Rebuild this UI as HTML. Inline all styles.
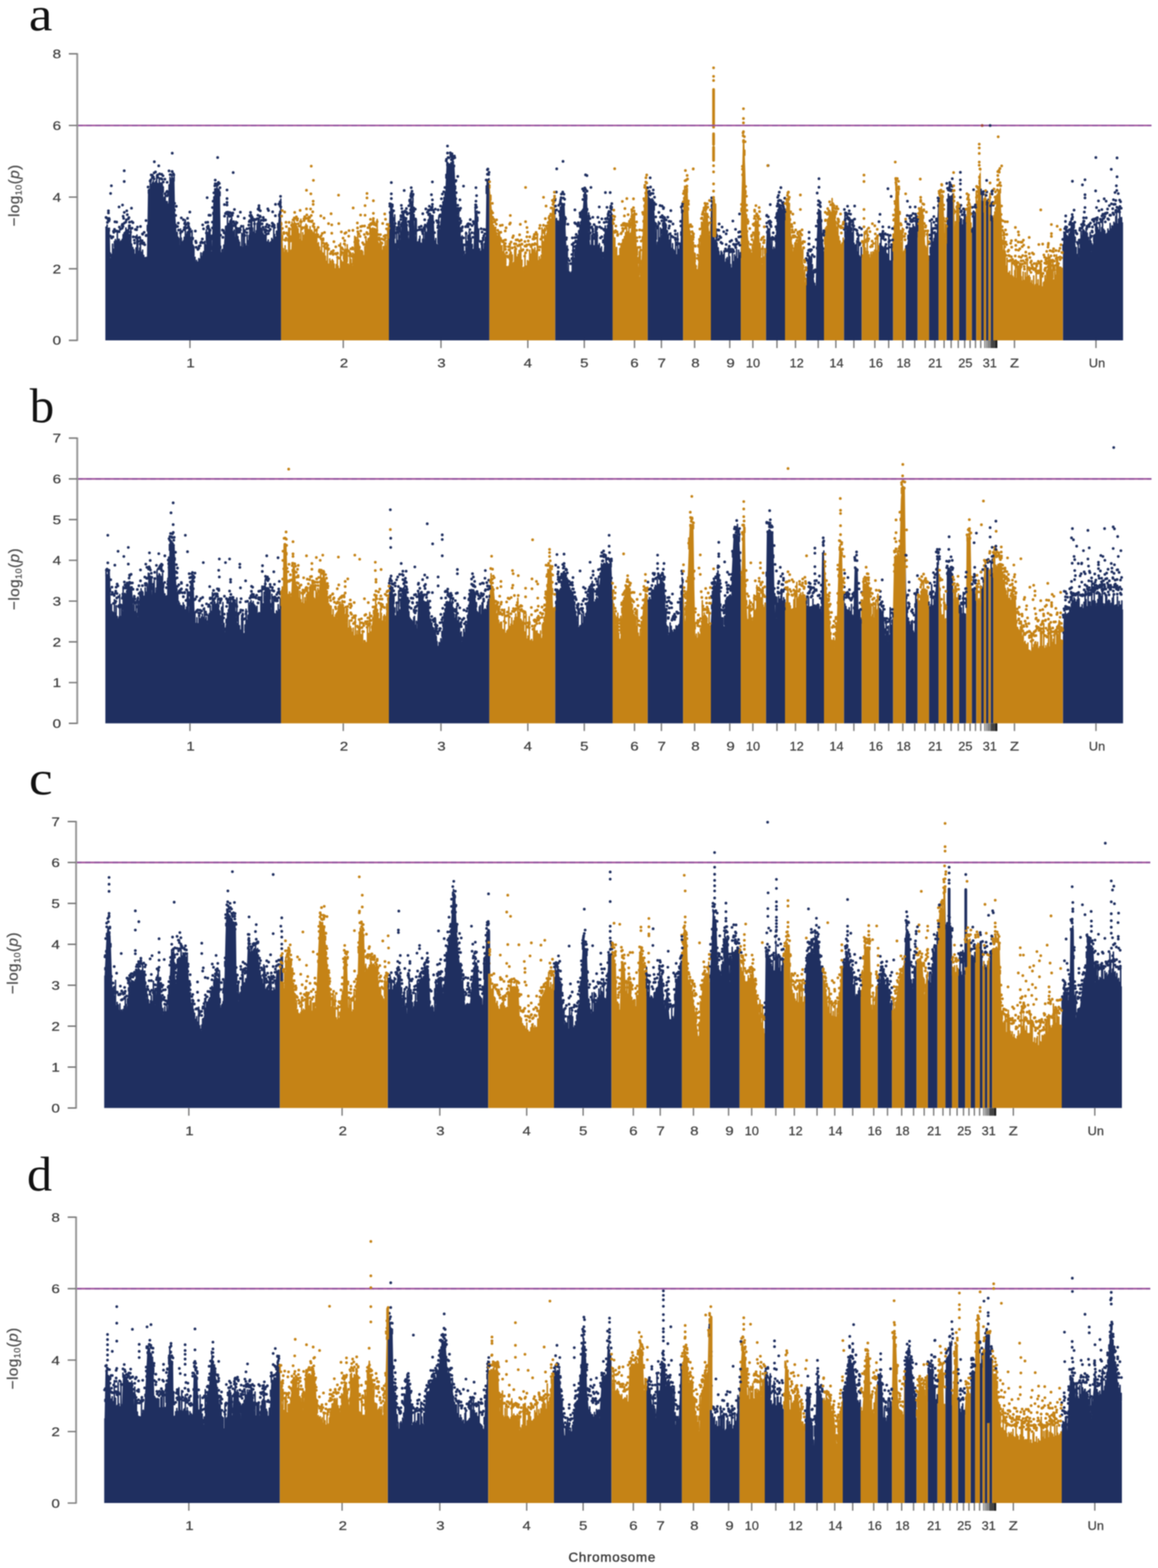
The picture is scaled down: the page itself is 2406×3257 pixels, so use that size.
<!DOCTYPE html>
<html><head><meta charset="utf-8"><title>Manhattan plots</title>
<style>
html,body{margin:0;padding:0;background:#fff;width:2406px;height:3257px;overflow:hidden}
svg{display:block;filter:blur(0.9px)}
.t{font-family:"Liberation Sans","DejaVu Sans",sans-serif;font-size:26.5px;fill:#3c3c3c;stroke:#3c3c3c;stroke-width:0.4px}
.yl{font-family:"Liberation Sans","DejaVu Sans",sans-serif;font-size:32px;fill:#4a4a4a;letter-spacing:0.8px;stroke:#4a4a4a;stroke-width:0.4px}
.xl{font-family:"Liberation Sans","DejaVu Sans",sans-serif;font-size:28px;fill:#383838;letter-spacing:1.4px;stroke:#383838;stroke-width:0.7px}
.L{font-family:"Liberation Serif","DejaVu Serif",serif;font-size:95px;fill:#111}
</style></head><body>
<svg width="2406" height="3257" viewBox="0 0 2406 3257">
<rect width="2406" height="3257" fill="#fff"/>
<path d="M218.9 707.0L218.9 471.1L219.2 471.1L228.0 478.7L229.3 536.3L234.6 523.0L240.0 502.8L247.9 506.8L253.3 504.4L257.3 487.0L266.6 476.5L271.9 505.1L279.9 531.0L287.9 528.4L293.2 536.3L305.2 536.3L307.3 403.2L311.9 387.2L315.9 380.5L338.5 384.4L341.2 435.1L349.2 428.3L352.3 373.9L362.5 373.9L363.8 440.4L367.8 496.2L373.1 515.0L381.1 504.4L391.8 480.4L399.8 516.6L407.7 549.7L418.4 536.1L426.4 521.7L431.7 480.4L439.7 523.0L442.9 424.5L446.4 395.2L457.0 395.2L458.9 523.0L463.7 531.0L467.7 475.1L479.7 459.1L487.7 492.9L495.6 509.7L506.3 517.7L514.3 515.0L522.3 471.2L530.3 494.9L538.3 453.8L546.2 492.5L554.2 517.7L562.2 509.7L572.9 493.4L577.7 467.1L579.8 440.4L583.5 440.4L583.9 446.3L583.9 707.0ZM808.0 707.0L808.0 483.4L809.1 440.4L817.1 440.4L821.1 509.7L826.4 523.0L831.8 494.8L835.8 451.1L845.1 453.4L849.1 496.4L852.5 419.1L858.9 419.1L861.1 473.0L866.4 509.7L874.4 515.0L882.4 509.7L887.7 473.0L891.7 445.8L901.0 449.0L903.7 509.7L909.0 509.7L914.3 467.1L918.3 427.1L925.0 403.2L927.7 341.9L944.2 341.9L946.3 387.2L950.3 440.4L955.6 467.1L959.6 509.7L964.9 536.3L970.3 509.7L974.3 479.2L979.6 502.8L983.6 523.0L986.2 440.4L992.1 440.4L995.6 523.0L999.6 536.3L1004.9 523.0L1008.9 503.1L1010.8 373.9L1016.3 373.9L1016.8 378.9L1016.8 707.0ZM1153.4 707.0L1153.4 434.2L1154.6 453.8L1159.9 468.4L1165.8 421.8L1173.2 424.5L1175.9 493.7L1179.9 563.0L1186.5 576.3L1191.9 546.8L1197.2 507.0L1205.2 467.1L1210.5 440.4L1213.2 403.2L1219.8 413.8L1222.5 469.8L1226.5 509.7L1234.5 523.0L1242.5 510.9L1247.8 523.0L1253.1 536.3L1257.1 489.1L1263.8 461.7L1269.1 445.8L1272.3 445.8L1272.9 453.3L1272.9 707.0ZM1345.5 707.0L1345.5 391.3L1349.0 413.8L1358.3 416.5L1361.0 460.2L1365.0 509.7L1373.0 496.4L1377.8 459.6L1383.6 468.7L1387.6 485.9L1391.6 510.9L1399.6 523.0L1407.6 536.3L1412.9 531.0L1416.1 440.4L1418.8 437.8L1419.2 432.2L1419.2 707.0ZM1477.0 707.0L1477.0 434.6L1477.4 427.1L1479.5 427.1L1486.2 506.3L1495.5 535.6L1506.2 549.7L1516.8 549.7L1520.0 557.7L1528.0 549.7L1536.0 531.9L1538.6 533.3L1539.1 493.6L1539.1 707.0ZM1591.4 707.0L1591.4 516.9L1593.2 477.7L1599.9 475.1L1603.9 523.0L1609.2 528.4L1613.2 471.1L1617.2 427.1L1621.2 424.5L1626.5 440.4L1630.5 456.0L1631.0 452.0L1631.0 707.0ZM1675.0 707.0L1675.0 586.1L1677.1 556.3L1679.8 528.3L1686.5 543.7L1690.5 576.3L1694.5 602.9L1697.1 493.7L1699.8 435.1L1706.4 440.4L1709.1 493.7L1711.8 523.0L1712.0 520.4L1712.0 707.0ZM1753.4 707.0L1753.4 502.5L1758.4 475.7L1767.7 464.4L1771.7 494.0L1775.7 510.9L1781.0 523.0L1786.3 536.3L1790.1 531.0L1790.4 531.4L1790.4 707.0ZM1825.8 707.0L1825.8 519.2L1829.0 515.1L1836.9 518.7L1842.3 541.7L1850.3 544.3L1855.1 536.3L1855.6 522.3L1855.6 707.0ZM1881.7 707.0L1881.7 519.9L1884.9 507.7L1888.9 475.9L1898.2 476.4L1904.9 491.1L1906.6 476.0L1906.6 707.0ZM1930.2 707.0L1930.2 539.8L1934.2 515.0L1940.8 502.1L1946.2 482.8L1949.3 419.1L1950.1 416.8L1950.1 707.0ZM1966.6 707.0L1966.6 480.8L1968.0 416.1L1980.3 407.1L1980.3 707.0ZM1993.0 707.0L1993.0 456.8L1993.3 456.4L1996.7 469.8L1998.6 477.7L2006.6 460.4L2007.6 461.0L2007.6 707.0ZM2019.2 707.0L2019.2 479.6L2019.9 483.1L2025.2 461.8L2028.3 440.5L2028.3 707.0ZM2038.4 707.0L2038.4 395.6L2038.8 416.1L2043.6 425.0L2043.9 429.9L2043.9 707.0ZM2048.6 707.0L2048.6 431.2L2049.2 422.0L2053.5 422.0L2053.7 428.1L2053.7 707.0ZM2058.5 707.0L2058.5 449.5L2059.1 456.4L2063.8 456.4L2063.8 707.0ZM2208.4 707.0L2208.4 535.4L2209.5 480.4L2219.7 493.7L2226.3 461.7L2231.6 467.1L2235.6 523.0L2241.0 536.3L2246.3 500.0L2251.6 475.4L2256.9 492.8L2262.3 496.4L2267.6 523.0L2272.9 496.4L2278.3 469.9L2283.6 483.0L2288.9 483.1L2296.9 488.4L2304.9 480.4L2312.9 470.8L2320.9 466.9L2328.9 461.8L2333.4 461.8L2333.4 461.8L2333.4 707.0Z" fill="#1f2f60"/>
<path d="M583.9 707.0L583.9 446.3L588.9 525.7L604.8 525.7L607.5 467.1L615.5 467.1L626.2 509.7L636.8 468.1L640.0 476.8L648.0 481.6L656.0 494.6L664.0 517.3L672.0 534.1L680.0 547.0L693.3 557.7L703.9 563.0L711.9 549.5L717.2 508.6L722.6 549.7L730.6 563.0L738.5 509.9L743.9 488.4L749.2 521.9L757.2 536.3L765.2 503.3L770.5 475.1L781.2 479.8L786.5 523.0L794.5 536.3L802.5 511.9L807.8 491.1L808.0 483.4L808.0 707.0ZM1016.8 707.0L1016.8 378.9L1024.9 467.9L1031.5 482.4L1039.5 509.9L1047.5 536.3L1055.5 563.0L1060.8 516.4L1066.2 549.7L1076.8 530.6L1080.0 530.3L1088.0 563.0L1096.0 549.7L1104.0 529.4L1114.6 530.7L1120.0 549.7L1126.6 521.5L1133.3 497.9L1141.3 467.4L1147.9 440.4L1153.0 427.1L1153.4 434.2L1153.4 707.0ZM1272.9 707.0L1272.9 453.3L1278.4 523.0L1285.1 536.3L1293.1 504.0L1301.1 483.2L1309.1 494.9L1313.8 448.4L1319.7 451.1L1323.7 523.0L1329.0 576.3L1333.0 536.3L1337.0 440.4L1341.0 392.5L1345.3 389.8L1345.5 391.3L1345.5 707.0ZM1419.2 707.0L1419.2 432.2L1421.7 397.8L1428.9 397.8L1431.6 467.1L1436.9 493.7L1442.2 531.0L1448.9 563.0L1452.9 523.0L1458.2 467.1L1463.5 445.8L1470.2 445.8L1474.2 489.2L1477.0 434.6L1477.0 707.0ZM1539.1 707.0L1539.1 493.6L1539.7 440.4L1541.8 360.5L1543.4 294.0L1546.6 294.0L1548.8 360.5L1550.6 440.4L1553.3 481.5L1557.3 523.0L1560.0 536.3L1565.3 507.8L1569.3 456.4L1575.9 467.1L1579.9 523.0L1583.9 549.7L1589.2 523.0L1591.1 523.0L1591.4 516.9L1591.4 707.0ZM1631.0 707.0L1631.0 452.0L1634.5 421.8L1641.2 427.1L1643.8 487.5L1647.8 523.0L1655.8 510.3L1661.2 493.7L1665.2 499.0L1669.2 549.7L1673.1 589.6L1674.7 589.6L1675.0 586.1L1675.0 707.0ZM1712.0 707.0L1712.0 520.4L1715.8 477.7L1722.4 451.1L1730.4 435.1L1735.7 452.0L1741.1 489.5L1746.4 509.7L1753.1 504.4L1753.4 502.5L1753.4 707.0ZM1790.4 707.0L1790.4 531.4L1794.3 536.3L1802.3 519.0L1810.3 549.7L1815.6 531.0L1823.6 522.3L1825.5 519.6L1825.8 519.2L1825.8 707.0ZM1855.6 707.0L1855.6 522.3L1857.7 467.1L1860.9 392.5L1867.6 403.2L1870.2 483.4L1874.2 525.7L1880.9 523.0L1881.7 519.9L1881.7 707.0ZM1906.6 707.0L1906.6 476.0L1908.9 456.4L1912.9 429.8L1918.2 440.4L1922.2 506.7L1927.5 536.3L1929.9 541.7L1930.2 539.8L1930.2 707.0ZM1950.1 707.0L1950.1 416.8L1952.8 408.5L1959.5 408.5L1960.0 405.8L1962.6 483.1L1966.1 504.4L1966.6 480.8L1966.6 707.0ZM1980.3 707.0L1980.3 407.1L1982.1 405.8L1983.9 469.8L1993.0 456.8L1993.0 707.0ZM2007.6 707.0L2007.6 461.0L2007.9 461.2L2011.9 432.5L2017.2 469.8L2019.2 479.6L2019.2 707.0ZM2028.3 707.0L2028.3 440.5L2029.2 434.1L2037.5 349.9L2038.4 395.6L2038.4 707.0ZM2043.9 707.0L2043.9 429.9L2044.4 438.3L2048.1 438.3L2048.6 431.2L2048.6 707.0ZM2053.7 707.0L2053.7 428.1L2054.3 442.4L2058.0 443.1L2058.5 449.5L2058.5 707.0ZM2063.8 707.0L2063.8 456.4L2064.9 456.4L2070.5 419.1L2073.2 395.2L2078.5 397.8L2082.5 493.7L2086.5 543.3L2094.5 568.3L2105.1 576.3L2115.8 584.3L2126.4 584.3L2139.8 589.6L2153.1 597.6L2166.4 600.3L2174.4 589.6L2179.7 561.9L2185.0 560.3L2190.4 589.6L2198.4 576.3L2203.7 558.1L2207.9 557.5L2208.4 535.4L2208.4 707.0Z" fill="#c58316"/>
<path d="M220.4 471.6V474.1M222.6 467.3V476.0M224.8 474.3V478.0M227.2 473.8V480.1M229.2 525.4V532.9M231.5 528.7V532.8M233.9 507.2V526.9M236.0 517.4V520.0M237.8 501.6V512.9M239.9 497.5V504.9M242.3 500.5V505.9M243.8 482.3V506.7M246.1 497.1V507.8M247.8 497.1V508.7M249.3 502.3V508.1M251.6 500.4V507.1M253.9 497.1V503.7M255.8 487.3V495.2M257.9 483.5V488.3M259.9 481.5V486.0M261.6 473.4V484.1M264.0 477.3V481.4M265.8 477.4V479.4M267.4 468.2V483.0M269.3 487.1V493.1M271.7 475.8V505.8M273.5 506.8V512.3M276.0 514.1V520.4M278.3 518.6V528.0M280.7 528.4V532.7M282.6 514.8V532.1M284.6 488.0V531.4M286.2 494.3V530.9M288.7 521.9V531.5M290.3 515.0V533.9M291.8 495.1V536.2M294.3 523.8V538.3M296.3 519.5V538.3M298.6 530.6V538.3M300.2 535.1V538.3M302.5 535.1V538.3M304.3 534.5V538.3M306.1 468.2V479.6M308.4 394.7V401.4M310.1 393.0V395.2M312.2 379.0V388.6M314.3 382.9V385.2M316.4 379.5V382.6M318.6 375.7V383.0M321.0 380.1V383.4M323.4 376.8V383.8M325.5 363.6V384.1M327.1 380.8V384.4M329.1 381.7V384.8M330.9 369.1V385.1M333.1 380.1V385.4M335.4 380.5V385.8M337.0 378.7V386.1M339.2 388.0V399.0M341.3 409.9V437.0M343.3 402.3V435.3M345.6 418.7V433.4M347.2 418.8V432.0M349.2 424.1V430.0M351.3 383.8V394.3M353.2 368.4V375.9M355.0 373.8V375.9M357.3 364.7V375.9M359.4 371.8V375.9M361.7 367.1V375.9M363.7 435.2V437.8M366.0 466.4V472.5M368.1 482.5V499.4M370.0 492.6V506.0M371.8 495.2V512.3M373.6 510.4V516.4M375.1 475.6V514.3M376.8 494.4V512.1M378.9 502.4V509.3M381.2 499.8V506.2M382.8 492.8V502.6M385.1 456.5V497.4M387.1 486.9V492.9M388.9 481.9V488.8M390.8 480.7V484.7M392.4 473.5V485.3M394.7 483.3V495.9M397.0 495.4V506.0M399.1 478.8V515.7M401.0 509.2V523.6M402.9 512.2V531.6M405.1 534.3V540.9M406.7 543.8V547.3M408.3 540.9V550.9M410.6 544.6V548.0M413.0 537.2V545.0M415.1 538.6V542.3M417.3 525.2V539.5M419.3 532.9V536.5M421.1 525.7V533.2M422.9 522.7V529.9M425.4 501.4V525.5M427.0 507.9V518.7M428.9 477.3V504.3M430.6 488.4V491.3M432.3 483.1V485.7M434.0 476.4V494.6M436.4 477.1V507.2M438.6 490.2V519.1M440.6 488.6V497.3M442.3 441.7V445.2M444.3 408.9V414.3M446.3 392.2V398.2M448.5 391.8V397.2M450.9 384.8V397.2M453.1 392.5V397.2M455.2 393.8V397.2M457.2 398.5V406.5M458.7 511.4V515.7M461.2 518.7V528.9M463.3 518.1V532.3M464.9 509.4V516.4M467.0 482.4V485.9M468.7 470.2V475.8M471.1 469.1V472.5M472.7 450.4V470.4M475.0 464.3V467.3M477.5 459.0V464.0M479.3 455.9V461.6M481.4 452.2V468.6M483.0 465.7V475.3M484.9 481.4V483.5M486.8 477.6V491.2M488.3 493.2V496.3M490.2 459.5V500.3M492.1 477.3V504.2M494.3 491.3V508.8M495.8 498.5V511.8M497.8 503.1V513.3M500.0 512.5V515.0M502.3 484.5V516.7M504.3 514.2V518.2M505.8 468.6V519.3M507.8 482.9V519.2M509.4 506.5V518.7M511.2 511.0V518.1M513.5 487.9V517.3M516.0 499.9V507.9M517.5 488.9V499.3M519.1 474.9V490.8M521.3 445.0V478.7M523.1 446.5V475.7M524.8 473.4V480.7M526.3 482.4V485.2M528.7 454.4V492.2M530.7 485.3V494.7M532.5 479.0V485.2M534.2 463.7V476.6M536.4 454.9V465.3M538.5 450.7V456.8M541.0 459.6V468.9M542.8 474.0V478.0M545.1 476.2V489.1M546.9 485.7V496.6M549.0 488.2V503.1M550.9 488.7V509.1M552.7 483.7V514.9M555.0 502.5V518.9M557.5 498.6V516.4M559.8 504.4V514.1M562.1 502.3V511.9M564.5 495.0V508.2M566.4 498.2V505.3M568.8 464.5V501.6M570.5 487.0V499.0M572.8 492.6V495.5M574.4 480.1V487.3M576.8 464.2V473.6M579.3 444.8V449.4M581.3 438.9V442.4M583.3 413.7V442.4M809.5 440.0V442.4M811.9 431.3V442.4M813.5 434.6V442.4M815.9 435.6V442.4M818.0 452.3V457.9M820.1 446.3V494.8M821.8 506.5V513.5M824.1 471.3V519.2M826.1 499.9V524.1M828.3 461.5V515.0M829.9 489.5V506.6M832.0 465.7V493.8M834.2 462.0V470.4M836.6 445.1V453.3M839.0 444.2V453.9M841.2 450.9V454.4M842.8 452.5V454.8M844.8 452.2V455.3M846.3 466.6V468.7M848.1 481.6V488.1M850.3 459.1V470.9M851.8 434.6V437.2M853.9 410.9V421.1M855.6 419.0V421.1M857.9 410.7V421.1M860.4 445.6V457.2M862.7 458.5V486.3M865.0 456.5V502.2M866.6 503.2V511.8M868.9 502.0V513.4M870.8 497.1V514.6M872.4 490.7V515.7M874.8 505.1V516.8M876.4 510.7V515.7M878.0 496.9V514.6M880.0 484.9V513.3M881.8 497.8V512.1M883.6 471.2V503.0M885.4 482.6V491.1M887.8 463.1V474.3M889.7 456.4V461.3M891.7 442.9V447.8M894.1 443.4V448.6M895.8 447.1V449.2M897.4 447.1V449.8M899.7 447.6V450.6M901.6 460.3V463.3M903.8 500.6V511.7M905.4 495.3V511.7M907.7 507.8V511.7M909.9 478.8V504.5M911.6 450.8V491.3M914.0 469.3V472.1M916.2 446.6V450.6M918.1 428.5V431.6M920.2 419.0V422.3M922.4 410.1V414.4M924.6 398.8V406.5M926.5 362.4V369.8M928.6 336.1V343.9M930.6 338.1V343.9M933.1 340.7V343.9M934.8 341.1V343.9M936.8 337.8V343.9M938.4 337.9V343.9M940.0 330.2V343.9M941.9 335.1V343.9M944.3 343.4V346.1M946.6 386.4V392.8M948.2 411.7V414.1M950.6 435.9V444.0M953.0 442.8V456.0M955.3 464.3V467.3M956.9 473.1V482.6M958.6 492.8V501.2M960.3 489.8V515.0M962.6 507.0V526.6M964.8 522.4V537.8M966.4 529.0V531.3M968.1 482.2V522.5M970.5 501.0V509.6M972.3 488.8V496.0M974.8 480.6V483.5M977.1 485.5V493.9M979.1 494.8V502.7M981.3 507.7V513.3M983.1 518.2V522.5M984.8 482.7V486.1M987.3 433.3V442.4M989.3 439.0V442.4M991.2 438.2V442.4M992.8 451.0V459.6M994.5 478.8V500.4M996.4 516.7V527.9M998.5 522.1V534.8M1000.7 509.4V535.6M1002.4 505.2V531.3M1004.6 518.0V525.8M1006.1 505.9V519.1M1008.3 493.2V508.2M1010.4 386.2V401.7M1012.0 373.5V375.9M1013.8 372.5V375.9M1016.0 371.1V375.9M1153.9 435.7V443.9M1156.3 453.8V460.7M1158.8 458.9V467.5M1160.7 460.0V464.0M1162.6 439.7V448.7M1164.3 430.3V435.7M1166.3 421.2V424.0M1168.6 422.6V424.8M1171.0 423.3V425.7M1172.7 422.8V426.3M1174.8 458.4V467.1M1177.1 515.0V517.0M1178.7 510.7V545.4M1180.9 546.7V567.0M1183.3 564.8V571.9M1185.5 567.4V576.3M1187.5 564.5V572.9M1189.1 534.5V564.3M1190.6 503.8V555.6M1192.5 535.5V544.1M1194.1 518.9V531.8M1196.0 509.6V518.2M1198.1 502.4V504.5M1200.2 489.4V494.2M1202.3 479.2V483.7M1204.6 467.0V472.2M1206.4 460.8V463.2M1208.3 438.2V453.7M1210.7 434.9V439.8M1212.9 404.1V408.8M1214.9 399.0V407.9M1216.6 398.9V410.6M1218.9 405.1V414.4M1220.8 433.4V436.8M1223.2 442.1V479.2M1225.1 462.3V497.7M1227.2 509.9V512.9M1229.2 488.4V516.3M1231.7 484.1V520.3M1233.4 510.5V523.3M1235.2 510.5V524.0M1236.9 468.6V521.4M1238.9 476.7V518.4M1240.8 482.7V515.5M1243.0 509.9V514.2M1245.4 505.9V519.7M1247.3 516.5V523.8M1249.7 512.9V529.9M1251.3 524.7V533.8M1253.5 524.3V533.7M1255.7 487.5V508.5M1257.6 469.0V489.0M1260.1 475.9V478.8M1262.1 468.3V470.6M1263.8 459.7V463.7M1265.5 454.0V458.7M1267.5 448.4V452.5M1269.9 440.3V447.8M1271.6 444.6V447.8M1346.8 397.3V401.3M1348.6 410.9V413.0M1350.9 413.2V416.4M1352.9 414.3V416.9M1355.0 412.6V417.5M1357.2 415.3V418.2M1359.4 424.3V436.5M1361.6 462.0V470.1M1363.8 464.2V496.9M1366.2 503.2V509.7M1368.1 460.0V506.6M1370.5 494.1V502.5M1372.3 473.6V499.5M1374.8 476.3V484.5M1376.8 463.4V468.9M1379.1 454.6V463.6M1380.6 458.7V466.0M1382.5 463.4V469.0M1384.2 466.6V473.3M1386.6 478.8V483.4M1388.8 486.9V495.2M1390.3 498.3V504.8M1391.9 502.5V513.3M1393.5 483.9V515.8M1395.1 515.9V518.3M1397.5 506.2V521.8M1399.7 518.6V525.2M1402.1 521.4V529.2M1403.7 498.3V531.8M1405.7 529.5V535.2M1408.0 483.9V537.9M1410.5 518.0V535.4M1412.5 508.3V533.5M1414.5 481.8V488.7M1416.4 434.3V442.1M1418.7 436.8V439.8M1478.0 426.7V429.1M1480.3 434.4V437.9M1482.5 455.0V464.3M1484.4 482.9V486.6M1486.1 499.2V507.2M1488.2 475.5V514.6M1489.7 504.4V519.5M1492.2 514.7V527.2M1493.7 522.4V532.1M1496.0 530.8V538.3M1498.3 521.5V541.4M1500.1 524.6V543.7M1502.3 529.7V546.6M1504.7 524.6V549.7M1506.6 545.1V551.7M1508.9 537.8V551.7M1510.9 534.9V551.7M1512.8 540.7V551.7M1514.4 510.5V551.7M1516.1 533.1V551.7M1517.8 549.3V554.1M1519.9 556.9V559.4M1521.9 516.3V557.7M1524.0 543.7V555.7M1526.2 529.0V553.4M1528.0 533.3V551.7M1530.4 518.1V546.3M1532.8 537.6V541.0M1534.6 519.7V537.0M1536.1 531.0V534.0M1538.1 524.7V535.0M1593.1 480.8V483.8M1595.3 473.9V478.9M1597.1 475.9V478.2M1599.4 475.0V477.3M1601.6 494.2V497.8M1603.9 495.1V524.6M1606.3 518.5V527.4M1607.8 513.5V529.0M1609.5 517.7V527.1M1611.2 489.3V501.7M1612.9 473.4V477.9M1614.4 448.4V460.1M1616.2 435.7V439.9M1617.8 425.8V428.7M1619.9 424.5V427.3M1621.9 425.5V428.5M1623.9 431.4V434.6M1626.0 437.3V440.7M1628.1 418.8V448.4M1630.2 438.3V456.7M1676.1 570.2V573.2M1678.2 542.1V547.4M1679.7 529.5V531.7M1682.0 531.5V535.4M1684.2 534.3V540.5M1686.3 530.9V545.3M1687.9 549.6V557.1M1690.2 560.3V575.9M1692.6 588.7V592.7M1694.2 594.7V603.1M1696.6 513.8V516.8M1698.6 456.8V463.0M1700.6 434.8V437.7M1702.7 436.5V439.5M1704.9 438.5V441.2M1707.3 456.7V460.3M1709.6 498.0V501.0M1711.1 515.2V517.6M1753.6 500.4V503.4M1755.7 441.7V492.0M1757.3 481.3V483.6M1758.8 463.0V477.2M1760.9 470.1V474.6M1763.2 463.1V471.8M1764.8 455.7V470.0M1767.0 456.2V467.3M1769.4 473.2V479.1M1771.3 483.1V493.2M1772.9 455.5V501.0M1774.4 504.9V507.6M1776.7 508.9V515.2M1778.5 508.3V519.4M1780.1 499.6V522.8M1781.7 523.5V526.8M1783.7 489.1V531.6M1785.6 531.3V536.5M1787.7 534.4V536.5M1789.5 513.9V533.8M1826.8 515.6V519.9M1828.3 506.0V518.0M1830.4 494.5V517.7M1832.4 511.7V518.6M1834.1 513.0V519.4M1836.1 514.8V520.3M1838.2 511.4V526.0M1840.4 511.3V535.7M1842.4 526.5V543.7M1844.3 528.6V544.4M1846.7 491.1V545.1M1848.4 541.8V545.7M1850.2 542.3V546.3M1852.5 509.1V542.6M1854.1 508.8V540.0M1882.2 510.9V520.1M1884.2 509.7V512.4M1886.5 488.9V496.6M1888.3 480.2V482.7M1889.9 472.0V478.0M1891.5 474.4V478.0M1893.7 473.4V478.1M1895.7 473.3V478.2M1897.2 466.1V478.3M1899.6 470.9V481.4M1901.5 473.0V485.6M1903.2 443.5V489.3M1904.8 476.3V492.8M1906.4 448.9V479.7M1930.5 531.8V540.2M1932.7 514.0V526.1M1935.0 462.4V515.5M1936.8 480.7V511.9M1939.1 502.6V507.4M1940.9 495.4V503.9M1942.7 481.0V497.2M1944.9 484.7V489.3M1946.7 469.8V473.8M1948.9 425.9V429.1M1968.0 413.9V418.0M1970.4 403.1V416.3M1972.5 407.7V414.8M1974.2 411.0V413.5M1975.9 407.2V412.3M1977.4 406.9V411.2M1979.5 402.9V409.7M1994.2 448.9V461.9M1995.9 455.0V468.7M1997.7 454.2V475.9M1999.8 467.7V477.2M2001.8 456.7V472.7M2003.7 433.2V468.6M2005.8 445.5V464.0M2019.3 476.0V481.9M2020.9 473.3V481.2M2022.8 438.3V473.6M2024.7 450.5V465.7M2026.4 441.7V455.9M2038.5 393.0V403.7M2040.8 405.0V421.8M2042.7 418.9V425.3M2049.1 419.4V425.6M2050.8 416.7V424.0M2053.2 413.6V424.0M2059.0 423.4V458.0M2061.2 448.9V458.4M2063.3 452.9V458.4M2208.8 508.3V519.6M2210.7 481.8V483.9M2212.9 482.8V486.8M2214.4 476.8V488.8M2216.8 489.2V491.9M2219.3 491.4V495.2M2221.0 486.1V489.2M2223.2 475.3V478.8M2225.4 454.7V468.2M2227.9 462.9V465.3M2229.9 463.0V467.3M2232.0 460.9V473.3M2234.0 492.6V502.4M2236.0 514.1V525.9M2238.0 528.5V531.0M2240.3 503.0V536.8M2242.5 516.3V527.7M2244.6 496.5V513.7M2246.1 479.5V503.2M2248.1 489.0V493.8M2249.6 478.9V486.7M2251.1 477.2V479.7M2253.1 479.5V482.1M2255.3 482.6V489.3M2257.0 474.7V494.8M2259.0 484.3V496.2M2261.5 493.0V497.9M2263.3 500.6V503.4M2265.0 483.0V511.9M2266.7 500.5V520.7M2268.4 506.0V521.2M2270.1 509.8V512.6M2272.3 488.8V501.6M2274.3 487.6V491.4M2276.6 465.3V480.3M2278.4 461.1V472.2M2280.7 472.6V477.9M2282.9 477.9V483.2M2285.0 465.9V485.0M2287.0 482.8V485.1M2289.0 472.7V485.1M2290.8 453.2V486.3M2293.1 476.1V487.9M2295.5 479.2V489.5M2297.4 486.9V489.9M2299.8 484.8V487.5M2301.9 475.6V485.4M2304.2 479.9V483.1M2306.6 464.2V480.3M2308.6 475.8V478.0M2310.4 469.2V475.8M2312.6 470.0V473.2M2314.2 461.6V472.2M2316.5 464.4V471.0M2318.3 449.7V470.2M2320.0 435.1V469.3M2321.6 465.4V468.4M2324.1 455.1V466.9M2326.4 433.2V465.3M2328.5 452.3V464.0M2330.3 451.9V463.8" fill="none" stroke="#1f2f60" stroke-width="3.2" stroke-linecap="round"/>
<path d="M585.1 462.6V467.8M587.1 489.0V499.0M588.7 516.6V524.7M590.2 524.6V527.7M592.3 510.3V527.7M594.1 521.9V527.7M595.6 519.6V527.7M597.9 525.2V527.7M599.8 473.7V527.7M601.6 473.7V527.7M603.2 521.0V527.7M604.9 519.5V527.0M606.7 460.9V487.4M609.1 464.8V469.1M611.4 454.9V469.1M613.6 463.6V469.1M615.6 464.3V469.6M617.2 470.5V475.8M619.4 475.1V484.6M621.6 485.7V493.6M623.3 497.0V500.4M625.1 455.0V507.3M626.9 501.1V508.7M629.0 483.1V500.5M631.4 489.2V491.2M633.8 469.8V481.9M635.8 465.5V474.2M638.3 468.6V474.1M640.7 476.5V479.3M642.6 478.1V480.4M644.3 470.6V481.4M646.0 478.5V482.5M647.6 478.3V483.4M649.2 481.6V485.6M651.1 484.2V488.7M653.2 472.8V492.2M655.6 486.0V496.1M658.1 475.5V502.5M660.0 506.0V508.2M661.7 504.2V512.8M664.0 513.1V519.5M666.2 521.2V524.1M668.2 499.7V528.3M670.4 525.0V532.8M672.2 527.1V536.5M674.1 504.9V539.5M676.1 532.2V542.8M678.1 542.8V546.0M680.3 514.9V549.2M682.7 548.9V551.2M685.0 537.6V553.0M687.1 542.2V554.7M688.6 550.7V555.9M690.4 539.3V557.3M692.4 542.0V559.0M694.3 548.6V560.2M696.6 558.7V561.3M698.6 549.3V562.3M700.9 533.9V563.5M702.5 552.9V564.3M705.0 558.1V563.2M707.5 505.0V559.0M709.3 541.0V555.9M711.6 544.7V552.1M713.7 528.9V537.8M715.3 519.1V525.5M717.2 506.1V510.6M719.5 518.2V528.2M721.5 508.3V543.2M723.5 548.3V553.2M725.1 551.4V555.9M727.1 523.6V559.2M729.0 538.8V562.4M731.0 547.8V562.2M733.1 525.4V548.0M735.2 527.8V534.1M737.0 490.8V521.9M739.3 498.0V508.8M741.0 498.0V502.0M743.3 483.5V492.8M745.6 498.8V501.2M747.8 512.1V515.4M750.3 520.2V525.9M751.9 520.3V528.8M753.6 522.7V531.8M755.6 531.0V535.5M758.0 512.7V535.0M760.3 496.6V525.5M762.8 501.6V515.2M764.7 495.8V507.5M766.7 494.6V497.1M768.6 470.8V486.9M770.2 474.2V478.7M772.1 475.1V477.8M774.6 473.3V478.9M776.7 475.1V479.8M778.2 474.6V480.5M779.8 475.0V481.2M781.9 482.2V487.8M783.7 455.5V502.1M785.6 503.0V518.0M787.5 506.3V526.8M789.9 500.7V530.8M792.4 502.5V534.9M794.7 520.1V537.7M796.3 512.2V532.7M798.4 512.2V526.3M800.2 494.2V520.7M802.0 511.2V515.3M803.8 499.4V508.8M805.7 479.7V501.3M807.4 467.8V494.6M1017.7 384.4V390.5M1019.9 405.5V415.5M1022.3 437.4V441.5M1024.3 460.7V463.3M1025.8 468.0V471.9M1028.2 472.4V477.2M1029.8 471.8V480.6M1032.0 483.3V486.0M1034.2 490.0V493.5M1036.1 480.5V500.0M1037.7 481.6V505.6M1039.3 501.4V511.2M1041.0 511.2V516.9M1042.7 510.4V522.5M1044.8 523.1V529.4M1046.9 498.0V536.2M1048.8 527.5V542.7M1050.8 529.8V549.2M1053.1 553.5V557.0M1054.7 556.5V562.2M1056.4 553.3V557.0M1058.5 528.2V539.1M1060.0 509.5V525.9M1062.3 524.0V527.7M1064.5 529.7V541.4M1067.0 545.3V550.2M1069.3 518.7V546.1M1071.8 519.3V541.6M1074.0 533.8V537.7M1076.5 528.6V533.3M1078.8 520.0V532.4M1080.5 527.4V534.4M1082.1 513.8V540.7M1084.5 540.4V550.9M1086.3 556.0V558.1M1088.7 554.9V563.8M1090.8 525.6V560.4M1092.4 553.2V557.6M1094.2 552.5V554.6M1095.9 541.0V551.9M1098.1 543.0V546.2M1100.4 519.6V540.4M1102.8 527.8V534.3M1105.1 515.7V531.6M1107.6 518.1V531.8M1109.4 520.4V532.1M1111.2 514.7V532.3M1113.4 525.9V532.6M1114.9 520.9V533.7M1116.5 485.7V539.5M1118.6 541.5V546.7M1120.7 533.3V548.4M1122.3 539.3V541.7M1124.4 530.1V532.8M1126.2 473.4V525.2M1128.4 501.5V517.3M1130.1 506.6V511.2M1131.6 473.5V505.8M1134.1 489.7V496.8M1135.9 485.3V490.0M1137.5 477.2V483.8M1139.7 471.5V475.4M1141.7 454.9V467.8M1143.5 457.3V460.3M1146.0 444.3V450.2M1148.2 430.8V441.8M1150.1 434.6V436.7M1151.8 426.5V432.2M1273.5 458.5V462.9M1275.1 480.9V483.5M1277.4 494.2V512.4M1279.6 514.4V527.5M1281.2 514.1V530.6M1283.6 531.8V535.4M1286.1 530.7V534.4M1287.9 516.2V526.8M1290.2 506.6V517.7M1292.3 505.1V509.1M1293.8 497.9V504.1M1295.7 496.9V499.2M1297.4 491.4V494.9M1299.6 483.0V488.9M1302.1 473.4V486.7M1304.4 481.7V490.1M1306.8 459.6V493.6M1308.4 488.0V495.9M1310.1 484.4V486.5M1312.5 440.7V463.2M1314.0 446.0V450.5M1316.3 443.6V451.6M1318.5 441.4V452.6M1320.6 467.1V469.8M1322.4 499.3V501.3M1324.2 515.8V529.7M1325.8 535.0V546.3M1328.3 522.6V571.0M1330.3 518.5V565.5M1332.2 541.5V546.8M1334.6 491.7V500.6M1336.2 458.2V461.1M1338.1 426.2V430.0M1340.4 399.8V402.3M1342.2 388.1V393.8M1344.3 388.4V392.4M1420.7 410.4V414.3M1422.5 386.8V399.8M1424.5 393.7V399.8M1426.3 392.9V399.8M1428.0 391.1V399.8M1430.3 431.6V436.2M1432.2 467.2V472.4M1434.3 480.5V482.9M1436.7 489.0V494.7M1438.5 498.4V506.8M1440.7 503.0V522.1M1442.3 524.8V533.4M1444.5 526.8V543.9M1446.7 552.0V554.6M1448.9 560.6V565.0M1451.3 533.2V541.3M1452.9 496.4V525.2M1455.2 489.5V501.0M1457.6 461.4V475.7M1459.3 462.6V464.9M1460.9 456.2V458.2M1462.9 441.9V450.2M1464.8 444.0V447.8M1466.6 431.7V447.8M1468.6 443.3V447.8M1470.3 443.9V449.2M1472.1 462.7V468.1M1474.5 481.6V485.0M1476.1 452.9V455.0M1539.8 432.6V439.0M1541.8 361.9V364.3M1543.9 290.6V296.0M1545.9 290.4V296.0M1547.5 312.2V322.4M1549.7 396.1V402.5M1551.3 445.8V452.3M1553.2 479.3V481.7M1555.4 501.5V505.7M1557.4 516.7V525.5M1559.6 519.0V536.6M1561.4 525.9V530.7M1563.1 508.2V521.3M1565.3 500.3V509.0M1566.9 483.4V489.5M1568.9 460.5V462.8M1570.8 454.4V460.9M1573.0 460.3V464.3M1575.2 456.3V468.0M1577.2 482.0V487.2M1579.3 505.3V515.9M1580.8 517.0V530.9M1583.1 536.2V545.9M1584.9 510.9V547.0M1586.4 534.4V539.0M1588.9 516.3V527.0M1590.9 516.9V525.0M1632.4 436.4V442.4M1634.2 417.7V426.3M1636.2 421.2V425.1M1637.7 409.8V426.4M1640.1 422.7V428.3M1642.4 454.5V457.5M1644.7 492.5V497.0M1646.8 509.2V515.6M1649.3 515.3V522.8M1651.4 504.7V519.4M1653.6 502.0V515.9M1655.2 505.3V513.3M1657.6 503.4V506.9M1659.2 497.5V501.9M1661.4 492.6V496.1M1663.5 492.7V498.8M1665.6 503.5V506.6M1668.0 517.9V536.5M1669.6 551.2V556.4M1672.0 559.9V580.1M1674.4 578.0V591.6M1713.3 491.9V507.1M1715.1 473.8V487.0M1717.3 470.5V473.4M1719.3 455.9V465.5M1721.3 453.3V457.7M1723.1 443.3V451.7M1724.7 438.8V448.5M1726.5 441.3V445.0M1728.9 412.4V440.1M1731.0 431.3V439.1M1733.5 437.3V446.9M1735.5 442.7V453.1M1737.1 460.0V463.3M1738.8 472.2V475.5M1740.9 454.7V490.2M1742.9 491.1V498.5M1745.3 500.7V507.6M1747.3 508.1V511.0M1749.7 504.5V509.1M1752.0 494.5V507.2M1791.9 529.5V535.3M1794.3 510.0V538.3M1796.0 481.5V534.6M1797.9 515.0V530.5M1800.3 522.3V525.4M1801.9 475.1V522.0M1803.6 522.6V525.7M1806.0 528.8V535.0M1808.2 536.0V543.5M1809.7 523.8V549.4M1811.7 529.5V546.8M1813.4 523.1V540.9M1815.3 524.9V534.2M1817.1 519.7V531.4M1819.6 500.7V528.7M1821.8 520.9V526.3M1823.7 492.4V524.2M1825.3 510.5V522.0M1855.7 486.1V521.2M1857.4 469.8V477.6M1859.1 434.3V437.4M1861.5 382.6V395.4M1863.4 391.3V398.4M1865.0 398.8V401.1M1867.2 395.9V404.5M1869.6 463.6V465.8M1871.6 478.3V500.0M1873.1 503.7V516.1M1874.8 473.5V527.5M1876.8 524.7V526.7M1878.3 521.5V526.1M1880.4 517.3V525.2M1908.0 462.7V465.7M1910.2 436.1V449.5M1912.3 432.8V435.5M1914.7 429.1V435.4M1917.1 436.1V440.2M1918.9 447.4V453.6M1921.1 479.1V490.9M1923.3 511.4V514.9M1925.5 515.0V527.4M1927.3 483.2V537.0M1928.9 532.4V541.5M1951.4 411.8V414.7M1953.8 400.4V410.5M1955.7 408.5V410.5M1957.5 404.1V410.5M1959.6 406.8V409.9M1961.7 452.2V456.7M1964.0 464.4V493.4M1966.0 467.1V505.5M1981.5 402.4V408.3M1983.1 434.5V444.0M1985.4 460.4V469.7M1987.9 427.1V466.2M1989.9 422.7V463.2M1992.0 425.0V460.3M2008.2 450.6V460.9M2010.0 438.5V448.4M2011.6 429.8V436.7M2013.3 433.2V444.0M2015.7 423.8V461.1M2017.5 463.1V473.2M2028.5 396.8V441.3M2030.2 418.1V426.6M2032.4 394.3V404.0M2034.5 374.2V382.6M2036.3 361.4V363.6M2044.7 412.5V440.3M2047.0 402.5V440.3M2055.0 422.5V444.6M2056.9 401.5V444.9M2064.9 447.9V458.4M2066.8 440.2V446.1M2068.3 431.9V435.8M2070.2 419.0V423.0M2072.0 404.2V408.1M2073.7 394.3V397.4M2076.1 395.1V398.6M2078.5 391.9V400.6M2080.9 455.2V458.1M2083.1 498.6V502.9M2084.9 520.7V525.9M2086.4 497.1V544.7M2088.5 521.6V551.6M2090.5 552.8V558.0M2092.4 535.9V563.9M2094.3 566.8V569.8M2096.1 567.7V571.5M2097.8 563.5V572.8M2100.1 572.1V574.5M2102.2 537.7V576.1M2104.3 573.6V577.7M2106.4 576.9V579.3M2108.4 561.8V580.8M2110.0 539.8V581.9M2112.0 578.5V583.5M2113.6 551.5V584.6M2115.2 568.2V585.9M2116.8 552.3V586.3M2118.3 547.6V586.3M2120.4 546.9V586.3M2122.0 574.5V586.3M2123.6 584.2V586.3M2125.8 564.8V586.3M2127.7 582.5V586.8M2130.2 566.1V587.8M2132.2 576.2V588.6M2134.2 535.4V589.4M2136.6 574.1V590.3M2138.4 572.0V591.1M2140.1 576.3V591.8M2142.1 588.1V593.0M2143.9 582.8V594.1M2146.0 591.0V595.4M2147.7 573.1V596.4M2149.5 595.2V597.5M2151.2 591.3V598.5M2153.0 545.6V599.6M2154.8 590.4V599.9M2156.9 581.0V600.4M2159.1 594.0V600.8M2161.2 547.2V601.2M2163.4 547.7V601.7M2165.6 596.1V602.1M2167.9 587.2V600.3M2169.6 585.4V597.9M2171.3 572.4V595.7M2173.1 580.4V593.3M2174.7 564.6V589.7M2176.4 560.5V581.1M2178.1 528.1V572.4M2179.7 540.5V563.9M2182.2 544.8V563.1M2183.8 539.4V562.6M2185.8 560.8V566.3M2187.7 541.4V576.8M2189.8 581.7V588.5M2191.5 565.4V589.8M2193.5 571.8V586.4M2195.3 529.4V583.4M2197.4 534.6V579.9M2199.1 551.6V575.9M2201.5 554.9V567.6M2204.0 554.9V560.1M2206.4 557.2V559.7" fill="none" stroke="#c58316" stroke-width="3.2" stroke-linecap="round"/>
<path d="M220.3 451.6h0M223.2 462.0h0M221.6 452.7h0M224.9 456.8h0M226.3 458.9h0M227.2 455.8h0M226.6 453.7h0M229.3 490.3h0M232.0 494.3h0M234.6 492.0h0M235.8 480.3h0M236.4 482.6h0M237.9 476.5h0M236.9 479.6h0M238.8 460.7h0M240.9 480.1h0M242.4 461.2h0M242.4 479.9h0M245.2 480.7h0M247.5 481.2h0M248.0 471.6h0M250.0 476.0h0M250.7 475.7h0M253.6 468.5h0M253.9 473.9h0M254.3 465.9h0M255.6 470.6h0M255.1 467.0h0M256.9 453.6h0M258.3 463.3h0M258.2 441.1h0M261.3 461.3h0M262.6 456.7h0M264.5 445.9h0M266.7 454.4h0M269.2 468.9h0M269.6 473.6h0M269.0 461.4h0M271.3 482.2h0M274.4 473.9h0M273.9 460.3h0M276.8 492.0h0M276.2 462.4h0M279.1 498.8h0M279.8 504.8h0M281.3 476.6h0M282.0 492.3h0M283.4 493.9h0M285.2 501.5h0M283.8 477.2h0M287.2 501.4h0M285.6 501.2h0M285.5 471.6h0M288.6 493.7h0M291.2 506.8h0M290.2 493.2h0M292.1 499.4h0M293.8 501.6h0M293.8 505.2h0M295.3 499.8h0M296.0 485.9h0M295.9 504.8h0M298.8 504.3h0M297.7 506.4h0M298.7 504.8h0M300.8 508.3h0M299.5 482.6h0M303.5 489.4h0M303.9 488.7h0M303.4 458.1h0M307.7 388.4h0M311.9 375.8h0M312.5 376.5h0M313.5 373.6h0M314.1 363.3h0M316.4 368.8h0M318.5 369.2h0M318.7 367.7h0M320.1 371.6h0M320.3 359.1h0M323.1 357.2h0M327.6 368.5h0M327.6 363.5h0M329.8 344.4h0M331.6 361.2h0M334.7 370.9h0M336.6 372.2h0M336.0 362.2h0M336.1 362.1h0M339.2 377.9h0M338.7 365.1h0M342.9 402.4h0M342.6 372.2h0M347.2 406.8h0M346.2 398.6h0M349.5 399.8h0M348.9 398.2h0M348.7 404.9h0M351.2 354.9h0M353.4 362.8h0M354.8 362.9h0M357.5 356.2h0M360.3 361.2h0M361.2 363.3h0M362.8 422.3h0M365.0 447.4h0M366.3 428.5h0M368.9 470.5h0M368.8 470.5h0M370.4 463.3h0M371.1 477.9h0M375.0 483.9h0M376.7 452.6h0M378.2 480.9h0M382.2 477.2h0M383.6 464.7h0M383.2 472.4h0M385.8 473.4h0M384.3 462.4h0M387.7 473.4h0M386.5 466.4h0M389.7 453.5h0M390.6 463.1h0M392.7 473.0h0M391.7 469.9h0M395.4 481.1h0M394.0 478.4h0M395.0 476.1h0M398.2 494.2h0M400.1 496.3h0M400.4 494.6h0M405.9 479.9h0M407.7 513.7h0M406.6 501.0h0M407.5 504.1h0M411.1 516.7h0M411.2 518.1h0M413.1 515.6h0M413.6 511.3h0M416.0 510.2h0M417.0 504.3h0M418.4 502.5h0M421.6 504.2h0M420.4 496.4h0M422.9 475.3h0M427.6 462.1h0M428.8 484.0h0M431.4 474.0h0M431.0 473.1h0M430.7 471.7h0M432.4 469.3h0M433.0 471.9h0M434.7 476.5h0M434.2 447.0h0M436.5 478.5h0M439.1 490.2h0M441.2 461.3h0M441.3 473.4h0M441.5 431.1h0M442.8 417.9h0M444.4 400.6h0M446.3 385.9h0M447.2 381.7h0M447.2 374.1h0M449.4 384.3h0M451.5 381.7h0M452.4 384.0h0M452.2 382.2h0M453.9 378.8h0M455.7 381.1h0M457.1 389.8h0M458.3 488.5h0M462.2 478.0h0M464.2 479.0h0M463.1 493.0h0M465.5 483.5h0M466.6 448.9h0M466.3 424.9h0M468.5 443.3h0M471.2 442.0h0M470.8 441.1h0M473.6 440.7h0M472.5 444.7h0M474.8 445.7h0M475.1 447.9h0M477.3 449.5h0M477.0 442.4h0M477.4 441.4h0M479.7 442.5h0M478.9 448.7h0M481.1 447.8h0M481.0 447.9h0M482.5 446.9h0M483.8 442.5h0M485.2 461.7h0M485.3 460.5h0M486.5 468.9h0M487.3 464.7h0M487.9 466.8h0M487.6 467.0h0M490.6 473.4h0M489.9 465.4h0M492.3 462.6h0M494.3 474.9h0M494.5 449.4h0M495.7 482.7h0M495.4 479.8h0M498.1 482.1h0M498.5 474.3h0M499.3 477.6h0M499.4 440.7h0M501.6 470.0h0M504.6 488.3h0M508.0 478.6h0M507.6 453.2h0M508.4 480.7h0M508.7 489.0h0M513.0 475.4h0M512.9 483.1h0M516.9 467.4h0M518.1 474.2h0M517.8 460.4h0M519.0 458.1h0M521.0 449.2h0M520.5 441.2h0M523.0 451.4h0M523.7 452.9h0M525.7 457.3h0M524.0 451.1h0M526.7 455.5h0M527.3 457.4h0M528.9 465.0h0M531.7 456.0h0M534.8 454.1h0M535.9 447.1h0M536.2 434.4h0M538.0 431.7h0M538.1 427.1h0M538.7 436.2h0M540.9 450.4h0M540.3 449.0h0M543.0 457.5h0M544.6 465.0h0M546.4 472.0h0M547.0 451.7h0M547.7 458.0h0M549.2 476.7h0M548.1 456.1h0M550.9 482.5h0M550.6 478.9h0M551.8 457.0h0M552.4 477.5h0M553.4 486.4h0M552.3 471.2h0M554.5 479.3h0M554.7 466.2h0M557.8 472.1h0M557.5 485.2h0M557.9 437.2h0M559.3 468.5h0M559.2 479.5h0M561.6 476.3h0M565.7 463.5h0M565.5 470.0h0M566.5 439.9h0M567.9 466.9h0M569.8 467.8h0M570.3 472.6h0M572.2 448.2h0M572.4 424.4h0M579.2 423.9h0M582.0 428.2h0M581.9 419.2h0M583.4 429.8h0M582.9 407.8h0M810.0 423.2h0M810.0 428.3h0M812.7 424.2h0M815.1 428.8h0M815.2 425.6h0M817.9 437.8h0M819.7 470.5h0M822.5 483.8h0M821.1 464.2h0M824.9 476.1h0M825.9 482.5h0M825.3 474.6h0M827.8 471.9h0M828.2 464.8h0M829.1 461.2h0M829.1 480.2h0M829.5 474.5h0M832.8 456.1h0M833.0 448.0h0M834.8 433.1h0M833.2 450.3h0M835.9 441.1h0M835.9 439.8h0M839.8 440.7h0M838.4 440.9h0M841.2 438.4h0M843.2 439.4h0M843.7 441.0h0M845.0 441.1h0M844.4 433.2h0M846.2 444.9h0M848.9 460.4h0M849.4 427.4h0M851.0 442.8h0M852.6 422.4h0M851.2 417.5h0M851.3 415.3h0M853.4 407.4h0M853.7 405.5h0M855.0 408.8h0M856.0 397.2h0M857.2 405.9h0M857.4 406.4h0M858.3 403.4h0M859.7 439.2h0M859.7 437.0h0M859.5 432.0h0M863.4 454.8h0M862.7 455.5h0M862.8 434.4h0M866.3 478.4h0M871.0 477.2h0M871.0 471.8h0M875.2 470.0h0M875.3 476.3h0M876.9 477.3h0M877.4 480.9h0M875.5 476.9h0M878.5 485.4h0M878.3 480.1h0M880.6 476.5h0M880.8 473.7h0M879.0 480.9h0M880.8 474.8h0M883.4 467.4h0M885.4 469.7h0M884.8 434.0h0M888.0 440.9h0M890.6 445.9h0M890.2 436.4h0M890.4 437.8h0M892.7 436.1h0M892.1 428.4h0M894.2 435.2h0M896.6 435.7h0M896.4 404.4h0M896.5 431.6h0M896.6 436.1h0M898.0 429.8h0M897.4 431.3h0M900.5 436.3h0M901.4 440.8h0M902.9 483.2h0M904.6 434.3h0M907.2 458.3h0M909.2 462.3h0M910.3 468.9h0M909.6 472.8h0M911.4 461.4h0M914.8 446.3h0M913.3 448.2h0M913.5 449.7h0M917.1 435.6h0M915.4 427.9h0M917.1 412.8h0M922.0 398.3h0M924.5 389.5h0M927.1 334.0h0M927.7 331.0h0M931.1 327.2h0M932.9 327.5h0M935.6 317.3h0M936.6 321.8h0M937.4 324.6h0M937.9 331.7h0M938.8 331.2h0M939.1 327.4h0M939.2 322.5h0M939.1 319.3h0M942.8 326.2h0M945.0 327.6h0M944.1 324.2h0M947.4 374.8h0M946.7 376.6h0M947.8 400.2h0M951.5 432.6h0M951.2 426.3h0M952.2 440.5h0M952.5 437.7h0M955.5 453.9h0M955.0 436.6h0M956.1 461.8h0M956.9 462.9h0M957.6 459.0h0M959.8 473.5h0M959.6 479.2h0M963.3 494.1h0M965.7 508.6h0M968.5 485.0h0M967.5 471.0h0M970.2 469.3h0M971.4 466.1h0M973.0 464.7h0M972.0 468.3h0M972.5 471.0h0M976.4 476.8h0M977.1 456.2h0M980.3 483.3h0M980.8 468.6h0M982.6 492.8h0M983.2 460.2h0M984.6 464.7h0M988.1 430.8h0M988.2 425.5h0M989.5 431.0h0M988.8 426.4h0M990.2 430.3h0M993.6 476.8h0M994.9 441.4h0M997.7 501.4h0M1001.6 482.1h0M1000.9 506.6h0M1001.5 501.6h0M1003.9 498.3h0M1003.7 494.5h0M1005.3 489.7h0M1005.2 476.4h0M1007.7 477.2h0M1007.3 485.6h0M1010.2 373.8h0M1012.7 362.0h0M1012.7 352.6h0M1013.1 352.0h0M1016.1 357.8h0M1015.3 362.5h0M1154.4 428.0h0M1153.1 415.9h0M1153.5 413.3h0M1156.5 436.1h0M1155.9 398.9h0M1161.7 439.1h0M1160.9 426.4h0M1163.4 423.4h0M1164.3 419.2h0M1164.9 415.0h0M1165.8 410.7h0M1166.3 403.2h0M1169.2 398.8h0M1170.7 411.4h0M1173.2 413.8h0M1171.8 403.3h0M1175.3 454.5h0M1174.1 451.5h0M1176.4 497.3h0M1177.0 493.8h0M1179.0 519.0h0M1180.1 537.1h0M1183.1 541.6h0M1185.7 547.7h0M1188.2 528.6h0M1188.2 537.2h0M1189.2 494.1h0M1191.0 520.5h0M1191.6 505.3h0M1191.5 519.3h0M1193.3 512.1h0M1194.2 462.8h0M1196.5 500.3h0M1195.3 502.9h0M1197.6 493.1h0M1200.4 469.3h0M1199.5 466.5h0M1201.6 462.7h0M1201.8 466.0h0M1202.0 464.8h0M1205.5 450.3h0M1205.6 445.5h0M1208.2 441.4h0M1209.2 440.4h0M1211.2 414.3h0M1213.8 391.4h0M1212.8 396.6h0M1215.1 390.5h0M1216.6 393.3h0M1219.7 396.9h0M1219.5 364.7h0M1223.4 453.7h0M1223.6 449.0h0M1225.8 465.4h0M1225.9 453.9h0M1226.5 483.9h0M1228.2 472.5h0M1229.7 471.3h0M1231.4 476.0h0M1231.7 451.3h0M1234.2 486.8h0M1234.6 495.4h0M1235.0 493.8h0M1234.3 466.5h0M1237.5 493.8h0M1236.2 489.6h0M1239.8 473.0h0M1239.5 491.1h0M1239.2 476.2h0M1239.9 489.1h0M1240.2 471.6h0M1242.2 451.4h0M1246.1 471.4h0M1247.5 494.2h0M1250.3 491.8h0M1249.6 473.7h0M1253.4 502.9h0M1253.9 476.1h0M1253.5 499.6h0M1255.9 478.3h0M1255.3 462.1h0M1255.9 477.9h0M1258.0 454.5h0M1259.7 461.0h0M1262.0 452.9h0M1262.2 454.8h0M1263.5 444.8h0M1263.7 447.5h0M1265.9 447.5h0M1265.4 439.1h0M1264.5 442.0h0M1267.4 440.2h0M1270.5 435.1h0M1269.1 428.5h0M1271.2 422.9h0M1270.7 430.5h0M1346.0 389.9h0M1349.1 397.2h0M1350.6 404.9h0M1350.2 403.1h0M1352.6 402.2h0M1354.2 401.8h0M1356.9 401.8h0M1357.3 394.6h0M1359.9 409.7h0M1358.9 420.8h0M1362.5 450.6h0M1362.5 424.4h0M1366.6 470.1h0M1365.5 473.5h0M1370.2 464.2h0M1372.3 451.0h0M1371.5 427.0h0M1375.1 458.6h0M1375.6 428.0h0M1376.7 452.3h0M1375.8 448.0h0M1378.5 450.6h0M1378.8 431.2h0M1380.9 452.2h0M1382.6 456.3h0M1384.1 456.9h0M1387.5 451.1h0M1389.8 474.1h0M1390.2 459.7h0M1390.9 469.2h0M1391.5 485.9h0M1393.7 460.2h0M1393.8 437.5h0M1395.5 490.7h0M1398.4 492.5h0M1403.0 494.5h0M1402.8 479.4h0M1403.3 497.5h0M1403.4 486.5h0M1406.0 508.1h0M1405.3 505.0h0M1407.8 497.1h0M1410.0 506.2h0M1411.9 506.2h0M1414.8 469.2h0M1414.2 459.7h0M1417.3 428.0h0M1415.5 430.1h0M1418.2 423.0h0M1477.2 417.2h0M1478.8 411.0h0M1479.9 425.5h0M1481.2 420.1h0M1480.2 419.3h0M1483.3 450.1h0M1482.0 446.0h0M1482.5 435.5h0M1483.7 450.7h0M1485.3 484.4h0M1488.5 487.9h0M1489.0 492.0h0M1489.3 489.1h0M1491.9 497.9h0M1493.5 478.2h0M1494.2 465.2h0M1493.3 496.9h0M1497.7 493.3h0M1497.9 503.5h0M1500.3 505.6h0M1505.2 522.1h0M1503.7 481.3h0M1507.3 517.1h0M1509.2 521.2h0M1510.5 520.9h0M1510.6 478.6h0M1515.2 511.4h0M1513.6 517.4h0M1516.5 523.3h0M1515.3 523.1h0M1517.4 522.9h0M1517.9 517.5h0M1519.9 522.7h0M1520.1 499.4h0M1524.1 507.5h0M1524.5 522.7h0M1523.3 519.1h0M1528.8 514.2h0M1528.2 476.3h0M1528.3 507.9h0M1529.9 507.4h0M1529.5 496.8h0M1534.2 505.6h0M1535.0 504.1h0M1534.8 482.4h0M1535.2 492.2h0M1537.1 481.4h0M1537.2 509.3h0M1538.3 491.4h0M1593.2 470.6h0M1593.0 448.3h0M1597.3 460.2h0M1596.4 450.3h0M1599.6 459.0h0M1599.3 465.0h0M1602.0 470.7h0M1601.2 467.8h0M1601.7 461.3h0M1604.8 492.8h0M1606.6 483.6h0M1607.0 494.2h0M1607.2 496.9h0M1609.3 496.2h0M1612.2 471.0h0M1613.7 450.2h0M1611.9 452.1h0M1614.1 445.5h0M1614.6 443.0h0M1614.6 428.0h0M1616.2 423.0h0M1617.3 417.2h0M1617.5 405.8h0M1619.7 416.0h0M1622.5 416.8h0M1625.6 426.9h0M1625.8 421.2h0M1628.0 435.2h0M1628.0 429.9h0M1630.7 440.0h0M1629.6 434.6h0M1675.1 537.1h0M1676.7 540.5h0M1678.4 530.5h0M1678.3 525.8h0M1680.1 519.9h0M1680.3 506.8h0M1681.6 519.2h0M1683.0 518.7h0M1683.8 521.5h0M1683.5 520.9h0M1686.1 518.6h0M1687.8 529.5h0M1690.6 513.1h0M1692.7 565.2h0M1691.8 533.1h0M1694.1 560.5h0M1693.4 564.4h0M1695.8 497.7h0M1695.9 469.6h0M1699.5 442.9h0M1700.1 425.4h0M1700.5 417.1h0M1703.4 427.0h0M1704.7 429.3h0M1704.2 420.9h0M1709.0 486.9h0M1711.7 488.7h0M1712.0 480.3h0M1711.8 483.1h0M1753.8 476.0h0M1755.8 457.7h0M1756.1 455.9h0M1756.4 442.1h0M1759.3 446.8h0M1758.2 442.6h0M1760.3 452.9h0M1761.4 451.1h0M1761.0 428.3h0M1762.9 455.5h0M1763.8 452.7h0M1763.8 443.8h0M1767.3 444.8h0M1769.8 458.1h0M1769.4 460.6h0M1771.9 468.5h0M1771.5 466.7h0M1773.9 469.3h0M1775.9 476.2h0M1779.3 477.6h0M1782.0 487.5h0M1782.4 495.9h0M1781.3 484.7h0M1783.1 502.6h0M1784.3 489.0h0M1786.0 508.6h0M1786.0 472.7h0M1786.7 505.5h0M1790.0 488.3h0M1790.0 475.3h0M1828.3 486.6h0M1832.7 492.4h0M1834.9 495.4h0M1834.6 480.4h0M1833.3 484.9h0M1835.5 492.1h0M1835.2 487.7h0M1838.4 497.9h0M1838.9 485.5h0M1840.9 507.6h0M1840.0 486.5h0M1843.2 516.1h0M1847.5 513.6h0M1847.0 502.4h0M1848.9 499.6h0M1849.6 488.8h0M1852.2 508.1h0M1852.0 513.1h0M1854.4 474.7h0M1854.5 498.4h0M1882.0 460.3h0M1884.4 472.5h0M1885.8 465.2h0M1889.2 466.2h0M1890.5 453.4h0M1889.3 448.6h0M1892.1 459.2h0M1890.9 430.1h0M1893.8 460.3h0M1893.8 457.0h0M1893.2 447.8h0M1896.0 459.6h0M1896.5 459.1h0M1896.3 456.2h0M1897.1 443.6h0M1898.7 453.3h0M1901.8 459.0h0M1901.8 444.7h0M1901.6 429.8h0M1902.8 452.5h0M1905.6 459.9h0M1904.0 449.8h0M1905.8 455.6h0M1906.7 454.7h0M1930.7 505.9h0M1933.3 495.5h0M1932.0 488.1h0M1932.2 458.6h0M1936.0 477.7h0M1936.2 455.9h0M1937.4 482.5h0M1939.8 483.8h0M1939.1 474.5h0M1938.8 474.8h0M1943.1 474.0h0M1944.8 474.3h0M1945.8 458.9h0M1944.2 467.6h0M1945.7 454.7h0M1949.8 417.5h0M1949.9 412.1h0M1948.9 411.1h0M1968.7 391.1h0M1967.1 380.9h0M1970.4 394.6h0M1972.4 392.3h0M1972.9 388.6h0M1973.8 395.9h0M1973.8 383.7h0M1975.7 394.5h0M1975.5 384.0h0M1977.0 396.7h0M1977.8 394.9h0M1993.3 433.7h0M1994.0 430.8h0M1996.4 440.2h0M1996.5 426.3h0M1997.4 438.2h0M1999.0 446.2h0M2000.0 446.0h0M2001.7 433.8h0M2003.4 440.7h0M2006.5 435.1h0M2018.4 444.0h0M2021.8 449.5h0M2020.1 430.7h0M2023.1 440.8h0M2022.8 394.1h0M2024.8 429.6h0M2026.5 425.6h0M2027.1 430.7h0M2041.7 399.1h0M2043.4 398.0h0M2042.6 403.4h0M2049.0 405.8h0M2050.0 374.7h0M2050.2 398.7h0M2058.4 427.5h0M2060.8 397.8h0M2062.1 395.8h0M2061.1 422.2h0M2063.9 426.2h0M2062.4 420.4h0M2208.2 497.2h0M2212.3 475.1h0M2213.3 473.4h0M2213.7 460.0h0M2215.0 473.9h0M2214.1 471.5h0M2216.1 478.8h0M2216.3 471.6h0M2218.6 480.3h0M2218.6 481.4h0M2221.4 477.4h0M2222.2 466.1h0M2223.7 461.7h0M2227.1 454.0h0M2228.6 450.8h0M2227.7 445.6h0M2233.2 461.6h0M2234.6 479.1h0M2235.8 483.3h0M2238.3 503.3h0M2237.6 485.7h0M2239.8 506.2h0M2241.2 503.9h0M2242.2 498.6h0M2243.4 478.1h0M2243.9 474.2h0M2247.1 474.1h0M2247.1 466.3h0M2247.9 474.3h0M2251.5 452.4h0M2250.8 463.1h0M2252.6 467.2h0M2252.3 459.5h0M2257.5 475.5h0M2258.5 469.8h0M2258.5 472.2h0M2262.4 466.9h0M2263.2 470.5h0M2263.0 466.6h0M2265.7 463.3h0M2266.2 492.5h0M2267.9 490.3h0M2269.0 480.0h0M2269.5 482.0h0M2269.8 471.5h0M2269.8 456.5h0M2271.8 455.3h0M2272.8 458.9h0M2272.9 460.0h0M2273.8 455.2h0M2274.6 466.4h0M2278.6 453.2h0M2279.1 457.0h0M2280.1 452.2h0M2283.4 437.6h0M2282.9 463.1h0M2287.9 460.7h0M2287.6 457.2h0M2289.5 448.6h0M2289.3 435.3h0M2290.1 457.2h0M2291.0 447.0h0M2291.5 444.8h0M2293.3 453.7h0M2295.3 450.1h0M2295.4 444.2h0M2296.5 460.8h0M2297.2 442.9h0M2300.4 442.1h0M2301.8 454.5h0M2301.2 434.2h0M2303.4 455.8h0M2306.1 447.0h0M2309.3 423.3h0M2311.9 433.4h0M2312.4 442.5h0M2314.2 445.5h0M2313.5 414.8h0M2316.9 424.2h0M2316.7 399.8h0M2318.3 436.9h0M2320.6 430.3h0M2321.3 439.5h0M2323.5 431.9h0M2324.9 436.8h0M2323.5 402.1h0M2326.9 428.8h0M2326.3 415.6h0M2327.7 432.6h0M2328.2 419.0h0M2329.5 432.4h0M231.4 385.8h0M229.8 401.8h0M258.1 354.7h0M258.1 377.0h0M225.3 437.8h0M225.3 442.3h0M247.4 429.8h0M254.6 425.8h0M263.4 437.8h0M273.2 432.4h0M255.9 449.2h0M267.9 451.9h0M291.9 470.5h0M296.4 486.5h0M320.7 336.0h0M316.4 364.0h0M357.9 318.2h0M357.9 356.5h0M357.9 371.2h0M347.3 378.6h0M347.3 397.3h0M452.2 327.2h0M484.5 358.4h0M471.7 394.6h0M471.7 412.5h0M471.7 420.5h0M471.7 425.8h0M430.4 410.6h0M394.4 440.4h0M487.1 435.1h0M519.1 447.9h0M540.9 437.8h0M556.4 433.8h0M582.5 420.5h0M582.5 448.4h0M381.1 456.4h0M391.8 464.4h0M421.1 467.1h0M431.7 461.7h0M437.0 447.1h0M813.1 379.2h0M813.1 402.6h0M813.1 412.5h0M813.1 425.8h0M813.1 432.4h0M839.8 395.7h0M833.9 426.6h0M854.4 389.8h0M854.4 401.8h0M898.4 377.8h0M898.4 415.1h0M898.4 424.5h0M878.4 443.9h0M890.4 437.8h0M910.3 435.9h0M919.1 403.1h0M929.8 303.3h0M929.8 317.9h0M941.0 329.9h0M951.1 366.4h0M963.1 386.6h0M955.6 415.1h0M956.9 432.4h0M988.9 389.8h0M990.2 406.3h0M988.9 417.8h0M988.9 425.8h0M1013.7 351.2h0M976.9 465.7h0M999.6 475.1h0M882.4 456.4h0M882.4 471.1h0M954.3 455.1h0M960.9 471.1h0M1156.7 350.7h0M1169.8 335.2h0M1216.6 363.2h0M1210.5 392.5h0M1227.8 389.3h0M1257.9 400.0h0M1267.8 400.0h0M1245.1 429.8h0M1261.1 430.6h0M1268.6 431.9h0M1194.5 435.9h0M1205.2 442.3h0M1195.9 464.4h0M1179.9 465.7h0M1250.5 454.6h0M1245.1 461.7h0M1239.8 473.7h0M1231.8 480.4h0M1197.2 487.0h0M1194.5 493.7h0M1188.7 507.8h0M1350.9 369.3h0M1351.7 388.5h0M1378.3 433.2h0M1369.0 441.2h0M1398.3 465.2h0M1500.3 471.6h0M1491.5 477.7h0M1508.8 485.7h0M1495.5 491.0h0M1516.8 501.7h0M1508.8 507.8h0M1595.9 343.8h0M1593.2 447.1h0M1593.2 463.1h0M1885.4 417.8h0M1828.4 445.2h0M1826.3 460.4h0M1754.4 435.1h0M1522.7 459.1h0M1536.5 444.4h0M1530.7 500.4h0M1527.5 510.5h0M1600.4 425.0h0M1622.5 389.8h0M1619.1 399.2h0M1615.9 409.8h0M1630.5 411.7h0M1701.6 371.2h0M1701.6 389.0h0M1697.9 401.0h0M1701.6 417.8h0M1681.1 482.5h0M1681.1 495.0h0M1681.1 507.0h0M1711.8 479.1h0M1775.7 427.9h0M1764.5 437.8h0M1775.7 455.1h0M1765.0 455.1h0M1780.5 479.1h0M1844.9 392.0h0M1851.6 407.9h0M1834.3 471.1h0M1847.1 471.9h0M1830.3 489.7h0M1844.4 487.6h0M1839.6 497.7h0M1884.9 447.6h0M1940.3 431.6h0M1940.3 449.8h0M1940.3 461.7h0M1995.4 357.9h0M1995.4 373.8h0M1995.4 381.8h0M1995.4 393.8h0M1995.4 409.8h0M2061.2 403.1h0M2276.9 327.2h0M2320.9 328.0h0M2308.9 351.7h0M2320.9 367.2h0M2228.2 376.5h0M2254.3 373.3h0M2249.0 384.0h0M2319.5 385.8h0M2320.3 395.7h0M2276.4 396.5h0M2254.3 404.5h0M2254.3 411.1h0M2282.3 417.3h0M2294.2 413.0h0M2298.2 417.8h0M2318.2 416.5h0M2314.2 424.5h0M2304.9 427.1h0M2278.3 431.1h0M2254.3 431.1h0M2231.6 436.4h0M2253.0 440.4h0M2214.3 448.4h0M2227.7 455.1h0M2256.9 452.4h0M2251.6 459.1h0M2276.9 453.8h0M2286.2 455.1h0M2296.9 444.4h0M2307.6 447.1h0M2318.2 440.4h0M2326.2 440.4h0M2214.3 471.1h0M2227.7 471.1h0M2249.0 471.1h0M1978.6 371.2h0M1973.3 379.2h0M1978.6 387.2h0M1622.4 389.6h0" fill="none" stroke="#1f2f60" stroke-width="5.8" stroke-linecap="round"/>
<path d="M585.1 448.9h0M586.7 474.5h0M586.4 437.4h0M589.7 482.8h0M589.7 485.3h0M593.2 499.0h0M591.9 498.5h0M594.5 494.8h0M595.0 470.7h0M595.4 484.0h0M598.6 488.2h0M598.2 487.3h0M599.1 499.6h0M599.3 497.9h0M600.7 494.6h0M600.7 461.9h0M603.7 500.6h0M602.2 475.9h0M604.7 496.0h0M605.2 491.2h0M605.7 467.6h0M606.9 469.4h0M609.0 456.6h0M611.4 452.6h0M614.3 453.5h0M615.8 450.4h0M617.6 457.4h0M619.7 464.8h0M618.4 454.3h0M621.8 469.7h0M623.6 437.0h0M624.2 460.2h0M625.1 460.6h0M626.8 475.7h0M627.8 473.0h0M628.8 473.6h0M630.0 472.8h0M631.8 458.3h0M631.5 454.7h0M634.0 454.3h0M633.3 450.8h0M633.0 450.1h0M637.5 453.4h0M637.5 446.4h0M641.2 458.4h0M640.8 453.7h0M642.0 459.0h0M642.1 450.8h0M643.4 451.9h0M644.1 459.7h0M644.6 459.3h0M646.8 447.6h0M645.3 434.1h0M647.5 460.4h0M649.8 440.0h0M648.7 458.8h0M650.5 469.6h0M651.9 464.9h0M652.7 471.6h0M656.2 478.4h0M657.8 477.5h0M660.2 487.7h0M660.8 491.7h0M661.0 472.3h0M664.8 492.5h0M667.2 496.2h0M667.2 489.6h0M669.5 485.0h0M671.3 495.9h0M671.1 498.7h0M673.1 511.3h0M671.5 504.8h0M673.7 512.0h0M674.2 482.8h0M676.2 507.3h0M677.3 506.8h0M677.8 516.0h0M678.3 505.7h0M679.6 512.9h0M680.9 509.3h0M681.8 518.3h0M682.9 516.8h0M682.4 517.8h0M686.2 527.0h0M689.2 525.5h0M688.5 522.8h0M691.2 525.2h0M690.7 523.2h0M692.1 528.5h0M692.6 520.6h0M693.8 502.0h0M697.0 526.7h0M698.8 528.1h0M697.7 512.6h0M701.2 526.0h0M701.4 534.2h0M704.5 536.1h0M705.0 509.9h0M708.5 529.3h0M708.3 528.3h0M709.4 523.5h0M710.2 514.6h0M712.5 525.2h0M711.9 517.5h0M712.8 494.6h0M715.2 506.6h0M716.2 500.0h0M716.6 484.7h0M719.0 483.1h0M721.4 518.7h0M724.2 521.2h0M724.6 490.6h0M726.2 531.2h0M726.7 524.6h0M727.0 526.9h0M728.6 527.6h0M728.9 517.0h0M731.6 532.4h0M733.0 517.1h0M733.2 517.2h0M732.5 514.7h0M737.2 502.7h0M739.1 494.3h0M743.5 481.2h0M742.9 473.5h0M745.7 485.6h0M748.1 490.9h0M749.6 470.7h0M749.5 479.6h0M753.5 504.1h0M752.7 469.7h0M756.4 507.9h0M755.6 507.3h0M757.0 487.1h0M757.4 469.4h0M759.5 492.8h0M762.1 482.9h0M763.3 485.8h0M764.1 485.9h0M764.6 472.9h0M767.3 467.4h0M769.5 467.1h0M770.4 464.4h0M769.7 455.6h0M771.7 466.0h0M771.3 465.3h0M773.8 462.8h0M775.5 458.0h0M777.1 462.4h0M777.4 466.4h0M780.7 465.8h0M780.1 465.3h0M781.4 468.3h0M783.6 460.5h0M783.0 478.5h0M785.9 487.2h0M787.8 493.9h0M786.8 497.9h0M790.5 487.3h0M789.1 497.7h0M793.2 496.1h0M793.4 505.0h0M793.7 505.2h0M795.1 464.2h0M796.7 497.3h0M797.8 490.6h0M797.5 498.1h0M801.0 494.6h0M800.6 488.9h0M802.7 488.9h0M801.0 455.4h0M803.1 475.3h0M804.4 466.1h0M806.5 479.1h0M807.1 466.1h0M807.8 474.0h0M1017.2 377.6h0M1023.0 422.3h0M1023.4 451.1h0M1023.7 442.2h0M1026.0 455.4h0M1028.2 461.0h0M1028.0 460.2h0M1031.2 465.6h0M1031.8 456.6h0M1034.2 478.4h0M1036.1 485.6h0M1037.3 491.9h0M1038.0 483.2h0M1039.9 496.0h0M1039.8 494.9h0M1041.0 499.0h0M1040.5 482.4h0M1043.7 467.6h0M1044.2 502.3h0M1044.9 500.6h0M1047.6 509.3h0M1049.8 505.7h0M1049.8 479.7h0M1050.1 518.0h0M1050.3 512.1h0M1050.3 498.4h0M1052.5 525.0h0M1054.3 531.9h0M1055.2 534.0h0M1057.3 519.1h0M1056.4 512.5h0M1059.4 506.8h0M1059.0 465.5h0M1061.8 502.7h0M1065.2 493.3h0M1064.3 515.0h0M1066.6 489.8h0M1068.8 506.3h0M1069.8 513.2h0M1071.8 516.9h0M1071.6 506.7h0M1072.4 498.3h0M1075.6 498.2h0M1075.9 510.7h0M1079.3 500.8h0M1079.3 508.4h0M1079.6 487.7h0M1080.4 509.8h0M1083.0 498.7h0M1081.1 465.9h0M1084.5 507.2h0M1084.4 520.4h0M1084.4 506.9h0M1086.7 518.7h0M1090.0 532.1h0M1092.0 524.9h0M1093.3 511.4h0M1094.6 508.9h0M1095.4 519.5h0M1094.9 472.6h0M1095.9 482.1h0M1097.6 500.5h0M1100.7 492.0h0M1099.6 507.8h0M1103.5 512.3h0M1103.4 509.8h0M1105.9 507.7h0M1105.9 508.6h0M1107.9 507.8h0M1107.3 496.3h0M1110.2 508.1h0M1109.1 491.4h0M1108.8 496.7h0M1111.6 506.0h0M1110.3 487.0h0M1113.8 482.7h0M1112.8 494.3h0M1115.7 486.9h0M1115.7 507.7h0M1118.0 512.9h0M1120.2 519.2h0M1121.0 474.2h0M1122.0 512.9h0M1122.1 468.1h0M1123.5 496.8h0M1125.8 491.8h0M1128.6 493.0h0M1129.2 467.9h0M1130.5 483.5h0M1129.2 478.9h0M1132.4 478.6h0M1134.6 469.4h0M1133.1 454.2h0M1136.3 474.4h0M1138.4 468.7h0M1138.8 462.8h0M1139.8 461.3h0M1140.5 452.7h0M1142.1 456.0h0M1141.8 449.1h0M1144.3 444.6h0M1145.1 431.8h0M1148.9 424.6h0M1147.7 416.2h0M1148.8 415.9h0M1149.2 424.8h0M1149.8 419.6h0M1151.1 420.0h0M1152.2 407.3h0M1274.3 448.7h0M1274.7 464.4h0M1275.5 455.9h0M1275.3 436.5h0M1277.3 482.7h0M1277.1 449.9h0M1277.2 481.0h0M1278.8 479.2h0M1279.6 469.3h0M1281.9 481.7h0M1283.4 487.1h0M1283.1 488.9h0M1283.9 487.0h0M1286.2 506.9h0M1290.4 485.6h0M1290.9 484.2h0M1291.6 467.8h0M1294.1 479.9h0M1293.6 474.3h0M1295.7 467.9h0M1295.3 475.8h0M1295.0 464.3h0M1296.8 464.0h0M1297.3 448.4h0M1299.5 473.8h0M1300.4 469.4h0M1302.7 465.1h0M1304.5 468.5h0M1308.7 471.9h0M1307.5 469.4h0M1308.0 459.3h0M1310.1 467.7h0M1310.6 464.0h0M1310.6 455.5h0M1312.8 449.5h0M1312.7 435.5h0M1313.2 438.8h0M1316.2 431.4h0M1317.5 438.1h0M1321.5 444.8h0M1322.6 478.3h0M1322.7 460.9h0M1323.5 500.6h0M1323.2 493.8h0M1325.8 513.9h0M1328.2 539.1h0M1329.6 513.7h0M1329.3 533.1h0M1331.2 519.4h0M1332.1 500.7h0M1334.3 478.5h0M1336.5 444.9h0M1335.4 441.2h0M1337.8 412.6h0M1338.8 416.2h0M1340.3 389.4h0M1339.5 389.1h0M1339.9 385.0h0M1341.9 378.1h0M1342.1 369.2h0M1343.6 380.0h0M1343.7 363.4h0M1421.3 396.8h0M1420.0 402.0h0M1423.4 375.3h0M1424.1 354.2h0M1427.2 386.5h0M1428.5 372.0h0M1427.7 364.4h0M1430.3 424.4h0M1429.8 422.1h0M1434.4 470.1h0M1434.8 466.7h0M1437.0 470.6h0M1439.2 484.1h0M1438.0 481.1h0M1437.7 470.6h0M1439.7 497.6h0M1440.6 492.8h0M1440.1 489.2h0M1444.8 511.4h0M1443.9 510.6h0M1448.9 536.6h0M1449.9 529.8h0M1451.1 509.9h0M1451.5 512.0h0M1453.4 497.1h0M1454.3 475.7h0M1457.3 453.9h0M1458.6 452.7h0M1459.3 445.2h0M1460.3 443.0h0M1461.7 444.3h0M1460.5 440.7h0M1462.8 432.0h0M1462.0 437.0h0M1464.5 436.6h0M1465.5 434.8h0M1464.7 422.3h0M1466.0 427.6h0M1467.2 434.2h0M1467.5 429.6h0M1469.6 423.2h0M1467.9 432.0h0M1470.7 430.4h0M1471.2 450.6h0M1475.2 462.6h0M1476.0 435.9h0M1540.5 424.6h0M1542.6 351.3h0M1542.6 345.5h0M1544.1 281.9h0M1543.8 276.0h0M1546.6 283.8h0M1548.1 294.3h0M1549.2 387.3h0M1551.8 436.9h0M1551.0 426.1h0M1550.9 407.6h0M1553.0 456.1h0M1553.7 463.8h0M1554.5 460.1h0M1557.8 474.7h0M1559.4 507.6h0M1561.6 491.1h0M1561.5 489.7h0M1562.3 488.4h0M1565.2 483.3h0M1566.3 464.8h0M1564.9 466.0h0M1566.7 468.1h0M1566.8 465.5h0M1567.4 453.7h0M1568.2 448.8h0M1568.1 438.9h0M1572.7 449.3h0M1573.0 446.0h0M1572.2 444.2h0M1575.1 453.1h0M1575.8 449.3h0M1577.0 468.5h0M1578.1 439.4h0M1578.9 454.8h0M1581.7 497.9h0M1583.6 494.3h0M1584.3 516.2h0M1587.4 504.0h0M1586.5 504.2h0M1586.5 492.1h0M1587.9 471.1h0M1631.4 422.7h0M1634.4 413.9h0M1635.3 413.9h0M1636.1 405.9h0M1638.6 414.0h0M1638.2 398.9h0M1637.0 400.7h0M1639.9 409.8h0M1640.0 409.7h0M1642.7 439.9h0M1642.2 441.5h0M1645.6 471.1h0M1644.8 466.2h0M1646.3 482.4h0M1647.3 444.7h0M1646.1 477.5h0M1649.6 482.2h0M1648.6 492.7h0M1650.8 489.6h0M1653.0 491.8h0M1655.5 499.5h0M1657.2 493.6h0M1657.8 482.5h0M1657.4 485.5h0M1660.1 489.9h0M1661.8 480.7h0M1663.5 485.1h0M1665.9 488.0h0M1666.5 477.5h0M1667.1 505.7h0M1668.7 501.6h0M1669.9 514.3h0M1669.9 515.1h0M1672.1 544.3h0M1671.5 502.2h0M1671.4 540.3h0M1675.2 560.7h0M1674.4 555.6h0M1715.2 456.8h0M1714.9 458.2h0M1714.7 440.9h0M1717.9 443.2h0M1719.3 444.9h0M1721.3 443.6h0M1721.5 441.7h0M1722.2 437.7h0M1723.7 419.2h0M1726.0 425.3h0M1730.4 423.5h0M1733.0 431.8h0M1732.8 427.0h0M1736.4 433.7h0M1736.5 444.1h0M1736.4 443.5h0M1737.8 439.7h0M1738.5 428.8h0M1740.8 464.5h0M1741.0 454.6h0M1742.2 469.0h0M1742.2 456.4h0M1742.7 460.3h0M1746.0 472.1h0M1748.1 484.0h0M1747.5 473.3h0M1747.0 470.0h0M1751.1 473.1h0M1752.4 461.5h0M1792.3 503.2h0M1791.5 501.3h0M1794.0 510.5h0M1794.5 507.8h0M1796.2 500.6h0M1797.6 502.4h0M1797.5 484.9h0M1800.1 498.4h0M1802.0 495.8h0M1803.3 500.2h0M1802.9 488.7h0M1805.0 496.0h0M1807.6 481.1h0M1808.8 512.6h0M1811.5 509.5h0M1812.6 464.7h0M1812.0 500.8h0M1812.4 511.7h0M1815.0 505.7h0M1817.6 469.0h0M1819.4 495.8h0M1818.6 485.8h0M1822.4 492.3h0M1822.6 495.8h0M1822.7 476.3h0M1856.3 446.6h0M1856.9 457.3h0M1858.1 455.5h0M1859.9 423.0h0M1859.4 418.3h0M1862.2 383.2h0M1861.1 370.7h0M1861.4 379.2h0M1864.3 371.0h0M1866.0 388.6h0M1865.9 388.1h0M1867.4 388.1h0M1867.7 392.5h0M1866.9 376.6h0M1869.0 443.9h0M1869.0 440.7h0M1871.3 464.5h0M1872.5 467.3h0M1874.0 489.2h0M1874.0 484.3h0M1875.4 481.6h0M1873.8 494.0h0M1876.4 476.8h0M1877.4 490.9h0M1879.3 491.2h0M1880.5 498.0h0M1908.4 451.1h0M1908.2 443.5h0M1910.3 433.7h0M1909.7 432.9h0M1913.0 418.7h0M1913.0 415.8h0M1917.3 423.3h0M1919.4 437.4h0M1919.4 435.7h0M1920.4 464.1h0M1923.4 468.9h0M1923.2 479.7h0M1922.9 471.8h0M1926.2 486.5h0M1927.7 479.4h0M1926.5 487.0h0M1929.9 502.3h0M1929.2 504.1h0M1951.4 401.3h0M1951.2 397.3h0M1953.7 395.6h0M1954.9 397.9h0M1955.1 394.9h0M1958.1 398.6h0M1960.1 397.9h0M1961.0 434.6h0M1960.7 425.9h0M1964.5 459.8h0M1966.9 454.2h0M1966.7 470.0h0M1980.6 396.4h0M1982.4 395.7h0M1981.6 385.8h0M1982.5 409.0h0M1982.1 417.4h0M1984.9 439.6h0M1987.9 430.1h0M1990.8 435.7h0M1990.8 426.1h0M1989.6 421.4h0M1992.2 429.3h0M1991.9 425.0h0M2007.6 434.6h0M2009.0 433.8h0M2009.0 402.5h0M2010.6 425.9h0M2010.2 413.5h0M2012.3 404.9h0M2011.5 410.1h0M2013.4 422.7h0M2012.8 420.6h0M2015.9 430.4h0M2016.9 444.5h0M2028.8 410.1h0M2029.6 397.8h0M2030.8 406.8h0M2031.4 390.2h0M2032.0 388.6h0M2035.3 369.1h0M2035.2 367.2h0M2036.6 351.3h0M2036.1 350.9h0M2047.5 414.2h0M2055.2 417.2h0M2057.2 409.7h0M2057.1 380.0h0M2065.2 392.6h0M2064.4 423.0h0M2066.8 422.1h0M2067.7 419.1h0M2067.4 409.4h0M2069.1 414.8h0M2068.2 398.5h0M2070.6 409.9h0M2070.7 408.1h0M2072.1 394.3h0M2072.8 385.1h0M2072.9 373.5h0M2074.2 373.2h0M2075.2 384.0h0M2075.5 354.0h0M2076.2 357.6h0M2079.1 385.7h0M2077.6 350.0h0M2077.7 379.4h0M2080.0 445.5h0M2080.9 427.8h0M2082.2 471.0h0M2082.9 478.5h0M2083.6 458.6h0M2085.2 488.4h0M2084.3 506.2h0M2086.4 494.2h0M2085.6 483.2h0M2086.7 486.9h0M2087.7 512.7h0M2088.3 460.5h0M2090.2 530.4h0M2089.8 502.6h0M2093.1 460.6h0M2091.5 507.8h0M2094.2 522.0h0M2094.1 522.1h0M2095.7 519.7h0M2096.3 542.1h0M2095.9 530.7h0M2097.6 541.9h0M2097.8 531.7h0M2099.9 505.3h0M2099.8 540.3h0M2101.3 533.3h0M2102.0 513.4h0M2101.4 499.9h0M2103.5 546.5h0M2103.9 538.8h0M2105.7 546.9h0M2107.1 543.0h0M2108.9 550.1h0M2109.4 531.7h0M2110.8 518.8h0M2110.5 541.7h0M2109.7 472.4h0M2112.4 553.7h0M2111.4 551.7h0M2112.8 547.3h0M2114.1 544.6h0M2115.7 545.0h0M2115.6 502.7h0M2116.2 519.7h0M2116.7 488.1h0M2119.0 516.7h0M2117.4 533.1h0M2121.2 554.4h0M2119.7 557.7h0M2121.6 541.8h0M2121.1 552.1h0M2121.5 534.6h0M2124.5 548.3h0M2123.6 503.1h0M2125.7 541.6h0M2126.3 498.8h0M2124.8 530.8h0M2128.4 559.0h0M2128.0 553.6h0M2126.9 509.1h0M2129.8 547.1h0M2130.6 531.7h0M2129.7 545.2h0M2131.8 531.6h0M2132.3 539.3h0M2131.3 523.7h0M2133.9 538.8h0M2134.2 539.8h0M2137.2 557.2h0M2137.4 556.0h0M2139.2 561.0h0M2138.6 527.0h0M2138.7 557.9h0M2139.8 534.9h0M2140.0 557.2h0M2142.1 565.8h0M2141.4 545.2h0M2142.8 542.2h0M2144.2 557.8h0M2143.9 550.4h0M2146.4 558.5h0M2145.1 554.7h0M2145.0 525.4h0M2147.5 527.7h0M2147.7 557.7h0M2147.9 560.0h0M2148.7 547.5h0M2148.8 558.5h0M2151.1 559.2h0M2150.2 558.0h0M2150.7 559.6h0M2152.3 563.8h0M2152.7 563.5h0M2154.0 552.4h0M2154.8 565.6h0M2154.3 548.8h0M2157.0 562.6h0M2157.0 567.2h0M2157.3 543.0h0M2159.8 545.7h0M2158.6 546.6h0M2161.9 565.3h0M2161.5 561.2h0M2162.7 566.8h0M2163.5 542.6h0M2165.2 574.0h0M2164.9 570.7h0M2168.9 529.6h0M2167.3 567.8h0M2170.6 560.3h0M2170.4 534.2h0M2170.8 546.3h0M2171.3 561.9h0M2171.8 557.4h0M2172.9 539.7h0M2173.0 545.5h0M2172.5 556.7h0M2174.1 547.8h0M2174.5 536.4h0M2174.8 522.1h0M2177.4 513.3h0M2177.4 554.2h0M2176.6 543.6h0M2178.3 505.5h0M2177.9 508.5h0M2178.4 544.5h0M2179.5 543.7h0M2180.3 535.4h0M2181.6 541.2h0M2181.7 520.6h0M2182.9 542.3h0M2183.6 531.4h0M2184.6 485.1h0M2186.5 543.1h0M2186.2 521.7h0M2188.5 522.7h0M2187.2 551.4h0M2187.1 540.4h0M2190.3 556.4h0M2190.7 542.3h0M2189.1 516.7h0M2190.9 531.0h0M2190.9 561.0h0M2190.6 552.1h0M2194.0 520.4h0M2194.4 537.0h0M2194.5 550.8h0M2195.1 536.7h0M2197.8 551.0h0M2196.5 469.9h0M2200.0 521.2h0M2199.4 547.3h0M2202.4 515.7h0M2202.5 539.2h0M2201.0 534.4h0M2204.4 508.5h0M2203.0 533.8h0M2205.5 535.6h0M2207.3 524.8h0M2206.4 524.5h0M591.5 440.4h0M612.3 441.2h0M636.8 395.2h0M636.8 433.8h0M594.2 461.7h0M626.2 460.4h0M646.7 345.1h0M651.2 374.6h0M645.9 402.6h0M650.7 417.8h0M650.7 424.5h0M703.4 405.3h0M762.5 401.8h0M762.5 411.1h0M775.8 417.0h0M758.5 427.1h0M733.8 431.9h0M687.9 443.9h0M666.6 448.4h0M673.3 453.0h0M749.2 446.6h0M758.5 447.1h0M775.8 443.1h0M775.8 453.8h0M799.3 444.4h0M703.9 464.4h0M682.6 464.4h0M689.3 467.1h0M742.5 463.1h0M709.2 481.7h0M725.2 479.1h0M733.2 478.5h0M689.3 484.4h0M1060.3 447.6h0M1060.3 463.1h0M1039.5 468.4h0M1051.5 473.2h0M1092.0 389.3h0M1092.0 460.4h0M1129.3 409.8h0M1134.6 427.9h0M1151.9 399.2h0M1151.9 412.5h0M1277.1 350.4h0M1293.1 418.3h0M1302.4 412.5h0M1316.2 413.0h0M1298.4 433.2h0M1305.1 445.8h0M1298.4 464.4h0M1440.4 350.7h0M1425.4 374.4h0M1425.4 388.5h0M1466.2 423.1h0M1474.2 416.5h0M1329.0 477.7h0M1329.0 492.4h0M1440.9 485.7h0M1094.6 491.8h0M1112.0 487.0h0M1112.0 495.0h0M1090.7 501.7h0M1090.7 511.0h0M1419.6 419.1h0M1430.2 417.3h0M1663.0 405.0h0M1663.0 435.1h0M1570.6 427.1h0M1577.3 431.1h0M1567.9 436.4h0M1650.5 463.1h0M1653.2 477.7h0M1647.8 489.7h0M1795.1 363.7h0M1795.1 377.0h0M1795.1 435.1h0M1795.1 453.8h0M1795.1 471.1h0M1805.0 473.7h0M1799.7 480.4h0M1860.1 336.6h0M1861.7 373.8h0M1881.7 402.6h0M1881.7 455.1h0M1912.1 372.0h0M1912.9 409.8h0M1919.5 424.5h0M1924.8 440.4h0M1823.6 489.7h0M1730.4 423.1h0M1719.8 433.2h0M1741.1 433.8h0M1746.4 444.4h0M1751.7 465.7h0M1562.6 497.7h0M1587.9 499.0h0M1956.8 384.5h0M1880.9 485.7h0M1952.8 405.8h0M2074.0 284.1h0M2081.2 344.6h0M2073.2 356.5h0M2073.2 364.5h0M2162.4 435.9h0M2184.5 466.3h0M2203.1 476.9h0M2115.8 481.7h0M2138.4 493.2h0M2184.5 491.0h0M2089.2 477.7h0M2091.8 487.0h0M2110.5 499.0h0M2121.1 503.0h0M2158.4 507.8h0M2166.4 507.0h0M2086.5 505.7h0M2110.5 509.7h0M2123.8 512.3h0M2137.1 513.7h0M1956.5 383.2h0M2013.2 415.1h0M2047.9 396.0h0M1981.3 358.4h0M2029.2 387.2h0M1482.6 140.8h0M1482.6 158.6h0M1482.6 167.2h0M1482.6 344.2h0M1482.6 357.0h0M1482.6 382.0h0M1482.6 397.0h0M1482.6 410.0h0M1544.7 225.8h0M1544.7 246.2h0M1544.7 255.2h0M1544.7 273.4h0M1544.7 293.4h0M1595.2 343.9h0M1440.3 351.0h0M1425.4 374.2h0M1482.6 186.0V264.0M1482.6 278.0V300.0M1482.6 306.0V333.0M1483.0 415.0V490.0M1485.5 425.0V490.0" fill="none" stroke="#c58316" stroke-width="5.8" stroke-linecap="round"/>
<line x1="160.5" y1="260.6" x2="2392.4" y2="260.6" stroke="#a0529a" stroke-width="3.4"/>
<line x1="160.5" y1="260.6" x2="2392.4" y2="260.6" stroke="#6a3f9a" stroke-width="3.4" stroke-dasharray="11 8" opacity="0.3"/>
<circle cx="2040.7" cy="260.7" r="2.9" fill="#a0483c"/>
<circle cx="2057.2" cy="260.7" r="2.9" fill="#1f2f60"/>
<circle cx="2034.6" cy="299.3" r="2.9" fill="#c58316"/>
<circle cx="2034.6" cy="307.3" r="2.9" fill="#c58316"/>
<circle cx="2034.6" cy="318.7" r="2.9" fill="#c58316"/>
<circle cx="2034.6" cy="336.6" r="2.9" fill="#c58316"/>
<circle cx="2034.6" cy="343.2" r="2.9" fill="#c58316"/>
<text transform="translate(118 716.4) scale(1.2 1)" text-anchor="middle" class="t">0</text>
<text transform="translate(118 567.6) scale(1.2 1)" text-anchor="middle" class="t">2</text>
<text transform="translate(118 418.8) scale(1.2 1)" text-anchor="middle" class="t">4</text>
<text transform="translate(118 270.0) scale(1.2 1)" text-anchor="middle" class="t">6</text>
<text transform="translate(118 121.2) scale(1.2 1)" text-anchor="middle" class="t">8</text>
<path d="M160.5 110.6V708.2" fill="none" stroke="#999" stroke-width="4"/>
<path d="M143.0 707.0H160.5M143.0 558.2H160.5M143.0 409.4H160.5M143.0 260.6H160.5M143.0 111.8H160.5" fill="none" stroke="#777" stroke-width="2.9"/>
<path d="M394.7 707.0v16M713.2 707.0v16M916.2 707.0v16M1096.7 707.0v16M1214.0 707.0v16M1318.3 707.0v16M1374.2 707.0v16M1443.2 707.0v16M1516.2 707.0v16M1564.2 707.0v16M1614.3 707.0v16M1652.8 707.0v16M1700.0 707.0v16M1736.7 707.0v16M1774.1 707.0v16M1817.7 707.0v16M1846.4 707.0v16M1875.8 707.0v16M1900.5 707.0v16M1922.6 707.0v16M1942.3 707.0v16M1961.6 707.0v16M1976.2 707.0v16M1991.0 707.0v16M2004.3 707.0v16M2015.6 707.0v16M2026.8 707.0v16M2037.7 707.0v16M2107.8 707.0v16M2277.1 707.0v16" fill="none" stroke="#7a7a7a" stroke-width="2.8"/>
<path d="M2046.0 707.0v16M2049.5 707.0v16M2052.5 707.0v16M2055.0 707.0v16M2057.5 707.0v16" fill="none" stroke="#777" stroke-width="2.2"/>
<path d="M2059.5 707.0v16M2061.5 707.0v16M2063.5 707.0v16M2065.5 707.0v16M2067.5 707.0v16M2069.5 707.0v16" fill="none" stroke="#444" stroke-width="2.2"/>
<path d="M2070.5 707.0v16" fill="none" stroke="#111" stroke-width="3.4"/>
<text transform="translate(396.0 763.3) scale(1.18 1)" text-anchor="middle" class="t">1</text>
<text transform="translate(714.7 763.3) scale(1.18 1)" text-anchor="middle" class="t">2</text>
<text transform="translate(917.3 763.3) scale(1.18 1)" text-anchor="middle" class="t">3</text>
<text transform="translate(1096.7 763.3) scale(1.18 1)" text-anchor="middle" class="t">4</text>
<text transform="translate(1214.0 763.3) scale(1.18 1)" text-anchor="middle" class="t">5</text>
<text transform="translate(1318.3 763.3) scale(1.18 1)" text-anchor="middle" class="t">6</text>
<text transform="translate(1375.0 763.3) scale(1.18 1)" text-anchor="middle" class="t">7</text>
<text transform="translate(1445.0 763.3) scale(1.18 1)" text-anchor="middle" class="t">8</text>
<text transform="translate(1518.0 763.3) scale(1.18 1)" text-anchor="middle" class="t">9</text>
<text transform="translate(1564.5 763.3) scale(1.0 1)" text-anchor="middle" class="t">10</text>
<text transform="translate(1655.3 763.3) scale(1.0 1)" text-anchor="middle" class="t">12</text>
<text transform="translate(1738.1 763.3) scale(1.0 1)" text-anchor="middle" class="t">14</text>
<text transform="translate(1819.8 763.3) scale(1.0 1)" text-anchor="middle" class="t">16</text>
<text transform="translate(1877.5 763.3) scale(1.0 1)" text-anchor="middle" class="t">18</text>
<text transform="translate(1943.3 763.3) scale(1.0 1)" text-anchor="middle" class="t">21</text>
<text transform="translate(2005.8 763.3) scale(1.0 1)" text-anchor="middle" class="t">25</text>
<text transform="translate(2056.6 763.3) scale(1.0 1)" text-anchor="middle" class="t">31</text>
<text transform="translate(2107.8 763.3) scale(1.18 1)" text-anchor="middle" class="t">Z</text>
<text transform="translate(2279.2 763.3) scale(1.0 1)" text-anchor="middle" class="t">Un</text>
<text transform="translate(39.5 405.9) rotate(-90)" text-anchor="middle" class="yl">−log<tspan dy="5" font-size="19">10</tspan><tspan dy="-5">(</tspan><tspan font-style="italic">p</tspan>)</text>
<text transform="translate(60.1 63.4) scale(1.16 1.04)" class="L">a</text>
<path d="M218.9 1502.5L218.9 1194.4L219.2 1194.4L228.8 1197.1L230.6 1279.7L240.0 1285.0L253.3 1287.7L258.6 1241.5L266.6 1218.4L274.6 1223.7L278.6 1279.7L285.2 1293.0L289.2 1244.5L293.2 1223.7L301.2 1243.3L306.5 1234.3L308.7 1189.1L313.2 1200.8L317.2 1253.0L325.2 1226.4L330.5 1192.2L338.5 1204.4L343.8 1253.0L349.2 1239.7L352.6 1122.5L363.0 1133.2L365.1 1197.1L370.5 1261.0L381.1 1266.1L391.8 1277.5L395.8 1210.4L402.4 1213.1L405.1 1293.0L413.1 1306.3L421.1 1293.0L429.1 1306.3L437.0 1273.6L445.0 1261.3L453.0 1251.1L461.0 1293.0L466.3 1319.6L471.7 1277.2L479.7 1250.3L487.7 1267.2L495.6 1306.0L506.3 1319.6L514.3 1286.5L519.6 1250.3L527.6 1255.5L535.6 1279.7L543.6 1266.3L548.9 1246.7L552.1 1222.1L559.6 1226.3L563.6 1266.2L572.9 1279.7L580.9 1266.3L583.9 1256.9L583.9 1502.5ZM808.0 1502.5L808.0 1235.5L809.1 1221.0L815.8 1223.7L821.1 1279.7L829.1 1279.7L837.1 1223.7L845.1 1229.0L849.1 1293.0L858.4 1293.0L866.4 1306.3L869.6 1229.0L875.7 1252.0L890.4 1250.3L894.4 1291.7L902.3 1314.8L909.0 1346.2L917.0 1332.9L922.3 1277.0L927.7 1250.3L935.6 1251.8L943.6 1279.8L951.6 1300.3L959.6 1332.9L967.6 1319.6L972.9 1263.7L978.3 1223.7L986.2 1229.0L991.6 1271.7L1002.2 1279.7L1010.2 1266.3L1016.1 1243.9L1016.8 1237.4L1016.8 1502.5ZM1153.4 1502.5L1153.4 1262.5L1155.9 1239.7L1165.2 1223.7L1169.2 1189.1L1175.9 1191.7L1182.5 1223.9L1191.9 1237.0L1197.2 1275.0L1202.5 1306.3L1213.2 1292.7L1221.2 1253.9L1226.5 1221.0L1234.5 1249.3L1239.8 1266.3L1245.1 1217.7L1249.1 1175.8L1261.1 1170.4L1270.4 1175.8L1272.3 1223.7L1272.9 1230.6L1272.9 1502.5ZM1345.5 1502.5L1345.5 1239.4L1349.0 1256.7L1354.3 1237.8L1362.3 1222.6L1373.0 1210.4L1381.0 1215.7L1383.6 1286.4L1389.0 1319.6L1399.6 1314.3L1410.3 1306.3L1414.3 1250.3L1416.9 1205.1L1418.8 1205.1L1419.2 1212.5L1419.2 1502.5ZM1477.0 1502.5L1477.0 1290.4L1480.8 1223.7L1487.5 1218.4L1490.7 1181.1L1496.0 1223.7L1499.5 1293.0L1504.8 1306.3L1508.8 1243.7L1519.5 1237.0L1520.0 1197.1L1524.0 1114.5L1536.0 1117.2L1538.6 1170.4L1539.1 1176.1L1539.1 1502.5ZM1591.4 1502.5L1591.4 1244.5L1593.2 1103.9L1606.6 1106.5L1609.2 1236.2L1611.9 1293.0L1617.2 1258.4L1629.2 1254.3L1630.8 1266.3L1631.0 1265.6L1631.0 1502.5ZM1675.0 1502.5L1675.0 1245.7L1678.5 1266.3L1685.1 1266.3L1690.5 1258.2L1701.1 1266.3L1706.4 1271.7L1708.0 1149.1L1711.8 1149.1L1712.0 1152.2L1712.0 1502.5ZM1753.4 1502.5L1753.4 1239.6L1757.0 1266.2L1765.0 1271.7L1773.0 1279.7L1775.7 1178.4L1782.3 1183.8L1783.7 1266.3L1789.0 1293.0L1790.1 1293.0L1790.4 1288.1L1790.4 1502.5ZM1825.8 1502.5L1825.8 1254.2L1829.0 1269.0L1835.6 1271.7L1839.6 1319.6L1844.9 1332.9L1851.6 1302.9L1855.1 1278.3L1855.6 1253.8L1855.6 1502.5ZM1881.7 1502.5L1881.7 1138.9L1882.8 1223.7L1886.2 1280.5L1892.9 1306.3L1899.5 1319.6L1901.4 1249.6L1906.2 1245.0L1906.6 1245.6L1906.6 1502.5ZM1930.2 1502.5L1930.2 1254.8L1932.8 1266.3L1940.8 1266.3L1944.8 1210.4L1946.2 1170.4L1949.9 1170.4L1950.1 1173.9L1950.1 1502.5ZM1966.6 1502.5L1966.6 1243.1L1967.2 1186.4L1972.0 1181.1L1980.0 1197.1L1980.3 1209.3L1980.3 1502.5ZM1993.0 1502.5L1993.0 1253.3L1993.8 1282.3L2007.1 1282.3L2007.6 1210.1L2007.6 1502.5ZM2019.2 1502.5L2019.2 1223.7L2019.9 1223.7L2027.9 1237.6L2028.3 1244.5L2028.3 1502.5ZM2038.4 1502.5L2038.4 1255.7L2038.5 1255.7L2039.6 1237.6L2043.9 1196.3L2043.9 1502.5ZM2048.6 1502.5L2048.6 1179.2L2049.2 1178.4L2053.7 1185.2L2053.7 1502.5ZM2058.5 1502.5L2058.5 1192.4L2059.9 1194.4L2063.8 1196.6L2063.8 1502.5ZM2208.4 1502.5L2208.4 1324.4L2210.3 1277.0L2219.7 1277.0L2226.3 1258.5L2233.0 1250.4L2246.3 1266.3L2259.6 1261.0L2272.9 1263.7L2286.2 1255.7L2299.6 1263.7L2312.9 1261.0L2323.5 1261.0L2333.4 1266.3L2333.4 1266.3L2333.4 1502.5Z" fill="#1f2f60"/>
<path d="M583.9 1502.5L583.9 1256.9L587.5 1245.5L588.9 1130.5L595.5 1133.2L598.2 1234.4L604.8 1239.7L607.5 1181.1L612.8 1183.8L616.8 1234.9L623.5 1253.0L631.5 1261.0L639.5 1253.0L640.0 1235.5L645.3 1214.9L653.3 1253.0L661.3 1239.7L665.3 1199.9L677.3 1205.1L682.6 1259.4L690.6 1279.7L698.6 1293.0L706.6 1253.2L714.6 1267.2L722.6 1303.3L733.2 1318.4L746.5 1332.9L759.9 1340.9L770.5 1315.3L777.2 1263.7L781.2 1250.3L789.2 1293.0L799.8 1293.0L806.5 1238.1L807.8 1238.1L808.0 1235.5L808.0 1502.5ZM1016.8 1502.5L1016.8 1237.4L1019.5 1213.1L1026.2 1223.7L1030.2 1268.1L1039.5 1306.0L1050.2 1319.6L1060.8 1306.0L1071.5 1287.9L1079.5 1279.4L1080.0 1278.9L1088.0 1318.9L1096.0 1332.9L1106.6 1332.9L1117.3 1318.9L1125.3 1327.6L1133.3 1263.7L1138.6 1183.8L1146.6 1191.7L1149.2 1266.3L1153.0 1266.3L1153.4 1262.5L1153.4 1502.5ZM1272.9 1502.5L1272.9 1230.6L1275.8 1263.7L1282.4 1319.6L1287.7 1346.2L1293.1 1250.3L1298.4 1237.0L1303.2 1215.7L1309.1 1223.7L1314.4 1263.7L1322.4 1306.3L1330.4 1332.9L1335.7 1266.0L1339.7 1237.0L1345.0 1237.0L1345.5 1239.4L1345.5 1502.5ZM1419.2 1502.5L1419.2 1212.5L1423.6 1291.6L1428.9 1197.1L1432.9 1090.5L1440.9 1095.9L1442.8 1223.7L1444.9 1319.6L1452.9 1332.9L1458.2 1282.2L1466.2 1279.6L1474.2 1306.3L1476.9 1293.0L1477.0 1290.4L1477.0 1502.5ZM1539.1 1502.5L1539.1 1176.1L1540.8 1197.1L1542.6 1103.9L1548.0 1103.9L1549.8 1223.7L1553.3 1293.0L1562.6 1293.0L1573.3 1258.5L1577.3 1238.1L1583.9 1258.8L1589.2 1266.3L1591.1 1266.3L1591.4 1244.5L1591.4 1502.5ZM1631.0 1502.5L1631.0 1265.6L1634.5 1252.3L1642.5 1266.3L1653.2 1266.3L1663.8 1240.1L1673.1 1244.2L1674.7 1244.2L1675.0 1245.7L1675.0 1502.5ZM1712.0 1502.5L1712.0 1152.2L1718.4 1237.0L1722.4 1263.7L1727.7 1332.9L1733.1 1346.2L1738.4 1297.6L1742.4 1170.4L1744.3 1130.5L1749.6 1143.8L1751.7 1237.0L1753.1 1237.0L1753.4 1239.6L1753.4 1502.5ZM1790.4 1502.5L1790.4 1288.1L1794.3 1230.0L1799.7 1205.1L1806.3 1223.7L1810.3 1279.7L1818.3 1287.7L1825.0 1250.3L1825.8 1254.2L1825.8 1502.5ZM1855.6 1502.5L1855.6 1253.8L1857.7 1157.1L1868.9 1154.5L1871.6 1037.3L1874.2 1010.6L1880.1 1013.3L1881.4 1117.2L1881.7 1138.9L1881.7 1502.5ZM1906.6 1502.5L1906.6 1245.6L1910.2 1250.3L1914.2 1223.7L1924.8 1227.8L1929.6 1252.3L1930.2 1254.8L1930.2 1502.5ZM1950.1 1502.5L1950.1 1173.9L1956.8 1279.7L1966.1 1293.0L1966.6 1243.1L1966.6 1502.5ZM1980.3 1502.5L1980.3 1209.3L1981.3 1243.8L1992.7 1243.8L1993.0 1253.3L1993.0 1502.5ZM2007.6 1502.5L2007.6 1210.1L2008.2 1122.5L2016.7 1117.2L2018.6 1223.7L2019.2 1223.7L2019.2 1502.5ZM2028.3 1502.5L2028.3 1244.5L2029.0 1255.7L2038.4 1255.7L2038.4 1502.5ZM2043.9 1502.5L2043.9 1196.3L2045.2 1183.8L2048.6 1179.2L2048.6 1502.5ZM2053.7 1502.5L2053.7 1185.2L2058.5 1192.4L2058.5 1502.5ZM2063.8 1502.5L2063.8 1196.6L2064.6 1197.1L2066.2 1180.4L2081.2 1170.4L2085.2 1212.1L2091.8 1235.5L2099.8 1250.3L2103.8 1237.0L2110.5 1239.7L2113.1 1302.4L2126.4 1334.0L2139.8 1359.6L2153.1 1348.9L2166.4 1346.2L2179.7 1351.6L2193.0 1343.6L2206.3 1335.6L2207.9 1335.6L2208.4 1324.4L2208.4 1502.5Z" fill="#c58316"/>
<path d="M220.4 1182.3V1196.8M222.6 1193.9V1197.4M225.1 1184.1V1198.0M226.9 1187.7V1198.6M229.4 1222.6V1229.1M231.7 1255.3V1282.3M233.7 1270.7V1283.4M236.1 1272.9V1284.8M237.8 1245.6V1285.8M239.8 1273.2V1286.9M241.4 1257.8V1287.3M243.5 1280.6V1287.7M245.8 1285.6V1288.1M247.3 1281.7V1288.5M248.8 1234.8V1288.8M250.4 1280.5V1289.1M252.7 1255.8V1289.5M254.3 1269.3V1280.8M255.9 1218.3V1266.6M257.5 1240.5V1252.7M259.6 1232.4V1240.5M261.1 1234.0V1236.2M263.1 1227.0V1230.5M265.0 1220.0V1224.9M266.9 1215.7V1220.6M268.4 1215.0V1221.6M270.4 1220.0V1222.9M272.1 1218.7V1224.0M274.5 1219.0V1225.7M276.4 1242.3V1251.3M278.7 1236.9V1281.9M281.1 1270.7V1286.8M282.7 1251.8V1289.9M284.9 1274.0V1294.3M286.6 1239.9V1277.9M288.7 1248.9V1252.7M290.6 1229.0V1239.3M293.1 1222.8V1226.4M295.4 1228.1V1231.1M296.9 1230.0V1234.9M299.3 1238.5V1240.6M301.7 1221.2V1244.6M303.8 1230.2V1241.0M305.9 1212.9V1237.3M308.2 1190.7V1201.3M310.1 1191.5V1194.9M312.5 1196.8V1201.1M314.7 1201.4V1222.1M317.0 1225.2V1252.8M318.6 1220.9V1250.2M320.4 1206.3V1244.3M322.0 1232.6V1238.9M324.2 1221.6V1231.8M326.3 1183.6V1220.9M328.8 1196.0V1205.3M330.7 1191.6V1194.5M332.2 1193.1V1196.8M334.2 1196.8V1199.9M335.8 1199.4V1202.4M337.7 1190.8V1205.2M340.1 1212.0V1220.6M342.6 1233.5V1243.4M344.6 1238.6V1253.0M346.6 1237.6V1248.1M348.8 1201.2V1242.6M350.4 1157.2V1200.5M352.1 1130.9V1143.0M353.7 1123.1V1125.6M355.9 1123.0V1127.9M357.6 1125.7V1129.6M359.6 1128.3V1131.6M361.7 1131.7V1133.9M363.9 1158.9V1163.5M365.5 1200.4V1203.3M367.4 1222.4V1226.9M369.4 1231.2V1249.9M371.2 1249.0V1263.4M373.1 1252.8V1264.3M375.2 1257.7V1265.3M377.4 1258.4V1266.3M379.2 1260.4V1267.2M380.7 1252.1V1267.9M382.9 1257.0V1270.0M385.3 1266.9V1272.6M387.5 1261.0V1274.9M389.4 1224.8V1277.0M391.0 1234.5V1278.7M393.1 1245.7V1257.8M395.1 1217.8V1223.6M396.7 1209.3V1212.8M398.3 1205.3V1213.4M400.4 1198.6V1214.2M402.7 1221.5V1223.9M405.0 1273.8V1293.7M407.5 1295.0V1298.9M409.2 1283.0V1301.9M411.2 1295.7V1305.2M413.6 1279.7V1307.3M416.1 1285.0V1303.2M418.4 1281.8V1299.4M420.5 1275.3V1295.9M422.7 1282.7V1297.7M424.7 1262.5V1301.0M426.3 1287.1V1303.7M428.4 1282.0V1307.2M430.3 1290.1V1303.1M432.7 1277.8V1293.3M434.9 1274.3V1284.4M437.0 1258.5V1275.8M439.0 1269.8V1272.7M441.3 1230.9V1269.0M443.1 1256.4V1266.4M444.8 1246.7V1263.7M446.5 1250.7V1261.4M448.4 1255.7V1259.0M450.7 1253.5V1256.1M452.2 1243.7V1254.1M454.6 1256.1V1261.2M456.9 1269.2V1273.3M458.6 1279.6V1282.2M460.7 1261.1V1293.4M463.1 1251.6V1305.6M465.6 1294.8V1317.9M467.9 1305.2V1309.6M469.8 1286.2V1293.8M472.2 1273.3V1277.5M474.5 1266.1V1269.8M476.3 1251.3V1263.7M477.8 1250.5V1258.5M479.4 1244.0V1253.1M481.5 1252.6V1256.1M483.4 1253.2V1260.1M485.8 1252.0V1265.3M488.0 1256.3V1270.8M489.7 1271.1V1279.2M492.0 1242.1V1290.2M493.5 1295.7V1297.8M495.1 1275.6V1305.6M497.6 1299.5V1310.6M500.0 1308.8V1313.6M502.1 1277.8V1316.2M504.5 1273.6V1319.3M506.9 1316.4V1319.2M509.0 1298.2V1310.3M511.2 1265.3V1301.3M513.4 1287.9V1292.4M514.9 1278.1V1284.5M516.9 1252.8V1271.1M518.5 1258.1V1260.2M520.0 1250.5V1252.6M521.6 1247.3V1253.6M523.6 1252.8V1255.0M526.1 1249.4V1256.6M527.8 1255.3V1258.3M530.0 1258.2V1264.8M531.5 1261.5V1269.4M534.0 1259.2V1276.9M536.2 1274.5V1280.7M537.8 1272.6V1278.0M539.6 1272.9V1274.9M542.1 1246.1V1270.9M544.2 1217.4V1266.1M546.5 1254.4V1257.5M548.8 1230.3V1249.0M551.0 1204.9V1232.8M553.3 1220.4V1224.7M555.0 1222.4V1225.7M556.8 1220.3V1226.8M558.8 1222.9V1227.9M561.2 1225.7V1244.4M562.8 1254.0V1260.6M565.0 1234.4V1270.4M566.8 1251.7V1272.9M568.5 1245.5V1275.4M570.4 1274.7V1278.1M572.8 1275.7V1281.6M574.4 1268.8V1279.2M576.0 1271.4V1276.4M578.1 1255.9V1272.9M580.3 1266.3V1269.2M582.4 1243.8V1263.4M809.6 1215.8V1223.2M811.9 1217.1V1224.1M813.9 1219.0V1225.0M816.1 1220.0V1228.6M818.5 1235.1V1253.9M820.2 1262.6V1272.1M821.9 1279.6V1281.7M824.1 1256.1V1281.7M825.9 1270.5V1281.7M828.3 1227.7V1281.7M830.0 1266.8V1275.1M832.3 1247.7V1259.6M834.1 1242.4V1246.6M836.1 1224.4V1232.9M837.9 1221.7V1226.2M839.7 1219.7V1227.5M841.8 1224.4V1228.8M844.0 1224.3V1230.3M846.0 1240.8V1245.4M847.9 1241.6V1275.5M849.6 1270.5V1295.0M851.2 1282.8V1295.0M853.3 1286.1V1295.0M855.6 1288.5V1295.0M857.7 1291.0V1295.0M859.7 1282.4V1297.1M861.2 1280.4V1299.7M863.0 1299.0V1302.7M865.0 1290.4V1306.0M867.0 1292.1V1294.1M869.2 1227.1V1240.7M871.7 1233.0V1238.9M873.8 1236.7V1246.8M876.1 1240.1V1254.0M878.5 1244.1V1253.7M880.6 1248.7V1253.5M882.3 1250.2V1253.3M884.2 1250.7V1253.1M886.2 1250.5V1252.8M888.5 1246.7V1252.6M890.9 1251.2V1257.6M892.6 1272.0V1275.6M895.1 1285.8V1295.9M897.4 1294.2V1302.6M899.5 1303.4V1308.6M901.0 1304.7V1313.0M903.3 1308.8V1321.3M904.9 1286.5V1329.0M906.5 1322.1V1336.5M908.1 1332.8V1343.9M910.0 1342.8V1346.6M912.5 1334.5V1342.5M914.3 1336.2V1339.5M915.9 1326.7V1336.7M918.2 1311.7V1322.0M920.2 1296.1V1301.1M922.2 1273.5V1280.1M924.6 1264.8V1267.7M927.0 1250.4V1255.8M929.2 1249.4V1252.6M931.2 1250.9V1253.0M933.1 1250.1V1253.3M935.4 1243.4V1253.8M937.6 1255.7V1260.5M939.5 1247.6V1267.2M941.5 1262.2V1274.2M943.3 1275.1V1280.8M945.4 1284.0V1286.4M947.0 1276.0V1290.4M948.9 1259.1V1295.3M951.1 1289.7V1301.0M952.9 1281.9V1307.4M954.7 1295.6V1314.7M956.6 1315.3V1322.5M958.4 1312.5V1329.9M960.9 1323.7V1332.8M963.4 1306.9V1328.7M965.8 1314.1V1324.6M967.4 1296.5V1321.9M969.6 1297.0V1300.3M971.2 1278.1V1283.6M973.7 1257.0V1259.7M975.5 1237.3V1246.1M977.6 1228.1V1230.5M979.8 1224.4V1226.8M982.2 1225.2V1228.4M984.1 1225.1V1229.6M985.7 1228.3V1230.7M987.5 1231.3V1240.9M990.0 1251.5V1260.8M992.0 1270.8V1274.0M994.0 1273.2V1275.5M996.0 1260.5V1277.0M997.9 1257.6V1278.4M999.8 1277.0V1279.8M1001.5 1252.0V1281.1M1003.4 1250.7V1279.7M1005.4 1267.1V1276.3M1007.7 1265.0V1272.6M1009.8 1266.3V1269.0M1011.7 1258.2V1262.7M1013.3 1250.1V1256.6M1014.9 1244.9V1250.2M1016.6 1236.5V1240.8M1154.6 1249.3V1253.8M1156.3 1223.9V1241.0M1158.8 1224.0V1236.8M1160.9 1227.7V1233.2M1162.7 1225.6V1230.1M1164.6 1222.6V1226.8M1166.2 1210.4V1217.3M1168.5 1192.1V1197.0M1170.3 1187.9V1191.5M1172.4 1186.6V1192.4M1174.9 1190.3V1193.4M1176.5 1193.4V1196.7M1178.2 1200.3V1205.0M1180.2 1204.0V1214.3M1181.8 1214.9V1222.5M1183.9 1221.0V1227.8M1185.4 1225.5V1229.9M1187.0 1227.1V1232.2M1188.9 1229.9V1234.8M1190.5 1233.0V1237.1M1192.5 1238.5V1243.5M1194.2 1250.3V1255.7M1196.7 1270.3V1273.2M1198.8 1281.2V1286.4M1201.1 1255.4V1299.9M1203.2 1303.0V1307.5M1205.0 1300.1V1305.2M1206.6 1299.2V1303.1M1208.6 1275.8V1300.6M1210.6 1295.6V1298.0M1212.4 1272.6V1295.6M1214.5 1281.0V1288.3M1216.8 1274.5V1277.2M1219.1 1252.6V1265.7M1221.4 1251.0V1254.1M1223.2 1239.8V1243.3M1224.9 1226.8V1232.8M1226.8 1219.7V1224.1M1228.7 1222.8V1231.0M1230.6 1207.5V1237.8M1232.8 1225.2V1245.5M1235.2 1250.9V1253.6M1237.4 1245.5V1260.7M1239.6 1240.5V1267.6M1241.3 1243.3V1254.5M1243.1 1201.4V1238.3M1244.7 1215.8V1223.5M1247.1 1190.3V1198.7M1249.6 1171.0V1177.6M1251.7 1174.1V1176.6M1253.5 1171.3V1175.8M1255.2 1169.9V1175.1M1257.4 1171.5V1174.1M1259.4 1155.8V1173.2M1261.8 1169.4V1172.8M1263.9 1171.9V1174.0M1266.2 1171.7V1175.4M1267.9 1167.8V1176.3M1269.8 1169.7V1177.4M1271.4 1199.6V1201.7M1347.1 1247.2V1249.5M1349.4 1240.8V1257.2M1351.9 1245.5V1248.5M1353.7 1227.5V1242.0M1356.1 1225.3V1236.4M1357.7 1226.2V1233.5M1360.0 1220.4V1229.0M1361.6 1215.5V1226.1M1363.8 1217.0V1222.9M1365.8 1204.1V1220.7M1368.2 1214.0V1217.9M1370.0 1213.6V1215.9M1372.1 1203.8V1213.4M1374.3 1203.1V1213.3M1376.8 1208.7V1214.9M1378.6 1211.2V1216.1M1380.2 1212.9V1217.2M1382.1 1237.4V1248.0M1383.9 1265.4V1290.3M1385.8 1300.1V1302.2M1388.0 1302.4V1315.5M1390.5 1315.1V1320.9M1392.4 1293.9V1319.9M1394.7 1300.9V1318.8M1396.6 1309.5V1317.8M1398.2 1313.6V1317.0M1400.6 1307.7V1315.5M1402.5 1308.9V1314.1M1404.7 1299.9V1312.4M1407.1 1301.0V1310.6M1409.1 1299.9V1309.2M1410.7 1297.3V1301.6M1413.2 1248.4V1266.9M1415.3 1227.9V1235.1M1417.2 1199.9V1207.1M1419.0 1203.6V1210.3M1478.6 1256.4V1264.4M1480.2 1228.4V1236.4M1482.3 1217.5V1224.6M1483.8 1205.0V1223.3M1485.6 1217.4V1221.9M1487.7 1212.4V1217.6M1489.5 1191.2V1197.4M1491.9 1185.8V1192.4M1493.6 1198.0V1206.1M1495.7 1214.3V1223.4M1497.7 1254.9V1258.7M1499.6 1283.2V1295.3M1502.1 1283.2V1301.4M1503.7 1301.9V1305.4M1505.5 1279.9V1297.8M1507.5 1247.1V1267.0M1509.5 1242.5V1245.3M1511.1 1240.3V1244.3M1513.5 1239.0V1242.8M1515.8 1236.5V1241.3M1517.6 1235.7V1240.2M1519.7 1215.9V1220.4M1522.0 1146.2V1157.1M1524.2 1110.3V1116.5M1526.1 1109.9V1117.0M1528.3 1110.4V1117.5M1530.2 1111.2V1117.9M1532.2 1089.2V1118.3M1534.6 1114.5V1118.9M1536.3 1111.0V1124.7M1538.3 1163.0V1166.0M1592.1 1188.7V1196.8M1594.0 1103.5V1106.0M1596.1 1102.9V1106.4M1598.1 1100.1V1106.8M1599.7 1101.2V1107.2M1601.7 1103.6V1107.5M1603.6 1105.4V1107.9M1605.3 1104.7V1108.3M1607.6 1152.8V1158.4M1609.8 1233.2V1251.2M1612.1 1239.7V1293.7M1614.0 1240.5V1281.5M1615.5 1253.7V1271.3M1617.8 1238.9V1260.2M1620.2 1244.4V1259.3M1622.6 1237.6V1258.5M1624.2 1223.9V1258.0M1626.6 1248.9V1257.2M1628.3 1241.4V1256.6M1630.5 1245.9V1266.5M1676.0 1238.0V1253.7M1678.1 1259.5V1266.3M1679.9 1241.6V1268.3M1681.6 1261.6V1268.3M1683.4 1260.7V1268.3M1685.0 1260.7V1268.3M1686.7 1259.9V1265.9M1689.1 1244.4V1262.2M1690.7 1257.3V1260.4M1693.1 1256.5V1262.2M1695.6 1258.3V1264.1M1697.3 1256.0V1265.4M1699.5 1254.5V1267.1M1701.2 1255.6V1268.4M1703.5 1266.2V1270.7M1705.2 1260.3V1272.4M1706.7 1246.1V1253.2M1709.2 1148.5V1151.1M1711.7 1144.4V1151.1M1754.0 1234.1V1246.3M1755.7 1254.6V1258.4M1757.7 1259.8V1268.6M1760.1 1266.4V1270.3M1762.5 1267.8V1271.9M1764.4 1262.3V1273.2M1766.6 1270.2V1275.3M1769.1 1255.4V1277.7M1771.3 1277.8V1279.9M1773.5 1261.0V1264.4M1775.8 1177.9V1180.5M1777.7 1177.8V1182.0M1779.9 1180.5V1183.8M1782.2 1182.6V1185.6M1784.7 1266.8V1273.2M1786.5 1269.4V1282.3M1788.9 1283.8V1294.6M1826.0 1255.0V1257.1M1828.4 1264.4V1268.2M1830.5 1267.2V1271.6M1833.0 1270.6V1272.6M1834.8 1258.4V1273.3M1836.7 1283.2V1286.2M1839.1 1306.7V1315.1M1841.2 1294.4V1325.6M1843.6 1311.7V1331.6M1846.0 1300.4V1330.3M1847.5 1320.3V1323.2M1849.6 1262.4V1314.0M1851.6 1298.6V1305.1M1853.2 1288.1V1293.8M1854.9 1273.2V1281.4M1882.0 1163.3V1165.5M1883.9 1238.7V1243.6M1885.6 1264.2V1272.6M1887.4 1283.8V1287.0M1889.7 1291.2V1296.1M1891.9 1298.1V1304.5M1893.6 1290.9V1309.6M1895.6 1289.0V1313.7M1897.3 1310.8V1317.2M1899.6 1314.6V1320.4M1901.1 1254.0V1261.3M1902.8 1234.3V1250.2M1905.1 1245.6V1248.1M1930.2 1250.3V1256.8M1932.0 1260.4V1264.8M1934.0 1256.1V1268.3M1935.7 1214.3V1268.3M1937.5 1258.8V1268.3M1939.3 1257.5V1268.3M1940.8 1240.3V1268.3M1943.1 1230.9V1236.9M1945.4 1190.2V1194.8M1947.3 1169.0V1172.4M1949.5 1163.7V1172.4M1967.1 1189.7V1192.8M1969.6 1178.8V1185.7M1971.8 1180.4V1183.3M1974.0 1182.2V1187.2M1975.9 1183.8V1191.1M1977.6 1190.7V1194.3M1979.2 1192.4V1197.6M1993.5 1258.1V1272.9M1995.0 1256.0V1284.3M1997.4 1262.7V1284.3M1999.2 1275.1V1284.3M2001.5 1230.3V1284.3M2003.1 1274.4V1284.3M2005.5 1275.6V1284.3M2007.3 1244.5V1261.5M2020.2 1223.0V1226.3M2022.6 1222.4V1230.3M2024.8 1220.4V1234.2M2026.3 1234.0V1236.9M2039.4 1218.5V1243.9M2040.9 1221.7V1226.8M2042.7 1204.6V1209.4M2049.3 1178.3V1180.6M2051.0 1180.1V1183.1M2052.9 1180.2V1185.9M2059.4 1167.5V1195.8M2060.9 1180.1V1197.0M2062.7 1191.9V1198.0M2208.9 1306.5V1315.2M2211.2 1275.8V1279.0M2213.5 1272.1V1279.0M2215.9 1276.1V1279.0M2218.0 1274.8V1279.0M2220.4 1273.0V1277.0M2222.6 1265.8V1271.0M2224.2 1263.1V1266.4M2226.0 1254.2V1261.3M2227.7 1235.3V1258.8M2229.9 1247.8V1256.1M2231.7 1241.4V1254.0M2233.4 1244.9V1252.8M2235.6 1250.5V1255.5M2237.9 1246.2V1258.3M2240.0 1231.4V1260.8M2242.0 1243.8V1263.2M2244.4 1261.8V1266.1M2246.7 1261.7V1268.2M2248.2 1256.0V1267.6M2250.7 1264.1V1266.6M2252.3 1250.8V1265.9M2254.6 1231.0V1265.0M2256.5 1245.4V1264.2M2258.4 1260.4V1263.5M2260.8 1225.4V1263.2M2263.0 1250.1V1263.7M2264.9 1250.4V1264.1M2266.5 1260.1V1264.4M2268.4 1213.0V1264.8M2270.1 1250.6V1265.1M2271.7 1247.6V1265.4M2273.6 1211.8V1265.3M2275.4 1248.8V1264.2M2277.0 1259.9V1263.2M2278.7 1253.7V1262.2M2280.9 1245.4V1260.9M2283.1 1232.4V1259.6M2284.6 1248.3V1258.7M2286.3 1233.6V1257.7M2288.6 1239.2V1259.1M2290.2 1206.0V1260.0M2292.3 1254.0V1261.3M2294.1 1259.1V1262.4M2295.7 1254.6V1263.3M2297.6 1234.6V1264.5M2299.3 1237.6V1265.5M2301.7 1249.1V1265.2M2303.6 1246.3V1264.9M2305.5 1248.1V1264.5M2307.2 1258.6V1264.2M2308.8 1253.2V1263.8M2311.2 1242.5V1263.4M2313.4 1233.9V1263.0M2315.4 1258.1V1263.0M2317.5 1256.9V1263.0M2319.8 1256.0V1263.0M2321.7 1239.0V1263.0M2323.2 1260.8V1263.0M2325.4 1249.0V1264.0M2327.2 1257.3V1265.0M2329.2 1256.6V1266.1M2330.8 1248.0V1266.9" fill="none" stroke="#1f2f60" stroke-width="3.2" stroke-linecap="round"/>
<path d="M584.3 1238.2V1257.6M586.5 1219.0V1250.6M588.3 1180.5V1182.5M590.7 1129.6V1133.2M592.5 1129.2V1133.9M594.4 1130.7V1134.7M596.0 1148.2V1152.3M597.5 1205.3V1210.1M599.3 1234.9V1237.2M601.5 1229.6V1239.1M603.1 1235.0V1240.3M605.1 1232.8V1235.2M607.3 1183.1V1187.3M609.5 1175.4V1184.1M611.3 1178.4V1185.0M613.1 1185.5V1188.6M615.5 1215.1V1220.3M617.4 1218.0V1238.4M619.5 1219.5V1244.2M621.5 1242.3V1249.7M623.0 1227.8V1253.8M625.1 1245.6V1256.7M627.2 1252.5V1258.8M629.2 1225.8V1260.8M631.6 1254.7V1262.9M633.3 1241.4V1261.2M635.0 1249.9V1259.5M636.8 1235.0V1257.7M638.9 1225.0V1255.6M640.8 1230.7V1234.4M643.3 1219.0V1224.9M645.4 1214.8V1217.1M646.9 1216.8V1224.7M648.8 1209.0V1233.7M650.8 1216.3V1243.0M652.7 1242.0V1252.2M655.0 1244.6V1252.2M656.5 1226.7V1249.7M658.3 1232.0V1246.8M660.2 1222.2V1243.6M662.4 1226.8V1230.5M664.5 1206.9V1210.2M666.3 1189.3V1202.3M668.2 1200.7V1203.2M670.3 1200.4V1204.1M671.8 1194.3V1204.7M673.5 1194.8V1205.4M675.8 1203.6V1206.4M678.2 1213.0V1216.0M680.0 1227.3V1235.0M681.5 1244.3V1250.5M683.3 1253.8V1263.1M685.6 1257.9V1269.1M688.0 1259.0V1274.9M689.9 1277.7V1280.0M692.2 1266.0V1284.3M694.6 1282.4V1288.3M697.0 1277.0V1292.3M698.9 1273.8V1293.7M701.1 1270.7V1282.4M702.8 1259.5V1274.2M705.0 1255.5V1263.1M706.8 1250.4V1255.5M708.8 1256.3V1259.0M710.8 1247.4V1262.5M713.2 1255.9V1266.8M715.3 1262.0V1272.5M717.7 1275.9V1283.3M719.4 1266.0V1291.0M721.8 1268.2V1301.7M723.6 1304.5V1306.7M726.0 1288.2V1310.1M728.1 1301.3V1313.1M730.0 1305.7V1315.8M731.9 1313.5V1318.6M734.0 1304.7V1321.2M736.4 1321.0V1323.9M738.3 1278.5V1325.9M740.4 1318.8V1328.2M742.0 1310.0V1330.0M743.9 1319.4V1332.0M745.5 1301.8V1333.8M747.7 1290.3V1335.6M750.1 1317.9V1337.0M751.7 1326.6V1338.0M753.3 1309.9V1339.0M754.9 1337.6V1339.9M756.6 1330.6V1341.0M758.3 1330.9V1342.0M760.3 1334.6V1341.8M761.9 1335.4V1337.9M763.5 1302.6V1334.2M765.9 1315.9V1328.5M768.2 1272.2V1322.9M770.5 1312.9V1317.4M772.1 1300.0V1305.0M774.4 1283.4V1287.3M776.0 1268.0V1275.0M778.2 1259.1V1262.4M780.5 1236.5V1254.5M782.3 1255.4V1258.6M784.3 1266.2V1268.9M786.2 1273.7V1279.4M788.6 1285.6V1291.9M790.7 1268.7V1295.0M792.3 1273.8V1295.0M794.4 1290.3V1295.0M796.7 1280.6V1295.0M798.5 1277.2V1295.0M800.9 1280.7V1286.1M803.3 1254.3V1266.6M805.6 1242.1V1247.1M807.3 1235.7V1240.1M1018.6 1217.3V1223.2M1020.3 1191.7V1216.3M1022.1 1217.0V1219.2M1024.1 1218.8V1222.3M1026.2 1223.4V1225.8M1028.5 1247.0V1251.7M1030.3 1257.0V1270.4M1032.6 1274.4V1279.8M1034.1 1259.2V1286.0M1036.0 1288.3V1293.6M1037.6 1296.1V1300.3M1039.9 1292.6V1308.5M1042.2 1292.1V1311.4M1044.4 1307.4V1314.2M1046.8 1308.7V1317.3M1048.4 1265.4V1319.4M1050.9 1315.7V1320.7M1052.9 1310.5V1318.1M1055.1 1307.9V1315.4M1057.1 1261.3V1312.8M1059.3 1301.2V1309.9M1061.7 1296.1V1306.6M1063.2 1283.4V1303.9M1065.1 1298.7V1300.8M1067.4 1289.7V1296.8M1069.8 1283.2V1292.7M1071.3 1275.1V1290.2M1073.7 1282.3V1287.5M1075.9 1242.5V1285.2M1077.9 1271.6V1283.0M1080.1 1271.6V1281.6M1082.0 1285.9V1290.7M1083.9 1289.0V1300.3M1086.2 1292.0V1311.8M1088.2 1268.0V1321.3M1089.7 1312.4V1323.9M1091.2 1315.5V1326.6M1092.9 1275.9V1329.6M1095.4 1327.6V1333.9M1097.1 1321.1V1334.9M1099.6 1280.9V1334.9M1102.0 1330.8V1334.9M1104.5 1328.2V1334.9M1106.6 1332.6V1334.9M1108.8 1304.3V1332.1M1110.7 1299.7V1329.6M1112.3 1310.3V1327.5M1114.1 1313.4V1325.0M1115.8 1310.4V1322.9M1117.5 1316.4V1321.1M1119.3 1316.9V1323.1M1121.4 1318.5V1325.4M1123.1 1310.7V1327.3M1125.3 1326.5V1329.6M1127.0 1296.8V1315.9M1128.7 1293.3V1302.5M1130.4 1282.2V1288.8M1132.7 1263.8V1269.9M1134.5 1244.6V1246.7M1136.4 1214.4V1218.4M1138.3 1182.5V1190.0M1140.1 1184.1V1187.3M1142.2 1179.2V1189.4M1144.2 1185.3V1191.3M1146.3 1191.3V1193.5M1148.0 1222.9V1234.5M1150.5 1262.9V1268.3M1152.7 1261.9V1268.3M1273.4 1228.2V1238.8M1275.4 1254.5V1261.2M1277.5 1274.0V1280.4M1279.2 1279.0V1294.8M1281.4 1282.7V1313.3M1283.6 1273.5V1327.5M1285.4 1314.5V1336.3M1287.7 1328.2V1348.0M1289.6 1280.1V1315.4M1291.9 1262.8V1272.8M1294.4 1247.1V1249.1M1296.4 1241.8V1244.0M1298.3 1236.1V1239.2M1300.7 1216.3V1228.7M1302.8 1216.3V1219.3M1304.7 1217.3V1219.8M1306.9 1215.6V1222.8M1309.2 1223.0V1226.9M1311.6 1242.3V1245.1M1313.9 1255.4V1261.8M1315.7 1268.6V1272.6M1317.3 1276.9V1281.2M1318.8 1280.2V1289.3M1320.5 1279.9V1298.3M1322.3 1300.8V1308.1M1324.0 1266.4V1313.7M1326.1 1315.0V1320.7M1328.2 1322.7V1327.6M1330.3 1306.9V1334.8M1332.4 1290.7V1309.2M1334.5 1280.4V1283.1M1336.6 1256.7V1261.5M1338.6 1243.9V1247.0M1340.9 1233.4V1239.0M1342.5 1234.1V1239.0M1345.0 1236.2V1239.0M1420.5 1234.6V1237.6M1422.1 1263.0V1266.4M1424.5 1258.2V1278.0M1426.7 1228.3V1238.6M1428.7 1198.6V1203.1M1431.1 1117.6V1139.9M1433.5 1089.5V1093.0M1435.5 1089.3V1094.3M1437.1 1091.6V1095.3M1438.7 1089.7V1096.4M1440.9 1090.7V1097.9M1442.4 1200.4V1203.3M1444.5 1293.4V1306.2M1446.9 1317.0V1325.0M1449.3 1326.2V1328.9M1451.0 1313.9V1331.8M1453.1 1317.7V1332.5M1455.4 1305.5V1311.3M1457.3 1290.3V1292.6M1459.2 1247.9V1283.9M1461.4 1280.0V1283.2M1463.2 1272.9V1282.5M1465.3 1278.1V1281.9M1467.2 1280.4V1284.9M1469.1 1283.5V1291.3M1471.2 1296.4V1298.4M1473.4 1275.4V1305.6M1475.1 1300.7V1303.9M1476.6 1294.0V1296.0M1540.2 1187.4V1191.4M1542.3 1118.2V1121.9M1543.9 1103.5V1105.9M1545.5 1094.5V1105.9M1547.6 1095.5V1105.9M1549.7 1213.5V1218.5M1551.4 1247.5V1256.7M1553.8 1287.0V1295.0M1556.0 1257.1V1295.0M1557.6 1246.7V1295.0M1559.5 1277.3V1295.0M1561.6 1283.6V1295.0M1563.3 1290.3V1292.8M1564.9 1282.8V1287.5M1566.6 1235.9V1282.2M1568.9 1268.2V1274.6M1571.1 1265.1V1267.7M1572.6 1216.1V1262.8M1574.3 1237.5V1255.2M1576.2 1236.1V1245.6M1578.3 1232.6V1243.4M1580.5 1241.7V1250.1M1582.3 1242.1V1255.9M1584.0 1227.2V1260.9M1585.6 1257.0V1263.1M1588.0 1261.9V1266.6M1589.6 1252.7V1268.3M1632.9 1252.3V1260.4M1634.9 1233.2V1255.1M1637.0 1225.1V1258.7M1638.9 1252.7V1262.1M1640.5 1252.6V1264.8M1642.1 1258.4V1267.5M1643.7 1266.1V1268.3M1645.9 1265.3V1268.3M1647.7 1264.5V1268.3M1649.5 1245.7V1268.3M1651.6 1229.8V1268.3M1654.0 1263.3V1266.4M1655.6 1209.5V1262.4M1657.2 1244.1V1258.5M1659.3 1240.1V1253.3M1661.3 1235.1V1248.3M1663.8 1231.5V1242.2M1665.6 1237.4V1242.9M1668.0 1230.4V1243.9M1670.1 1235.6V1244.8M1672.0 1236.0V1245.6M1674.1 1243.5V1246.2M1713.3 1165.4V1171.3M1714.9 1190.3V1192.9M1717.3 1220.8V1223.8M1719.6 1242.6V1246.8M1721.5 1255.4V1259.7M1723.2 1269.8V1275.3M1724.8 1290.6V1296.0M1726.5 1314.4V1318.1M1728.2 1329.9V1336.0M1729.9 1330.6V1340.3M1732.0 1325.2V1345.6M1733.6 1331.0V1343.1M1735.9 1313.0V1322.0M1737.5 1298.9V1308.0M1739.9 1250.6V1253.4M1741.6 1193.8V1198.1M1743.8 1136.2V1142.7M1745.8 1131.1V1136.4M1748.2 1140.2V1142.2M1749.8 1147.4V1154.5M1751.6 1228.9V1234.6M1790.8 1254.8V1284.8M1792.4 1249.2V1261.0M1793.9 1201.3V1238.0M1796.0 1213.1V1224.1M1797.9 1213.3V1215.5M1799.9 1203.4V1207.7M1801.7 1210.0V1212.7M1803.8 1214.2V1218.7M1805.7 1219.7V1223.8M1807.4 1226.8V1240.4M1809.8 1254.2V1274.7M1812.3 1277.1V1283.6M1814.2 1259.2V1285.5M1815.8 1284.3V1287.1M1817.7 1261.2V1289.0M1819.8 1247.8V1281.0M1821.6 1267.7V1271.4M1824.0 1234.4V1257.5M1857.1 1185.8V1188.0M1858.8 1156.5V1158.9M1861.2 1153.4V1158.3M1863.0 1155.3V1157.9M1865.0 1144.3V1157.4M1867.2 1150.0V1156.9M1869.1 1144.3V1147.4M1870.6 1076.7V1080.9M1873.0 1013.3V1024.9M1874.9 1009.7V1012.9M1877.4 1010.8V1014.1M1879.9 1012.6V1015.2M1907.2 1236.0V1248.4M1909.4 1248.0V1251.3M1911.8 1237.0V1241.7M1913.4 1228.4V1230.9M1915.5 1224.1V1226.2M1917.0 1223.9V1226.8M1919.0 1206.2V1227.6M1920.7 1225.2V1228.2M1922.4 1223.6V1228.9M1924.1 1225.9V1229.5M1926.1 1225.8V1236.2M1928.2 1237.1V1246.9M1951.7 1193.7V1200.9M1953.3 1222.0V1226.4M1955.4 1255.8V1259.3M1957.1 1277.7V1282.0M1959.4 1277.4V1285.4M1961.4 1234.2V1288.2M1963.4 1287.6V1291.1M1964.9 1285.3V1293.3M1980.8 1224.2V1230.1M1983.0 1230.9V1245.8M1985.3 1219.2V1245.8M1987.3 1241.8V1245.8M1989.5 1242.2V1245.8M1991.3 1233.5V1245.8M2009.4 1112.3V1123.7M2011.7 1117.5V1122.3M2013.2 1113.3V1121.4M2015.0 1112.0V1120.2M2016.6 1116.9V1119.2M2018.4 1213.7V1215.7M2028.3 1216.5V1246.8M2030.2 1211.5V1257.7M2032.4 1247.3V1257.7M2033.9 1243.7V1257.7M2035.6 1249.3V1257.7M2037.3 1216.6V1257.7M2045.2 1180.7V1186.3M2047.3 1166.0V1182.9M2054.8 1185.3V1188.9M2057.2 1182.4V1192.5M2064.3 1151.3V1198.9M2066.6 1146.5V1182.2M2069.1 1173.9V1180.5M2071.0 1177.1V1179.2M2073.3 1172.6V1177.7M2075.7 1171.4V1176.1M2077.8 1170.3V1174.7M2079.5 1171.3V1173.6M2081.2 1171.0V1173.2M2083.3 1188.5V1195.0M2085.3 1205.3V1214.7M2087.0 1202.9V1220.5M2088.7 1222.4V1226.5M2090.3 1227.2V1232.2M2092.4 1236.1V1238.6M2094.0 1221.2V1241.5M2096.2 1243.5V1245.6M2098.0 1242.3V1249.0M2100.5 1247.1V1250.1M2102.2 1237.4V1244.3M2103.8 1226.2V1239.2M2105.9 1234.3V1239.8M2108.2 1238.1V1240.8M2110.6 1238.0V1244.6M2112.7 1289.0V1294.1M2114.3 1303.2V1307.1M2116.2 1307.9V1311.8M2118.0 1310.4V1315.9M2120.1 1301.8V1321.0M2122.2 1290.3V1326.0M2123.9 1322.5V1329.9M2125.9 1318.6V1334.8M2128.2 1334.8V1339.4M2129.8 1332.2V1342.5M2131.7 1338.2V1346.0M2133.7 1339.5V1349.8M2135.6 1335.7V1353.7M2137.9 1350.6V1358.0M2139.8 1351.4V1361.5M2142.3 1353.5V1359.5M2143.9 1314.3V1358.3M2145.7 1345.8V1356.8M2148.0 1339.2V1355.0M2150.1 1334.1V1353.3M2151.8 1332.8V1351.9M2153.4 1339.0V1350.9M2155.8 1334.1V1350.4M2157.9 1347.4V1350.0M2160.0 1343.4V1349.5M2162.2 1308.7V1349.1M2164.2 1310.8V1348.7M2166.6 1342.9V1348.3M2168.6 1295.1V1349.1M2170.9 1347.0V1350.1M2172.9 1341.1V1350.9M2175.0 1345.6V1351.7M2176.6 1336.7V1352.3M2178.6 1299.1V1353.1M2180.8 1344.0V1352.9M2182.5 1303.7V1351.9M2185.0 1319.1V1350.4M2186.5 1334.3V1349.5M2188.9 1327.7V1348.0M2191.0 1314.1V1346.8M2193.0 1339.4V1345.6M2195.5 1302.6V1344.1M2197.4 1316.8V1343.0M2199.1 1321.0V1341.9M2200.7 1289.0V1341.0M2202.5 1300.4V1339.9M2204.9 1329.4V1338.4M2207.3 1330.3V1337.6" fill="none" stroke="#c58316" stroke-width="3.2" stroke-linecap="round"/>
<path d="M221.1 1184.3h0M222.7 1183.0h0M222.4 1182.2h0M224.6 1184.9h0M225.0 1185.9h0M226.4 1184.6h0M226.2 1184.4h0M230.0 1204.2h0M232.6 1219.6h0M232.1 1234.6h0M233.4 1230.5h0M236.6 1235.0h0M235.8 1253.3h0M237.4 1236.9h0M239.4 1251.9h0M240.7 1248.9h0M240.5 1228.0h0M242.7 1242.0h0M243.0 1232.8h0M243.4 1213.2h0M246.1 1259.5h0M244.8 1216.9h0M247.7 1257.6h0M248.5 1261.4h0M251.0 1256.7h0M253.0 1258.0h0M254.1 1242.7h0M255.8 1237.6h0M255.2 1233.8h0M255.3 1239.7h0M258.4 1208.8h0M257.0 1221.6h0M259.7 1215.0h0M261.6 1221.7h0M260.5 1220.5h0M261.2 1215.0h0M263.9 1216.7h0M264.9 1212.8h0M264.2 1210.9h0M266.6 1171.7h0M269.1 1209.3h0M268.2 1200.8h0M270.0 1211.6h0M269.5 1195.6h0M272.6 1210.8h0M271.3 1211.3h0M272.4 1192.9h0M275.1 1210.8h0M276.4 1223.9h0M278.7 1250.2h0M279.1 1238.8h0M282.1 1252.6h0M280.3 1244.0h0M282.2 1250.9h0M284.1 1260.6h0M285.4 1224.4h0M285.3 1247.7h0M286.4 1243.0h0M288.9 1232.9h0M288.7 1216.7h0M295.8 1216.5h0M302.2 1215.8h0M301.8 1212.2h0M300.9 1198.7h0M303.7 1211.8h0M302.9 1171.8h0M304.5 1201.1h0M305.6 1201.4h0M305.0 1200.7h0M305.3 1178.4h0M308.8 1181.9h0M307.9 1180.0h0M311.1 1179.8h0M309.9 1177.4h0M312.6 1183.9h0M312.1 1164.2h0M315.3 1199.2h0M314.4 1190.7h0M316.5 1223.0h0M316.6 1221.6h0M318.3 1219.2h0M318.0 1213.7h0M321.3 1202.0h0M321.8 1201.7h0M321.5 1188.7h0M325.0 1174.3h0M329.1 1181.5h0M331.5 1178.0h0M329.9 1150.1h0M333.0 1174.9h0M334.5 1182.3h0M335.1 1177.2h0M335.7 1185.0h0M335.3 1182.3h0M335.5 1171.8h0M338.4 1186.7h0M337.0 1173.4h0M342.2 1209.8h0M345.8 1220.7h0M349.4 1212.4h0M348.5 1213.1h0M349.1 1207.5h0M351.2 1178.8h0M350.5 1170.9h0M349.5 1163.2h0M352.8 1122.0h0M351.3 1119.0h0M353.1 1114.4h0M354.4 1108.1h0M356.5 1115.2h0M357.5 1116.6h0M358.2 1108.7h0M360.0 1105.9h0M361.1 1122.1h0M362.0 1116.1h0M364.6 1147.2h0M365.6 1187.6h0M366.4 1172.8h0M367.9 1200.2h0M367.6 1189.7h0M368.6 1217.9h0M368.8 1179.9h0M372.0 1229.7h0M371.6 1214.7h0M372.7 1231.7h0M372.5 1227.4h0M375.9 1230.4h0M375.5 1224.6h0M377.0 1223.2h0M376.8 1209.9h0M379.1 1231.3h0M381.0 1239.7h0M380.9 1239.2h0M383.8 1231.4h0M386.6 1247.2h0M387.3 1224.9h0M389.2 1246.0h0M389.5 1247.2h0M391.5 1253.3h0M390.2 1243.4h0M393.5 1231.6h0M393.0 1236.3h0M392.7 1230.8h0M394.3 1200.0h0M395.4 1208.8h0M397.6 1199.5h0M397.6 1198.5h0M398.6 1191.8h0M401.0 1201.7h0M401.4 1196.0h0M402.6 1207.7h0M402.0 1201.3h0M403.6 1198.9h0M404.1 1245.8h0M405.8 1244.2h0M406.9 1271.3h0M407.3 1270.8h0M409.3 1268.3h0M408.5 1239.4h0M411.1 1267.0h0M413.8 1278.8h0M412.7 1273.3h0M416.0 1273.6h0M415.7 1267.5h0M417.0 1243.4h0M419.1 1269.1h0M420.2 1257.7h0M423.6 1265.1h0M427.2 1271.2h0M429.0 1276.2h0M428.7 1277.0h0M433.3 1259.7h0M434.1 1256.4h0M436.7 1242.2h0M436.8 1243.8h0M438.9 1252.6h0M438.9 1242.4h0M443.7 1246.6h0M443.0 1236.4h0M443.2 1235.0h0M445.4 1243.6h0M446.7 1233.3h0M446.3 1243.0h0M449.2 1238.7h0M449.7 1238.5h0M450.1 1233.5h0M451.4 1233.9h0M452.1 1238.8h0M451.6 1223.1h0M454.5 1244.5h0M454.6 1226.5h0M456.3 1244.0h0M457.1 1252.2h0M457.9 1247.7h0M458.8 1247.0h0M459.8 1244.0h0M461.3 1264.5h0M464.6 1283.6h0M466.0 1275.6h0M470.8 1259.6h0M470.6 1243.4h0M472.9 1247.5h0M473.0 1251.7h0M473.8 1249.6h0M474.8 1245.0h0M475.7 1245.4h0M478.4 1242.1h0M477.9 1241.4h0M479.7 1234.7h0M481.4 1243.4h0M480.9 1242.7h0M483.0 1240.9h0M484.3 1241.0h0M485.0 1250.8h0M484.8 1246.5h0M488.6 1255.7h0M487.3 1251.9h0M487.5 1247.4h0M489.7 1255.9h0M491.6 1257.7h0M492.1 1260.0h0M495.4 1274.1h0M495.8 1275.3h0M499.3 1271.6h0M500.4 1267.1h0M499.1 1250.8h0M503.1 1286.1h0M504.5 1276.7h0M504.0 1286.8h0M504.3 1268.0h0M506.5 1286.2h0M508.8 1285.1h0M511.0 1274.8h0M511.6 1270.5h0M510.8 1249.6h0M514.3 1249.0h0M519.2 1242.5h0M520.2 1241.3h0M521.4 1237.5h0M522.4 1228.2h0M523.1 1240.4h0M524.0 1234.2h0M522.6 1217.8h0M526.5 1239.9h0M526.7 1234.9h0M527.3 1240.6h0M528.5 1240.0h0M531.9 1242.1h0M533.2 1236.5h0M536.1 1252.5h0M537.7 1241.5h0M537.4 1244.2h0M537.7 1228.2h0M539.2 1245.2h0M541.1 1227.4h0M542.2 1241.2h0M545.0 1187.0h0M546.1 1223.8h0M548.0 1219.0h0M548.0 1223.1h0M551.2 1212.9h0M552.9 1202.7h0M555.7 1204.8h0M555.7 1198.5h0M556.7 1205.8h0M556.5 1206.0h0M561.9 1218.9h0M561.2 1213.8h0M565.8 1226.1h0M567.3 1240.9h0M565.9 1220.5h0M567.9 1227.2h0M571.1 1243.9h0M569.4 1245.3h0M571.0 1239.9h0M572.8 1247.9h0M574.4 1242.8h0M575.0 1234.8h0M576.1 1248.0h0M575.7 1245.5h0M579.1 1241.3h0M577.3 1231.0h0M579.1 1223.3h0M579.7 1228.6h0M580.3 1207.6h0M582.1 1233.7h0M582.0 1233.5h0M808.8 1211.2h0M810.0 1205.8h0M812.1 1205.2h0M810.9 1202.0h0M813.7 1206.8h0M814.3 1212.6h0M816.7 1213.8h0M816.7 1213.0h0M817.9 1227.2h0M819.4 1235.9h0M820.7 1210.8h0M821.0 1234.9h0M821.3 1217.2h0M824.1 1252.2h0M824.0 1204.3h0M827.5 1251.6h0M827.7 1218.2h0M830.6 1246.0h0M830.0 1227.6h0M832.9 1237.8h0M832.4 1234.1h0M834.9 1227.0h0M833.7 1223.3h0M835.7 1193.1h0M838.8 1212.6h0M837.7 1195.0h0M837.1 1204.0h0M839.3 1211.6h0M841.8 1217.5h0M841.0 1206.4h0M841.9 1209.6h0M844.4 1219.0h0M844.3 1209.7h0M846.7 1230.4h0M845.1 1223.0h0M845.6 1224.4h0M847.7 1247.4h0M848.2 1251.6h0M849.6 1248.6h0M850.2 1260.9h0M854.2 1263.5h0M855.3 1242.4h0M857.9 1242.8h0M856.9 1251.3h0M857.4 1252.6h0M860.3 1267.1h0M860.7 1270.6h0M862.7 1261.7h0M862.4 1273.0h0M863.7 1235.0h0M864.5 1268.5h0M864.7 1259.9h0M866.3 1251.8h0M867.7 1257.6h0M866.1 1239.6h0M868.7 1227.6h0M869.1 1213.7h0M869.7 1211.5h0M872.3 1222.0h0M874.5 1231.9h0M875.2 1240.2h0M876.9 1237.2h0M875.9 1230.2h0M878.1 1240.9h0M878.1 1203.9h0M877.8 1236.0h0M880.0 1236.8h0M881.6 1235.4h0M883.2 1222.4h0M884.0 1214.0h0M886.2 1241.0h0M886.3 1235.1h0M888.7 1231.0h0M890.8 1230.3h0M891.6 1262.2h0M893.6 1261.8h0M893.1 1248.6h0M897.0 1280.6h0M900.2 1286.8h0M899.5 1288.2h0M901.6 1291.0h0M901.0 1289.0h0M903.4 1284.6h0M905.3 1297.4h0M904.1 1297.6h0M906.2 1310.6h0M907.4 1305.8h0M905.6 1304.7h0M908.9 1312.2h0M908.2 1299.5h0M907.1 1301.1h0M909.8 1314.0h0M909.6 1316.2h0M913.3 1309.5h0M913.8 1305.6h0M914.3 1293.6h0M915.0 1305.6h0M916.0 1276.2h0M918.5 1292.7h0M918.1 1287.1h0M919.9 1263.6h0M919.8 1282.8h0M924.9 1256.6h0M926.1 1241.9h0M926.2 1227.8h0M929.6 1229.5h0M931.2 1237.0h0M930.3 1236.0h0M931.2 1233.1h0M933.6 1239.4h0M935.2 1237.5h0M938.5 1236.8h0M936.8 1232.5h0M938.8 1253.1h0M940.4 1251.3h0M941.1 1244.0h0M941.1 1243.0h0M943.1 1266.5h0M945.6 1265.9h0M945.5 1269.5h0M946.1 1247.6h0M946.9 1270.4h0M947.8 1232.6h0M950.7 1273.8h0M951.3 1257.3h0M955.3 1284.6h0M955.3 1262.6h0M957.2 1297.0h0M955.8 1295.7h0M958.3 1301.7h0M958.2 1292.8h0M960.7 1287.4h0M963.8 1284.5h0M964.0 1267.2h0M964.8 1295.6h0M965.5 1242.2h0M968.0 1291.9h0M969.3 1269.3h0M971.2 1263.8h0M974.3 1243.8h0M974.1 1246.1h0M975.5 1234.0h0M976.5 1226.4h0M980.0 1213.4h0M979.8 1202.7h0M981.5 1214.2h0M982.8 1216.2h0M983.8 1217.3h0M984.5 1215.9h0M986.2 1207.7h0M987.0 1218.7h0M990.5 1233.5h0M990.9 1228.8h0M992.8 1233.5h0M991.2 1228.6h0M994.5 1243.6h0M994.4 1237.0h0M997.8 1241.6h0M997.7 1213.1h0M999.4 1237.7h0M999.8 1232.5h0M1002.3 1236.7h0M1002.3 1211.1h0M1002.4 1237.5h0M1003.8 1235.6h0M1005.0 1248.4h0M1004.7 1244.5h0M1004.6 1233.9h0M1008.1 1226.8h0M1011.4 1210.2h0M1013.1 1217.6h0M1014.2 1224.2h0M1017.5 1222.3h0M1016.9 1217.8h0M1154.4 1224.9h0M1155.5 1225.7h0M1155.9 1212.4h0M1159.6 1203.6h0M1159.0 1192.4h0M1161.4 1208.5h0M1161.8 1199.6h0M1162.7 1205.4h0M1162.1 1204.4h0M1163.0 1200.2h0M1164.8 1208.6h0M1165.0 1200.2h0M1166.3 1200.8h0M1165.9 1197.1h0M1167.0 1192.3h0M1170.4 1180.0h0M1169.3 1172.6h0M1171.8 1176.4h0M1172.0 1170.4h0M1175.7 1182.1h0M1177.2 1183.7h0M1176.2 1184.1h0M1178.7 1189.9h0M1184.7 1214.4h0M1185.7 1210.7h0M1186.3 1212.2h0M1186.1 1211.2h0M1189.5 1215.6h0M1189.0 1209.9h0M1191.3 1223.5h0M1189.7 1223.1h0M1192.6 1230.3h0M1194.8 1239.4h0M1193.7 1230.5h0M1196.2 1242.9h0M1197.1 1245.7h0M1199.1 1262.2h0M1199.1 1257.1h0M1201.6 1254.3h0M1201.8 1272.4h0M1200.8 1257.6h0M1202.9 1268.6h0M1202.8 1266.6h0M1204.1 1273.9h0M1207.5 1263.8h0M1209.1 1267.5h0M1208.6 1255.5h0M1210.8 1271.1h0M1211.5 1248.0h0M1212.3 1219.9h0M1213.8 1244.2h0M1217.2 1254.2h0M1217.4 1230.3h0M1218.8 1244.7h0M1221.4 1234.9h0M1221.0 1237.8h0M1223.4 1224.7h0M1222.4 1228.1h0M1225.3 1220.4h0M1225.2 1219.5h0M1228.3 1215.9h0M1229.6 1213.8h0M1228.3 1200.3h0M1231.3 1216.2h0M1229.9 1216.7h0M1232.8 1224.3h0M1234.4 1215.1h0M1237.0 1228.4h0M1237.6 1202.5h0M1239.6 1235.0h0M1240.1 1207.8h0M1240.3 1230.4h0M1240.6 1224.0h0M1241.6 1227.6h0M1243.5 1183.2h0M1244.7 1198.2h0M1247.7 1181.7h0M1248.6 1155.2h0M1251.7 1165.4h0M1251.7 1154.9h0M1252.7 1164.8h0M1254.1 1144.4h0M1254.3 1156.6h0M1255.1 1151.6h0M1258.1 1153.3h0M1257.2 1156.4h0M1260.0 1161.5h0M1262.4 1160.8h0M1263.4 1159.8h0M1264.8 1161.2h0M1267.1 1163.8h0M1267.1 1162.0h0M1267.3 1164.9h0M1270.3 1161.1h0M1269.4 1165.2h0M1270.4 1165.0h0M1348.1 1224.3h0M1350.0 1233.2h0M1349.3 1223.9h0M1351.9 1222.7h0M1352.3 1223.5h0M1354.6 1216.1h0M1357.1 1205.4h0M1356.8 1203.1h0M1357.0 1191.0h0M1357.0 1206.9h0M1359.9 1191.2h0M1359.3 1193.6h0M1362.0 1202.0h0M1363.1 1201.0h0M1366.2 1199.2h0M1368.8 1200.1h0M1368.3 1194.5h0M1370.1 1201.8h0M1370.8 1197.9h0M1369.0 1195.1h0M1372.4 1195.8h0M1374.2 1201.6h0M1375.0 1193.5h0M1377.2 1201.9h0M1376.3 1190.3h0M1378.5 1204.1h0M1378.8 1197.7h0M1380.5 1199.3h0M1379.5 1203.6h0M1380.6 1198.7h0M1382.4 1227.1h0M1384.6 1265.5h0M1384.1 1266.0h0M1386.0 1258.6h0M1386.8 1272.4h0M1385.2 1250.7h0M1387.4 1241.3h0M1388.4 1284.4h0M1388.7 1282.6h0M1389.7 1248.2h0M1390.6 1262.9h0M1393.3 1251.7h0M1395.2 1253.2h0M1396.1 1288.0h0M1397.3 1284.6h0M1398.8 1280.5h0M1397.2 1233.8h0M1400.4 1282.3h0M1400.6 1278.7h0M1401.7 1286.8h0M1401.7 1275.6h0M1403.8 1281.8h0M1408.1 1273.9h0M1406.2 1271.1h0M1409.7 1273.5h0M1413.6 1250.8h0M1413.1 1243.8h0M1414.3 1219.2h0M1414.9 1217.4h0M1417.5 1191.8h0M1416.6 1186.2h0M1478.2 1239.0h0M1479.5 1241.4h0M1480.4 1221.6h0M1479.3 1210.8h0M1480.3 1212.5h0M1483.2 1212.3h0M1482.2 1209.7h0M1483.4 1212.2h0M1483.5 1202.1h0M1484.7 1210.6h0M1485.4 1209.2h0M1488.6 1200.7h0M1487.0 1198.1h0M1491.7 1178.9h0M1492.0 1175.5h0M1493.9 1194.8h0M1493.6 1176.9h0M1496.6 1212.2h0M1495.5 1205.3h0M1495.5 1206.6h0M1496.7 1228.3h0M1498.4 1220.6h0M1499.2 1266.9h0M1501.6 1267.7h0M1502.7 1261.3h0M1504.2 1273.4h0M1504.5 1257.8h0M1504.9 1270.3h0M1505.7 1266.7h0M1506.6 1237.1h0M1509.1 1209.9h0M1510.7 1216.1h0M1511.6 1224.3h0M1513.5 1215.7h0M1516.1 1222.9h0M1515.1 1193.2h0M1518.2 1226.6h0M1518.3 1218.3h0M1518.6 1222.2h0M1519.8 1204.0h0M1520.5 1192.9h0M1520.0 1200.6h0M1522.7 1145.9h0M1521.9 1144.9h0M1526.9 1094.8h0M1526.0 1098.4h0M1529.3 1106.0h0M1529.4 1100.0h0M1530.9 1105.8h0M1531.9 1101.5h0M1534.7 1104.8h0M1534.4 1102.6h0M1536.0 1109.8h0M1536.6 1097.8h0M1537.6 1148.0h0M1593.0 1085.0h0M1593.1 1086.3h0M1596.8 1085.9h0M1598.7 1094.2h0M1598.2 1089.0h0M1599.4 1086.9h0M1600.5 1079.6h0M1601.3 1095.1h0M1602.9 1091.8h0M1604.6 1094.5h0M1608.4 1133.2h0M1608.8 1222.4h0M1610.4 1172.3h0M1612.0 1254.0h0M1613.2 1253.3h0M1616.4 1220.9h0M1617.2 1232.3h0M1617.3 1211.8h0M1619.3 1231.6h0M1623.6 1233.0h0M1623.5 1227.3h0M1623.9 1225.9h0M1624.6 1214.0h0M1627.2 1228.4h0M1626.8 1226.2h0M1626.0 1192.0h0M1627.7 1225.8h0M1627.8 1205.2h0M1630.7 1223.1h0M1677.9 1239.3h0M1679.1 1232.2h0M1680.3 1218.7h0M1681.9 1230.9h0M1682.0 1228.7h0M1680.6 1231.7h0M1683.3 1212.3h0M1683.8 1220.8h0M1685.2 1240.2h0M1684.2 1224.3h0M1684.1 1219.5h0M1687.3 1238.0h0M1687.4 1220.8h0M1689.0 1231.8h0M1690.6 1220.9h0M1691.0 1229.5h0M1693.2 1212.9h0M1693.4 1224.9h0M1695.8 1224.8h0M1695.9 1226.4h0M1695.6 1226.2h0M1696.3 1206.0h0M1699.7 1237.3h0M1700.2 1237.2h0M1702.7 1236.1h0M1702.6 1196.4h0M1704.3 1242.5h0M1706.2 1215.3h0M1706.8 1228.8h0M1710.8 1133.0h0M1711.5 1123.6h0M1754.1 1219.2h0M1755.8 1233.9h0M1755.0 1191.0h0M1756.2 1231.7h0M1758.0 1241.0h0M1759.3 1235.9h0M1762.9 1235.2h0M1762.8 1239.9h0M1764.1 1234.0h0M1764.4 1241.8h0M1764.9 1225.0h0M1767.0 1244.6h0M1768.2 1246.7h0M1769.5 1244.1h0M1771.5 1233.9h0M1770.3 1242.0h0M1771.6 1233.9h0M1774.3 1231.1h0M1773.2 1238.6h0M1776.3 1161.1h0M1775.9 1157.6h0M1777.0 1163.9h0M1776.8 1163.9h0M1780.6 1164.4h0M1784.9 1223.2h0M1784.2 1211.6h0M1787.0 1252.5h0M1788.1 1266.0h0M1827.0 1245.3h0M1829.1 1255.6h0M1829.1 1228.3h0M1828.9 1239.9h0M1830.3 1254.9h0M1830.4 1252.3h0M1832.4 1259.5h0M1832.9 1250.0h0M1835.3 1258.6h0M1837.3 1265.6h0M1839.7 1284.6h0M1839.7 1289.1h0M1840.9 1293.3h0M1843.9 1303.5h0M1842.7 1284.7h0M1848.4 1289.6h0M1848.0 1286.6h0M1853.4 1266.1h0M1854.0 1265.8h0M1882.9 1153.6h0M1882.0 1153.1h0M1886.2 1236.0h0M1887.6 1252.1h0M1887.3 1263.3h0M1889.0 1259.9h0M1888.9 1254.3h0M1893.9 1269.5h0M1896.6 1273.0h0M1895.5 1266.3h0M1899.2 1277.7h0M1900.1 1292.0h0M1900.4 1233.0h0M1903.4 1234.9h0M1905.3 1230.2h0M1932.7 1234.0h0M1932.3 1211.3h0M1934.9 1239.9h0M1933.4 1230.5h0M1935.4 1236.9h0M1937.5 1229.7h0M1938.5 1241.3h0M1938.7 1228.9h0M1939.5 1189.6h0M1940.5 1239.6h0M1943.0 1193.7h0M1942.5 1216.5h0M1946.2 1182.0h0M1945.6 1182.8h0M1947.7 1161.2h0M1949.3 1159.8h0M1949.5 1148.9h0M1949.8 1146.9h0M1967.0 1179.1h0M1966.8 1165.6h0M1968.1 1175.6h0M1972.4 1165.2h0M1970.9 1166.4h0M1976.7 1178.3h0M1976.0 1178.2h0M1977.5 1178.2h0M1979.7 1179.9h0M1978.7 1183.1h0M1978.5 1164.0h0M1993.9 1243.6h0M1994.6 1238.5h0M1997.2 1252.3h0M1998.1 1252.4h0M1999.2 1254.9h0M2001.2 1251.2h0M2002.0 1254.1h0M2001.0 1243.0h0M2003.8 1252.3h0M2005.7 1243.5h0M2006.2 1222.7h0M2007.5 1229.5h0M2007.1 1222.5h0M2007.6 1188.5h0M2020.2 1213.6h0M2019.7 1213.2h0M2023.1 1207.8h0M2022.7 1198.8h0M2023.3 1205.1h0M2024.2 1198.3h0M2024.4 1193.0h0M2026.2 1211.1h0M2027.0 1205.5h0M2026.1 1195.3h0M2038.4 1188.4h0M2040.4 1201.2h0M2041.9 1183.1h0M2050.1 1164.2h0M2049.2 1164.1h0M2051.2 1167.8h0M2052.2 1168.3h0M2053.3 1162.1h0M2061.0 1168.5h0M2061.3 1155.8h0M2061.4 1136.8h0M2062.5 1162.8h0M2063.5 1154.8h0M2209.0 1277.4h0M2209.8 1282.2h0M2211.7 1267.7h0M2210.8 1264.3h0M2211.2 1228.1h0M2214.0 1259.4h0M2214.3 1263.5h0M2216.6 1263.7h0M2216.8 1265.1h0M2216.1 1233.1h0M2218.0 1240.5h0M2218.8 1262.2h0M2220.2 1264.1h0M2221.2 1262.0h0M2221.7 1250.6h0M2222.7 1223.1h0M2224.8 1245.9h0M2224.5 1221.9h0M2224.3 1240.4h0M2225.9 1232.4h0M2225.4 1230.1h0M2226.6 1220.4h0M2228.6 1236.1h0M2227.7 1235.4h0M2229.4 1235.4h0M2230.1 1232.4h0M2231.0 1236.3h0M2232.6 1234.0h0M2233.6 1234.5h0M2232.7 1233.9h0M2232.7 1203.9h0M2234.7 1236.2h0M2236.5 1233.1h0M2237.1 1234.2h0M2239.7 1231.6h0M2240.4 1170.5h0M2242.8 1218.4h0M2241.0 1230.7h0M2244.2 1196.1h0M2244.5 1235.8h0M2246.3 1236.7h0M2247.2 1171.1h0M2246.9 1236.0h0M2248.8 1237.6h0M2248.6 1236.2h0M2249.9 1235.2h0M2251.5 1236.4h0M2252.6 1225.2h0M2252.6 1188.0h0M2254.3 1214.8h0M2254.7 1191.8h0M2255.6 1229.2h0M2256.5 1234.5h0M2256.0 1235.5h0M2259.2 1223.2h0M2258.3 1217.5h0M2261.3 1225.9h0M2261.0 1232.7h0M2263.6 1234.3h0M2263.1 1220.7h0M2264.8 1231.9h0M2264.0 1235.6h0M2264.5 1189.4h0M2267.3 1225.4h0M2266.4 1225.9h0M2267.9 1234.4h0M2267.9 1207.5h0M2268.0 1200.5h0M2269.3 1219.9h0M2270.1 1212.5h0M2271.1 1224.0h0M2271.9 1229.3h0M2273.4 1228.0h0M2274.4 1223.8h0M2275.0 1226.1h0M2274.6 1192.2h0M2275.3 1221.8h0M2277.1 1215.4h0M2276.9 1204.8h0M2278.5 1232.3h0M2278.9 1221.3h0M2278.6 1218.9h0M2280.5 1217.4h0M2280.5 1230.1h0M2279.9 1222.7h0M2283.3 1232.2h0M2282.7 1195.8h0M2285.5 1215.1h0M2284.7 1220.1h0M2283.8 1201.2h0M2286.3 1186.0h0M2287.2 1153.8h0M2286.2 1219.3h0M2289.6 1216.6h0M2288.4 1208.6h0M2289.6 1212.9h0M2289.4 1224.3h0M2290.5 1227.6h0M2292.3 1224.0h0M2292.7 1206.3h0M2293.2 1224.4h0M2294.9 1222.4h0M2294.6 1214.2h0M2294.9 1232.4h0M2295.3 1218.4h0M2297.7 1236.3h0M2297.6 1223.4h0M2297.2 1202.7h0M2299.3 1190.4h0M2299.8 1201.7h0M2302.6 1229.6h0M2300.9 1210.9h0M2302.6 1219.6h0M2304.2 1235.5h0M2302.6 1214.9h0M2306.5 1224.6h0M2305.7 1221.6h0M2307.5 1215.6h0M2307.5 1217.3h0M2308.9 1219.3h0M2307.8 1224.3h0M2312.1 1199.8h0M2310.3 1180.1h0M2314.3 1219.7h0M2313.2 1227.6h0M2312.5 1201.4h0M2314.4 1234.4h0M2315.9 1214.8h0M2314.6 1190.9h0M2317.4 1213.1h0M2317.0 1204.9h0M2318.3 1216.0h0M2319.6 1219.9h0M2319.5 1223.3h0M2321.3 1234.1h0M2322.3 1183.4h0M2321.0 1216.8h0M2323.7 1225.1h0M2323.3 1221.9h0M2322.9 1225.2h0M2324.5 1221.1h0M2325.2 1188.9h0M2327.9 1232.0h0M2326.9 1219.3h0M2328.0 1204.8h0M2329.6 1234.8h0M2328.8 1234.1h0M2330.4 1199.4h0M2330.1 1224.0h0M359.8 1044.5h0M355.3 1065.2h0M359.8 1089.7h0M224.0 1111.8h0M385.1 1111.8h0M245.3 1145.1h0M266.6 1137.1h0M257.3 1155.8h0M310.5 1148.3h0M389.6 1145.9h0M224.0 1169.1h0M238.6 1173.9h0M342.5 1154.5h0M291.9 1183.8h0M269.2 1194.4h0M291.9 1206.4h0M422.4 1168.6h0M455.7 1161.1h0M477.0 1161.1h0M468.5 1168.6h0M498.3 1171.8h0M498.3 1178.4h0M454.4 1184.6h0M455.7 1198.4h0M479.1 1203.7h0M479.1 1209.1h0M510.3 1206.4h0M554.2 1154.5h0M577.7 1158.5h0M545.4 1175.0h0M568.9 1187.7h0M551.6 1197.1h0M558.2 1202.4h0M570.2 1213.8h0M568.9 1227.7h0M524.9 1219.7h0M499.6 1221.0h0M454.4 1223.7h0M435.7 1218.4h0M443.7 1226.4h0M477.0 1227.7h0M399.8 1189.1h0M405.1 1190.4h0M393.1 1191.7h0M389.1 1215.7h0M377.1 1211.7h0M370.5 1230.4h0M383.8 1230.4h0M241.3 1219.7h0M240.0 1231.7h0M246.6 1239.7h0M421.1 1241.0h0M414.4 1247.7h0M466.3 1238.4h0M501.0 1243.7h0M429.1 1254.3h0M811.0 1058.8h0M811.8 1118.0h0M811.8 1137.1h0M887.7 1087.9h0M918.9 1111.0h0M918.9 1120.6h0M898.9 1129.7h0M918.9 1154.5h0M833.6 1170.4h0M861.9 1177.6h0M837.1 1186.4h0M843.8 1186.4h0M830.4 1193.1h0M826.4 1198.4h0M842.4 1201.1h0M842.4 1207.7h0M812.6 1196.3h0M882.4 1194.4h0M887.7 1199.7h0M910.3 1198.4h0M910.3 1217.0h0M881.8 1217.0h0M889.0 1230.4h0M898.4 1230.9h0M950.3 1183.0h0M950.3 1191.7h0M981.7 1191.7h0M983.6 1198.4h0M1008.4 1185.1h0M1007.6 1201.1h0M1015.5 1205.1h0M1004.4 1211.7h0M1012.9 1217.0h0M1008.9 1225.0h0M1000.9 1235.7h0M1011.5 1239.7h0M950.3 1231.7h0M930.3 1223.7h0M925.0 1229.0h0M937.0 1242.3h0M917.0 1242.3h0M950.3 1254.3h0M861.1 1235.7h0M854.4 1242.3h0M831.8 1222.4h0M1157.2 1151.8h0M1154.6 1173.9h0M1346.3 1209.1h0M1171.9 1151.0h0M1205.2 1185.9h0M1226.0 1167.8h0M1232.3 1186.4h0M1232.3 1194.4h0M1241.1 1213.8h0M1215.8 1222.4h0M1190.5 1199.7h0M1182.5 1207.7h0M1159.9 1178.4h0M1159.9 1187.7h0M1159.9 1198.4h0M1265.6 1111.8h0M1265.6 1134.5h0M1250.5 1147.8h0M1255.8 1154.5h0M1266.4 1147.8h0M1366.3 1153.1h0M1366.3 1170.4h0M1379.6 1170.4h0M1366.3 1181.1h0M1378.3 1182.4h0M1367.7 1191.7h0M1377.0 1193.1h0M1493.4 1126.5h0M1493.4 1150.5h0M1493.4 1155.8h0M1505.6 1167.2h0M1511.5 1188.5h0M1390.3 1241.0h0M1408.9 1251.1h0M1395.6 1262.3h0M1390.3 1273.0h0M1403.6 1281.0h0M1210.5 1263.7h0M1201.2 1265.0h0M1511.5 1222.4h0M1511.5 1230.4h0M1530.7 1081.2h0M1530.7 1095.1h0M1599.1 1060.7h0M1599.9 1086.5h0M1621.2 1178.4h0M1613.2 1185.9h0M1622.5 1197.1h0M1627.9 1201.1h0M1618.5 1207.7h0M1626.5 1214.4h0M1616.4 1229.6h0M1693.1 1138.5h0M1693.1 1149.1h0M1693.1 1177.1h0M1693.1 1191.7h0M1693.1 1206.4h0M1681.1 1210.4h0M1701.1 1210.4h0M1693.1 1226.4h0M1710.4 1117.2h0M1710.4 1126.5h0M1710.4 1131.8h0M1779.7 1146.5h0M1779.7 1153.1h0M1761.8 1199.7h0M1761.0 1230.4h0M1761.0 1239.7h0M1790.3 1230.4h0M1833.0 1204.5h0M1888.9 1209.1h0M1888.9 1226.4h0M1906.2 1195.7h0M1906.2 1225.0h0M1906.2 1230.4h0M1941.6 1199.7h0M1941.6 1209.1h0M1947.5 1141.1h0M1946.2 1146.5h0M1947.5 1155.8h0M1935.5 1233.0h0M1850.3 1283.6h0M1852.9 1273.0h0M1844.9 1291.6h0M2228.2 1098.0h0M2260.4 1101.7h0M2295.0 1098.0h0M2312.9 1094.5h0M2315.5 1098.5h0M2226.3 1117.2h0M2230.3 1121.2h0M2322.2 1114.5h0M2237.0 1134.5h0M2251.1 1143.8h0M2263.1 1137.9h0M2312.9 1139.3h0M2328.9 1143.8h0M2231.6 1155.8h0M2233.0 1162.4h0M2260.4 1161.1h0M2291.6 1155.8h0M2295.6 1163.8h0M2323.5 1155.8h0M2227.7 1169.9h0M2247.6 1169.6h0M2282.3 1167.8h0M2282.3 1173.1h0M2282.3 1181.1h0M2261.7 1175.8h0M2308.9 1170.4h0M2315.5 1173.1h0M2233.0 1185.1h0M2263.6 1186.4h0M2302.2 1182.4h0M2310.2 1187.7h0M2320.9 1183.8h0M2246.3 1191.7h0M2234.3 1195.7h0M2295.6 1193.1h0M2226.3 1207.7h0M2213.8 1229.0h0M2213.8 1239.7h0M2213.8 1246.3h0M2217.0 1261.0h0M2247.6 1209.1h0M2262.3 1206.4h0M2275.6 1209.1h0M2288.9 1201.1h0M2304.9 1206.4h0M2320.9 1203.7h0M2314.0 929.6h0" fill="none" stroke="#1f2f60" stroke-width="5.8" stroke-linecap="round"/>
<path d="M584.9 1229.5h0M585.0 1233.5h0M586.8 1226.1h0M587.4 1202.7h0M587.7 1164.1h0M588.0 1144.8h0M590.3 1118.2h0M592.0 1117.6h0M592.6 1117.8h0M594.4 1105.0h0M594.9 1119.9h0M595.5 1132.8h0M598.3 1187.6h0M596.5 1180.3h0M602.1 1205.5h0M601.1 1207.6h0M600.5 1172.1h0M603.4 1193.9h0M604.4 1205.2h0M606.1 1204.4h0M607.2 1174.9h0M607.9 1169.9h0M610.3 1170.6h0M613.9 1176.1h0M612.4 1171.2h0M616.4 1198.9h0M615.6 1188.7h0M617.3 1210.5h0M619.4 1195.7h0M619.6 1211.7h0M619.7 1174.4h0M621.8 1221.2h0M623.1 1216.8h0M625.5 1215.1h0M627.3 1231.6h0M629.3 1233.7h0M629.4 1225.7h0M632.0 1227.0h0M632.2 1226.2h0M630.9 1200.1h0M632.4 1230.5h0M632.5 1228.9h0M635.6 1221.6h0M635.1 1224.6h0M636.5 1220.1h0M637.3 1226.9h0M638.5 1221.5h0M638.4 1202.9h0M640.8 1212.7h0M643.3 1204.0h0M645.1 1198.0h0M647.3 1197.5h0M649.0 1206.3h0M651.6 1207.5h0M651.6 1216.4h0M649.9 1209.9h0M653.3 1218.4h0M652.0 1210.4h0M654.4 1224.2h0M654.5 1219.4h0M655.6 1216.0h0M658.1 1202.5h0M660.8 1216.3h0M660.1 1209.5h0M662.4 1199.5h0M663.4 1186.6h0M664.1 1185.5h0M664.1 1187.7h0M665.3 1187.3h0M667.6 1184.5h0M669.9 1190.9h0M670.4 1190.1h0M670.9 1191.8h0M671.8 1190.9h0M673.0 1188.4h0M676.6 1193.6h0M678.3 1200.9h0M680.2 1218.8h0M679.3 1213.9h0M680.4 1211.9h0M680.8 1221.2h0M681.4 1217.4h0M682.4 1240.3h0M686.5 1237.6h0M685.7 1241.5h0M687.0 1247.4h0M690.9 1234.2h0M692.8 1244.2h0M691.5 1233.4h0M693.9 1242.0h0M694.8 1250.6h0M697.0 1261.0h0M698.0 1264.5h0M698.9 1253.0h0M702.0 1252.3h0M701.7 1250.4h0M700.8 1222.9h0M702.3 1250.8h0M704.3 1244.5h0M707.0 1241.4h0M709.2 1241.2h0M709.7 1238.9h0M711.0 1237.9h0M712.6 1249.8h0M715.1 1240.1h0M715.6 1250.2h0M714.7 1236.8h0M718.7 1260.8h0M720.9 1265.8h0M722.3 1259.9h0M723.3 1279.3h0M726.1 1254.9h0M728.7 1272.9h0M728.2 1262.1h0M728.9 1254.7h0M730.1 1288.8h0M730.3 1275.9h0M729.9 1258.5h0M732.5 1283.4h0M734.4 1295.3h0M736.7 1293.3h0M735.8 1279.4h0M736.2 1282.4h0M737.6 1292.3h0M738.7 1278.8h0M742.6 1300.6h0M743.3 1302.5h0M746.2 1286.8h0M747.5 1305.0h0M751.0 1285.3h0M751.7 1293.7h0M752.0 1303.5h0M753.5 1311.6h0M755.0 1311.8h0M755.3 1295.1h0M755.7 1299.4h0M758.1 1278.0h0M760.1 1276.4h0M759.5 1291.3h0M761.2 1295.9h0M764.4 1283.4h0M762.8 1302.9h0M763.5 1290.8h0M765.2 1298.8h0M766.5 1296.0h0M768.8 1296.1h0M768.9 1288.6h0M770.7 1288.9h0M771.5 1279.5h0M775.0 1260.8h0M776.3 1245.8h0M778.4 1235.7h0M782.0 1237.2h0M782.8 1243.7h0M787.1 1252.4h0M786.5 1229.5h0M789.3 1244.3h0M791.3 1237.8h0M791.6 1254.2h0M791.5 1256.6h0M791.4 1265.5h0M792.6 1260.6h0M793.8 1244.4h0M794.5 1255.8h0M795.8 1260.3h0M798.7 1261.9h0M800.3 1234.3h0M803.5 1236.8h0M804.1 1229.3h0M805.2 1227.6h0M807.9 1226.8h0M808.1 1217.5h0M1019.3 1209.2h0M1019.5 1205.0h0M1020.9 1204.8h0M1019.6 1181.0h0M1023.0 1202.8h0M1023.3 1211.0h0M1024.9 1196.6h0M1023.3 1182.2h0M1026.7 1199.9h0M1030.7 1249.2h0M1033.5 1253.6h0M1033.3 1260.4h0M1032.3 1255.4h0M1034.1 1265.3h0M1034.8 1251.4h0M1033.2 1221.6h0M1036.6 1270.6h0M1036.8 1265.5h0M1037.9 1275.3h0M1037.5 1260.1h0M1039.9 1272.5h0M1040.8 1255.0h0M1042.5 1275.7h0M1041.7 1250.8h0M1043.0 1266.8h0M1045.2 1267.4h0M1043.9 1277.0h0M1047.2 1272.9h0M1047.7 1290.3h0M1050.5 1293.6h0M1051.9 1279.4h0M1052.6 1250.3h0M1054.1 1271.4h0M1054.2 1278.4h0M1055.7 1242.5h0M1058.3 1281.3h0M1061.6 1274.9h0M1062.1 1241.1h0M1064.2 1221.3h0M1064.9 1269.7h0M1066.8 1264.1h0M1068.0 1270.2h0M1069.7 1265.6h0M1071.0 1267.0h0M1072.1 1264.1h0M1073.5 1256.8h0M1074.3 1257.7h0M1076.9 1262.7h0M1075.1 1251.6h0M1077.1 1262.0h0M1080.6 1259.8h0M1080.6 1266.8h0M1082.2 1259.0h0M1081.9 1268.0h0M1082.1 1257.8h0M1083.6 1265.8h0M1084.0 1258.8h0M1086.1 1269.7h0M1090.5 1295.0h0M1090.7 1270.8h0M1091.3 1272.8h0M1091.3 1281.5h0M1095.8 1302.7h0M1097.7 1300.1h0M1096.6 1294.0h0M1099.6 1303.8h0M1099.9 1292.6h0M1099.9 1296.0h0M1104.4 1277.0h0M1107.3 1307.1h0M1105.9 1300.4h0M1109.7 1288.4h0M1111.5 1299.5h0M1111.2 1287.4h0M1111.4 1291.1h0M1111.8 1290.5h0M1112.4 1269.2h0M1114.5 1290.3h0M1115.3 1295.3h0M1115.5 1288.4h0M1116.3 1267.3h0M1116.7 1283.3h0M1118.7 1279.9h0M1119.1 1287.9h0M1118.4 1259.1h0M1121.2 1294.4h0M1121.4 1283.7h0M1122.8 1272.8h0M1126.0 1282.3h0M1126.2 1261.0h0M1126.6 1276.1h0M1127.9 1274.6h0M1130.6 1267.1h0M1131.4 1257.3h0M1131.8 1256.4h0M1132.5 1241.5h0M1135.1 1235.4h0M1134.0 1234.0h0M1134.1 1229.2h0M1136.2 1197.2h0M1137.1 1193.5h0M1137.7 1174.6h0M1139.9 1170.1h0M1142.8 1175.3h0M1144.4 1178.6h0M1143.2 1164.8h0M1146.0 1181.8h0M1147.1 1176.4h0M1148.3 1194.4h0M1147.4 1209.5h0M1152.4 1234.5h0M1274.4 1226.9h0M1272.7 1211.5h0M1274.5 1243.2h0M1276.3 1243.2h0M1277.9 1263.5h0M1277.5 1241.8h0M1279.2 1269.7h0M1278.3 1231.6h0M1280.4 1284.4h0M1283.3 1285.1h0M1285.2 1309.0h0M1285.5 1288.9h0M1285.3 1301.9h0M1287.3 1294.8h0M1289.0 1286.5h0M1291.6 1255.9h0M1292.0 1252.2h0M1294.1 1235.0h0M1296.4 1231.8h0M1297.1 1231.9h0M1298.9 1227.2h0M1300.0 1216.2h0M1302.7 1208.2h0M1303.8 1203.6h0M1303.7 1204.9h0M1304.1 1195.8h0M1308.5 1215.7h0M1310.0 1211.5h0M1311.5 1231.2h0M1313.0 1245.7h0M1316.7 1250.0h0M1314.8 1248.1h0M1317.4 1230.7h0M1319.8 1264.8h0M1318.9 1265.4h0M1321.5 1275.0h0M1320.7 1272.7h0M1322.4 1270.3h0M1323.6 1284.7h0M1325.6 1257.9h0M1327.3 1297.8h0M1327.4 1289.7h0M1330.0 1300.3h0M1333.2 1283.5h0M1334.3 1262.9h0M1336.2 1246.5h0M1337.9 1225.3h0M1337.9 1218.2h0M1341.5 1227.8h0M1340.6 1221.6h0M1341.6 1227.9h0M1341.6 1222.5h0M1342.7 1221.8h0M1344.4 1227.5h0M1345.0 1221.1h0M1421.4 1220.5h0M1422.5 1239.0h0M1422.1 1227.9h0M1421.6 1236.9h0M1425.1 1252.7h0M1424.2 1233.1h0M1425.1 1242.3h0M1426.5 1207.3h0M1430.9 1128.2h0M1431.3 1127.8h0M1434.2 1063.9h0M1434.8 1074.8h0M1436.3 1082.1h0M1436.1 1076.5h0M1436.3 1083.0h0M1437.8 1075.6h0M1438.0 1077.8h0M1440.9 1086.1h0M1440.0 1085.5h0M1441.5 1187.2h0M1442.3 1185.8h0M1444.5 1271.3h0M1445.0 1264.5h0M1447.3 1293.8h0M1449.8 1288.9h0M1449.3 1295.1h0M1450.0 1299.7h0M1451.0 1292.2h0M1451.1 1277.3h0M1453.0 1288.9h0M1453.8 1300.8h0M1455.4 1284.8h0M1461.0 1265.3h0M1462.1 1266.9h0M1460.5 1258.9h0M1462.3 1264.8h0M1464.4 1265.1h0M1465.7 1266.2h0M1467.5 1266.6h0M1468.1 1252.6h0M1467.5 1242.2h0M1469.3 1272.7h0M1469.2 1260.8h0M1471.6 1269.1h0M1470.8 1264.9h0M1474.7 1273.7h0M1474.4 1241.7h0M1475.9 1253.0h0M1476.0 1220.4h0M1543.1 1109.5h0M1542.1 1106.2h0M1543.1 1090.6h0M1544.4 1091.3h0M1545.0 1090.3h0M1546.0 1082.2h0M1549.5 1206.7h0M1550.1 1185.0h0M1552.2 1233.3h0M1552.4 1204.8h0M1553.7 1261.9h0M1555.9 1260.9h0M1555.1 1238.5h0M1558.5 1259.3h0M1557.4 1263.1h0M1559.9 1267.8h0M1562.5 1265.6h0M1562.5 1265.5h0M1564.2 1255.6h0M1562.7 1264.6h0M1565.2 1259.0h0M1567.1 1242.4h0M1568.4 1238.3h0M1570.9 1245.3h0M1573.0 1241.0h0M1573.2 1221.1h0M1575.1 1232.6h0M1576.1 1225.0h0M1576.4 1221.2h0M1577.3 1225.9h0M1577.5 1207.3h0M1578.8 1224.2h0M1580.8 1214.9h0M1581.1 1211.9h0M1582.1 1230.7h0M1582.6 1229.0h0M1584.1 1225.7h0M1584.5 1228.4h0M1584.9 1233.3h0M1585.2 1221.3h0M1585.6 1190.1h0M1587.0 1236.4h0M1588.2 1239.0h0M1588.8 1218.9h0M1589.2 1239.4h0M1632.4 1221.0h0M1633.0 1209.3h0M1635.2 1208.5h0M1635.1 1224.3h0M1635.9 1220.5h0M1638.3 1234.7h0M1641.0 1224.3h0M1640.8 1193.6h0M1643.4 1228.4h0M1646.7 1236.7h0M1645.8 1204.2h0M1648.6 1208.4h0M1649.2 1225.7h0M1650.1 1226.6h0M1650.8 1233.2h0M1652.5 1232.5h0M1654.4 1237.6h0M1653.3 1235.3h0M1654.3 1218.7h0M1655.0 1227.8h0M1654.6 1234.9h0M1660.0 1228.1h0M1661.4 1224.3h0M1661.5 1213.7h0M1665.7 1216.2h0M1667.8 1202.6h0M1667.5 1217.0h0M1667.5 1210.9h0M1670.9 1219.7h0M1672.4 1199.1h0M1674.2 1212.0h0M1673.5 1207.6h0M1714.3 1151.1h0M1714.2 1176.1h0M1714.1 1166.7h0M1717.2 1205.9h0M1720.4 1235.7h0M1721.6 1247.8h0M1722.0 1244.3h0M1723.0 1259.1h0M1723.4 1255.5h0M1723.7 1231.6h0M1725.0 1255.0h0M1725.5 1281.7h0M1729.1 1303.1h0M1727.7 1272.2h0M1732.5 1317.1h0M1731.4 1299.6h0M1733.7 1301.9h0M1736.9 1295.0h0M1736.9 1285.5h0M1737.0 1282.1h0M1740.5 1232.6h0M1740.9 1173.8h0M1740.6 1182.6h0M1743.8 1122.8h0M1745.5 1124.1h0M1744.9 1123.2h0M1748.5 1130.2h0M1748.9 1126.9h0M1750.8 1140.7h0M1749.5 1141.6h0M1750.9 1218.8h0M1751.3 1206.1h0M1751.3 1217.5h0M1790.6 1256.4h0M1790.4 1253.9h0M1790.6 1247.5h0M1791.4 1231.9h0M1792.8 1236.2h0M1794.9 1219.2h0M1794.0 1208.4h0M1796.9 1207.3h0M1797.1 1199.0h0M1797.0 1199.2h0M1799.6 1178.2h0M1801.6 1200.2h0M1804.5 1204.8h0M1803.6 1192.1h0M1805.2 1211.4h0M1804.8 1199.8h0M1808.3 1225.0h0M1809.1 1238.7h0M1809.1 1222.6h0M1810.0 1231.7h0M1812.6 1256.3h0M1813.0 1245.1h0M1812.4 1232.8h0M1815.1 1253.1h0M1816.1 1242.5h0M1818.0 1255.5h0M1818.9 1205.8h0M1820.6 1226.0h0M1821.3 1247.7h0M1824.4 1241.1h0M1823.9 1239.6h0M1857.9 1173.3h0M1858.7 1146.8h0M1858.4 1144.5h0M1859.2 1118.4h0M1860.6 1145.9h0M1862.1 1140.6h0M1866.9 1144.6h0M1868.0 1139.0h0M1869.3 1135.2h0M1869.4 1123.6h0M1871.1 1063.5h0M1869.7 1063.9h0M1873.2 1002.4h0M1873.5 1006.6h0M1875.5 1000.0h0M1875.4 988.4h0M1876.5 999.7h0M1879.7 1001.3h0M1880.0 1001.1h0M1908.1 1235.5h0M1908.6 1239.2h0M1912.9 1219.6h0M1913.8 1205.6h0M1916.0 1210.0h0M1915.1 1197.7h0M1917.5 1208.2h0M1921.4 1205.5h0M1923.1 1205.8h0M1922.8 1201.9h0M1924.0 1210.0h0M1924.7 1206.9h0M1923.2 1201.4h0M1926.6 1209.6h0M1928.7 1220.3h0M1927.6 1209.0h0M1952.1 1184.3h0M1953.1 1205.5h0M1953.5 1201.2h0M1956.3 1244.8h0M1957.3 1204.3h0M1960.3 1219.6h0M1961.6 1252.3h0M1963.7 1256.9h0M1965.0 1264.6h0M1965.4 1228.2h0M1965.1 1260.0h0M1980.5 1214.0h0M1980.0 1198.7h0M1981.7 1204.2h0M1982.7 1211.8h0M1983.8 1226.7h0M1984.8 1220.9h0M1985.1 1218.2h0M1986.6 1227.7h0M1986.9 1224.1h0M1989.0 1213.5h0M1991.8 1224.0h0M2009.2 1110.9h0M2011.7 1100.3h0M2013.9 1109.4h0M2013.4 1098.3h0M2014.3 1097.8h0M2017.3 1107.0h0M2018.0 1204.2h0M2017.6 1198.5h0M2029.3 1230.3h0M2029.9 1195.0h0M2033.2 1229.5h0M2032.1 1218.9h0M2033.6 1229.6h0M2033.8 1212.2h0M2038.3 1188.2h0M2038.0 1220.4h0M2044.9 1174.9h0M2045.2 1163.6h0M2047.9 1167.0h0M2046.6 1165.7h0M2055.0 1165.1h0M2056.3 1148.9h0M2056.7 1145.3h0M2065.1 1162.7h0M2063.5 1147.2h0M2066.6 1141.8h0M2067.2 1149.4h0M2066.8 1137.0h0M2069.1 1153.2h0M2068.5 1151.6h0M2069.7 1103.5h0M2070.4 1143.3h0M2070.4 1156.5h0M2071.5 1147.4h0M2072.8 1154.5h0M2072.7 1154.9h0M2075.6 1152.3h0M2074.8 1148.1h0M2077.8 1157.6h0M2077.4 1158.8h0M2079.5 1158.2h0M2080.4 1136.1h0M2080.3 1146.7h0M2080.8 1154.8h0M2080.6 1159.0h0M2083.5 1181.0h0M2083.2 1173.9h0M2086.2 1187.8h0M2085.8 1198.5h0M2086.7 1194.8h0M2087.7 1181.7h0M2088.7 1202.5h0M2088.1 1180.0h0M2089.4 1199.2h0M2089.7 1210.6h0M2091.2 1198.1h0M2091.8 1212.0h0M2092.0 1187.4h0M2094.3 1202.5h0M2093.4 1158.8h0M2093.8 1206.1h0M2096.0 1226.2h0M2095.3 1193.1h0M2095.9 1205.4h0M2098.5 1215.5h0M2098.1 1225.7h0M2100.0 1237.7h0M2101.1 1236.9h0M2101.5 1232.6h0M2102.4 1214.6h0M2102.4 1226.5h0M2103.9 1226.6h0M2103.2 1212.9h0M2103.6 1205.1h0M2106.8 1227.7h0M2105.4 1220.0h0M2105.2 1222.2h0M2107.4 1221.6h0M2108.4 1193.3h0M2108.8 1221.6h0M2110.3 1232.8h0M2111.0 1230.9h0M2110.3 1208.3h0M2113.2 1272.8h0M2111.9 1271.2h0M2114.8 1270.8h0M2113.5 1264.8h0M2116.9 1285.5h0M2116.4 1287.7h0M2117.6 1261.1h0M2118.4 1294.7h0M2117.7 1276.3h0M2120.5 1291.5h0M2122.1 1304.0h0M2123.0 1305.0h0M2123.4 1275.6h0M2125.2 1310.5h0M2126.6 1299.4h0M2127.8 1315.5h0M2127.3 1301.2h0M2129.4 1318.2h0M2129.9 1290.2h0M2129.0 1240.9h0M2131.9 1296.0h0M2132.2 1265.8h0M2131.4 1315.2h0M2133.5 1301.1h0M2135.0 1283.4h0M2134.8 1312.9h0M2138.5 1311.1h0M2137.7 1295.2h0M2138.8 1324.3h0M2138.9 1320.7h0M2139.8 1312.3h0M2139.3 1320.4h0M2142.3 1332.0h0M2142.5 1322.7h0M2143.2 1316.5h0M2143.3 1322.2h0M2146.0 1329.8h0M2146.7 1316.8h0M2148.8 1312.5h0M2147.3 1318.4h0M2149.9 1312.0h0M2149.5 1320.7h0M2149.9 1264.0h0M2152.3 1320.2h0M2152.0 1310.0h0M2152.0 1275.1h0M2153.6 1300.9h0M2152.4 1285.4h0M2156.4 1290.1h0M2154.8 1305.3h0M2155.0 1304.1h0M2158.8 1309.5h0M2157.5 1288.4h0M2157.2 1303.0h0M2160.5 1305.1h0M2159.9 1308.9h0M2162.9 1298.0h0M2163.0 1315.2h0M2164.5 1314.7h0M2164.7 1295.9h0M2164.7 1305.8h0M2165.9 1291.6h0M2166.7 1290.0h0M2166.5 1266.2h0M2168.5 1278.9h0M2168.4 1311.4h0M2168.3 1275.3h0M2170.1 1319.6h0M2172.6 1320.7h0M2173.3 1304.8h0M2172.5 1287.8h0M2175.0 1322.0h0M2175.6 1323.2h0M2174.3 1257.1h0M2177.1 1309.1h0M2177.4 1273.8h0M2178.5 1316.0h0M2179.1 1247.0h0M2178.5 1285.9h0M2180.9 1301.6h0M2180.1 1296.5h0M2182.5 1306.9h0M2183.3 1292.6h0M2182.4 1314.5h0M2184.0 1311.5h0M2184.9 1256.7h0M2184.1 1277.8h0M2186.9 1312.3h0M2187.3 1304.4h0M2186.1 1234.7h0M2189.8 1291.9h0M2189.7 1238.6h0M2190.2 1319.6h0M2190.6 1311.9h0M2193.2 1310.6h0M2193.9 1308.8h0M2193.8 1263.7h0M2195.0 1315.9h0M2194.8 1310.6h0M2196.0 1276.2h0M2196.9 1272.8h0M2196.8 1302.5h0M2197.8 1305.3h0M2199.8 1312.2h0M2199.1 1300.0h0M2200.0 1305.3h0M2201.2 1295.8h0M2201.4 1292.6h0M2202.6 1282.1h0M2203.0 1308.8h0M2204.9 1310.5h0M2205.5 1303.4h0M2205.3 1294.9h0M2207.4 1306.4h0M2207.8 1309.2h0M608.8 1125.2h0M608.8 1150.5h0M608.8 1155.8h0M636.8 1154.5h0M618.2 1182.4h0M619.5 1198.4h0M670.6 1153.1h0M657.3 1157.9h0M665.3 1163.8h0M703.1 1157.1h0M737.2 1153.1h0M747.3 1161.6h0M648.0 1170.4h0M648.0 1182.4h0M664.0 1183.8h0M672.0 1186.4h0M779.8 1167.8h0M791.8 1183.0h0M779.8 1185.1h0M722.6 1202.4h0M717.2 1207.7h0M703.9 1214.9h0M717.2 1218.4h0M717.2 1231.7h0M656.0 1209.1h0M781.2 1203.7h0M781.2 1209.1h0M789.2 1223.7h0M781.2 1227.7h0M781.2 1238.4h0M757.2 1243.7h0M765.2 1251.7h0M727.9 1246.3h0M735.9 1251.7h0M1021.4 1155.3h0M1064.8 1185.1h0M1066.2 1191.7h0M1076.8 1195.7h0M1040.8 1207.7h0M1040.8 1218.4h0M1065.6 1215.7h0M1038.2 1238.4h0M1058.2 1243.7h0M1068.8 1237.0h0M1076.8 1237.0h0M1106.6 1121.2h0M1141.8 1141.1h0M1141.8 1147.8h0M1141.8 1155.8h0M1134.6 1173.9h0M1105.3 1202.4h0M1114.6 1207.7h0M1117.3 1213.1h0M1092.0 1221.8h0M1105.3 1222.9h0M1117.3 1242.3h0M1092.0 1239.7h0M1104.0 1261.8h0M1295.7 1150.5h0M1278.4 1219.7h0M1341.0 1193.1h0M1341.0 1206.4h0M1306.4 1209.1h0M1297.1 1230.4h0M1314.4 1230.4h0M1330.4 1234.4h0M1323.7 1245.0h0M1437.4 1031.1h0M1455.0 1152.6h0M1452.3 1179.8h0M1455.0 1193.1h0M1466.2 1222.4h0M1456.9 1229.0h0M1471.5 1231.7h0M1458.2 1241.0h0M1474.2 1253.0h0M1420.1 1173.1h0M1420.1 1186.4h0M1545.3 1041.8h0M1545.3 1057.2h0M1545.3 1073.2h0M1545.3 1091.9h0M1560.0 1169.1h0M1579.9 1169.1h0M1579.9 1179.8h0M1569.3 1206.4h0M1577.3 1201.1h0M1583.9 1209.1h0M1579.9 1226.4h0M1573.3 1243.7h0M1560.0 1251.7h0M1637.2 1187.7h0M1639.9 1206.4h0M1661.2 1207.7h0M1670.5 1222.4h0M1645.2 1235.7h0M1722.4 1214.4h0M1722.4 1238.4h0M1722.4 1259.7h0M1745.9 1035.4h0M1746.4 1059.9h0M1746.4 1066.6h0M1746.4 1091.9h0M1746.4 1110.5h0M1861.7 1079.9h0M1861.7 1106.5h0M1861.7 1125.2h0M1861.7 1139.8h0M1801.8 1191.7h0M1798.3 1203.7h0M1919.0 1192.5h0M1914.2 1214.4h0M1927.5 1219.7h0M1733.1 1290.3h0M1910.2 1202.4h0M2121.1 1160.6h0M2106.5 1173.6h0M2089.2 1186.4h0M2107.3 1198.4h0M2078.5 1162.4h0M2177.0 1211.7h0M2147.7 1215.7h0M2139.8 1219.7h0M2150.4 1227.7h0M2150.4 1237.0h0M2127.8 1245.0h0M2146.4 1245.5h0M2162.4 1247.7h0M2174.4 1246.3h0M2185.0 1251.7h0M2133.1 1258.3h0M2171.7 1259.7h0M2185.0 1259.7h0M2161.1 1267.7h0M2203.7 1230.4h0M2203.7 1273.0h0M2115.8 1273.0h0M2123.8 1279.6h0M2182.4 1277.0h0M2153.1 1283.6h0M2171.7 1289.0h0M2193.0 1291.6h0M599.8 974.4h0M1637.3 973.2h0M1875.8 964.7h0" fill="none" stroke="#c58316" stroke-width="5.8" stroke-linecap="round"/>
<line x1="160.5" y1="994.7" x2="2392.4" y2="994.7" stroke="#a0529a" stroke-width="3.4"/>
<line x1="160.5" y1="994.7" x2="2392.4" y2="994.7" stroke="#6a3f9a" stroke-width="3.4" stroke-dasharray="11 8" opacity="0.3"/>
<circle cx="811.0" cy="1099.9" r="2.9" fill="#c58316"/>
<circle cx="1482.7" cy="1181.6" r="2.9" fill="#c58316"/>
<circle cx="1675.8" cy="1154.5" r="2.9" fill="#c58316"/>
<circle cx="1753.8" cy="1155.8" r="2.9" fill="#c58316"/>
<circle cx="1753.8" cy="1183.8" r="2.9" fill="#c58316"/>
<circle cx="1753.8" cy="1201.1" r="2.9" fill="#c58316"/>
<circle cx="1753.8" cy="1210.4" r="2.9" fill="#c58316"/>
<circle cx="1753.8" cy="1230.4" r="2.9" fill="#c58316"/>
<circle cx="1883.6" cy="1100.7" r="2.9" fill="#c58316"/>
<circle cx="1883.6" cy="1163.8" r="2.9" fill="#c58316"/>
<circle cx="1883.6" cy="1177.1" r="2.9" fill="#c58316"/>
<circle cx="1826.3" cy="1226.4" r="2.9" fill="#c58316"/>
<circle cx="1823.6" cy="1246.3" r="2.9" fill="#c58316"/>
<circle cx="2043.3" cy="1040.7" r="2.9" fill="#c58316"/>
<circle cx="2014.0" cy="1079.3" r="2.9" fill="#c58316"/>
<circle cx="2014.0" cy="1102.5" r="2.9" fill="#c58316"/>
<circle cx="2039.1" cy="1090.0" r="2.9" fill="#c58316"/>
<circle cx="2065.2" cy="1163.8" r="2.9" fill="#c58316"/>
<circle cx="1990.6" cy="1197.1" r="2.9" fill="#c58316"/>
<circle cx="1990.6" cy="1215.7" r="2.9" fill="#c58316"/>
<circle cx="2033.2" cy="1206.4" r="2.9" fill="#c58316"/>
<circle cx="2069.2" cy="1082.5" r="2.9" fill="#1f2f60"/>
<circle cx="2057.2" cy="1095.9" r="2.9" fill="#1f2f60"/>
<circle cx="2028.7" cy="1107.3" r="2.9" fill="#1f2f60"/>
<circle cx="2057.2" cy="1115.3" r="2.9" fill="#1f2f60"/>
<circle cx="2023.9" cy="1127.3" r="2.9" fill="#1f2f60"/>
<circle cx="1972.0" cy="1115.0" r="2.9" fill="#1f2f60"/>
<circle cx="2069.2" cy="1134.5" r="2.9" fill="#1f2f60"/>
<circle cx="2069.2" cy="1141.1" r="2.9" fill="#1f2f60"/>
<circle cx="1952.0" cy="1141.1" r="2.9" fill="#1f2f60"/>
<circle cx="1945.3" cy="1146.5" r="2.9" fill="#1f2f60"/>
<circle cx="1971.4" cy="1141.1" r="2.9" fill="#1f2f60"/>
<circle cx="1952.0" cy="1155.8" r="2.9" fill="#1f2f60"/>
<circle cx="1952.0" cy="1161.1" r="2.9" fill="#1f2f60"/>
<circle cx="1976.0" cy="1156.6" r="2.9" fill="#1f2f60"/>
<circle cx="2025.2" cy="1178.4" r="2.9" fill="#1f2f60"/>
<circle cx="2057.2" cy="1166.4" r="2.9" fill="#1f2f60"/>
<circle cx="2047.9" cy="1175.8" r="2.9" fill="#1f2f60"/>
<circle cx="2006.6" cy="1198.4" r="2.9" fill="#1f2f60"/>
<circle cx="2003.9" cy="1233.0" r="2.9" fill="#1f2f60"/>
<circle cx="2003.4" cy="1252.5" r="2.9" fill="#1f2f60"/>
<circle cx="2025.2" cy="1222.4" r="2.9" fill="#1f2f60"/>
<text transform="translate(118 1511.9) scale(1.2 1)" text-anchor="middle" class="t">0</text>
<text transform="translate(118 1427.3) scale(1.2 1)" text-anchor="middle" class="t">1</text>
<text transform="translate(118 1342.6) scale(1.2 1)" text-anchor="middle" class="t">2</text>
<text transform="translate(118 1258.0) scale(1.2 1)" text-anchor="middle" class="t">3</text>
<text transform="translate(118 1173.3) scale(1.2 1)" text-anchor="middle" class="t">4</text>
<text transform="translate(118 1088.7) scale(1.2 1)" text-anchor="middle" class="t">5</text>
<text transform="translate(118 1004.1) scale(1.2 1)" text-anchor="middle" class="t">6</text>
<text transform="translate(118 919.4) scale(1.2 1)" text-anchor="middle" class="t">7</text>
<path d="M160.5 908.8V1503.7" fill="none" stroke="#999" stroke-width="4"/>
<path d="M143.0 1502.5H160.5M143.0 1417.9H160.5M143.0 1333.2H160.5M143.0 1248.6H160.5M143.0 1163.9H160.5M143.0 1079.3H160.5M143.0 994.7H160.5M143.0 910.0H160.5" fill="none" stroke="#777" stroke-width="2.9"/>
<path d="M394.7 1502.5v16M713.2 1502.5v16M916.2 1502.5v16M1096.7 1502.5v16M1214.0 1502.5v16M1318.3 1502.5v16M1374.2 1502.5v16M1443.2 1502.5v16M1516.2 1502.5v16M1564.2 1502.5v16M1614.3 1502.5v16M1652.8 1502.5v16M1700.0 1502.5v16M1736.7 1502.5v16M1774.1 1502.5v16M1817.7 1502.5v16M1846.4 1502.5v16M1875.8 1502.5v16M1900.5 1502.5v16M1922.6 1502.5v16M1942.3 1502.5v16M1961.6 1502.5v16M1976.2 1502.5v16M1991.0 1502.5v16M2004.3 1502.5v16M2015.6 1502.5v16M2026.8 1502.5v16M2037.7 1502.5v16M2107.8 1502.5v16M2277.1 1502.5v16" fill="none" stroke="#7a7a7a" stroke-width="2.8"/>
<path d="M2046.0 1502.5v16M2049.5 1502.5v16M2052.5 1502.5v16M2055.0 1502.5v16M2057.5 1502.5v16" fill="none" stroke="#777" stroke-width="2.2"/>
<path d="M2059.5 1502.5v16M2061.5 1502.5v16M2063.5 1502.5v16M2065.5 1502.5v16M2067.5 1502.5v16M2069.5 1502.5v16" fill="none" stroke="#444" stroke-width="2.2"/>
<path d="M2070.5 1502.5v16" fill="none" stroke="#111" stroke-width="3.4"/>
<text transform="translate(396.0 1558.8) scale(1.18 1)" text-anchor="middle" class="t">1</text>
<text transform="translate(714.7 1558.8) scale(1.18 1)" text-anchor="middle" class="t">2</text>
<text transform="translate(917.3 1558.8) scale(1.18 1)" text-anchor="middle" class="t">3</text>
<text transform="translate(1096.7 1558.8) scale(1.18 1)" text-anchor="middle" class="t">4</text>
<text transform="translate(1214.0 1558.8) scale(1.18 1)" text-anchor="middle" class="t">5</text>
<text transform="translate(1318.3 1558.8) scale(1.18 1)" text-anchor="middle" class="t">6</text>
<text transform="translate(1375.0 1558.8) scale(1.18 1)" text-anchor="middle" class="t">7</text>
<text transform="translate(1445.0 1558.8) scale(1.18 1)" text-anchor="middle" class="t">8</text>
<text transform="translate(1518.0 1558.8) scale(1.18 1)" text-anchor="middle" class="t">9</text>
<text transform="translate(1564.5 1558.8) scale(1.0 1)" text-anchor="middle" class="t">10</text>
<text transform="translate(1655.3 1558.8) scale(1.0 1)" text-anchor="middle" class="t">12</text>
<text transform="translate(1738.1 1558.8) scale(1.0 1)" text-anchor="middle" class="t">14</text>
<text transform="translate(1819.8 1558.8) scale(1.0 1)" text-anchor="middle" class="t">16</text>
<text transform="translate(1877.5 1558.8) scale(1.0 1)" text-anchor="middle" class="t">18</text>
<text transform="translate(1943.3 1558.8) scale(1.0 1)" text-anchor="middle" class="t">21</text>
<text transform="translate(2005.8 1558.8) scale(1.0 1)" text-anchor="middle" class="t">25</text>
<text transform="translate(2056.6 1558.8) scale(1.0 1)" text-anchor="middle" class="t">31</text>
<text transform="translate(2107.8 1558.8) scale(1.18 1)" text-anchor="middle" class="t">Z</text>
<text transform="translate(2279.2 1558.8) scale(1.0 1)" text-anchor="middle" class="t">Un</text>
<text transform="translate(39.5 1202.8) rotate(-90)" text-anchor="middle" class="yl">−log<tspan dy="5" font-size="19">10</tspan><tspan dy="-5">(</tspan><tspan font-style="italic">p</tspan>)</text>
<text transform="translate(61.7 877) scale(1.07 1.06)" class="L">b</text>
<path d="M216.5 2301.5L216.5 2026.4L217.3 2026.4L221.3 1943.8L223.4 1922.5L229.8 1943.8L232.0 2010.4L234.6 2074.3L242.6 2092.7L253.3 2106.3L263.9 2092.7L267.9 2045.0L277.2 2041.1L287.9 2036.3L291.9 2015.7L301.2 2018.4L305.2 2079.7L311.9 2093.0L322.5 2087.7L327.3 2023.7L333.2 2050.3L338.5 2106.3L346.5 2119.6L351.8 2050.3L355.3 1975.8L361.9 1983.8L365.1 2043.3L369.1 2001.3L373.1 1991.5L383.8 1981.1L390.4 1997.1L393.1 2050.3L399.8 2096.2L410.4 2132.9L418.4 2140.9L426.4 2095.3L434.4 2077.0L442.4 2052.3L447.7 2034.4L454.4 2038.1L458.4 2093.0L465.0 2093.0L468.5 1943.8L470.3 1887.9L477.0 1903.9L482.3 1911.8L490.3 1930.5L491.6 2039.1L495.6 2079.7L501.0 2053.0L511.6 2043.8L514.8 1965.1L522.3 1983.8L527.6 1970.4L535.6 1975.8L540.9 2030.4L546.2 2046.1L554.2 2066.3L562.2 2079.7L570.2 2066.3L574.2 2018.4L581.1 2016.0L581.5 2017.5L581.5 2301.5ZM805.6 2301.5L805.6 2043.4L810.5 2061.5L821.1 2063.2L826.4 2023.7L831.8 2029.0L837.1 2093.0L845.1 2106.3L849.1 2037.0L853.1 2053.2L858.4 2098.3L866.4 2079.7L871.7 2039.4L879.7 2031.7L885.0 2005.1L891.7 2023.7L894.4 2093.0L903.7 2106.3L909.0 2037.0L917.0 2031.7L921.0 2063.8L925.0 2018.9L929.0 1970.4L935.6 1943.8L939.6 1877.2L941.0 1845.3L946.3 1863.9L949.0 1930.5L953.0 1983.8L958.3 2023.7L962.3 2058.5L967.6 2093.0L975.6 2093.0L980.9 2038.1L986.2 1997.1L992.9 2010.4L996.9 2079.7L1002.2 2093.0L1007.6 1997.1L1010.8 1938.5L1013.9 1938.5L1014.4 1946.2L1014.4 2301.5ZM1151.0 2301.5L1151.0 2049.4L1154.6 2013.1L1163.9 2037.0L1167.9 2077.0L1173.2 2132.7L1183.9 2146.2L1194.5 2132.7L1202.5 2093.8L1207.8 2023.7L1211.0 1954.5L1219.8 1983.8L1222.5 2071.9L1229.2 2106.3L1237.1 2106.3L1242.5 2071.9L1250.5 2063.7L1258.5 2079.7L1263.8 1997.1L1266.4 1983.8L1270.2 1981.1L1270.5 1980.5L1270.5 2301.5ZM1343.1 2301.5L1343.1 2047.4L1346.3 2079.7L1357.0 2079.7L1365.0 2058.4L1370.3 2023.7L1377.0 2037.0L1381.0 2105.6L1386.3 2064.8L1391.6 2119.6L1399.6 2119.6L1403.6 2037.0L1410.3 2031.7L1414.3 1997.1L1416.4 1997.1L1416.8 1992.5L1416.8 2301.5ZM1474.6 2301.5L1474.6 2033.2L1478.2 1970.4L1480.8 1890.5L1488.8 1917.2L1491.5 2013.1L1498.2 2026.4L1503.5 1996.8L1505.6 1943.8L1512.8 1957.1L1516.8 2039.7L1520.8 1986.4L1522.7 1981.7L1534.6 1970.4L1536.5 1970.4L1536.7 1973.2L1536.7 2301.5ZM1589.0 2301.5L1589.0 2122.0L1590.6 1986.4L1598.6 1986.4L1602.6 2007.7L1609.2 2018.4L1611.4 1943.8L1616.4 2007.3L1621.2 2026.4L1627.9 2003.4L1628.6 1997.0L1628.6 2301.5ZM1672.6 2301.5L1672.6 2072.9L1675.8 1986.4L1682.5 1981.1L1685.1 1970.4L1690.5 1982.5L1693.1 1943.8L1701.1 1957.1L1703.8 1997.1L1709.4 2023.7L1709.6 2024.7L1709.6 2301.5ZM1751.0 2301.5L1751.0 2007.7L1754.4 2007.7L1757.8 1973.1L1765.0 1997.1L1770.4 2030.7L1775.7 2071.7L1783.7 2066.3L1787.7 2066.3L1788.0 2066.3L1788.0 2301.5ZM1823.4 2301.5L1823.4 2047.3L1826.3 2056.4L1830.3 2023.7L1835.6 2029.0L1839.6 2045.0L1846.3 2050.3L1850.3 2093.0L1852.9 2119.6L1853.2 2118.7L1853.2 2301.5ZM1879.3 2301.5L1879.3 1989.4L1880.9 1943.8L1882.8 1929.2L1890.2 1943.8L1892.9 2039.7L1896.9 2053.0L1900.9 2013.1L1903.8 1995.5L1904.2 1995.9L1904.2 2301.5ZM1927.8 2301.5L1927.8 2028.4L1931.5 2053.0L1935.5 2034.3L1939.5 1984.9L1943.5 1970.4L1947.5 1957.1L1947.7 1953.9L1947.7 2301.5ZM1964.2 2301.5L1964.2 1859.5L1965.3 1927.8L1977.3 1927.8L1977.9 1964.5L1977.9 2301.5ZM1990.6 2301.5L1990.6 2024.6L1991.7 2026.4L2003.9 2026.4L2005.2 1993.2L2005.2 2301.5ZM2016.8 2301.5L2016.8 1969.2L2017.8 1987.9L2025.2 1997.1L2025.9 1984.6L2025.9 2301.5ZM2036.0 2301.5L2036.0 1965.7L2040.7 1980.1L2041.5 1995.7L2041.5 2301.5ZM2046.2 2301.5L2046.2 2010.4L2051.3 2010.4L2051.3 2301.5ZM2056.1 2301.5L2056.1 2000.8L2057.2 1980.1L2061.4 1978.0L2061.4 2301.5ZM2206.0 2301.5L2206.0 2112.5L2207.7 2077.9L2211.7 2055.7L2219.7 2078.1L2222.9 2023.7L2223.9 1930.5L2231.1 1930.5L2232.2 2056.5L2235.6 2114.3L2243.6 2093.0L2249.0 2051.9L2255.6 2023.7L2258.5 1954.5L2271.6 1970.4L2275.6 2039.7L2286.2 2039.7L2299.6 2034.4L2312.9 2022.6L2323.5 2039.0L2331.0 2049.6L2331.0 2301.5Z" fill="#1f2f60"/>
<path d="M581.5 2301.5L581.5 2017.5L590.2 2053.0L594.2 2004.5L599.5 1986.4L604.8 1997.1L610.2 2050.3L618.2 2106.3L626.2 2119.6L636.8 2086.0L640.0 2086.2L648.0 2106.3L656.0 2093.0L661.3 1970.4L664.0 1917.2L674.6 1925.2L678.6 1983.8L682.6 2023.7L686.6 2085.2L693.3 2119.6L703.9 2119.6L711.9 2064.8L714.6 1991.7L721.2 1997.1L723.9 2093.0L733.2 2106.3L742.5 2052.0L745.2 1943.8L747.9 1927.8L756.7 1943.8L758.5 2018.4L767.8 2012.8L778.5 2005.1L785.2 2023.7L789.2 2066.3L797.1 2093.0L799.8 2051.2L805.1 2041.7L805.6 2043.4L805.6 2301.5ZM1014.4 2301.5L1014.4 1946.2L1020.9 2056.2L1031.5 2093.0L1044.8 2106.3L1055.5 2092.7L1059.5 2051.6L1076.8 2050.3L1080.0 2112.7L1088.0 2132.2L1096.0 2146.2L1106.6 2146.2L1117.3 2132.2L1122.6 2077.0L1133.3 2058.3L1143.9 2056.3L1150.6 2053.7L1151.0 2049.4L1151.0 2301.5ZM1270.5 2301.5L1270.5 1980.5L1273.1 1975.8L1279.8 2007.3L1282.4 2093.0L1287.7 2106.3L1290.4 1997.1L1298.4 2010.4L1301.1 2074.1L1309.1 2054.8L1317.0 2093.0L1325.0 2101.0L1327.7 1983.8L1330.4 1973.1L1335.7 1997.1L1339.7 2023.7L1342.9 2045.2L1343.1 2047.4L1343.1 2301.5ZM1416.8 2301.5L1416.8 1992.5L1418.8 1970.4L1420.9 1930.5L1427.6 1957.1L1430.2 2037.0L1436.9 2050.3L1444.9 2106.3L1451.5 2159.6L1455.5 2089.5L1460.9 2037.0L1468.9 2023.7L1474.2 2040.4L1474.6 2033.2L1474.6 2301.5ZM1536.7 2301.5L1536.7 1973.2L1540.0 2020.9L1552.0 2053.0L1560.0 2023.7L1567.9 2037.0L1573.3 2077.0L1581.3 2132.9L1587.9 2146.2L1588.7 2146.2L1589.0 2122.0L1589.0 2301.5ZM1628.6 2301.5L1628.6 1997.0L1633.2 1957.1L1641.2 1970.4L1643.1 2063.0L1650.5 2079.7L1658.5 2085.0L1666.5 2087.7L1672.3 2079.7L1672.6 2072.9L1672.6 2301.5ZM1709.6 2301.5L1709.6 2024.7L1715.8 2050.3L1722.4 2106.0L1733.1 2119.6L1741.1 2106.3L1745.1 2050.3L1749.1 2010.4L1750.7 2007.7L1751.0 2007.7L1751.0 2301.5ZM1788.0 2301.5L1788.0 2066.3L1791.7 2066.3L1795.7 1967.8L1807.7 1970.4L1809.8 2093.0L1815.6 2106.3L1818.8 2061.0L1823.1 2046.4L1823.4 2047.3L1823.4 2301.5ZM1853.2 2301.5L1853.2 2118.7L1856.9 2106.3L1863.6 2065.9L1868.9 2037.0L1874.2 2023.7L1878.2 1997.1L1879.0 1997.1L1879.3 1989.4L1879.3 2301.5ZM1904.2 2301.5L1904.2 1995.9L1907.5 1999.4L1916.9 2002.9L1920.8 2066.3L1924.8 2028.6L1927.5 2026.4L1927.8 2028.4L1927.8 2301.5ZM1947.7 2301.5L1947.7 1953.9L1952.0 1890.5L1959.5 1887.9L1960.2 1847.9L1964.0 1845.3L1964.2 1859.5L1964.2 2301.5ZM1977.9 2301.5L1977.9 1964.5L1978.9 2023.7L1990.1 2023.7L1990.6 2024.6L1990.6 2301.5ZM2005.2 2301.5L2005.2 1993.2L2006.6 1957.1L2016.2 1957.1L2016.8 1969.2L2016.8 2301.5ZM2025.9 2301.5L2025.9 1984.6L2026.8 1967.3L2035.4 1963.7L2036.0 1965.7L2036.0 2301.5ZM2041.5 2301.5L2041.5 1995.7L2042.3 2010.4L2046.2 2010.4L2046.2 2301.5ZM2051.3 2301.5L2051.3 2010.4L2055.6 2010.4L2056.1 2000.8L2056.1 2301.5ZM2061.4 2301.5L2061.4 1978.0L2077.2 1970.4L2078.5 2023.7L2081.2 2109.9L2089.2 2146.2L2099.8 2151.2L2113.1 2167.6L2123.8 2142.0L2126.4 2098.3L2130.4 2142.5L2139.8 2158.9L2153.1 2172.9L2166.4 2172.9L2179.7 2138.4L2193.0 2130.4L2205.0 2132.9L2206.0 2112.5L2206.0 2301.5Z" fill="#c58316"/>
<path d="M218.0 2010.0V2014.2M219.8 1974.7V1977.8M221.4 1938.8V1944.8M223.2 1924.6V1926.8M225.6 1927.8V1931.8M228.1 1935.7V1940.0M230.5 1960.2V1966.8M232.7 2026.8V2029.5M234.7 2059.6V2076.6M236.3 2058.5V2080.2M237.9 2069.9V2083.8M239.9 2036.4V2088.4M241.5 2089.5V2092.2M243.5 2082.1V2095.8M245.5 2087.4V2098.4M247.6 2098.8V2101.0M249.1 2085.2V2103.0M250.6 2101.9V2104.9M252.4 2097.9V2107.2M254.3 2101.0V2107.0M255.9 2096.8V2105.0M258.2 2090.4V2102.0M260.4 2071.0V2099.2M262.3 2086.3V2096.8M264.8 2074.7V2084.3M267.0 2051.8V2058.5M268.5 2035.4V2046.8M270.0 2038.7V2046.1M271.9 2042.2V2045.4M273.5 2036.3V2044.6M275.0 2037.6V2044.0M277.0 2038.0V2043.2M279.3 2039.6V2042.1M281.0 2035.3V2041.4M283.1 2015.2V2040.4M285.0 2020.4V2039.6M287.4 1999.0V2038.5M289.6 2013.8V2029.6M291.6 2016.6V2019.0M294.0 2015.5V2018.3M296.4 2004.8V2019.0M298.6 2017.2V2019.6M300.9 2017.2V2020.3M302.8 2039.9V2044.2M304.4 2053.0V2069.6M306.4 2065.6V2084.1M308.4 2076.7V2088.1M310.2 2085.5V2091.7M312.6 2078.6V2094.6M314.4 2067.9V2093.7M316.5 2080.2V2092.7M318.7 2038.0V2091.6M321.2 2057.6V2090.3M322.9 2055.3V2084.3M325.1 2053.3V2055.3M327.1 2025.5V2028.0M328.7 2018.8V2032.2M330.5 2032.6V2040.2M332.1 2042.8V2047.5M333.8 2048.0V2058.9M335.8 2070.2V2080.4M338.1 2094.8V2104.0M339.9 2102.2V2110.7M342.2 2091.7V2114.5M344.5 2101.9V2118.2M346.8 2080.4V2117.9M349.2 2066.8V2085.7M350.8 2053.0V2066.2M352.7 2028.1V2033.4M354.2 1996.2V2000.0M356.6 1972.6V1979.4M358.9 1978.4V1982.1M360.8 1976.7V1984.4M363.0 2000.4V2005.4M364.9 2035.5V2040.2M366.6 2026.9V2030.2M368.5 1992.5V2010.2M370.6 1990.9V1999.7M372.4 1988.7V1995.3M374.5 1990.2V1992.2M376.2 1973.9V1990.5M378.6 1985.8V1988.1M380.3 1979.1V1986.5M382.7 1980.3V1984.1M384.8 1978.7V1985.7M387.0 1988.5V1990.9M389.0 1984.5V1995.6M391.4 2016.4V2018.9M393.6 2050.1V2055.6M395.7 2061.9V2070.1M398.1 2084.1V2086.5M400.3 2080.2V2100.1M402.0 2096.5V2106.0M404.3 2104.6V2113.7M406.2 2117.1V2120.4M408.7 2111.8V2129.0M411.1 2123.1V2135.7M412.9 2091.9V2137.4M414.9 2130.6V2139.4M416.8 2138.0V2141.3M419.1 2129.2V2138.7M420.9 2116.5V2128.5M422.4 2115.6V2119.8M424.9 2086.9V2105.7M426.8 2094.1V2096.5M428.9 2082.7V2091.6M431.2 2081.0V2086.3M433.6 2076.3V2080.8M435.6 2072.5V2075.2M437.9 2063.2V2068.1M440.3 2048.9V2060.8M442.2 2050.9V2054.7M444.3 2035.9V2048.0M446.1 2032.6V2041.6M448.0 2033.2V2036.6M450.4 2031.7V2037.9M452.1 2033.3V2038.9M454.3 2033.1V2040.1M455.9 2016.1V2060.8M457.5 2074.2V2083.2M460.0 2088.5V2095.0M461.5 2086.2V2095.0M463.5 2080.6V2095.0M465.1 2036.2V2089.6M467.0 1997.1V2007.3M469.2 1918.1V1923.1M471.2 1888.2V1892.0M473.6 1888.5V1897.7M475.7 1899.5V1902.9M478.2 1902.7V1907.7M480.7 1907.6V1911.4M482.5 1909.5V1914.3M484.2 1915.1V1918.1M486.2 1915.5V1922.9M488.1 1920.8V1927.4M489.7 1929.0V1931.1M491.7 2023.7V2041.2M493.2 2045.9V2057.2M495.2 2038.8V2076.8M496.9 2065.6V2075.6M498.9 2061.8V2065.2M501.0 2049.4V2055.1M503.4 2019.8V2052.9M505.1 2024.8V2051.5M507.1 2041.7V2049.7M508.7 2041.8V2048.3M510.5 2032.9V2046.7M512.6 2015.5V2022.0M514.7 1967.6V1970.9M516.5 1947.7V1971.3M518.5 1971.2V1976.3M520.2 1978.2V1980.5M522.2 1965.8V1985.7M524.5 1976.5V1980.3M526.4 1973.1V1975.6M528.4 1970.5V1973.0M530.9 1964.5V1974.6M532.8 1972.7V1975.9M535.1 1970.1V1977.4M536.9 1983.5V1991.2M538.9 2005.1V2011.8M540.6 2015.8V2029.3M542.2 2026.4V2036.1M544.4 2033.9V2042.7M546.1 2044.0V2047.6M548.0 2004.0V2052.6M549.8 2007.0V2057.2M552.0 2055.1V2062.7M554.1 2051.3V2067.9M556.2 2048.4V2071.7M558.3 2057.5V2075.1M560.1 2034.7V2078.0M561.6 2060.6V2080.6M563.1 2026.1V2080.1M564.7 2057.6V2077.5M566.9 2058.7V2073.8M568.8 2051.9V2070.7M570.5 2056.5V2065.0M572.2 2036.4V2044.8M574.4 2016.5V2020.3M576.7 2017.1V2019.6M578.4 2015.0V2019.0M580.8 2015.5V2018.1M807.2 2037.2V2051.3M809.1 2056.0V2058.5M811.2 2029.0V2063.6M813.4 2035.1V2064.0M815.6 2056.6V2064.4M817.5 2048.3V2064.7M819.3 2030.4V2064.9M821.6 2045.5V2061.3M823.8 2041.6V2045.4M826.0 2020.0V2028.7M827.6 2024.6V2026.8M829.9 2024.9V2029.2M831.9 2027.1V2033.0M834.4 2051.7V2063.0M836.5 2073.4V2088.0M838.3 2066.9V2097.0M840.2 2058.2V2100.2M842.0 2090.0V2103.1M843.8 2084.5V2106.2M846.0 2058.2V2092.1M848.1 2053.7V2056.7M850.0 2038.0V2042.9M851.6 2044.8V2049.4M854.0 2056.2V2062.7M855.5 2066.0V2075.9M857.1 2082.6V2089.6M859.3 2091.7V2098.1M861.4 2080.5V2093.2M863.3 2063.1V2088.9M864.9 2081.7V2085.2M867.1 2037.6V2076.5M869.4 2042.8V2058.7M871.4 2036.7V2043.5M873.1 2034.1V2040.1M875.4 2028.4V2037.9M877.6 2032.2V2035.8M879.6 2028.4V2033.8M882.0 2003.7V2022.4M883.7 2010.4V2013.7M886.1 2006.3V2010.1M888.0 2008.9V2015.3M889.6 2014.2V2019.9M892.1 2033.6V2036.2M893.9 2079.4V2083.9M895.7 2091.9V2096.9M897.9 2088.8V2100.1M899.6 2092.9V2102.5M901.7 2102.2V2105.4M903.3 2053.8V2107.8M905.6 2035.2V2083.5M907.5 2045.6V2058.5M909.4 2033.5V2038.7M911.5 2031.3V2037.3M913.3 2030.6V2036.2M915.7 2029.6V2034.6M917.7 2033.8V2039.2M919.9 2052.8V2056.7M921.5 2045.7V2059.9M923.7 2029.1V2034.9M925.3 2011.5V2017.7M927.3 1978.7V1992.7M929.8 1964.6V1969.4M932.1 1955.8V1960.1M934.2 1942.8V1951.4M936.2 1931.0V1936.7M938.6 1891.8V1896.3M940.4 1853.6V1860.2M942.3 1847.6V1852.0M944.3 1856.7V1859.0M946.0 1860.3V1864.8M947.5 1893.6V1895.8M949.2 1918.1V1936.0M951.3 1961.0V1963.2M953.4 1985.7V1989.2M955.6 2003.2V2005.8M957.4 2003.9V2019.5M959.1 2021.9V2032.6M961.4 2036.4V2053.2M963.3 2054.8V2067.1M964.9 2067.9V2077.5M967.2 2089.1V2092.4M969.0 2086.3V2095.0M971.2 2084.5V2095.0M973.2 2086.1V2095.0M975.5 2085.4V2095.0M978.0 2060.5V2070.7M979.9 2042.8V2050.3M982.1 2027.5V2030.8M984.2 2010.8V2014.9M986.0 1995.4V2000.7M988.5 1999.9V2003.6M990.3 2000.8V2007.2M992.7 2007.6V2012.1M994.3 2032.5V2036.6M996.7 2069.0V2078.3M998.5 2071.5V2085.5M1000.8 2074.2V2091.4M1002.4 2088.6V2092.6M1004.1 2050.6V2061.3M1005.6 1989.9V2033.7M1007.7 1987.3V1996.1M1009.9 1953.4V1955.9M1011.7 1935.9V1940.5M1013.9 1937.7V1940.5M1152.3 2030.8V2038.0M1153.9 2000.4V2022.0M1156.2 2016.7V2019.2M1158.4 2000.0V2024.8M1160.3 2020.8V2029.9M1162.3 2030.2V2035.0M1164.6 2039.3V2046.3M1166.2 2051.3V2061.9M1168.6 2079.6V2086.0M1170.2 2099.0V2102.9M1171.9 2095.9V2120.6M1173.9 2121.0V2135.6M1175.9 2124.6V2138.0M1177.8 2125.4V2140.5M1179.8 2114.0V2143.1M1181.9 2137.8V2145.7M1183.4 2093.7V2147.7M1185.9 2109.7V2145.7M1187.7 2102.8V2143.3M1189.8 2111.8V2140.7M1191.8 2134.8V2138.2M1193.8 2130.7V2135.6M1196.1 2122.0V2127.0M1198.3 2108.7V2116.3M1200.4 2096.5V2106.4M1202.4 2087.4V2096.2M1204.5 2065.5V2070.2M1206.2 2038.6V2047.0M1208.2 2012.4V2017.1M1210.3 1957.3V1971.8M1212.3 1953.6V1960.7M1213.9 1956.2V1966.0M1216.1 1970.4V1973.3M1217.8 1975.7V1978.9M1219.6 1971.3V1984.9M1221.4 2035.8V2039.1M1223.8 2075.5V2080.4M1225.3 2084.3V2088.2M1227.8 2097.8V2101.1M1230.3 2062.4V2108.3M1232.0 2102.6V2108.3M1234.4 2061.6V2108.3M1236.2 2083.0V2108.3M1237.8 2084.4V2103.8M1239.8 2078.7V2091.4M1241.9 2072.8V2077.8M1244.3 2054.3V2071.9M1246.0 2067.9V2070.3M1248.0 2050.2V2068.2M1250.4 2059.4V2065.7M1252.6 2061.9V2070.1M1254.3 2033.2V2073.4M1256.2 2073.5V2077.2M1257.7 2074.7V2080.2M1260.0 2054.7V2058.3M1262.1 2021.7V2025.7M1264.5 1983.4V1995.2M1266.4 1982.0V1985.9M1268.0 1982.1V1984.6M1270.4 1980.2V1982.7M1343.4 2009.0V2052.3M1344.9 2053.0V2067.7M1346.6 2061.7V2081.7M1348.7 2043.7V2081.7M1350.5 2072.4V2081.7M1352.9 2068.6V2081.7M1354.7 2071.1V2081.7M1356.8 2074.5V2081.7M1359.1 2062.2V2076.0M1361.2 2061.0V2070.5M1363.4 2053.4V2064.6M1365.6 2051.2V2056.7M1367.9 2039.3V2041.5M1370.3 2018.3V2025.8M1372.7 2027.2V2030.5M1374.7 2027.1V2034.4M1376.3 2034.1V2037.7M1378.7 2065.9V2068.8M1381.1 2080.1V2106.4M1383.6 2074.5V2087.7M1385.5 2057.6V2072.8M1387.7 2067.7V2080.8M1389.2 2084.0V2096.8M1391.7 2118.4V2121.6M1393.5 2118.7V2121.6M1395.7 2094.0V2121.6M1398.1 2111.9V2121.6M1399.7 2116.8V2120.7M1401.8 2065.2V2077.2M1403.6 2033.6V2039.9M1405.8 2034.0V2037.3M1408.2 2028.6V2035.3M1410.0 2028.0V2033.9M1411.5 2020.3V2022.6M1413.6 2000.8V2004.9M1415.4 1996.6V1999.1M1474.9 2025.9V2030.7M1477.1 1981.3V1990.9M1478.9 1945.6V1951.0M1481.3 1889.3V1893.9M1482.8 1896.2V1899.0M1485.0 1904.0V1906.3M1487.2 1910.5V1913.7M1489.2 1928.8V1932.6M1491.1 1989.2V2001.6M1492.7 2006.1V2017.4M1494.8 2015.9V2021.6M1497.1 2018.9V2026.2M1499.3 2003.9V2022.1M1501.7 1997.4V2008.8M1503.9 1951.7V1989.0M1505.6 1939.0V1945.9M1507.6 1946.5V1949.5M1509.9 1950.1V1953.8M1511.4 1951.0V1956.6M1513.1 1960.5V1964.3M1515.0 1990.9V2004.0M1517.3 1991.7V2035.6M1518.9 1990.1V2013.4M1521.3 1967.6V1987.2M1523.8 1978.4V1982.6M1526.2 1977.4V1980.4M1527.8 1974.0V1978.8M1529.5 1974.2V1977.3M1531.4 1967.4V1975.5M1533.5 1966.9V1973.5M1535.8 1970.2V1972.4M1589.1 2105.4V2119.6M1591.5 1978.1V1988.4M1593.8 1982.7V1988.4M1595.5 1977.9V1988.4M1598.0 1986.1V1988.4M1600.2 1991.3V1997.0M1602.3 2002.7V2008.2M1604.2 2008.2V2012.3M1606.1 1995.1V2015.5M1608.5 2017.0V2019.2M1611.0 1956.2V1959.3M1612.5 1955.8V1960.2M1615.0 1987.4V1991.3M1616.7 1984.5V2010.5M1618.7 2011.4V2018.5M1620.4 1988.9V2025.1M1622.4 2018.6V2024.3M1624.4 2005.8V2017.3M1626.6 1991.2V2009.6M1673.1 2037.3V2061.6M1674.9 2004.4V2014.0M1676.6 1983.6V1987.8M1678.7 1981.9V1986.1M1680.3 1979.8V1984.8M1682.7 1979.6V1982.0M1685.1 1963.5V1972.4M1687.6 1971.1V1978.0M1689.3 1971.9V1981.8M1691.0 1959.4V1977.1M1693.4 1942.8V1946.3M1695.1 1945.9V1949.2M1697.3 1949.3V1952.7M1699.7 1954.6V1956.8M1701.8 1964.4V1969.4M1704.1 1997.2V2000.4M1706.4 2009.3V2011.6M1708.4 2017.1V2020.9M1752.9 2001.7V2009.7M1754.8 1998.5V2005.2M1757.1 1976.2V1982.8M1759.3 1976.7V1980.0M1760.9 1982.6V1985.4M1763.0 1989.4V1992.4M1765.4 1998.7V2001.5M1767.4 2010.2V2014.1M1769.6 2016.5V2027.6M1771.4 2021.9V2040.7M1773.4 2045.3V2056.3M1775.6 2036.7V2072.8M1777.5 2070.0V2072.5M1779.2 2065.9V2071.3M1781.7 2066.5V2069.6M1783.4 2058.7V2068.5M1785.3 2051.9V2068.3M1787.5 2057.9V2068.3M1824.2 2044.5V2051.8M1826.3 2028.6V2058.3M1827.8 2043.0V2045.9M1830.0 2021.5V2028.4M1831.7 2023.2V2027.1M1833.4 2011.6V2028.8M1835.1 2027.0V2030.5M1836.7 2032.3V2035.5M1838.3 2036.2V2041.7M1840.7 2045.6V2047.9M1842.7 2037.5V2049.5M1844.7 2047.4V2051.1M1846.8 2055.5V2057.7M1848.7 2055.6V2078.5M1850.9 2091.3V2101.0M1852.5 2078.7V2116.9M1880.5 1949.3V1955.9M1882.9 1922.8V1931.4M1885.4 1931.4V1936.3M1887.3 1935.4V1940.1M1889.5 1940.4V1944.5M1891.8 1997.7V2002.7M1893.3 2035.0V2043.1M1895.6 2044.2V2050.6M1897.4 2033.6V2050.2M1899.5 2012.3V2028.8M1901.0 2009.4V2014.2M1903.1 1997.0V2001.5M1929.5 2038.6V2041.5M1931.2 2020.4V2052.9M1933.4 2041.8V2046.0M1935.0 2022.0V2038.7M1937.0 2002.3V2018.3M1938.7 1979.8V1996.7M1941.0 1978.9V1981.3M1943.0 1969.7V1974.2M1945.4 1963.5V1966.0M1947.3 1936.0V1959.8M1965.9 1921.2V1929.8M1967.4 1920.7V1929.8M1969.1 1923.9V1929.8M1970.8 1925.7V1929.8M1972.9 1924.7V1929.8M1975.3 1923.5V1929.8M1977.6 1943.7V1947.5M1992.5 2014.4V2028.4M1994.8 1984.8V2028.4M1996.4 2018.9V2028.4M1998.2 2026.2V2028.4M2000.5 1974.4V2028.4M2002.1 1986.5V2028.4M2004.1 2017.1V2023.8M2017.1 1970.1V1976.2M2018.9 1984.5V1991.3M2021.4 1985.7V1994.4M2023.4 1989.3V1996.9M2025.3 1978.2V1998.4M2036.4 1958.6V1969.0M2038.6 1958.1V1975.6M2041.0 1974.9V1988.5M2046.6 2004.1V2012.4M2048.9 2010.2V2012.4M2050.9 2005.6V2012.4M2056.9 1976.0V1987.5M2058.7 1974.8V1981.3M2060.7 1973.7V1980.3M2206.9 2074.6V2095.2M2208.6 2069.9V2074.8M2210.1 2061.9V2066.3M2211.9 2056.2V2058.3M2213.8 2054.3V2063.5M2216.0 2065.1V2069.7M2218.1 2064.6V2075.6M2220.5 2062.2V2065.6M2222.3 2029.6V2035.4M2224.3 1928.6V1932.5M2226.7 1928.3V1932.5M2229.1 1923.7V1932.5M2231.6 1985.3V1991.0M2233.6 2068.0V2081.8M2235.1 2060.2V2107.2M2237.0 2103.8V2112.7M2239.4 2096.2V2106.3M2241.4 2094.8V2101.0M2243.3 2093.8V2095.9M2245.8 2070.8V2078.5M2247.9 2059.8V2062.3M2249.8 2046.4V2050.2M2251.8 2034.4V2042.0M2253.3 2031.8V2035.3M2255.1 2024.2V2027.9M2257.2 1977.4V1989.2M2259.2 1940.0V1957.2M2260.9 1952.4V1959.3M2262.7 1946.4V1961.5M2264.4 1950.8V1963.6M2266.9 1964.4V1966.7M2269.0 1965.3V1969.3M2271.3 1969.8V1972.1M2273.3 1999.5V2002.2M2275.3 1997.6V2037.4M2277.5 1996.6V2041.7M2279.0 2027.6V2041.7M2281.0 2005.5V2041.7M2283.4 2036.3V2041.7M2285.2 2030.2V2041.7M2286.8 2032.7V2041.5M2289.1 2008.6V2040.6M2290.9 2012.1V2039.8M2293.3 2034.9V2038.9M2295.5 2017.2V2038.0M2297.1 2024.3V2037.4M2299.1 2020.9V2036.6M2300.8 2028.7V2035.3M2302.7 2024.7V2033.6M2304.4 2016.2V2032.1M2306.0 1979.9V2030.7M2307.6 2000.1V2029.3M2309.9 2021.7V2027.2M2311.4 2012.8V2025.9M2313.3 1977.5V2025.2M2315.0 2020.5V2027.9M2317.0 2018.6V2030.9M2319.1 2029.8V2034.1M2320.7 2022.2V2036.7M2322.7 2035.5V2039.7M2324.3 2032.4V2042.1M2326.7 2040.5V2045.5M2328.4 2009.7V2047.9" fill="none" stroke="#1f2f60" stroke-width="3.2" stroke-linecap="round"/>
<path d="M582.6 2009.3V2024.1M584.6 2026.3V2032.0M587.0 2034.8V2042.1M588.9 2041.8V2049.6M591.3 2017.3V2041.6M593.7 1987.8V2012.4M596.1 1996.4V1999.9M597.9 1991.5V1994.0M599.8 1985.3V1989.0M601.8 1989.0V1992.9M603.7 1992.1V1996.9M605.4 1996.4V2004.8M607.8 2011.0V2028.6M610.0 2042.6V2051.0M612.1 2063.4V2065.7M613.8 2065.3V2077.7M616.1 2078.0V2093.6M618.4 2097.3V2108.7M620.8 2105.4V2112.6M622.6 2107.1V2115.7M624.8 2103.0V2119.4M626.7 2070.9V2119.9M628.7 2099.8V2113.7M630.7 2096.0V2107.4M632.7 2098.9V2100.9M635.0 2077.5V2093.6M637.0 2064.4V2088.1M638.6 2085.7V2088.1M640.1 2071.3V2088.5M642.2 2089.7V2093.7M644.6 2078.6V2099.8M646.2 2080.0V2103.8M647.8 2100.8V2107.7M650.2 2083.6V2104.6M652.0 2084.3V2101.5M653.7 2083.2V2098.7M656.2 2066.3V2089.2M658.1 2043.0V2046.5M660.2 1994.8V1999.1M662.4 1947.1V1950.4M664.3 1913.8V1919.4M666.4 1915.6V1921.0M668.3 1916.5V1922.4M670.2 1916.2V1923.9M672.5 1923.2V1925.6M674.6 1923.6V1927.1M676.4 1944.7V1952.6M678.4 1977.2V1983.1M680.7 2004.0V2006.9M683.1 2024.8V2033.6M684.9 2052.2V2061.4M686.7 2063.2V2087.7M688.3 2091.4V2095.8M690.6 2076.9V2108.0M692.3 2063.6V2116.4M694.6 2094.0V2121.6M696.2 2067.6V2121.6M698.4 2114.1V2121.6M700.2 2118.5V2121.6M702.3 2088.8V2121.6M704.1 2115.8V2120.6M705.7 2102.5V2109.2M708.2 2078.6V2092.3M710.2 2067.8V2078.8M711.8 2059.4V2067.5M713.9 2008.5V2012.5M716.0 1987.4V1994.9M717.7 1987.0V1996.3M719.7 1990.9V1997.9M721.4 2003.2V2005.4M723.3 2071.3V2074.2M725.8 2070.5V2097.7M727.9 2087.8V2100.6M729.4 2073.7V2102.9M731.8 2102.0V2106.3M733.6 2097.9V2106.2M735.6 2060.9V2094.7M737.4 2080.3V2084.0M739.4 2058.0V2072.0M741.2 2039.6V2061.8M742.8 2025.7V2043.1M744.4 1969.5V1979.1M746.2 1936.3V1939.7M748.4 1928.0V1930.8M750.3 1931.8V1934.2M752.1 1925.7V1937.5M753.9 1935.8V1940.8M756.0 1941.4V1944.6M758.4 2007.7V2013.9M760.0 2002.8V2019.5M761.6 2012.2V2018.6M763.3 2014.2V2017.5M765.6 2009.8V2016.2M767.7 2004.6V2014.9M770.1 1994.6V2013.2M771.9 1999.2V2011.9M774.3 2003.9V2010.1M776.2 2002.4V2008.7M778.4 2004.9V2007.2M780.3 2008.3V2012.0M782.7 2005.8V2019.0M784.9 2007.7V2024.9M786.7 2039.0V2042.0M788.9 2051.1V2065.4M790.8 2052.9V2074.0M792.6 2067.9V2079.9M794.7 2070.5V2086.7M796.5 2075.0V2092.7M798.8 2042.9V2068.9M800.4 2029.5V2052.1M802.4 2039.4V2048.5M804.7 2024.2V2044.5M1015.8 1965.5V1971.9M1017.6 2000.0V2002.3M1019.9 2033.0V2042.2M1022.2 2054.6V2062.9M1024.6 2050.4V2071.0M1026.9 2070.8V2079.2M1028.6 2073.0V2084.9M1030.9 2084.6V2092.8M1033.0 2080.1V2096.4M1034.6 2090.6V2098.0M1036.1 2096.2V2099.5M1038.2 2097.4V2101.7M1039.9 2087.7V2103.4M1042.2 2084.1V2105.6M1044.5 2082.3V2107.9M1046.2 2078.3V2106.6M1048.5 2089.9V2103.6M1050.3 2094.1V2101.3M1052.8 2092.9V2098.2M1054.4 2092.1V2096.1M1056.1 2059.4V2088.9M1057.9 2064.8V2070.1M1060.1 2048.3V2053.6M1061.8 2043.4V2053.5M1063.6 2050.2V2053.3M1065.9 2050.1V2053.1M1068.3 2049.4V2053.0M1070.8 2050.7V2052.8M1073.1 2036.9V2052.6M1075.2 2049.5V2052.5M1077.2 2055.4V2059.1M1079.0 2090.4V2095.5M1081.0 2112.2V2117.1M1083.4 2115.0V2122.9M1085.7 2126.4V2128.5M1087.9 2130.7V2134.1M1090.4 2132.2V2138.4M1092.4 2137.6V2141.9M1094.5 2124.6V2145.6M1097.0 2140.0V2148.2M1098.9 2143.9V2148.2M1101.3 2143.3V2148.2M1102.9 2134.7V2148.2M1105.1 2127.3V2148.2M1107.3 2126.3V2147.4M1109.7 2135.7V2144.1M1111.3 2130.7V2142.1M1113.0 2134.9V2139.9M1115.3 2133.9V2136.9M1117.5 2116.7V2131.6M1119.7 2098.7V2109.3M1122.1 2076.3V2084.7M1124.0 2073.8V2076.6M1125.7 2071.5V2073.6M1127.4 2068.2V2070.5M1129.1 2065.1V2067.7M1130.6 2061.8V2065.1M1132.1 2057.4V2062.4M1133.9 2052.3V2060.2M1136.0 2043.9V2059.8M1137.9 2035.0V2059.4M1140.0 2019.6V2059.0M1142.2 2051.4V2058.6M1144.3 2040.8V2058.1M1146.4 2055.0V2057.3M1148.1 2045.4V2056.6M1150.5 2026.6V2055.7M1272.0 1976.5V1979.9M1273.8 1977.4V1980.9M1275.5 1986.4V1989.1M1277.3 1994.5V1997.6M1279.0 2002.2V2005.6M1280.8 2037.0V2041.9M1283.2 2081.5V2096.9M1285.5 2085.5V2102.7M1287.2 2098.7V2106.8M1289.0 2055.5V2057.7M1291.3 1997.6V2000.5M1293.8 1997.9V2004.7M1296.0 2003.9V2008.5M1298.5 2012.8V2015.3M1300.7 2060.2V2067.3M1302.4 2039.9V2073.0M1304.1 2065.0V2068.7M1306.3 2035.8V2063.4M1308.6 2043.0V2057.8M1310.7 2046.1V2064.5M1312.8 2072.1V2074.9M1314.7 2078.3V2083.8M1316.8 2076.8V2094.0M1319.1 2076.5V2097.0M1320.9 2091.5V2098.8M1323.0 2070.7V2101.0M1324.7 2068.2V2102.6M1327.0 2013.8V2016.9M1329.1 1978.1V1980.3M1331.5 1974.6V1980.0M1333.2 1984.7V1987.7M1334.8 1988.5V1995.3M1337.3 2002.9V2009.8M1339.1 2018.2V2021.5M1341.3 2019.7V2036.7M1417.1 1986.1V1990.7M1418.8 1969.4V1972.0M1420.4 1938.3V1942.2M1422.0 1930.4V1936.7M1424.3 1940.5V1945.9M1425.9 1947.0V1952.6M1427.8 1963.1V1966.4M1429.4 2010.1V2012.7M1431.0 2036.3V2040.5M1433.2 2034.1V2044.9M1434.9 2045.9V2048.4M1437.2 2048.8V2054.6M1439.4 2059.6V2069.6M1441.0 2077.5V2081.1M1442.9 2090.5V2094.2M1444.9 2103.7V2108.2M1446.8 2100.3V2123.4M1449.1 2139.7V2142.1M1451.2 2153.3V2158.6M1452.7 2123.9V2141.4M1455.2 2080.7V2097.7M1457.1 2069.1V2076.1M1459.4 2044.1V2053.6M1461.6 2034.8V2037.8M1463.1 2031.3V2035.3M1465.0 2028.3V2032.1M1466.8 2023.2V2029.1M1468.8 2021.7V2025.9M1470.7 2024.9V2031.6M1472.5 1998.3V2037.0M1538.2 1994.1V1996.5M1540.3 2010.1V2023.7M1542.0 2018.7V2028.4M1544.3 1984.1V2034.6M1546.7 2027.5V2040.9M1548.7 2039.0V2046.3M1550.6 2040.6V2051.3M1552.4 2039.2V2053.5M1554.7 2026.6V2044.8M1557.0 2032.5V2036.4M1559.3 2023.6V2027.9M1561.2 2025.7V2027.8M1562.9 2010.4V2030.6M1564.7 2023.7V2033.5M1566.9 2034.0V2037.4M1569.4 2041.6V2050.0M1570.9 2057.3V2061.4M1572.6 2070.0V2074.1M1574.9 2088.3V2090.5M1576.5 2089.7V2101.4M1579.0 2077.3V2118.8M1580.5 2092.7V2129.5M1582.6 2125.1V2137.7M1584.4 2087.3V2141.3M1586.7 2137.4V2145.9M1628.7 1995.0V1998.6M1631.0 1974.6V1977.9M1633.1 1954.7V1960.3M1635.5 1958.6V1962.9M1637.6 1963.4V1966.5M1639.6 1963.6V1969.9M1641.9 2000.8V2007.1M1644.2 2025.2V2067.5M1646.0 2057.1V2071.7M1647.9 2064.4V2075.7M1649.9 2063.5V2080.4M1652.0 2075.4V2082.7M1654.5 2080.0V2084.3M1656.4 2063.1V2085.6M1658.1 2082.8V2086.7M1660.5 2041.5V2087.7M1662.2 2042.2V2088.2M1664.6 2071.6V2089.0M1666.7 2035.4V2089.4M1669.1 2082.0V2086.1M1671.4 2070.6V2082.9M1710.7 2026.9V2031.3M1713.2 2037.1V2041.5M1715.0 2044.6V2049.1M1716.6 2056.1V2059.1M1718.6 2072.6V2076.0M1721.1 2092.8V2096.7M1722.8 2054.8V2108.5M1724.9 2106.2V2111.2M1727.0 2083.3V2113.8M1729.0 2111.2V2116.4M1731.2 2101.0V2119.2M1733.3 2112.1V2121.3M1735.0 2086.7V2118.4M1736.8 2113.2V2115.4M1739.3 2094.8V2111.3M1741.5 2079.2V2102.2M1743.9 2062.0V2069.1M1746.4 2035.2V2039.4M1748.1 2012.5V2021.9M1750.5 2007.7V2009.9M1789.8 2057.4V2068.3M1791.8 2015.8V2065.8M1794.1 2007.0V2009.1M1796.1 1962.7V1969.9M1797.8 1962.5V1970.3M1799.5 1968.6V1970.6M1801.8 1966.9V1971.1M1804.2 1966.8V1971.7M1805.7 1968.1V1972.0M1807.4 1967.4V1972.4M1809.0 2027.2V2051.9M1810.7 2087.8V2097.1M1812.5 2098.5V2101.1M1814.1 2064.2V2104.7M1815.8 2088.6V2106.1M1817.9 2071.4V2076.1M1820.4 2050.0V2057.6M1822.6 2047.6V2050.2M1854.1 2099.3V2117.7M1856.5 2077.3V2109.7M1858.3 2096.7V2100.0M1860.1 2081.5V2089.0M1862.4 2072.1V2074.8M1864.1 2060.9V2065.1M1866.2 2048.9V2053.5M1867.8 2042.1V2045.0M1869.4 2035.0V2037.7M1871.3 2014.0V2033.0M1873.5 2023.7V2027.5M1875.1 2011.9V2019.6M1876.7 2007.1V2009.6M1879.0 1996.6V1999.0M1905.4 1994.4V1999.1M1907.1 1993.1V2001.0M1908.7 1992.6V2001.9M1910.4 1991.5V2002.5M1912.7 1990.0V2003.4M1914.6 1998.3V2004.1M1916.5 2001.0V2004.7M1918.7 2030.9V2034.2M1920.3 2034.1V2059.8M1922.6 2045.2V2051.5M1925.0 2025.3V2030.5M1927.3 2019.0V2028.6M1949.4 1928.0V1931.4M1951.9 1891.4V1894.6M1954.2 1885.8V1891.7M1956.0 1888.2V1891.1M1957.7 1869.6V1890.5M1960.1 1853.0V1856.2M1961.8 1842.9V1848.8M1964.1 1845.6V1853.6M1979.3 2009.1V2025.7M1981.5 2010.6V2025.7M1983.3 2006.1V2025.7M1985.8 2020.0V2025.7M1987.9 2005.6V2025.7M1990.3 2011.6V2026.1M2006.1 1952.6V1971.9M2007.9 1955.8V1959.1M2009.8 1949.0V1959.1M2011.7 1953.7V1959.1M2013.2 1952.6V1959.1M2015.3 1950.5V1959.1M2026.9 1966.4V1969.3M2029.3 1962.5V1968.3M2031.7 1959.2V1967.2M2034.2 1960.7V1966.2M2042.7 2007.8V2012.4M2044.2 1997.2V2012.4M2052.4 1996.6V2012.4M2054.8 1990.3V2012.4M2062.5 1971.4V1979.5M2064.4 1970.2V1978.6M2066.5 1970.6V1977.6M2068.9 1969.1V1976.4M2070.5 1967.2V1975.7M2072.1 1970.1V1974.9M2074.5 1945.5V1973.7M2076.7 1959.6V1972.7M2078.4 2015.5V2022.8M2080.3 2080.7V2083.6M2082.4 2099.8V2117.5M2084.7 2125.1V2127.9M2086.8 2121.4V2137.5M2089.0 2109.5V2147.4M2090.9 2145.0V2149.1M2093.2 2106.6V2150.1M2095.0 2098.5V2151.0M2097.2 2115.0V2152.0M2099.3 2142.0V2153.0M2101.4 2149.9V2155.2M2103.1 2143.0V2157.3M2104.7 2155.1V2159.2M2107.1 2149.1V2162.1M2109.3 2157.2V2164.9M2111.7 2158.8V2167.8M2113.7 2152.8V2168.2M2115.9 2141.1V2163.0M2118.2 2151.3V2157.3M2119.9 2147.5V2153.2M2121.8 2098.2V2148.7M2123.9 2132.2V2142.1M2126.3 2099.7V2102.2M2128.5 2116.1V2123.0M2130.4 2141.7V2144.5M2132.9 2131.3V2148.8M2134.6 2146.7V2151.8M2137.0 2147.6V2156.1M2138.5 2146.9V2158.7M2141.0 2108.8V2162.2M2142.7 2124.3V2163.9M2144.8 2135.4V2166.1M2147.1 2165.7V2168.6M2149.6 2155.9V2171.2M2152.1 2167.5V2173.9M2153.8 2156.9V2174.9M2155.4 2152.9V2174.9M2157.3 2172.4V2174.9M2159.7 2139.8V2174.9M2161.3 2163.5V2174.9M2163.0 2164.8V2174.9M2165.4 2150.9V2174.9M2167.7 2151.7V2171.5M2170.0 2148.8V2165.6M2171.8 2150.9V2161.0M2173.3 2124.1V2157.0M2175.3 2124.4V2151.8M2177.1 2144.9V2147.3M2178.7 2107.5V2142.9M2180.4 2108.7V2140.0M2182.2 2130.8V2138.9M2184.5 2135.5V2137.6M2186.6 2130.1V2136.3M2188.7 2085.3V2135.1M2190.5 2113.8V2133.9M2192.2 2105.2V2132.9M2193.9 2125.8V2132.6M2195.9 2095.0V2133.0M2197.5 2111.8V2133.4M2200.0 2112.5V2133.9M2202.4 2129.6V2134.4M2204.9 2130.2V2134.9" fill="none" stroke="#c58316" stroke-width="3.2" stroke-linecap="round"/>
<path d="M218.2 1987.5h0M218.7 1984.8h0M219.7 1949.5h0M221.8 1925.2h0M221.6 1917.4h0M224.0 1907.7h0M226.4 1904.5h0M225.1 1914.6h0M228.1 1927.7h0M228.3 1925.6h0M234.9 2042.0h0M235.5 2053.1h0M235.9 2056.3h0M237.5 2050.7h0M240.1 2062.8h0M239.7 2059.6h0M242.3 2021.4h0M243.6 2060.9h0M246.5 2065.6h0M246.6 2066.3h0M248.8 2065.9h0M250.1 2048.3h0M250.3 2064.4h0M252.2 2077.1h0M252.9 2058.4h0M254.1 2076.2h0M255.7 2061.9h0M256.2 2064.8h0M258.3 2073.9h0M258.9 2051.1h0M258.9 2063.5h0M260.0 2071.1h0M260.2 2058.9h0M263.2 2068.9h0M265.5 2032.1h0M266.4 2041.8h0M266.5 2036.2h0M269.3 2026.4h0M270.3 2033.5h0M270.9 2030.8h0M271.6 2024.2h0M272.5 2022.6h0M274.6 2029.1h0M276.2 2029.5h0M277.9 2025.2h0M278.9 2025.9h0M279.5 2019.4h0M281.4 2019.8h0M280.4 2023.2h0M283.4 2007.9h0M283.1 2014.6h0M285.1 2016.7h0M284.9 2003.8h0M288.0 1997.4h0M286.7 2006.8h0M290.9 2007.2h0M290.8 2001.5h0M293.3 2000.7h0M295.4 2002.2h0M298.7 2000.5h0M301.1 2008.3h0M301.9 2024.9h0M302.6 2004.3h0M306.9 2054.6h0M307.8 2055.7h0M309.8 2037.1h0M311.6 2065.4h0M311.9 2059.9h0M314.4 2024.1h0M315.1 2056.9h0M318.2 2062.2h0M320.7 2061.4h0M321.9 2045.3h0M323.4 2054.3h0M323.6 2056.5h0M323.1 2045.9h0M325.1 2034.8h0M326.0 2031.0h0M326.4 2012.5h0M329.2 2015.8h0M329.0 2013.9h0M332.5 2032.0h0M332.4 2034.4h0M334.7 2045.5h0M334.2 2042.7h0M335.2 2059.4h0M336.4 2049.9h0M338.8 2073.9h0M337.6 2067.4h0M340.5 2076.7h0M339.2 2056.4h0M339.2 2076.6h0M342.1 2085.6h0M343.9 2086.7h0M343.9 2078.5h0M343.5 2055.8h0M346.9 2079.5h0M349.2 2050.6h0M350.8 2048.5h0M350.8 2049.3h0M351.0 2039.0h0M352.9 2004.8h0M354.3 1988.7h0M356.8 1961.3h0M359.9 1973.0h0M360.1 1971.1h0M362.6 1988.6h0M362.8 1983.4h0M363.4 1969.0h0M364.3 2019.5h0M365.4 2020.9h0M364.2 2012.4h0M365.6 2008.9h0M366.5 2007.4h0M366.5 2004.6h0M368.3 1981.8h0M367.9 1945.0h0M367.8 1969.8h0M371.1 1975.0h0M370.5 1952.8h0M372.7 1957.9h0M372.8 1970.7h0M373.8 1971.8h0M374.8 1970.8h0M377.0 1966.2h0M376.4 1964.2h0M377.9 1965.3h0M379.0 1968.8h0M383.3 1971.2h0M382.1 1969.3h0M384.2 1972.2h0M385.4 1964.6h0M387.3 1973.2h0M388.1 1981.0h0M390.6 2007.5h0M390.7 2002.5h0M394.5 2043.2h0M393.4 2038.5h0M395.0 2056.0h0M394.9 2046.0h0M395.1 2024.6h0M398.7 2070.1h0M400.2 2077.4h0M400.5 2065.6h0M401.2 2078.9h0M401.2 2079.6h0M403.7 2085.5h0M407.1 2095.9h0M409.6 2095.0h0M413.4 2109.5h0M413.2 2099.2h0M412.5 2078.1h0M414.5 2105.2h0M417.2 2101.3h0M419.1 2109.3h0M418.9 2100.7h0M421.5 2094.4h0M421.8 2091.5h0M423.0 2094.2h0M424.0 2084.5h0M426.4 2080.2h0M426.6 2066.8h0M426.6 2075.2h0M429.4 2070.7h0M430.5 2070.3h0M432.0 2059.4h0M434.2 2059.8h0M436.6 2059.8h0M435.3 2060.0h0M438.0 2052.9h0M440.4 2035.1h0M442.0 2026.2h0M443.6 2009.2h0M447.0 2028.9h0M449.0 2024.5h0M447.4 2023.0h0M448.5 2014.5h0M451.3 2023.5h0M450.3 2018.9h0M453.1 2026.1h0M451.5 2012.2h0M454.8 2027.8h0M455.0 2025.7h0M455.1 2038.8h0M455.2 2035.3h0M458.4 2055.4h0M459.9 2040.9h0M464.1 2061.1h0M464.3 2054.3h0M464.5 2057.8h0M467.8 1989.7h0M469.1 1906.7h0M468.9 1899.8h0M471.4 1879.4h0M473.1 1873.2h0M474.1 1881.8h0M475.8 1887.2h0M477.4 1893.2h0M478.8 1885.2h0M478.0 1876.3h0M481.5 1897.6h0M481.1 1888.1h0M482.8 1901.6h0M483.4 1903.7h0M483.7 1904.0h0M485.0 1895.9h0M487.9 1908.8h0M487.7 1903.0h0M488.3 1897.5h0M490.4 1920.1h0M489.5 1917.3h0M490.8 2009.7h0M493.2 2025.4h0M495.3 2041.2h0M495.9 2039.3h0M499.6 2032.5h0M499.9 2032.5h0M500.2 2007.3h0M500.7 2013.5h0M503.2 2025.6h0M505.9 2014.5h0M504.9 1998.5h0M504.1 2018.7h0M506.8 2013.1h0M508.4 2015.6h0M508.6 2021.7h0M510.7 2018.7h0M510.3 2011.2h0M513.2 2004.2h0M515.6 1940.8h0M516.9 1959.6h0M516.7 1952.0h0M517.2 1949.3h0M518.7 1960.5h0M521.0 1966.5h0M522.6 1969.6h0M524.0 1966.3h0M526.8 1963.2h0M525.7 1960.8h0M527.8 1959.6h0M527.6 1960.0h0M530.0 1961.8h0M531.7 1960.5h0M530.8 1935.0h0M532.8 1959.2h0M533.8 1957.9h0M535.6 1958.6h0M536.0 1956.5h0M536.4 1974.6h0M537.6 1975.0h0M538.4 1990.7h0M538.7 1990.7h0M539.2 1990.1h0M541.3 1995.3h0M543.1 2010.5h0M544.7 2014.6h0M545.3 2013.3h0M546.6 2025.7h0M548.4 2028.8h0M548.4 2026.3h0M548.1 2025.5h0M549.6 2020.8h0M552.6 2032.7h0M551.8 2033.3h0M552.2 2025.8h0M553.1 2040.8h0M554.2 2037.0h0M554.3 2007.3h0M555.8 2039.7h0M556.2 2021.5h0M559.3 2046.9h0M559.3 2040.7h0M558.3 2029.3h0M560.0 2050.9h0M560.8 2032.8h0M561.2 2047.9h0M561.9 2050.6h0M563.6 2052.3h0M563.2 2031.6h0M563.7 2021.0h0M565.6 2033.7h0M567.1 2041.2h0M567.4 2040.7h0M566.5 2029.0h0M570.7 2036.7h0M569.7 2030.1h0M572.3 2012.8h0M571.3 2019.4h0M573.9 2006.9h0M574.7 1996.7h0M576.7 2004.8h0M579.2 2003.3h0M579.0 1994.4h0M581.7 1994.5h0M808.6 2037.9h0M808.6 2033.2h0M809.1 2025.5h0M810.3 2039.3h0M813.0 2020.3h0M816.0 2038.8h0M815.3 2038.0h0M818.4 2040.0h0M820.9 2033.6h0M822.3 2019.8h0M824.6 2023.2h0M825.8 2011.7h0M826.5 2015.7h0M828.0 2015.0h0M827.7 2009.9h0M829.7 2014.3h0M830.4 2000.1h0M832.0 2021.2h0M831.7 1984.7h0M835.2 2042.9h0M837.7 2068.9h0M839.5 2062.4h0M841.1 2054.8h0M841.4 2074.1h0M844.4 2050.9h0M847.7 2025.9h0M848.4 2021.9h0M849.3 2030.4h0M849.2 2025.9h0M850.9 2033.9h0M853.5 2037.0h0M855.0 2037.3h0M856.7 2033.6h0M858.9 2062.2h0M860.3 2056.3h0M859.4 2062.3h0M861.4 2055.3h0M861.3 2049.1h0M864.2 2047.6h0M864.9 2029.2h0M865.7 2055.7h0M866.4 2048.0h0M866.8 2048.0h0M867.9 2045.4h0M869.5 2036.2h0M871.2 2028.4h0M873.4 2026.0h0M873.3 2022.7h0M875.9 2020.4h0M875.5 2019.6h0M877.5 2019.1h0M879.9 2022.0h0M879.5 2017.5h0M881.9 2002.7h0M882.7 2010.2h0M881.6 2003.8h0M883.4 2000.0h0M886.6 1994.4h0M886.7 1996.9h0M888.8 1998.8h0M888.6 1989.9h0M888.7 2008.0h0M889.8 1997.3h0M893.5 2055.9h0M896.0 2058.7h0M902.2 2073.0h0M902.6 2075.0h0M905.3 2040.4h0M907.6 2038.2h0M908.6 2023.0h0M909.3 2026.5h0M911.6 2019.3h0M913.7 2023.4h0M913.8 2023.3h0M913.5 2001.7h0M914.8 2022.5h0M916.5 2017.9h0M918.0 2018.3h0M919.0 2032.4h0M921.4 2035.3h0M924.6 1995.2h0M924.5 1994.3h0M924.5 1984.3h0M926.8 1964.4h0M930.4 1952.5h0M932.7 1949.0h0M935.2 1935.4h0M936.5 1920.0h0M935.5 1924.4h0M938.1 1882.7h0M938.3 1867.7h0M940.8 1841.6h0M946.0 1851.1h0M947.3 1880.4h0M946.9 1882.3h0M948.3 1924.3h0M949.8 1919.9h0M950.6 1949.7h0M953.6 1978.2h0M953.9 1971.0h0M958.4 2004.8h0M956.9 2002.4h0M958.8 2017.6h0M959.5 2015.7h0M962.1 2024.2h0M963.0 2033.7h0M962.5 2026.2h0M963.2 2032.5h0M966.3 2060.6h0M967.6 2030.7h0M968.0 2066.0h0M968.5 2063.4h0M970.7 2055.0h0M972.0 2047.4h0M972.0 2047.2h0M974.0 2067.7h0M972.6 2042.2h0M974.6 2061.1h0M974.6 2052.1h0M975.9 2056.7h0M978.6 2034.8h0M980.0 2029.3h0M981.3 2016.7h0M983.9 2001.3h0M983.9 1985.9h0M983.2 1989.9h0M987.0 1988.3h0M986.1 1980.3h0M988.3 1991.4h0M988.6 1978.8h0M989.9 1977.7h0M993.6 1996.9h0M993.4 2016.9h0M997.4 2047.1h0M997.5 2054.5h0M999.0 2019.8h0M997.5 2034.4h0M1001.4 2055.4h0M1002.5 2064.0h0M1002.9 2049.8h0M1006.6 2015.7h0M1004.7 1967.6h0M1005.8 2001.4h0M1007.4 1980.4h0M1009.7 1942.6h0M1011.0 1928.5h0M1012.1 1921.5h0M1012.4 1915.9h0M1014.4 1914.2h0M1014.1 1920.9h0M1151.9 2008.6h0M1151.5 2001.4h0M1154.4 2006.7h0M1155.2 2004.5h0M1155.4 1999.3h0M1158.5 2008.7h0M1160.4 2014.8h0M1161.2 2016.4h0M1163.0 1996.7h0M1165.6 2033.8h0M1164.5 2017.0h0M1165.4 2048.9h0M1166.8 2045.5h0M1168.0 2063.0h0M1168.3 2067.4h0M1169.7 2082.4h0M1170.6 2077.8h0M1172.3 2096.7h0M1174.5 2094.3h0M1174.9 2111.1h0M1176.8 2088.7h0M1180.6 2112.1h0M1180.9 2112.7h0M1182.2 2073.0h0M1182.4 2085.9h0M1183.9 2114.3h0M1183.4 2113.7h0M1187.4 2093.8h0M1188.5 2098.6h0M1188.9 2060.5h0M1192.4 2091.8h0M1193.5 2087.6h0M1196.2 2100.6h0M1197.9 2090.2h0M1197.7 2089.7h0M1200.0 2083.2h0M1201.2 2065.1h0M1202.4 2079.8h0M1205.2 2054.7h0M1203.7 2050.0h0M1206.2 2031.3h0M1207.9 1995.9h0M1208.7 2003.8h0M1210.9 1953.0h0M1210.2 1959.3h0M1212.0 1948.7h0M1212.5 1945.5h0M1212.8 1943.6h0M1212.9 1954.1h0M1214.0 1938.8h0M1217.0 1956.3h0M1218.4 1961.5h0M1217.5 1961.9h0M1219.8 1972.5h0M1219.5 1972.2h0M1221.0 2019.8h0M1220.5 2018.1h0M1223.6 2051.1h0M1225.3 2044.8h0M1227.8 2071.2h0M1230.1 2076.6h0M1231.2 2078.1h0M1232.6 2037.9h0M1234.1 2080.9h0M1235.0 2052.2h0M1236.1 2065.3h0M1237.7 2077.5h0M1237.3 2068.9h0M1239.1 2049.5h0M1239.6 2022.4h0M1242.2 2040.1h0M1243.5 2043.0h0M1246.6 2040.8h0M1249.5 2042.8h0M1250.3 2012.7h0M1252.3 2048.3h0M1255.0 2045.4h0M1254.7 2045.0h0M1255.3 2043.3h0M1255.7 2012.5h0M1257.9 2042.4h0M1260.6 2035.5h0M1260.7 2027.0h0M1263.0 1999.7h0M1265.3 1983.6h0M1264.3 1978.1h0M1268.8 1971.1h0M1268.0 1972.3h0M1268.7 1955.7h0M1271.4 1970.9h0M1270.8 1964.8h0M1269.6 1959.7h0M1343.0 2022.6h0M1344.2 2025.5h0M1344.9 2035.5h0M1344.4 2025.2h0M1344.1 2034.9h0M1346.1 2049.2h0M1347.5 2037.4h0M1347.6 2026.2h0M1347.9 2040.8h0M1347.7 2052.2h0M1349.9 2026.3h0M1354.8 2049.4h0M1356.8 2054.2h0M1358.9 2024.1h0M1359.5 2040.2h0M1358.3 2040.8h0M1360.5 2033.4h0M1361.5 2040.3h0M1365.2 2031.4h0M1366.4 1994.8h0M1367.5 2023.8h0M1370.0 2011.6h0M1370.5 2013.4h0M1370.3 2006.5h0M1373.2 2015.7h0M1371.9 1998.5h0M1375.1 2016.1h0M1375.3 2007.3h0M1377.2 2016.7h0M1375.5 2022.9h0M1377.2 2019.8h0M1378.6 2047.5h0M1377.9 2043.6h0M1381.8 2079.7h0M1382.8 2057.9h0M1386.1 2056.7h0M1385.9 2040.6h0M1385.2 2046.6h0M1388.4 2064.5h0M1388.3 2054.8h0M1388.6 2075.0h0M1389.7 2064.9h0M1391.7 2091.1h0M1391.4 2078.5h0M1393.0 2085.9h0M1395.0 2089.4h0M1397.8 2090.7h0M1398.0 2089.0h0M1399.9 2088.2h0M1401.1 2055.2h0M1403.2 2028.4h0M1403.1 2025.0h0M1406.6 2021.8h0M1408.0 2022.0h0M1408.5 2022.4h0M1409.9 2018.9h0M1412.1 2011.3h0M1411.4 2008.2h0M1413.5 1990.8h0M1414.8 1987.4h0M1416.2 1984.6h0M1474.7 2007.6h0M1476.3 1961.5h0M1477.7 1975.4h0M1479.7 1930.0h0M1481.1 1882.7h0M1481.4 1876.2h0M1483.7 1883.2h0M1484.9 1892.6h0M1485.2 1893.9h0M1487.2 1891.6h0M1486.7 1893.1h0M1490.1 1896.6h0M1489.9 1913.7h0M1490.3 1968.8h0M1493.6 1986.6h0M1493.3 1982.8h0M1492.5 1980.2h0M1494.3 1994.0h0M1494.4 1981.0h0M1500.1 1991.4h0M1498.5 1988.5h0M1500.8 1971.1h0M1500.7 1976.7h0M1503.3 1963.7h0M1504.5 1956.2h0M1504.2 1951.5h0M1505.0 1933.4h0M1505.8 1927.0h0M1507.7 1936.2h0M1508.0 1936.5h0M1510.9 1936.0h0M1510.0 1924.7h0M1512.0 1945.3h0M1512.3 1950.8h0M1513.0 1948.1h0M1514.9 1981.7h0M1517.8 1992.2h0M1517.2 1987.3h0M1519.0 1981.4h0M1521.5 1953.7h0M1520.9 1926.3h0M1524.6 1943.8h0M1523.9 1946.7h0M1524.5 1920.9h0M1526.9 1953.4h0M1525.9 1945.4h0M1527.7 1958.6h0M1527.8 1956.7h0M1529.5 1960.2h0M1529.2 1938.1h0M1532.3 1958.2h0M1531.0 1956.5h0M1534.4 1951.7h0M1535.4 1959.3h0M1588.1 2092.7h0M1589.5 2082.9h0M1592.3 1974.9h0M1592.2 1976.4h0M1591.2 1968.8h0M1594.6 1961.2h0M1598.5 1967.0h0M1597.4 1974.0h0M1599.9 1985.8h0M1601.7 1997.2h0M1602.0 1996.1h0M1604.3 1983.7h0M1607.1 1984.8h0M1607.8 1989.6h0M1608.9 1992.4h0M1607.7 1979.6h0M1610.6 1945.3h0M1611.7 1944.3h0M1613.0 1943.7h0M1612.5 1934.8h0M1617.5 1983.6h0M1616.1 1963.8h0M1618.4 1951.0h0M1619.8 1986.9h0M1622.2 1960.7h0M1624.6 1991.2h0M1624.2 1992.9h0M1624.5 1972.7h0M1626.5 1992.5h0M1627.5 1971.5h0M1673.4 2018.5h0M1673.8 2012.9h0M1675.6 1990.0h0M1675.8 1995.3h0M1677.0 1974.9h0M1679.2 1971.2h0M1679.7 1969.2h0M1679.9 1957.0h0M1682.6 1967.7h0M1681.9 1960.2h0M1685.1 1959.5h0M1685.2 1958.7h0M1685.5 1956.4h0M1686.7 1963.5h0M1687.5 1955.1h0M1688.2 1936.3h0M1688.3 1960.0h0M1690.2 1950.5h0M1691.6 1950.5h0M1693.2 1933.2h0M1694.5 1937.9h0M1694.2 1935.9h0M1697.6 1936.9h0M1698.9 1945.5h0M1700.2 1940.4h0M1701.2 1957.5h0M1702.0 1956.7h0M1701.5 1926.5h0M1704.1 1987.3h0M1703.2 1984.2h0M1706.1 1986.0h0M1708.3 2008.1h0M1752.3 1998.5h0M1754.4 1993.1h0M1757.1 1969.9h0M1756.5 1965.7h0M1759.6 1963.7h0M1759.7 1967.5h0M1760.1 1964.4h0M1762.5 1978.7h0M1763.7 1973.2h0M1766.0 1986.5h0M1765.2 1981.6h0M1767.3 1997.8h0M1768.0 1994.7h0M1768.8 2010.3h0M1771.8 1996.2h0M1771.4 2004.2h0M1770.7 2013.6h0M1774.1 2020.0h0M1775.9 2030.0h0M1776.1 2031.9h0M1778.3 2030.3h0M1778.8 2035.3h0M1781.3 2033.2h0M1785.0 2034.1h0M1785.5 2032.3h0M1787.5 2036.8h0M1787.7 2026.0h0M1787.8 1989.9h0M1825.1 2037.3h0M1824.5 2036.8h0M1826.9 2036.7h0M1825.9 2032.0h0M1827.5 2024.2h0M1829.6 2015.6h0M1830.9 2008.2h0M1831.5 2011.6h0M1831.2 1999.8h0M1832.8 1998.3h0M1833.1 2008.0h0M1835.5 2018.0h0M1835.8 2013.7h0M1837.2 2023.3h0M1838.4 2025.2h0M1839.9 2027.0h0M1841.8 2036.0h0M1843.8 2040.0h0M1844.5 2037.0h0M1847.3 2044.6h0M1847.9 2057.1h0M1850.9 2071.8h0M1850.8 2062.0h0M1852.0 2085.1h0M1851.5 2087.9h0M1882.2 1911.9h0M1883.6 1916.7h0M1882.9 1912.4h0M1884.6 1921.7h0M1885.0 1903.7h0M1887.5 1915.1h0M1887.9 1916.4h0M1891.2 1972.9h0M1891.6 1951.1h0M1893.2 2005.1h0M1893.2 1998.3h0M1896.0 2008.0h0M1896.2 2019.7h0M1898.3 2007.9h0M1898.6 1990.0h0M1899.0 1984.5h0M1900.8 1976.3h0M1901.2 1960.8h0M1903.9 1981.0h0M1929.8 2002.0h0M1930.1 2011.0h0M1933.3 2011.6h0M1932.8 2020.5h0M1934.7 2012.1h0M1937.9 1990.4h0M1936.5 1991.4h0M1937.8 1972.4h0M1938.7 1976.6h0M1941.4 1967.3h0M1943.9 1950.3h0M1946.4 1943.5h0M1968.5 1917.9h0M1971.1 1902.4h0M1971.6 1916.0h0M1972.9 1918.7h0M1972.8 1905.5h0M1978.3 1932.4h0M1977.9 1929.8h0M1978.3 1928.4h0M1991.6 1980.7h0M1994.4 1990.2h0M1994.6 1984.0h0M1996.6 1978.8h0M1998.1 1997.2h0M1997.4 1991.8h0M1999.8 1998.8h0M2001.3 1989.5h0M2001.3 1989.8h0M2002.7 1980.7h0M2004.4 1985.6h0M2003.7 1995.8h0M2018.0 1958.4h0M2019.6 1971.4h0M2021.9 1953.9h0M2023.5 1965.0h0M2024.6 1970.2h0M2024.5 1962.0h0M2037.3 1941.7h0M2036.6 1936.9h0M2038.2 1956.8h0M2041.5 1955.5h0M2046.4 1968.7h0M2047.6 1977.1h0M2046.7 1978.4h0M2048.9 1957.1h0M2049.5 1978.9h0M2050.5 1965.6h0M2058.7 1960.2h0M2060.5 1944.2h0M2060.9 1950.5h0M2061.3 1945.4h0M2207.3 2070.2h0M2208.8 2036.0h0M2211.1 2054.0h0M2210.8 2051.2h0M2211.7 2046.3h0M2211.0 2038.1h0M2213.3 2044.9h0M2213.0 2041.5h0M2216.0 2054.4h0M2216.7 2053.9h0M2218.4 2062.6h0M2217.5 2056.5h0M2221.0 2052.6h0M2220.8 2043.8h0M2221.4 2023.8h0M2225.2 1910.3h0M2225.9 1912.7h0M2227.2 1913.8h0M2231.8 1973.7h0M2232.0 1967.8h0M2234.0 2047.8h0M2232.9 2039.0h0M2234.1 2053.4h0M2235.4 2079.8h0M2236.5 2083.0h0M2237.5 2061.0h0M2239.6 2074.2h0M2240.0 2070.9h0M2241.8 2072.2h0M2241.2 2071.9h0M2243.7 2062.2h0M2243.2 2063.8h0M2244.9 2054.0h0M2245.1 2046.6h0M2248.4 2044.4h0M2248.0 2036.5h0M2249.8 2023.8h0M2251.5 2019.8h0M2254.3 2021.2h0M2254.2 2009.7h0M2255.8 2005.6h0M2258.1 1967.7h0M2258.2 1942.1h0M2258.7 1943.9h0M2261.3 1946.8h0M2262.7 1947.4h0M2265.4 1949.0h0M2264.2 1948.3h0M2267.1 1954.8h0M2268.1 1956.5h0M2269.3 1953.9h0M2271.2 1960.5h0M2272.6 1978.1h0M2272.9 1978.5h0M2275.6 1975.4h0M2278.0 2010.4h0M2278.1 2007.7h0M2280.0 2010.4h0M2279.7 2005.4h0M2281.5 2004.3h0M2280.0 1998.4h0M2281.6 1981.7h0M2282.5 2013.7h0M2283.9 2009.2h0M2285.2 2011.8h0M2287.6 2003.8h0M2287.7 2004.3h0M2289.4 2013.3h0M2288.5 2009.1h0M2289.5 2000.9h0M2290.8 2008.7h0M2290.4 1977.7h0M2291.9 1979.9h0M2293.0 2011.4h0M2292.5 2006.8h0M2296.2 2007.4h0M2297.7 1997.8h0M2299.0 2001.4h0M2301.8 2004.9h0M2300.7 2002.2h0M2303.1 1997.1h0M2305.2 1995.6h0M2304.1 1976.7h0M2305.9 2004.8h0M2306.8 2003.3h0M2309.6 1997.4h0M2309.3 1969.4h0M2310.1 1995.5h0M2310.5 1997.4h0M2311.7 1985.3h0M2312.9 1995.2h0M2313.5 1992.2h0M2313.4 1962.4h0M2314.1 1992.5h0M2315.8 1996.3h0M2316.4 2004.4h0M2316.4 1960.0h0M2319.1 2008.4h0M2319.9 1993.2h0M2319.5 1967.0h0M2320.4 2008.4h0M2322.2 2008.5h0M2324.6 2012.7h0M2324.4 1969.5h0M2326.1 1997.7h0M2327.4 1973.8h0M2327.8 2006.9h0M2327.7 2011.1h0M226.6 1822.6h0M226.6 1836.7h0M226.6 1851.4h0M226.6 1897.2h0M226.6 1902.5h0M361.9 1874.0h0M281.2 1891.9h0M288.4 1914.5h0M281.2 1931.8h0M330.5 1949.9h0M358.5 1946.5h0M373.7 1937.1h0M375.8 1947.8h0M371.8 1953.1h0M375.8 1961.1h0M251.9 1980.6h0M281.2 1974.4h0M281.2 1981.1h0M292.7 1990.4h0M292.7 1995.7h0M315.9 1985.1h0M311.9 1991.7h0M330.5 1978.4h0M330.5 1994.4h0M341.2 1993.1h0M237.3 2007.7h0M287.9 2007.7h0M330.5 2009.1h0M482.9 1810.6h0M473.5 1850.6h0M487.1 1874.6h0M482.9 1898.5h0M567.6 1816.5h0M517.5 1904.6h0M532.4 1920.6h0M567.6 1939.3h0M517.5 1941.1h0M532.4 1951.0h0M517.5 1954.5h0M419.2 1959.2h0M419.2 1980.6h0M449.0 1984.6h0M441.0 2002.4h0M452.5 2001.1h0M452.5 2015.2h0M422.4 2010.4h0M421.1 2017.0h0M562.2 1983.2h0M554.2 1995.7h0M558.2 1998.4h0M509.0 2001.6h0M567.6 2007.7h0M567.6 2027.7h0M410.4 2039.7h0M410.4 2061.0h0M426.4 2030.4h0M431.7 2031.7h0M263.9 2031.7h0M274.6 2022.4h0M306.5 2049.0h0M314.5 2037.0h0M338.5 2046.3h0M341.2 2071.6h0M463.7 2034.4h0M539.6 2001.1h0M942.8 1830.6h0M828.6 1892.4h0M827.8 1931.8h0M827.8 1937.1h0M979.6 1923.8h0M911.1 1933.7h0M933.0 1905.2h0M930.3 1935.8h0M922.9 1949.7h0M954.8 1939.0h0M958.3 1948.3h0M954.3 1958.5h0M987.6 1957.1h0M982.3 1961.1h0M980.9 1975.8h0M987.6 1977.1h0M956.9 1978.4h0M871.7 1963.8h0M871.7 1970.4h0M866.4 1979.8h0M887.7 1979.8h0M847.7 1984.6h0M851.7 1997.1h0M851.7 2001.1h0M877.0 1990.4h0M826.4 1997.1h0M827.8 2009.1h0M841.1 2011.7h0M850.4 2015.7h0M867.7 2017.0h0M877.0 2011.7h0M915.7 1993.1h0M909.0 2003.7h0M901.0 2025.0h0M972.4 2031.7h0M823.8 2023.7h0M834.4 2035.7h0M1214.0 1888.4h0M1215.8 1931.8h0M1182.5 1965.1h0M1231.3 1964.3h0M1248.3 1979.8h0M1248.3 2003.2h0M1160.4 1985.6h0M1159.9 2000.5h0M1185.2 2043.7h0M1201.2 2039.7h0M1185.2 2069.0h0M1203.8 2058.3h0M1251.8 2021.0h0M1250.5 2034.4h0M1357.0 1929.2h0M1356.5 1963.8h0M1388.4 1975.8h0M1371.1 1995.2h0M1377.0 2005.9h0M1357.8 2009.6h0M1387.6 2009.1h0M1404.9 2001.1h0M1399.6 2021.0h0M1389.0 2030.4h0M1389.0 2038.4h0M1349.8 2039.7h0M1484.8 1801.3h0M1484.8 1816.0h0M1484.8 1828.7h0M1484.8 1839.9h0M1484.8 1850.6h0M1484.8 1865.2h0M1484.8 1878.5h0M1508.3 1875.9h0M1508.3 1893.7h0M1508.3 1907.3h0M1508.3 1913.2h0M1508.3 1925.2h0M1508.3 1933.1h0M1495.5 1943.8h0M1494.2 1983.8h0M1529.3 1921.2h0M1528.0 1935.8h0M1528.0 1943.8h0M1528.0 1951.8h0M1613.2 1826.6h0M1613.2 1845.3h0M1595.9 1854.6h0M1613.2 1873.2h0M1595.4 1887.3h0M1613.2 1882.5h0M1613.2 1889.2h0M1595.4 1903.3h0M1613.2 1905.2h0M1613.2 1911.8h0M1613.2 1918.5h0M1613.2 1925.2h0M1613.2 1931.8h0M1597.2 1927.8h0M1593.2 1937.7h0M1601.2 1933.1h0M1595.4 1973.1h0M1679.8 1887.9h0M1696.3 1907.3h0M1696.3 1922.0h0M1685.7 1930.5h0M1685.7 1937.1h0M1678.5 1957.1h0M1686.5 1951.8h0M1761.0 1868.4h0M1761.0 1923.8h0M1761.0 1934.5h0M1767.7 1938.5h0M1761.0 1942.5h0M1758.4 1950.5h0M1761.0 1954.5h0M1775.7 1982.4h0M1778.4 1999.7h0M1783.7 2015.7h0M1778.4 2030.4h0M1779.7 2043.7h0M1883.6 1894.0h0M1829.0 1986.4h0M1842.3 1997.1h0M1840.9 2006.4h0M1833.0 2014.4h0M1850.3 2026.4h0M1843.6 2033.0h0M1850.3 2038.4h0M1846.3 2045.0h0M1940.8 1941.1h0M1942.2 1963.8h0M2227.7 1841.8h0M2229.0 1874.6h0M2229.0 1887.9h0M2229.0 1893.2h0M2227.7 1909.2h0M2227.7 1917.2h0M2249.0 1879.3h0M2267.1 1893.2h0M2254.3 1899.9h0M2308.9 1829.8h0M2314.2 1840.7h0M2311.5 1848.7h0M2308.9 1873.2h0M2315.5 1877.2h0M2308.9 1898.0h0M2324.1 1896.7h0M2308.9 1912.4h0M2323.0 1916.4h0M2308.9 1926.0h0M2308.9 1938.5h0M2311.5 1947.8h0M2323.5 1945.1h0M2323.5 1950.5h0M2282.3 1940.6h0M2295.6 1949.1h0M2245.0 1947.0h0M2215.1 1950.5h0M2275.1 1952.6h0M2211.7 1995.7h0M2217.0 2001.1h0M2219.1 2014.9h0M2241.8 2011.7h0M2241.8 2021.0h0M2241.0 2046.3h0M2246.3 2054.3h0M2239.6 2074.3h0M2210.3 2053.0h0M2217.0 2062.3h0M2267.6 1913.2h0M2267.6 1923.8h0M2267.6 1934.5h0M1484.7 1770.8h0M1594.9 1707.8h0M2296.5 1751.4h0M585.4 1987.7V2035.7M1015.5 1934.5V2019.7M1972.0 1846.6V1923.8M2006.6 1847.9V2006.4" fill="none" stroke="#1f2f60" stroke-width="5.8" stroke-linecap="round"/>
<path d="M582.1 2008.1h0M584.1 1998.5h0M584.2 1985.1h0M586.5 2000.9h0M586.5 1980.7h0M589.0 2017.9h0M588.5 2014.0h0M590.7 2013.5h0M593.6 1996.9h0M593.2 1974.9h0M593.1 1954.2h0M596.9 1987.2h0M596.4 1984.2h0M598.6 1982.3h0M597.5 1980.3h0M598.0 1974.3h0M600.3 1975.6h0M599.7 1968.8h0M600.5 1971.5h0M601.5 1975.2h0M600.8 1978.4h0M604.2 1983.6h0M603.0 1962.6h0M605.5 1993.5h0M607.0 2015.8h0M612.7 2049.4h0M611.1 2037.0h0M614.7 2055.5h0M614.3 2048.0h0M616.1 2069.3h0M615.3 2052.2h0M617.7 2071.7h0M621.6 2084.0h0M620.8 2077.7h0M623.4 2082.1h0M624.7 2063.7h0M624.5 2089.9h0M627.0 2087.8h0M628.1 2072.3h0M627.8 2045.5h0M629.9 2078.1h0M633.7 2076.1h0M632.3 2065.5h0M635.0 2068.0h0M634.7 2053.2h0M635.2 2051.0h0M636.2 2065.1h0M637.1 2062.2h0M639.3 2067.3h0M639.0 2063.9h0M639.4 2028.4h0M640.8 2064.2h0M641.3 2062.6h0M644.2 2042.5h0M644.0 2072.8h0M646.7 2059.4h0M648.1 2075.9h0M650.7 2071.2h0M651.0 2055.2h0M654.5 2042.2h0M654.5 2042.0h0M654.4 2031.6h0M656.5 2061.0h0M656.4 2043.5h0M659.7 1982.0h0M663.1 1934.7h0M662.5 1924.2h0M664.8 1904.6h0M665.2 1896.6h0M666.7 1900.2h0M667.8 1908.7h0M669.5 1910.2h0M672.5 1908.9h0M673.3 1905.2h0M674.4 1902.4h0M673.7 1882.6h0M677.1 1938.8h0M676.9 1938.2h0M679.4 1970.2h0M677.9 1965.4h0M680.1 1990.7h0M683.0 2016.0h0M683.5 2020.3h0M684.1 2043.5h0M684.9 2032.5h0M685.2 2038.5h0M687.0 2055.3h0M687.5 2074.5h0M691.0 2065.4h0M689.7 2075.3h0M690.6 2073.3h0M693.0 2078.4h0M693.2 2059.2h0M692.9 2082.9h0M693.9 2086.3h0M695.1 2086.0h0M696.8 2079.2h0M698.6 2063.5h0M699.8 2094.4h0M704.6 2091.8h0M704.2 2080.7h0M706.1 2083.4h0M708.6 2056.4h0M708.4 2056.4h0M710.8 2043.9h0M711.5 2030.7h0M714.9 1998.3h0M713.5 1991.5h0M716.2 1963.8h0M715.2 1973.9h0M717.5 1979.4h0M719.9 1982.1h0M718.9 1977.2h0M721.6 1990.7h0M722.0 1977.5h0M722.3 1988.3h0M722.7 2043.8h0M723.0 2039.6h0M725.4 2061.8h0M728.8 2055.1h0M728.8 2062.8h0M729.7 2075.2h0M729.0 2048.4h0M732.4 2077.8h0M731.1 2077.2h0M733.4 2072.5h0M736.2 2069.5h0M736.2 2039.1h0M736.7 2056.5h0M736.7 2017.0h0M739.2 2049.5h0M740.2 2034.0h0M741.5 2046.1h0M743.8 2029.1h0M745.0 1967.6h0M745.2 1957.8h0M746.9 1892.7h0M748.4 1916.7h0M747.8 1916.8h0M750.0 1915.9h0M751.0 1915.0h0M751.4 1918.3h0M751.4 1924.7h0M753.6 1928.5h0M754.6 1920.5h0M755.0 1931.8h0M757.5 1976.3h0M757.5 1974.6h0M760.3 1987.5h0M761.1 1986.2h0M761.3 1940.5h0M764.0 1989.9h0M764.2 1982.8h0M765.1 1985.1h0M765.0 1987.0h0M768.0 1983.1h0M767.6 1966.4h0M770.0 1991.7h0M769.3 1985.7h0M772.5 1991.0h0M771.4 1991.0h0M772.7 1981.3h0M773.7 1993.0h0M773.4 1987.3h0M775.8 1988.8h0M777.7 1993.5h0M778.1 1985.3h0M778.4 1988.3h0M780.3 2000.1h0M780.4 1999.5h0M782.4 2003.7h0M783.6 1995.3h0M785.2 2009.9h0M786.4 2021.6h0M789.5 2037.5h0M789.1 2005.7h0M789.1 2030.3h0M790.7 2028.2h0M791.0 2027.2h0M793.3 2050.3h0M793.3 2050.7h0M793.7 2038.1h0M796.2 2053.3h0M799.7 2030.4h0M799.7 2039.1h0M800.0 2008.2h0M802.8 2020.8h0M801.6 2026.5h0M805.6 2022.9h0M1015.4 1957.6h0M1017.3 1983.2h0M1017.5 1976.9h0M1017.6 1972.2h0M1022.5 2043.3h0M1021.6 2025.5h0M1025.6 2048.9h0M1027.0 2050.9h0M1028.0 2045.9h0M1028.3 2049.0h0M1030.9 2054.7h0M1032.4 2045.9h0M1033.8 2059.1h0M1034.9 2059.9h0M1035.0 2063.1h0M1035.2 2063.4h0M1035.8 2056.3h0M1036.9 2060.6h0M1035.9 2063.2h0M1037.3 2067.1h0M1039.0 2072.8h0M1038.4 2066.2h0M1040.1 2034.5h0M1039.9 2072.6h0M1042.0 2054.1h0M1042.7 2034.1h0M1045.0 2076.3h0M1044.5 2073.9h0M1045.4 2069.8h0M1046.2 2076.3h0M1047.1 2038.4h0M1047.0 2071.6h0M1048.9 2076.6h0M1050.6 2069.6h0M1049.8 2067.7h0M1053.4 2063.5h0M1054.2 2054.2h0M1054.5 2063.7h0M1055.7 2061.5h0M1056.3 2062.9h0M1056.7 2039.1h0M1057.0 2048.0h0M1057.1 2047.4h0M1059.8 2036.1h0M1062.4 2039.4h0M1060.9 2039.3h0M1063.2 2034.2h0M1067.9 2033.2h0M1068.4 2040.1h0M1071.0 2036.9h0M1075.0 2038.7h0M1076.1 2039.8h0M1078.0 2041.7h0M1078.3 2064.7h0M1078.5 2068.1h0M1078.9 2069.1h0M1080.3 2094.0h0M1080.4 2092.6h0M1082.4 2099.5h0M1082.5 2065.9h0M1086.2 2101.6h0M1087.5 2100.7h0M1087.8 2098.1h0M1090.3 2094.5h0M1091.7 2110.4h0M1093.7 2118.7h0M1097.7 2111.8h0M1096.7 2111.0h0M1097.8 2068.9h0M1098.7 2101.0h0M1098.1 2088.8h0M1100.8 2121.2h0M1100.5 2113.8h0M1103.2 2108.7h0M1103.8 2083.4h0M1104.2 2107.4h0M1106.5 2115.7h0M1107.9 2114.2h0M1108.9 2096.5h0M1111.3 2109.0h0M1113.9 2109.9h0M1113.2 2092.7h0M1115.5 2094.3h0M1115.0 2069.0h0M1116.6 2099.7h0M1120.0 2086.5h0M1121.6 2070.8h0M1122.3 2058.2h0M1124.8 2051.1h0M1125.1 2062.5h0M1126.7 2059.5h0M1126.9 2057.6h0M1128.6 2050.1h0M1130.0 2047.4h0M1130.5 2044.6h0M1132.6 2049.8h0M1133.6 2042.2h0M1136.7 2045.6h0M1136.5 2032.4h0M1137.2 2040.0h0M1137.5 2039.8h0M1139.0 2033.3h0M1142.8 2032.9h0M1143.0 2017.5h0M1145.1 2009.6h0M1143.5 2021.3h0M1146.9 2019.5h0M1147.3 2023.5h0M1149.6 2024.9h0M1150.3 2018.0h0M1272.3 1966.8h0M1272.3 1958.7h0M1273.5 1962.4h0M1273.3 1960.9h0M1275.8 1968.4h0M1277.9 1979.7h0M1277.3 1979.0h0M1279.2 1962.4h0M1278.6 1984.4h0M1278.9 1976.2h0M1283.9 2053.7h0M1286.3 2061.1h0M1284.5 2072.1h0M1284.9 2066.7h0M1286.3 2050.7h0M1286.9 2043.2h0M1288.1 2015.1h0M1289.3 2032.8h0M1291.4 1975.5h0M1291.1 1967.6h0M1293.1 1988.4h0M1293.1 1985.1h0M1293.2 1974.0h0M1295.8 1990.4h0M1297.0 1983.7h0M1298.3 2001.2h0M1300.4 2040.7h0M1301.4 2040.0h0M1301.5 2038.1h0M1302.8 2051.1h0M1304.6 2040.5h0M1304.7 2041.1h0M1306.6 2022.7h0M1305.9 2033.5h0M1309.4 2033.3h0M1309.5 2040.4h0M1307.8 2030.1h0M1310.5 2042.1h0M1312.2 2049.2h0M1313.9 2046.4h0M1313.8 2054.6h0M1321.6 2063.9h0M1320.6 2053.0h0M1323.7 2069.2h0M1322.6 2020.2h0M1325.1 2060.0h0M1323.8 2047.8h0M1326.9 2000.1h0M1328.9 1966.9h0M1332.0 1967.9h0M1333.5 1968.4h0M1332.9 1970.9h0M1334.0 1981.6h0M1335.6 1975.3h0M1336.3 1995.5h0M1337.1 1990.1h0M1339.2 2000.9h0M1339.2 2009.2h0M1338.4 1989.7h0M1341.7 2017.0h0M1342.1 2016.2h0M1340.3 2006.9h0M1417.8 1979.5h0M1417.4 1952.4h0M1416.4 1942.3h0M1419.6 1960.5h0M1418.1 1956.3h0M1421.4 1926.5h0M1420.6 1926.7h0M1422.4 1923.2h0M1423.7 1934.2h0M1426.3 1941.4h0M1425.8 1937.4h0M1427.2 1949.4h0M1429.2 2001.6h0M1431.7 2023.6h0M1430.8 2019.9h0M1433.5 2029.6h0M1435.8 2036.5h0M1438.2 2040.7h0M1437.8 2037.0h0M1440.0 2044.5h0M1439.1 2037.1h0M1441.8 2057.4h0M1443.3 2068.3h0M1443.5 2049.0h0M1444.4 2063.4h0M1445.4 2063.8h0M1447.2 2095.9h0M1446.4 2066.0h0M1448.8 2113.6h0M1449.1 2104.3h0M1450.7 2129.0h0M1450.5 2084.6h0M1452.6 2114.3h0M1452.7 2113.3h0M1452.7 2101.9h0M1455.1 2070.6h0M1456.1 2046.6h0M1458.0 2050.6h0M1458.1 2054.8h0M1459.1 2036.5h0M1462.4 2021.0h0M1460.8 2023.5h0M1464.1 2024.0h0M1463.6 2008.6h0M1464.3 2018.0h0M1464.4 2016.3h0M1469.4 2009.2h0M1471.4 2010.4h0M1471.6 2013.3h0M1537.4 1978.2h0M1537.7 1973.2h0M1538.9 1965.8h0M1540.8 1984.8h0M1541.3 1998.9h0M1541.3 1995.9h0M1541.9 1988.4h0M1544.2 2002.0h0M1547.4 2011.5h0M1549.2 2017.0h0M1551.0 2020.7h0M1549.6 1983.5h0M1551.5 2019.0h0M1554.9 2015.6h0M1558.0 2018.9h0M1556.4 2017.6h0M1558.3 2009.9h0M1561.1 2009.3h0M1561.1 2008.6h0M1563.2 2019.6h0M1563.5 2016.2h0M1563.7 2011.8h0M1564.9 1993.1h0M1566.9 2014.2h0M1570.2 2036.8h0M1569.3 2036.7h0M1569.6 2033.4h0M1570.6 2044.6h0M1570.3 2043.7h0M1574.7 2074.3h0M1573.9 2067.9h0M1578.9 2087.9h0M1578.0 2087.7h0M1581.2 2088.7h0M1581.8 2107.0h0M1582.5 2106.4h0M1585.1 2109.9h0M1584.6 2112.6h0M1587.0 2112.4h0M1587.3 2117.0h0M1628.7 1981.4h0M1628.1 1985.3h0M1630.3 1965.1h0M1630.8 1959.1h0M1633.8 1945.1h0M1635.7 1951.6h0M1634.6 1936.1h0M1636.0 1935.5h0M1638.3 1944.2h0M1640.5 1953.9h0M1642.5 1984.9h0M1641.1 1985.9h0M1641.9 1982.7h0M1643.4 2037.4h0M1646.6 2037.4h0M1646.4 2036.6h0M1645.3 2022.7h0M1648.6 2045.5h0M1648.3 2025.9h0M1648.3 2038.3h0M1650.9 2049.8h0M1652.5 2040.5h0M1652.6 2053.3h0M1651.5 2021.9h0M1654.8 2055.1h0M1655.4 2036.7h0M1657.0 2026.7h0M1658.0 2048.5h0M1657.3 2050.8h0M1660.7 2051.9h0M1662.7 2057.2h0M1662.9 2036.8h0M1663.1 2050.0h0M1665.3 2053.6h0M1663.9 2049.0h0M1665.8 2046.5h0M1667.6 2014.0h0M1666.2 2053.9h0M1669.0 2055.7h0M1671.2 2042.0h0M1710.0 2017.0h0M1710.5 2012.3h0M1710.6 2013.9h0M1713.7 2028.2h0M1712.3 2020.5h0M1715.6 2037.6h0M1714.3 2029.1h0M1715.6 2031.4h0M1717.3 2044.1h0M1717.0 2044.9h0M1717.8 2048.5h0M1721.0 2071.4h0M1721.4 2053.1h0M1723.7 2074.3h0M1722.3 2080.7h0M1723.6 2075.0h0M1724.2 2080.3h0M1725.8 2083.2h0M1727.4 2081.2h0M1727.5 2080.4h0M1726.3 2064.6h0M1729.4 2085.6h0M1729.2 2086.9h0M1730.2 2084.3h0M1732.9 2091.0h0M1732.8 2041.1h0M1734.4 2058.8h0M1734.7 2082.2h0M1734.1 2055.0h0M1736.9 2084.1h0M1736.5 2079.1h0M1740.1 2072.4h0M1741.9 2073.5h0M1740.9 2031.1h0M1743.8 2052.4h0M1744.3 2024.5h0M1746.2 2025.5h0M1745.5 2025.0h0M1747.2 2009.5h0M1747.8 2008.6h0M1789.9 2029.7h0M1791.1 2027.1h0M1791.8 2021.4h0M1794.5 1987.0h0M1793.4 1990.5h0M1796.4 1955.1h0M1795.5 1947.1h0M1798.5 1957.8h0M1797.8 1949.7h0M1797.3 1951.4h0M1799.8 1957.1h0M1800.2 1958.5h0M1801.0 1950.4h0M1801.4 1958.4h0M1805.0 1958.1h0M1804.2 1953.3h0M1806.3 1959.9h0M1806.2 1950.2h0M1807.6 1954.9h0M1809.0 2023.2h0M1808.9 2022.0h0M1809.9 2070.1h0M1812.1 2047.3h0M1814.9 2077.4h0M1813.9 2062.4h0M1820.7 2023.6h0M1822.4 2031.5h0M1823.0 2027.3h0M1853.6 2071.8h0M1854.7 2072.7h0M1856.8 2076.4h0M1858.2 2074.8h0M1857.6 2049.3h0M1860.7 2063.6h0M1859.5 2058.2h0M1862.5 2050.2h0M1862.8 2055.9h0M1864.3 2036.6h0M1863.8 2022.1h0M1865.5 2039.8h0M1867.6 2030.5h0M1869.9 2023.0h0M1870.4 2013.7h0M1871.9 2016.4h0M1871.9 1985.6h0M1873.1 2014.9h0M1874.1 2012.7h0M1879.7 1986.8h0M1905.1 1983.3h0M1904.4 1981.1h0M1905.4 1970.5h0M1908.1 1979.6h0M1907.9 1983.4h0M1910.3 1979.0h0M1911.1 1976.4h0M1914.4 1987.2h0M1914.8 1988.2h0M1919.3 2002.5h0M1919.2 2000.3h0M1919.4 2006.1h0M1922.8 1995.1h0M1922.6 2016.7h0M1923.4 2010.5h0M1924.4 1983.2h0M1924.5 1991.6h0M1926.5 1974.0h0M1948.8 1912.1h0M1950.0 1917.3h0M1949.7 1885.6h0M1952.4 1882.6h0M1952.6 1882.1h0M1954.9 1879.7h0M1954.9 1878.4h0M1956.9 1873.0h0M1956.1 1873.7h0M1958.1 1870.2h0M1957.7 1877.0h0M1960.6 1843.8h0M1961.5 1831.9h0M1960.8 1826.7h0M1963.7 1841.5h0M1964.8 1816.1h0M1978.7 1993.1h0M1979.9 1988.3h0M1980.7 1998.7h0M1983.2 1982.8h0M1983.1 1963.1h0M1985.8 1990.5h0M1985.6 1995.4h0M1986.9 1990.4h0M1987.1 1997.0h0M1990.9 1994.7h0M2005.2 1951.6h0M2006.5 1956.6h0M2007.6 1947.2h0M2007.8 1942.3h0M2007.8 1933.3h0M2009.1 1942.2h0M2010.8 1926.8h0M2011.3 1941.4h0M2013.3 1944.2h0M2016.3 1941.3h0M2027.0 1947.1h0M2026.8 1942.2h0M2029.9 1935.7h0M2032.5 1945.9h0M2042.5 1982.4h0M2043.7 1982.8h0M2045.1 1963.7h0M2051.8 1982.7h0M2054.8 1984.3h0M2063.3 1950.0h0M2061.9 1949.8h0M2065.2 1960.8h0M2065.3 1960.2h0M2063.6 1955.7h0M2066.1 1957.4h0M2067.2 1955.1h0M2068.6 1945.9h0M2068.0 1951.2h0M2071.3 1950.7h0M2069.6 1953.8h0M2070.3 1955.2h0M2073.1 1956.2h0M2071.8 1935.8h0M2075.4 1958.4h0M2073.6 1941.1h0M2076.6 1958.7h0M2076.3 1959.0h0M2077.6 2010.0h0M2077.4 2008.7h0M2079.9 2067.4h0M2080.5 2066.5h0M2079.7 2046.2h0M2082.7 2074.6h0M2082.3 2088.8h0M2085.3 2095.8h0M2085.6 2097.1h0M2086.8 2106.4h0M2087.1 2096.5h0M2088.7 2108.0h0M2089.7 2111.0h0M2090.8 2119.4h0M2090.5 2098.2h0M2090.4 2108.4h0M2093.3 2121.3h0M2093.7 2118.9h0M2095.1 2109.7h0M2094.4 2049.9h0M2096.5 2124.5h0M2098.1 2115.7h0M2099.5 2117.8h0M2099.4 2118.3h0M2102.3 2119.1h0M2102.0 2126.2h0M2103.5 2115.2h0M2104.0 2125.7h0M2105.6 2120.3h0M2106.1 2124.3h0M2106.5 2094.9h0M2110.2 2108.7h0M2109.0 2119.7h0M2111.4 2132.9h0M2111.1 2136.9h0M2113.7 2134.6h0M2114.2 2088.1h0M2116.5 2111.8h0M2115.7 2115.2h0M2118.0 2130.3h0M2118.1 2130.7h0M2120.8 2103.8h0M2119.4 2120.1h0M2120.7 2073.5h0M2122.3 2119.3h0M2122.1 2073.5h0M2123.3 2090.6h0M2124.0 2094.8h0M2123.5 2100.5h0M2127.0 2083.2h0M2127.1 2086.0h0M2129.4 2091.1h0M2129.1 2089.7h0M2130.8 2113.4h0M2129.5 2117.8h0M2133.0 2119.0h0M2132.7 2116.0h0M2135.0 2121.6h0M2134.0 2102.4h0M2136.1 2087.7h0M2136.9 2121.5h0M2136.6 2125.3h0M2138.7 2124.7h0M2138.8 2100.5h0M2139.4 2105.2h0M2141.1 2107.8h0M2141.5 2107.5h0M2143.3 2131.8h0M2143.6 2120.6h0M2145.5 2123.5h0M2144.8 2126.5h0M2146.2 2130.7h0M2146.6 2127.6h0M2147.3 2131.0h0M2150.2 2113.7h0M2149.0 2114.4h0M2151.4 2140.5h0M2151.1 2134.8h0M2153.2 2122.7h0M2152.8 2121.4h0M2155.8 2136.2h0M2155.1 2135.8h0M2154.9 2135.4h0M2158.3 2121.2h0M2157.7 2146.4h0M2159.4 2133.0h0M2159.9 2119.7h0M2161.1 2130.2h0M2161.7 2141.6h0M2162.1 2124.7h0M2164.4 2117.4h0M2164.9 2121.6h0M2165.9 2139.7h0M2168.2 2123.8h0M2167.4 2139.5h0M2168.6 2134.0h0M2170.1 2138.7h0M2169.3 2105.2h0M2170.2 2108.6h0M2171.9 2118.4h0M2172.7 2128.9h0M2170.9 2107.1h0M2173.9 2126.9h0M2174.2 2122.6h0M2174.5 2123.1h0M2176.1 2112.3h0M2176.8 2118.5h0M2177.7 2115.6h0M2176.8 2120.9h0M2178.3 2083.2h0M2179.5 2050.0h0M2179.7 2115.7h0M2180.6 2060.3h0M2182.8 2079.8h0M2182.8 2084.9h0M2184.0 2111.5h0M2185.9 2113.8h0M2186.2 2075.5h0M2188.6 2108.1h0M2189.2 2106.0h0M2191.1 2097.9h0M2191.9 2102.9h0M2192.8 2098.5h0M2193.2 2092.5h0M2194.5 2095.2h0M2195.6 2103.4h0M2196.3 2077.7h0M2195.2 2098.9h0M2198.0 2078.0h0M2198.3 2099.5h0M2200.7 2104.6h0M2199.9 2091.9h0M2201.7 2094.7h0M2202.3 2095.1h0M2202.0 2077.2h0M2205.5 2098.8h0M2204.3 2076.1h0M629.3 1935.8h0M618.2 1987.7h0M622.2 1993.1h0M624.8 2023.7h0M636.8 2005.1h0M610.2 2022.4h0M636.8 2037.8h0M612.8 2055.7h0M746.5 1821.3h0M752.7 1859.4h0M752.7 1883.9h0M746.5 1895.9h0M668.0 1885.2h0M665.3 1895.9h0M672.0 1901.2h0M679.4 1903.8h0M736.4 1933.1h0M795.3 1954.5h0M766.5 1969.9h0M650.7 1977.1h0M783.8 1992.5h0M799.8 1997.1h0M1055.0 1859.4h0M1052.8 1894.5h0M1060.8 1903.3h0M1055.0 1961.9h0M1078.1 1962.4h0M1039.5 1983.8h0M1052.8 2001.1h0M1058.2 2007.7h0M1026.2 2022.4h0M1039.5 2030.4h0M1052.8 2027.7h0M1104.0 1958.5h0M1131.9 1953.1h0M1123.9 1963.2h0M1101.3 1985.6h0M1089.3 1997.1h0M1123.9 1994.4h0M1147.9 1992.5h0M1142.6 2000.5h0M1090.7 2011.7h0M1090.7 2019.7h0M1145.3 2017.0h0M1145.3 2026.4h0M1090.7 2039.7h0M1093.3 2046.3h0M1275.8 1917.7h0M1287.7 1919.8h0M1331.7 1925.7h0M1331.7 1933.1h0M1309.1 1978.4h0M1314.4 1978.4h0M1305.1 1983.8h0M1277.1 1985.1h0M1306.4 2010.4h0M1283.8 2030.4h0M1317.0 2033.0h0M1421.7 1818.1h0M1423.6 1850.6h0M1423.6 1904.6h0M1423.6 1915.8h0M1453.4 1958.5h0M1473.7 1982.4h0M1474.2 1991.7h0M1462.2 1997.9h0M1442.2 2043.7h0M1436.9 2049.0h0M1549.3 1919.3h0M1546.6 1941.1h0M1546.6 1953.1h0M1546.6 1963.8h0M1546.6 1971.8h0M1583.9 1957.9h0M1562.6 1983.8h0M1546.6 1994.4h0M1563.9 2001.1h0M1558.6 2013.1h0M1637.2 1870.6h0M1637.2 1882.0h0M1637.2 1915.8h0M1637.2 1925.2h0M1637.2 1941.9h0M1719.8 1916.6h0M1666.0 2023.7h0M1658.5 2037.0h0M1669.2 2035.7h0M1714.4 2021.0h0M1729.1 2037.0h0M1805.0 1922.5h0M1805.0 1934.5h0M1805.0 1942.5h0M1821.5 1923.3h0M1813.0 1951.8h0M1863.6 1954.5h0M1914.2 1851.4h0M1909.4 1921.2h0M1909.4 1934.5h0M1927.5 1923.8h0M1927.5 1933.1h0M1924.8 1947.8h0M1927.5 1971.8h0M1927.5 1979.8h0M1927.5 1987.7h0M1915.5 1981.1h0M1875.6 1991.7h0M1870.2 2027.7h0M1791.7 2021.0h0M2183.7 1902.5h0M2119.8 1968.6h0M2175.7 1963.2h0M2119.8 1983.8h0M2126.4 1983.8h0M2154.4 1976.6h0M2162.4 1985.1h0M2159.7 1995.7h0M2181.8 2000.5h0M2147.7 2005.9h0M2139.8 2009.1h0M2145.1 2017.0h0M2115.8 2021.0h0M2125.1 2026.4h0M2159.7 2029.0h0M2185.0 2021.0h0M2203.7 2011.7h0M2131.8 2037.8h0M2145.1 2045.0h0M2151.7 2051.7h0M2119.8 2055.7h0M2137.1 2055.7h0M2143.8 2067.7h0M2123.8 2070.3h0M2130.4 2069.0h0M2179.7 2069.0h0M2179.7 2075.6h0M2153.1 2075.6h0M2119.8 2082.3h0M2147.7 2086.3h0M2171.7 2085.0h0M2103.8 2091.6h0M2083.8 2102.3h0M2126.4 2094.3h0M2126.4 2102.3h0M1963.6 1710.3h0M1963.6 1758.7h0M1963.6 1767.8h0" fill="none" stroke="#c58316" stroke-width="5.8" stroke-linecap="round"/>
<line x1="158.1" y1="1791.5" x2="2390.0" y2="1791.5" stroke="#a0529a" stroke-width="3.4"/>
<line x1="158.1" y1="1791.5" x2="2390.0" y2="1791.5" stroke="#6a3f9a" stroke-width="3.4" stroke-dasharray="11 8" opacity="0.3"/>
<circle cx="585.4" cy="1906.5" r="2.9" fill="#1f2f60"/>
<circle cx="583.5" cy="1923.8" r="2.9" fill="#1f2f60"/>
<circle cx="585.4" cy="1934.5" r="2.9" fill="#1f2f60"/>
<circle cx="585.4" cy="1946.5" r="2.9" fill="#1f2f60"/>
<circle cx="585.4" cy="1961.1" r="2.9" fill="#1f2f60"/>
<circle cx="585.4" cy="1970.4" r="2.9" fill="#1f2f60"/>
<circle cx="806.5" cy="1943.8" r="2.9" fill="#c58316"/>
<circle cx="807.3" cy="1969.1" r="2.9" fill="#c58316"/>
<circle cx="807.8" cy="1999.7" r="2.9" fill="#c58316"/>
<circle cx="1015.0" cy="1856.7" r="2.9" fill="#1f2f60"/>
<circle cx="1015.0" cy="1918.5" r="2.9" fill="#1f2f60"/>
<circle cx="1015.0" cy="1932.3" r="2.9" fill="#1f2f60"/>
<circle cx="1267.8" cy="1811.2" r="2.9" fill="#1f2f60"/>
<circle cx="1267.8" cy="1826.1" r="2.9" fill="#1f2f60"/>
<circle cx="1267.8" cy="1872.7" r="2.9" fill="#1f2f60"/>
<circle cx="1267.8" cy="1923.8" r="2.9" fill="#1f2f60"/>
<circle cx="1267.8" cy="1934.5" r="2.9" fill="#1f2f60"/>
<circle cx="1267.8" cy="1948.3" r="2.9" fill="#1f2f60"/>
<circle cx="1416.9" cy="1945.1" r="2.9" fill="#1f2f60"/>
<circle cx="1416.9" cy="1951.8" r="2.9" fill="#1f2f60"/>
<circle cx="1417.7" cy="1969.1" r="2.9" fill="#1f2f60"/>
<circle cx="1348.2" cy="1907.8" r="2.9" fill="#c58316"/>
<circle cx="1348.2" cy="1925.2" r="2.9" fill="#c58316"/>
<circle cx="1348.2" cy="1939.8" r="2.9" fill="#c58316"/>
<circle cx="1348.2" cy="1943.8" r="2.9" fill="#c58316"/>
<circle cx="1347.7" cy="1979.8" r="2.9" fill="#c58316"/>
<circle cx="1347.7" cy="1998.4" r="2.9" fill="#c58316"/>
<circle cx="1540.0" cy="1978.4" r="2.9" fill="#1f2f60"/>
<circle cx="1675.3" cy="1948.3" r="2.9" fill="#c58316"/>
<circle cx="1749.1" cy="1962.4" r="2.9" fill="#c58316"/>
<circle cx="1749.1" cy="1974.4" r="2.9" fill="#c58316"/>
<circle cx="1749.1" cy="1994.4" r="2.9" fill="#c58316"/>
<circle cx="1824.4" cy="1969.6" r="2.9" fill="#c58316"/>
<circle cx="1824.4" cy="1985.1" r="2.9" fill="#c58316"/>
<circle cx="1824.4" cy="2005.1" r="2.9" fill="#c58316"/>
<circle cx="1821.0" cy="2018.4" r="2.9" fill="#c58316"/>
<circle cx="1823.6" cy="2030.4" r="2.9" fill="#c58316"/>
<circle cx="1856.9" cy="1993.9" r="2.9" fill="#1f2f60"/>
<circle cx="1852.9" cy="2019.7" r="2.9" fill="#1f2f60"/>
<circle cx="1852.9" cy="2051.7" r="2.9" fill="#1f2f60"/>
<circle cx="1906.2" cy="1925.2" r="2.9" fill="#1f2f60"/>
<circle cx="1903.5" cy="1934.5" r="2.9" fill="#1f2f60"/>
<circle cx="1903.5" cy="1939.8" r="2.9" fill="#1f2f60"/>
<circle cx="1902.2" cy="1954.5" r="2.9" fill="#1f2f60"/>
<circle cx="1902.2" cy="1966.4" r="2.9" fill="#1f2f60"/>
<circle cx="1903.5" cy="1978.4" r="2.9" fill="#1f2f60"/>
<circle cx="1951.5" cy="1879.9" r="2.9" fill="#1f2f60"/>
<circle cx="1950.1" cy="1918.5" r="2.9" fill="#1f2f60"/>
<circle cx="1950.1" cy="1925.2" r="2.9" fill="#1f2f60"/>
<circle cx="1948.8" cy="1950.5" r="2.9" fill="#1f2f60"/>
<circle cx="1789.0" cy="2046.3" r="2.9" fill="#1f2f60"/>
<circle cx="1962.6" cy="1798.6" r="2.9" fill="#c58316"/>
<circle cx="1965.3" cy="1810.6" r="2.9" fill="#c58316"/>
<circle cx="1963.4" cy="1825.3" r="2.9" fill="#c58316"/>
<circle cx="2046.5" cy="1878.5" r="2.9" fill="#c58316"/>
<circle cx="2067.8" cy="1869.8" r="2.9" fill="#c58316"/>
<circle cx="2049.2" cy="1938.5" r="2.9" fill="#c58316"/>
<circle cx="2031.9" cy="1941.1" r="2.9" fill="#c58316"/>
<circle cx="2017.2" cy="1931.8" r="2.9" fill="#c58316"/>
<circle cx="2067.8" cy="1917.2" r="2.9" fill="#c58316"/>
<circle cx="2067.8" cy="1925.2" r="2.9" fill="#c58316"/>
<circle cx="2067.8" cy="1934.5" r="2.9" fill="#c58316"/>
<circle cx="2067.8" cy="1941.1" r="2.9" fill="#c58316"/>
<circle cx="2075.8" cy="1945.1" r="2.9" fill="#c58316"/>
<circle cx="2067.8" cy="1953.1" r="2.9" fill="#c58316"/>
<circle cx="1972.0" cy="1801.3" r="2.9" fill="#1f2f60"/>
<circle cx="1972.0" cy="1813.3" r="2.9" fill="#1f2f60"/>
<circle cx="1972.0" cy="1827.9" r="2.9" fill="#1f2f60"/>
<circle cx="1972.0" cy="1834.6" r="2.9" fill="#1f2f60"/>
<circle cx="2006.6" cy="1816.5" r="2.9" fill="#1f2f60"/>
<circle cx="1952.0" cy="1879.3" r="2.9" fill="#1f2f60"/>
<circle cx="2062.5" cy="1891.9" r="2.9" fill="#1f2f60"/>
<circle cx="2063.8" cy="1895.9" r="2.9" fill="#1f2f60"/>
<circle cx="2054.0" cy="1901.2" r="2.9" fill="#1f2f60"/>
<circle cx="2021.2" cy="1925.7" r="2.9" fill="#1f2f60"/>
<circle cx="1997.3" cy="1963.8" r="2.9" fill="#1f2f60"/>
<circle cx="1997.3" cy="1983.8" r="2.9" fill="#1f2f60"/>
<circle cx="1997.3" cy="1998.4" r="2.9" fill="#1f2f60"/>
<circle cx="2009.2" cy="1830.6" r="2.9" fill="#c58316"/>
<text transform="translate(115.7 2310.9) scale(1.2 1)" text-anchor="middle" class="t">0</text>
<text transform="translate(115.7 2225.9) scale(1.2 1)" text-anchor="middle" class="t">1</text>
<text transform="translate(115.7 2140.9) scale(1.2 1)" text-anchor="middle" class="t">2</text>
<text transform="translate(115.7 2055.9) scale(1.2 1)" text-anchor="middle" class="t">3</text>
<text transform="translate(115.7 1970.9) scale(1.2 1)" text-anchor="middle" class="t">4</text>
<text transform="translate(115.7 1885.9) scale(1.2 1)" text-anchor="middle" class="t">5</text>
<text transform="translate(115.7 1800.9) scale(1.2 1)" text-anchor="middle" class="t">6</text>
<text transform="translate(115.7 1715.9) scale(1.2 1)" text-anchor="middle" class="t">7</text>
<path d="M158.1 1705.3V2302.7" fill="none" stroke="#999" stroke-width="4"/>
<path d="M140.6 2301.5H158.1M140.6 2216.5H158.1M140.6 2131.5H158.1M140.6 2046.5H158.1M140.6 1961.5H158.1M140.6 1876.5H158.1M140.6 1791.5H158.1M140.6 1706.5H158.1" fill="none" stroke="#777" stroke-width="2.9"/>
<path d="M392.3 2301.5v16M710.8 2301.5v16M913.8 2301.5v16M1094.3 2301.5v16M1211.6 2301.5v16M1315.9 2301.5v16M1371.8 2301.5v16M1440.8 2301.5v16M1513.8 2301.5v16M1561.8 2301.5v16M1611.9 2301.5v16M1650.4 2301.5v16M1697.6 2301.5v16M1734.3 2301.5v16M1771.7 2301.5v16M1815.3 2301.5v16M1844.0 2301.5v16M1873.4 2301.5v16M1898.1 2301.5v16M1920.2 2301.5v16M1939.9 2301.5v16M1959.2 2301.5v16M1973.8 2301.5v16M1988.6 2301.5v16M2001.9 2301.5v16M2013.2 2301.5v16M2024.4 2301.5v16M2035.3 2301.5v16M2105.4 2301.5v16M2274.7 2301.5v16" fill="none" stroke="#7a7a7a" stroke-width="2.8"/>
<path d="M2043.6 2301.5v16M2047.1 2301.5v16M2050.1 2301.5v16M2052.6 2301.5v16M2055.1 2301.5v16" fill="none" stroke="#777" stroke-width="2.2"/>
<path d="M2057.1 2301.5v16M2059.1 2301.5v16M2061.1 2301.5v16M2063.1 2301.5v16M2065.1 2301.5v16M2067.1 2301.5v16" fill="none" stroke="#444" stroke-width="2.2"/>
<path d="M2068.1 2301.5v16" fill="none" stroke="#111" stroke-width="3.4"/>
<text transform="translate(393.6 2357.8) scale(1.18 1)" text-anchor="middle" class="t">1</text>
<text transform="translate(712.3 2357.8) scale(1.18 1)" text-anchor="middle" class="t">2</text>
<text transform="translate(914.9 2357.8) scale(1.18 1)" text-anchor="middle" class="t">3</text>
<text transform="translate(1094.3 2357.8) scale(1.18 1)" text-anchor="middle" class="t">4</text>
<text transform="translate(1211.6 2357.8) scale(1.18 1)" text-anchor="middle" class="t">5</text>
<text transform="translate(1315.9 2357.8) scale(1.18 1)" text-anchor="middle" class="t">6</text>
<text transform="translate(1372.6 2357.8) scale(1.18 1)" text-anchor="middle" class="t">7</text>
<text transform="translate(1442.6 2357.8) scale(1.18 1)" text-anchor="middle" class="t">8</text>
<text transform="translate(1515.6 2357.8) scale(1.18 1)" text-anchor="middle" class="t">9</text>
<text transform="translate(1562.1 2357.8) scale(1.0 1)" text-anchor="middle" class="t">10</text>
<text transform="translate(1652.9 2357.8) scale(1.0 1)" text-anchor="middle" class="t">12</text>
<text transform="translate(1735.7 2357.8) scale(1.0 1)" text-anchor="middle" class="t">14</text>
<text transform="translate(1817.4 2357.8) scale(1.0 1)" text-anchor="middle" class="t">16</text>
<text transform="translate(1875.1 2357.8) scale(1.0 1)" text-anchor="middle" class="t">18</text>
<text transform="translate(1940.9 2357.8) scale(1.0 1)" text-anchor="middle" class="t">21</text>
<text transform="translate(2003.4 2357.8) scale(1.0 1)" text-anchor="middle" class="t">25</text>
<text transform="translate(2054.2 2357.8) scale(1.0 1)" text-anchor="middle" class="t">31</text>
<text transform="translate(2105.4 2357.8) scale(1.18 1)" text-anchor="middle" class="t">Z</text>
<text transform="translate(2276.8 2357.8) scale(1.0 1)" text-anchor="middle" class="t">Un</text>
<text transform="translate(37.1 2000.5) rotate(-90)" text-anchor="middle" class="yl">−log<tspan dy="5" font-size="19">10</tspan><tspan dy="-5">(</tspan><tspan font-style="italic">p</tspan>)</text>
<text transform="translate(60.2 1650.2) scale(1.16 1.04)" class="L">c</text>
<path d="M216.5 3122.1L216.5 2946.3L217.3 2946.3L219.2 2845.1L228.0 2863.8L230.6 2911.9L240.0 2919.7L246.6 2925.0L253.3 2919.7L255.4 2858.4L261.3 2882.6L266.6 2871.7L275.9 2877.1L279.9 2932.8L290.6 2946.3L298.5 2941.0L302.5 2877.1L306.5 2797.2L318.5 2823.8L321.2 2919.7L327.8 2925.0L343.8 2925.0L349.2 2850.4L351.8 2813.2L359.8 2837.1L361.1 2946.3L370.5 2933.0L381.1 2932.3L391.8 2946.3L399.8 2946.3L402.4 2850.4L410.4 2863.8L413.1 2946.1L423.7 2959.7L429.1 2907.9L434.4 2877.1L439.7 2807.8L447.2 2850.4L453.0 2890.4L458.4 2943.9L466.3 2973.0L471.7 2946.3L474.3 2893.1L479.7 2895.7L482.3 2941.2L486.3 2885.1L495.6 2899.1L501.0 2946.3L509.0 2900.1L524.9 2891.5L530.3 2946.3L538.3 2946.3L543.6 2911.9L551.6 2932.3L559.6 2946.3L563.6 2869.1L572.9 2866.4L575.5 2829.1L581.1 2837.1L581.5 2842.7L581.5 3122.1ZM805.6 3122.1L805.6 2743.5L807.8 2738.6L815.8 2770.5L817.9 2877.1L822.4 2903.7L826.4 2973.0L837.1 2959.4L843.8 2877.1L846.4 2863.8L853.1 2890.4L855.7 2959.7L866.4 2959.7L879.7 2965.0L885.0 2898.4L893.0 2890.4L898.4 2866.4L906.3 2867.0L911.7 2839.9L917.0 2791.8L919.7 2783.9L926.3 2797.2L930.3 2850.4L935.6 2861.1L941.0 2890.4L946.3 2927.7L954.3 2946.1L964.9 2959.7L975.6 2951.7L986.2 2933.6L996.9 2959.7L1004.9 2973.0L1008.9 2903.7L1012.9 2850.4L1013.9 2850.4L1014.4 2850.4L1014.4 3122.1ZM1151.0 3122.1L1151.0 2864.7L1154.6 2850.4L1162.6 2850.4L1165.2 2890.4L1169.2 2930.3L1173.2 2986.3L1181.2 2999.6L1189.2 2967.0L1194.5 2930.3L1201.2 2903.7L1205.2 2871.7L1209.2 2797.2L1211.8 2775.9L1218.0 2823.8L1219.8 2891.5L1223.8 2932.3L1234.5 2946.3L1245.1 2946.3L1250.5 2863.8L1259.8 2861.1L1262.4 2797.2L1263.8 2791.8L1270.2 2823.8L1270.5 2829.6L1270.5 3122.1ZM1343.1 3122.1L1343.1 2884.6L1346.3 2877.1L1351.7 2892.4L1357.0 2933.0L1362.3 2946.3L1365.0 2899.9L1370.3 2894.2L1374.3 2829.1L1382.3 2837.1L1383.6 2878.9L1390.3 2869.1L1394.3 2885.1L1399.6 2911.2L1403.6 2959.7L1410.3 2946.3L1414.3 2845.1L1416.4 2845.1L1416.8 2842.4L1416.8 3122.1ZM1474.6 3122.1L1474.6 2746.9L1479.5 2939.2L1484.8 2959.0L1495.5 2973.0L1506.2 2973.0L1516.8 2959.0L1520.8 2973.0L1528.0 2959.7L1533.3 2920.6L1536.5 2890.4L1536.7 2886.8L1536.7 3122.1ZM1589.0 3122.1L1589.0 2856.8L1593.2 2872.3L1598.6 2883.9L1602.6 2919.7L1613.2 2922.4L1621.2 2919.7L1628.4 2933.0L1628.6 2926.2L1628.6 3122.1ZM1672.6 3122.1L1672.6 2965.1L1675.8 2895.7L1682.5 2903.7L1685.1 2973.0L1690.5 3012.9L1694.5 2945.8L1697.1 2858.4L1703.8 2890.4L1709.4 2911.2L1709.6 2911.1L1709.6 3122.1ZM1751.0 3122.1L1751.0 2902.8L1755.7 2890.4L1761.0 2850.4L1763.7 2823.8L1773.0 2837.1L1777.0 2863.8L1782.3 2914.4L1787.7 2919.7L1788.0 2920.8L1788.0 3122.1ZM1823.4 3122.1L1823.4 2874.2L1826.3 2871.7L1833.0 2874.4L1835.6 2946.3L1842.3 2959.7L1844.9 2933.0L1852.9 2920.5L1853.2 2902.5L1853.2 3122.1ZM1879.3 3122.1L1879.3 2856.4L1883.6 2823.8L1886.2 2821.1L1894.2 2837.1L1898.2 2893.1L1902.2 2933.0L1903.8 2946.3L1904.2 2942.1L1904.2 3122.1ZM1927.8 3122.1L1927.8 2850.2L1931.5 2847.8L1939.5 2850.5L1940.8 2914.4L1947.5 2911.7L1947.7 2906.8L1947.7 3122.1ZM1964.2 3122.1L1964.2 2903.2L1965.3 2823.8L1971.4 2815.8L1972.5 2791.8L1977.3 2791.8L1977.9 2840.0L1977.9 3122.1ZM1990.6 3122.1L1990.6 2842.9L1991.7 2935.7L2003.9 2935.7L2005.2 2919.2L2005.2 3122.1ZM2016.8 3122.1L2016.8 2881.4L2017.8 2850.4L2025.2 2850.4L2025.9 2828.1L2025.9 3122.1ZM2036.0 3122.1L2036.0 2800.7L2036.4 2832.0L2040.7 2839.8L2041.5 2822.1L2041.5 3122.1ZM2046.2 3122.1L2046.2 2800.5L2047.1 2778.5L2051.3 2778.5L2051.3 3122.1ZM2056.1 3122.1L2056.1 2792.9L2057.2 2823.8L2061.4 2823.8L2061.4 3122.1ZM2206.0 3122.1L2206.0 2973.5L2207.7 2951.9L2217.0 2972.3L2221.0 2903.7L2223.7 2855.8L2233.0 2877.1L2237.0 2933.0L2243.6 2898.4L2259.6 2893.5L2263.6 2919.7L2267.6 2946.3L2271.6 2891.0L2275.6 2850.4L2279.6 2902.2L2286.2 2901.1L2296.9 2885.2L2302.2 2823.8L2306.2 2770.5L2310.2 2759.9L2312.9 2797.2L2318.2 2837.1L2323.5 2877.1L2328.9 2905.7L2331.0 2912.3L2331.0 3122.1Z" fill="#1f2f60"/>
<path d="M581.5 3122.1L581.5 2842.7L586.2 2915.5L594.2 2946.3L602.2 2915.5L608.8 2861.1L615.5 2874.1L623.5 2906.4L628.8 2933.0L636.8 2863.8L640.0 2855.8L650.7 2858.4L656.0 2877.1L660.0 2943.8L669.3 2959.7L682.6 2967.7L690.6 2921.6L695.9 2903.7L706.6 2933.0L714.6 2879.5L719.9 2871.7L725.2 2919.7L729.2 2865.9L745.2 2858.4L746.5 2932.8L757.2 2946.3L762.5 2863.8L766.5 2845.1L774.5 2877.1L778.5 2912.8L786.5 2933.0L794.5 2946.3L799.8 2916.1L803.0 2783.9L805.4 2743.9L805.6 2743.5L805.6 3122.1ZM1014.4 3122.1L1014.4 2850.4L1016.9 2850.4L1019.5 2845.1L1035.5 2850.4L1038.2 2931.1L1047.5 2946.3L1060.8 2951.7L1076.8 2940.4L1080.0 2973.0L1090.7 2967.7L1101.3 2959.7L1112.0 2943.9L1122.6 2941.0L1133.3 2933.0L1141.3 2916.2L1145.3 2871.7L1150.6 2866.4L1151.0 2864.7L1151.0 3122.1ZM1270.5 3122.1L1270.5 2829.6L1274.4 2898.4L1282.4 2886.1L1290.4 2906.4L1298.4 2919.7L1305.1 2914.4L1307.7 2842.5L1314.4 2837.1L1325.0 2834.5L1329.0 2797.2L1335.7 2810.5L1338.4 2887.9L1342.9 2885.2L1343.1 2884.6L1343.1 3122.1ZM1416.8 3122.1L1416.8 2842.4L1419.6 2823.8L1421.5 2794.5L1428.4 2823.8L1431.6 2871.7L1438.2 2869.1L1440.9 2903.7L1447.6 2946.3L1452.9 2973.0L1456.9 2892.9L1463.5 2877.1L1470.2 2850.4L1472.6 2743.9L1474.5 2741.2L1474.6 2746.9L1474.6 3122.1ZM1536.7 3122.1L1536.7 2886.8L1540.0 2823.8L1542.6 2781.2L1549.8 2823.8L1553.3 2906.4L1557.3 2914.4L1565.3 2911.7L1570.6 2892.8L1581.3 2901.1L1588.7 2855.8L1589.0 2856.8L1589.0 3122.1ZM1628.6 3122.1L1628.6 2926.2L1631.3 2831.8L1638.5 2850.4L1641.2 2933.0L1647.8 2914.5L1655.8 2895.7L1661.2 2919.6L1666.5 2959.7L1672.3 2970.5L1672.6 2965.1L1672.6 3122.1ZM1709.6 3122.1L1709.6 2911.1L1714.4 2909.7L1722.4 2909.0L1727.7 2930.3L1733.1 2959.7L1738.4 2999.6L1743.7 2943.0L1750.7 2903.7L1751.0 2902.8L1751.0 3122.1ZM1788.0 3122.1L1788.0 2920.8L1791.7 2933.0L1797.0 2850.4L1799.7 2818.5L1807.1 2837.1L1809.0 2933.0L1815.6 2935.7L1818.3 2893.1L1823.1 2874.4L1823.4 2874.2L1823.4 3122.1ZM1853.2 3122.1L1853.2 2902.5L1855.1 2778.5L1862.3 2797.2L1866.2 2911.6L1871.6 2951.7L1876.9 2946.3L1879.0 2858.4L1879.3 2856.4L1879.3 3122.1ZM1904.2 3122.1L1904.2 2942.1L1907.5 2906.4L1914.2 2877.1L1919.5 2895.6L1926.2 2909.1L1927.5 2850.4L1927.8 2850.2L1927.8 3122.1ZM1947.7 3122.1L1947.7 2906.8L1950.1 2852.1L1959.5 2845.1L1961.3 2919.7L1964.0 2919.7L1964.2 2903.2L1964.2 3122.1ZM1977.9 3122.1L1977.9 2840.0L1978.9 2917.6L1985.3 2797.2L1987.9 2791.8L1990.1 2797.2L1990.6 2842.9L1990.6 3122.1ZM2005.2 3122.1L2005.2 2919.2L2006.6 2901.3L2016.2 2901.3L2016.8 2881.4L2016.8 3122.1ZM2025.9 3122.1L2025.9 2828.1L2026.8 2797.2L2030.6 2751.9L2035.4 2751.9L2036.0 2800.7L2036.0 3122.1ZM2041.5 3122.1L2041.5 2822.1L2042.3 2805.4L2046.0 2805.4L2046.2 2800.5L2046.2 3122.1ZM2051.3 3122.1L2051.3 2778.5L2055.6 2778.5L2056.1 2792.9L2056.1 3122.1ZM2061.4 3122.1L2061.4 2823.8L2062.5 2823.8L2064.1 2855.8L2070.5 2855.8L2071.8 2877.1L2075.8 2931.4L2081.2 2972.3L2089.2 2986.3L2099.8 2986.3L2113.1 2991.6L2126.4 2994.3L2139.8 2999.6L2153.1 2999.6L2166.4 2994.3L2179.7 2986.3L2193.0 2986.3L2205.0 2986.3L2206.0 2973.5L2206.0 3122.1Z" fill="#c58316"/>
<path d="M218.0 2906.8V2911.0M220.3 2846.4V2849.4M222.6 2845.9V2854.3M225.0 2857.0V2859.4M227.3 2859.2V2864.4M229.3 2886.2V2890.3M231.4 2906.1V2914.5M233.2 2901.0V2916.0M235.3 2911.5V2917.8M237.5 2867.7V2919.7M240.0 2904.2V2921.7M241.8 2921.0V2923.2M243.7 2919.0V2924.7M245.5 2872.1V2926.1M247.2 2916.1V2926.5M249.2 2922.4V2924.9M251.3 2869.3V2923.3M253.3 2917.9V2921.4M255.4 2852.2V2860.6M257.2 2855.6V2867.9M258.7 2859.6V2874.2M261.0 2860.8V2883.5M263.3 2862.2V2880.5M265.7 2867.7V2875.6M267.8 2871.8V2874.4M270.1 2872.2V2875.7M272.1 2872.6V2876.9M273.9 2868.7V2877.9M275.7 2873.8V2879.0M277.7 2893.0V2904.1M280.0 2881.1V2934.8M281.8 2902.8V2937.2M283.4 2913.7V2939.2M285.5 2933.0V2941.9M287.3 2941.8V2944.2M289.7 2942.6V2947.3M292.2 2943.2V2947.2M294.0 2902.0V2946.0M295.7 2936.6V2944.9M297.4 2929.3V2943.8M299.1 2931.2V2934.3M301.2 2896.4V2900.7M303.5 2857.8V2860.5M305.9 2808.1V2811.3M308.3 2796.3V2803.1M310.7 2801.3V2808.4M312.7 2810.5V2812.8M314.6 2812.8V2817.0M316.9 2819.1V2822.2M319.3 2841.3V2854.3M321.1 2900.7V2919.3M323.5 2904.2V2923.5M325.9 2906.3V2925.4M327.4 2904.7V2926.7M329.9 2905.9V2927.0M332.0 2924.7V2927.0M334.4 2903.0V2927.0M336.6 2893.3V2927.0M338.3 2924.7V2927.0M340.4 2895.5V2927.0M342.7 2923.6V2927.0M344.8 2875.3V2912.7M346.5 2873.9V2890.1M348.7 2857.0V2859.1M350.5 2815.2V2833.5M352.7 2800.4V2817.8M354.3 2819.7V2822.6M356.6 2827.2V2829.4M358.4 2828.0V2835.0M360.7 2894.2V2916.0M362.6 2941.8V2946.2M364.9 2932.3V2943.0M367.3 2925.5V2939.5M369.6 2931.8V2936.2M371.7 2882.6V2934.9M373.6 2901.1V2934.8M376.0 2930.2V2934.7M377.6 2888.6V2934.6M379.4 2931.5V2934.4M381.8 2927.8V2935.2M383.3 2926.2V2937.3M385.0 2897.4V2939.5M387.1 2931.3V2942.2M389.1 2924.1V2944.9M390.9 2931.0V2947.2M392.8 2940.5V2948.3M394.9 2932.4V2948.3M397.3 2936.7V2948.3M399.1 2939.0V2948.3M401.4 2884.9V2887.7M403.5 2851.2V2854.2M405.1 2854.7V2856.9M407.6 2857.3V2861.0M410.0 2860.8V2865.1M411.6 2899.0V2903.5M413.4 2929.1V2948.6M415.8 2897.8V2951.6M418.0 2918.7V2954.4M420.2 2937.3V2957.1M422.1 2948.9V2959.6M424.4 2943.4V2955.5M426.5 2886.7V2934.5M429.0 2898.7V2910.9M431.2 2891.1V2897.5M433.6 2880.4V2883.8M435.3 2864.4V2866.7M437.5 2836.4V2839.2M439.5 2806.8V2812.2M441.7 2818.5V2821.0M443.4 2827.6V2830.7M445.7 2834.8V2844.3M447.7 2847.0V2855.9M450.0 2867.0V2872.0M451.8 2882.0V2884.0M454.3 2898.1V2904.8M455.8 2917.1V2920.6M457.5 2918.8V2937.6M459.4 2927.9V2949.6M461.3 2942.7V2956.7M463.7 2944.8V2965.5M465.5 2968.0V2971.9M467.5 2915.2V2969.2M469.2 2947.6V2960.9M471.0 2944.8V2951.9M473.3 2914.0V2916.2M475.2 2891.6V2895.5M477.5 2889.6V2896.6M479.6 2892.8V2897.7M481.8 2899.8V2934.8M483.4 2925.2V2928.6M485.5 2895.4V2898.6M487.2 2886.2V2888.3M488.8 2871.9V2890.7M491.1 2891.6V2894.3M493.2 2887.7V2897.3M495.6 2892.7V2901.0M497.4 2912.4V2916.9M499.4 2915.3V2934.1M501.7 2920.2V2944.3M503.4 2917.3V2934.2M505.1 2915.7V2924.5M507.1 2908.9V2913.0M509.4 2889.5V2901.8M511.5 2897.9V2900.7M513.9 2886.9V2899.4M515.5 2893.1V2898.6M517.7 2887.0V2897.4M519.4 2888.9V2896.5M521.5 2877.9V2895.4M523.8 2883.3V2894.1M526.0 2902.2V2904.8M528.1 2913.6V2926.1M529.9 2891.4V2944.3M531.6 2941.9V2948.3M533.8 2920.1V2948.3M535.5 2921.0V2948.3M537.8 2913.9V2948.3M540.2 2932.6V2935.8M541.9 2920.0V2924.8M544.2 2910.7V2915.5M546.2 2907.1V2920.7M548.6 2876.0V2926.6M551.0 2909.6V2932.9M553.4 2927.4V2937.5M555.1 2932.4V2940.5M557.5 2942.2V2944.7M559.7 2925.1V2945.2M562.0 2887.8V2900.3M563.7 2862.0V2871.1M565.4 2867.5V2870.6M567.6 2867.1V2869.9M569.2 2862.2V2869.5M571.6 2862.0V2868.8M573.8 2851.4V2856.0M576.0 2828.7V2831.8M578.0 2828.5V2834.6M579.6 2834.3V2836.9M806.8 2739.6V2742.7M808.6 2739.9V2743.8M810.6 2747.0V2751.7M813.1 2759.4V2761.7M815.2 2760.8V2770.4M817.5 2858.1V2860.5M819.1 2880.1V2886.3M821.4 2893.3V2899.5M823.4 2912.4V2921.8M825.3 2938.6V2955.2M827.1 2954.7V2974.2M829.4 2969.0V2971.2M831.2 2956.2V2969.0M832.9 2953.1V2966.7M835.0 2956.9V2964.1M836.6 2945.5V2962.0M838.6 2935.3V2942.7M840.4 2899.9V2920.7M842.0 2898.4V2901.1M843.5 2880.2V2882.4M845.7 2854.4V2869.2M848.2 2868.2V2873.0M849.9 2876.7V2879.9M851.5 2882.5V2886.1M853.8 2907.9V2910.2M855.5 2920.5V2955.6M858.0 2956.7V2961.7M859.8 2954.2V2961.7M861.8 2934.8V2961.7M864.1 2956.2V2961.7M865.9 2952.2V2961.7M868.2 2936.2V2962.4M870.6 2936.5V2963.3M872.1 2960.7V2964.0M874.5 2912.0V2964.9M876.3 2943.1V2965.6M878.5 2958.0V2966.5M880.6 2935.4V2955.3M882.7 2920.3V2929.3M884.7 2901.8V2905.0M886.6 2892.1V2898.9M888.8 2891.1V2896.6M891.3 2890.5V2894.1M893.6 2876.4V2889.9M895.7 2872.8V2880.4M897.5 2867.0V2872.3M899.5 2865.5V2868.5M901.1 2858.6V2868.6M903.5 2857.1V2868.8M905.5 2862.4V2868.9M908.0 2844.5V2860.7M910.0 2847.6V2850.6M911.8 2837.1V2840.3M914.1 2809.8V2819.9M916.2 2797.8V2801.0M918.3 2784.8V2789.9M920.6 2783.9V2787.8M922.4 2787.9V2791.2M924.3 2785.5V2795.2M926.1 2787.6V2798.8M927.9 2817.8V2820.4M929.8 2841.1V2845.6M932.1 2846.2V2856.1M934.3 2853.6V2860.4M936.4 2865.2V2867.2M938.4 2875.7V2878.3M940.0 2862.8V2887.2M942.4 2900.3V2902.6M944.5 2913.3V2917.3M946.5 2918.5V2930.1M948.5 2918.2V2934.8M950.5 2936.7V2939.4M952.5 2915.3V2943.9M954.8 2945.6V2948.7M956.8 2939.1V2951.3M958.7 2945.0V2953.7M960.3 2953.3V2955.8M962.4 2950.2V2958.4M964.1 2958.0V2960.6M966.1 2935.9V2960.8M967.6 2930.9V2959.7M969.6 2953.4V2958.2M971.3 2951.9V2956.9M973.7 2949.9V2955.1M975.4 2946.6V2953.9M977.8 2925.1V2949.9M979.7 2908.6V2946.7M982.0 2929.3V2942.8M983.8 2907.8V2939.8M985.7 2930.0V2936.5M987.7 2935.6V2939.2M990.2 2934.7V2945.2M992.2 2942.4V2950.1M993.7 2945.5V2953.9M995.4 2918.7V2958.1M997.4 2957.4V2962.5M999.9 2959.6V2966.6M1002.0 2962.4V2970.2M1003.7 2969.1V2973.0M1005.9 2944.3V2957.9M1008.0 2909.5V2921.6M1009.9 2886.6V2892.4M1012.0 2853.8V2864.1M1013.6 2827.4V2852.4M1151.6 2858.8V2864.2M1153.7 2841.3V2855.9M1156.1 2849.5V2852.4M1158.2 2846.7V2852.4M1159.8 2847.8V2852.4M1162.2 2843.9V2852.4M1164.1 2870.2V2874.7M1166.3 2899.0V2903.2M1168.1 2909.9V2921.1M1169.8 2936.6V2940.0M1171.5 2958.4V2964.3M1173.4 2983.2V2988.5M1175.4 2966.8V2991.9M1177.5 2956.8V2995.4M1179.3 2944.4V2998.4M1181.4 2967.6V3000.8M1183.7 2972.6V2991.4M1185.2 2966.5V2985.1M1186.9 2974.8V2978.4M1189.3 2960.7V2968.3M1190.9 2954.2V2957.1M1192.6 2933.9V2945.7M1194.3 2930.8V2934.0M1195.9 2924.3V2926.9M1198.0 2911.4V2918.6M1199.5 2909.7V2912.4M1201.6 2895.6V2902.5M1203.4 2884.3V2887.9M1205.3 2856.1V2871.3M1206.9 2835.1V2841.0M1209.0 2799.9V2803.0M1211.5 2773.5V2780.9M1213.0 2780.1V2786.8M1215.3 2796.6V2805.0M1216.9 2811.6V2817.8M1218.9 2855.6V2858.4M1221.3 2903.3V2908.2M1223.6 2929.0V2932.1M1225.4 2922.3V2936.4M1226.9 2934.2V2938.4M1229.1 2938.4V2941.2M1231.2 2938.5V2944.0M1232.9 2944.0V2946.2M1235.1 2933.8V2948.3M1237.4 2939.7V2948.3M1239.4 2927.8V2948.3M1241.7 2930.4V2948.3M1243.7 2928.5V2948.3M1245.6 2929.4V2941.4M1247.7 2904.3V2909.0M1249.4 2872.3V2882.3M1251.0 2861.7V2865.6M1252.6 2854.0V2865.1M1255.1 2857.8V2864.4M1256.9 2859.1V2863.9M1258.6 2855.9V2863.4M1260.5 2841.3V2846.3M1262.4 2797.9V2801.1M1264.9 2792.0V2799.2M1266.4 2804.0V2807.0M1268.8 2815.7V2819.1M1344.3 2880.4V2883.9M1346.4 2868.4V2879.4M1348.6 2883.2V2885.7M1350.6 2885.6V2891.3M1353.0 2897.3V2904.1M1355.2 2918.9V2921.7M1357.3 2898.8V2935.8M1359.3 2920.7V2940.8M1361.1 2927.2V2945.2M1362.7 2937.6V2940.9M1365.2 2851.8V2901.6M1366.9 2880.4V2899.8M1368.7 2890.4V2897.9M1370.2 2889.5V2896.2M1372.7 2852.6V2856.9M1374.3 2828.2V2831.8M1375.8 2828.0V2832.6M1377.6 2831.1V2834.4M1379.6 2832.2V2836.5M1381.9 2834.1V2838.7M1383.4 2862.4V2874.8M1385.4 2871.2V2878.3M1387.4 2868.0V2875.4M1389.5 2865.9V2872.3M1391.4 2872.0V2875.6M1393.3 2880.4V2883.0M1395.1 2881.2V2890.9M1397.3 2891.2V2901.7M1398.8 2902.2V2909.2M1400.8 2879.4V2927.4M1402.7 2934.1V2950.4M1405.2 2942.1V2958.6M1407.0 2943.1V2954.9M1408.8 2942.3V2951.3M1411.2 2920.4V2925.8M1412.9 2876.8V2881.2M1414.9 2833.4V2847.1M1475.2 2771.7V2774.2M1476.8 2827.4V2836.5M1478.5 2898.6V2901.4M1480.4 2936.6V2944.4M1482.5 2945.8V2952.3M1484.6 2943.3V2960.0M1487.0 2960.2V2963.8M1488.8 2952.4V2966.1M1491.1 2963.5V2969.3M1493.5 2946.1V2972.3M1495.3 2963.4V2974.8M1497.2 2921.0V2975.0M1499.1 2947.1V2975.0M1501.1 2939.0V2975.0M1502.6 2968.1V2975.0M1504.5 2939.1V2975.0M1506.7 2972.3V2974.3M1508.5 2969.3V2971.9M1510.3 2950.8V2969.5M1512.2 2946.3V2967.0M1514.0 2961.5V2964.7M1515.7 2953.2V2962.4M1518.2 2959.3V2965.7M1520.3 2926.8V2973.3M1521.9 2968.5V2972.9M1524.4 2961.3V2968.3M1526.5 2936.9V2964.4M1528.5 2952.5V2957.8M1530.8 2937.5V2941.2M1533.0 2898.6V2925.3M1535.1 2902.8V2905.8M1536.7 2886.0V2889.3M1590.6 2851.7V2864.8M1592.9 2859.6V2872.9M1594.7 2870.2V2877.5M1597.0 2879.3V2882.5M1598.6 2865.2V2886.3M1600.5 2853.7V2902.9M1602.4 2909.5V2920.5M1604.6 2918.9V2922.2M1606.2 2916.4V2922.6M1608.4 2869.2V2923.2M1610.4 2903.5V2923.7M1612.4 2920.3V2924.2M1614.9 2901.5V2923.8M1616.5 2901.5V2923.3M1618.5 2914.7V2922.6M1620.3 2914.3V2922.0M1622.3 2902.4V2923.6M1624.8 2918.8V2928.3M1626.8 2927.7V2932.1M1673.3 2948.7V2952.4M1675.2 2907.3V2909.9M1677.1 2881.4V2899.3M1678.9 2898.5V2901.4M1680.7 2884.9V2903.6M1682.9 2906.9V2915.7M1684.7 2946.3V2964.1M1686.4 2954.4V2984.5M1688.2 2962.0V2998.1M1690.0 2991.5V3011.8M1692.4 2961.7V2983.0M1694.0 2940.2V2955.1M1696.1 2890.3V2893.1M1698.2 2861.6V2865.5M1699.9 2866.9V2873.8M1701.9 2879.4V2883.5M1704.2 2889.7V2893.9M1706.2 2896.1V2901.4M1708.2 2904.7V2908.9M1751.3 2893.4V2904.0M1752.9 2891.0V2899.7M1755.0 2884.6V2894.3M1756.8 2880.0V2884.4M1759.1 2861.9V2866.8M1761.3 2843.2V2850.0M1763.2 2824.0V2830.5M1765.4 2822.9V2828.3M1767.5 2824.9V2831.2M1769.5 2832.1V2834.1M1771.1 2833.6V2836.3M1772.6 2832.9V2838.6M1774.3 2844.5V2847.9M1776.6 2860.4V2863.1M1779.0 2882.2V2884.4M1780.8 2894.4V2901.5M1782.9 2909.6V2916.9M1785.3 2914.1V2919.4M1787.1 2908.4V2921.2M1823.8 2870.3V2875.9M1826.2 2864.1V2873.8M1827.9 2869.3V2874.4M1829.5 2852.0V2875.0M1831.6 2871.0V2875.9M1833.7 2893.8V2896.8M1836.1 2945.4V2949.3M1837.6 2924.2V2952.3M1839.7 2945.5V2956.4M1841.7 2953.2V2960.4M1843.3 2941.3V2951.1M1845.1 2912.9V2934.8M1847.3 2925.5V2931.4M1849.1 2908.9V2928.5M1851.2 2911.7V2925.3M1853.2 2903.0V2906.6M1880.7 2842.3V2847.4M1883.0 2821.6V2830.4M1884.5 2822.1V2824.9M1886.7 2807.5V2824.0M1888.5 2824.9V2827.8M1890.7 2822.2V2832.1M1892.6 2829.1V2835.9M1894.3 2837.7V2840.0M1895.9 2856.1V2862.1M1898.1 2872.3V2893.7M1900.6 2889.0V2918.8M1902.5 2906.4V2937.3M1928.4 2841.7V2851.8M1930.7 2842.4V2850.3M1932.8 2844.9V2850.2M1935.1 2844.8V2851.0M1936.7 2841.1V2851.5M1938.9 2845.1V2852.3M1940.9 2885.0V2916.4M1942.5 2878.6V2915.7M1944.9 2907.7V2914.8M1947.3 2897.0V2913.8M1964.8 2846.7V2861.5M1966.9 2821.6V2823.7M1968.8 2818.6V2821.2M1971.2 2814.8V2818.1M1973.3 2788.2V2793.8M1975.8 2790.5V2793.8M1977.3 2786.0V2794.4M1990.9 2871.5V2873.6M1992.6 2903.0V2937.7M1994.6 2927.2V2937.7M1996.2 2934.5V2937.7M1998.3 2922.1V2937.7M2000.2 2915.9V2937.7M2001.8 2929.6V2937.7M2003.8 2929.7V2937.7M2017.3 2859.3V2868.2M2019.3 2849.2V2852.4M2021.2 2847.0V2852.4M2022.9 2848.5V2852.4M2024.7 2850.0V2852.4M2036.1 2803.3V2809.8M2038.3 2832.5V2837.5M2039.8 2814.0V2840.3M2048.1 2775.7V2780.5M2050.0 2773.5V2780.5M2057.3 2823.7V2825.8M2059.2 2820.1V2825.8M2061.2 2823.5V2825.8M2206.9 2959.4V2964.4M2208.6 2952.3V2955.8M2210.1 2954.9V2959.1M2212.2 2954.2V2963.8M2213.8 2943.2V2967.2M2215.6 2946.6V2971.2M2217.8 2957.5V2960.9M2219.4 2930.9V2933.3M2221.3 2896.6V2899.5M2223.2 2858.1V2866.3M2224.9 2857.1V2860.5M2227.3 2861.5V2866.1M2229.2 2863.3V2870.4M2230.7 2871.1V2874.0M2232.3 2874.3V2877.4M2233.9 2889.4V2891.5M2236.1 2872.0V2922.4M2237.6 2877.6V2931.6M2239.8 2904.7V2920.4M2241.5 2905.6V2911.7M2243.2 2878.2V2902.8M2245.5 2896.9V2899.8M2247.2 2873.2V2899.3M2249.4 2882.7V2898.6M2251.1 2890.7V2898.1M2253.2 2886.1V2897.5M2254.7 2885.7V2897.0M2256.4 2892.9V2896.5M2258.7 2890.8V2895.8M2260.6 2895.7V2902.0M2262.7 2906.4V2916.0M2264.8 2885.6V2929.6M2266.9 2920.6V2944.0M2268.5 2905.0V2936.2M2270.8 2901.0V2904.4M2273.1 2863.4V2877.5M2274.9 2853.1V2859.9M2276.9 2859.6V2869.7M2279.4 2886.2V2901.8M2281.3 2892.6V2903.9M2282.9 2899.2V2903.6M2284.8 2889.7V2903.3M2286.8 2897.1V2902.2M2288.9 2863.3V2899.1M2290.7 2843.5V2896.4M2293.1 2889.4V2892.9M2295.1 2879.7V2889.9M2297.1 2867.1V2885.2M2299.5 2850.9V2856.8M2301.8 2824.9V2831.2M2304.0 2793.7V2802.1M2305.7 2773.2V2778.9M2308.1 2756.7V2767.5M2310.2 2751.5V2762.0M2312.5 2783.4V2793.4M2314.4 2806.5V2810.4M2316.0 2818.3V2822.6M2317.8 2829.1V2836.1M2319.4 2838.8V2848.3M2321.3 2852.9V2862.4M2323.4 2872.6V2877.9M2325.1 2883.9V2887.3M2327.1 2877.6V2898.5M2329.5 2894.2V2909.7" fill="none" stroke="#1f2f60" stroke-width="3.2" stroke-linecap="round"/>
<path d="M581.8 2834.0V2849.5M583.4 2870.0V2873.6M585.7 2869.2V2909.4M588.1 2886.0V2924.9M590.3 2929.6V2933.3M592.3 2903.4V2941.1M594.6 2892.8V2946.6M596.7 2934.5V2938.8M598.8 2917.0V2930.5M601.3 2916.8V2920.9M603.4 2903.8V2907.8M605.6 2885.7V2889.4M607.6 2866.6V2873.4M609.9 2861.5V2865.2M612.1 2861.3V2869.4M614.2 2865.4V2873.5M616.3 2860.6V2879.4M618.5 2883.2V2888.3M620.5 2877.4V2896.3M622.9 2900.8V2906.2M624.9 2904.4V2915.4M626.5 2914.3V2923.6M628.2 2900.6V2932.0M630.1 2900.0V2923.6M632.5 2892.9V2902.8M634.9 2866.0V2882.5M636.5 2858.8V2868.2M638.3 2859.3V2862.1M640.2 2855.0V2857.8M641.8 2853.6V2858.2M643.7 2854.0V2858.7M645.7 2857.0V2859.2M648.2 2845.3V2859.8M650.1 2841.8V2860.3M652.4 2847.4V2866.5M654.1 2866.7V2872.4M655.7 2875.4V2878.1M657.8 2906.7V2908.7M659.3 2911.5V2934.7M661.4 2940.5V2948.2M663.6 2944.7V2952.1M665.4 2942.7V2955.0M667.4 2948.8V2958.4M669.3 2944.9V2961.7M671.2 2956.8V2962.8M672.9 2934.0V2963.8M675.3 2951.0V2965.2M677.6 2960.7V2966.6M679.6 2935.2V2967.9M681.4 2960.7V2968.9M683.0 2957.7V2967.7M684.6 2945.2V2958.1M686.2 2932.7V2948.7M688.0 2925.9V2938.5M690.0 2916.1V2927.4M692.4 2915.0V2917.5M694.0 2905.8V2912.2M696.5 2905.2V2907.2M698.0 2908.5V2911.5M700.3 2904.8V2917.7M702.7 2919.8V2924.4M705.2 2926.4V2931.3M707.5 2920.0V2928.7M709.8 2894.9V2913.3M711.7 2897.6V2900.7M713.7 2882.9V2887.6M715.7 2876.6V2879.8M717.7 2873.1V2877.0M719.9 2872.0V2874.0M722.3 2889.3V2895.1M724.1 2908.3V2911.4M726.3 2904.1V2907.9M728.1 2854.6V2882.9M730.4 2852.4V2867.3M731.9 2863.0V2866.6M734.0 2862.7V2865.6M735.9 2855.2V2864.8M737.7 2857.2V2863.9M739.9 2848.9V2862.9M741.5 2850.5V2862.1M743.6 2857.3V2861.2M745.6 2876.3V2880.5M747.6 2932.8V2936.1M749.1 2934.5V2938.1M751.5 2902.9V2941.1M753.6 2940.1V2943.8M755.2 2939.9V2945.8M756.9 2940.1V2948.0M758.6 2889.3V2927.3M761.0 2887.1V2889.4M763.3 2850.6V2862.0M765.3 2840.0V2852.6M767.3 2827.5V2850.3M769.7 2855.2V2859.8M771.4 2860.1V2866.5M773.2 2868.6V2873.9M774.8 2874.4V2881.6M777.0 2878.4V2901.6M779.4 2914.4V2917.1M781.1 2915.4V2921.5M782.7 2916.3V2925.4M785.1 2929.4V2931.5M786.9 2926.7V2935.7M789.3 2922.6V2939.6M790.8 2928.5V2942.3M793.1 2922.1V2946.0M795.3 2940.9V2943.7M797.1 2918.2V2933.5M799.1 2912.8V2922.1M800.8 2873.7V2878.1M803.2 2777.1V2782.0M804.8 2741.5V2755.7M1016.1 2847.2V2852.4M1018.0 2847.3V2850.2M1020.1 2844.9V2847.3M1022.2 2845.9V2848.0M1024.4 2842.9V2848.7M1026.3 2839.4V2849.4M1027.9 2847.3V2849.9M1029.5 2846.0V2850.4M1031.1 2839.9V2851.0M1032.8 2834.7V2851.5M1034.4 2849.1V2852.1M1036.0 2865.4V2867.8M1037.8 2895.9V2922.4M1039.9 2908.6V2935.9M1042.1 2905.8V2939.6M1044.0 2889.3V2942.6M1045.5 2940.7V2945.1M1047.4 2944.2V2948.3M1049.5 2925.7V2949.1M1051.5 2943.1V2950.0M1053.2 2925.5V2950.6M1055.3 2942.3V2951.5M1057.1 2945.1V2952.2M1059.3 2948.3V2953.0M1061.7 2943.9V2953.0M1063.4 2905.7V2951.9M1065.5 2941.2V2950.3M1067.6 2937.2V2948.9M1070.0 2941.2V2947.1M1072.4 2941.4V2945.5M1074.8 2937.8V2943.8M1077.3 2940.1V2947.0M1079.2 2942.1V2966.3M1081.3 2965.5V2974.3M1083.3 2968.9V2973.3M1084.8 2960.4V2972.6M1087.2 2917.4V2971.4M1089.1 2916.4V2970.4M1091.3 2915.1V2969.1M1093.7 2962.7V2967.4M1095.6 2950.8V2965.9M1098.0 2935.4V2964.1M1100.3 2937.2V2962.4M1102.4 2942.8V2960.1M1104.2 2951.9V2957.4M1106.1 2951.9V2954.6M1108.6 2948.5V2950.9M1111.1 2930.1V2947.2M1113.1 2934.8V2945.6M1115.5 2921.3V2945.0M1117.2 2941.6V2944.5M1119.4 2928.1V2943.9M1121.5 2937.0V2943.3M1123.7 2925.9V2942.2M1125.2 2932.2V2941.0M1126.9 2917.2V2939.8M1128.7 2899.5V2938.5M1130.7 2912.3V2937.0M1133.0 2915.9V2935.2M1135.1 2927.7V2931.1M1137.1 2874.6V2927.0M1139.6 2912.0V2921.7M1141.7 2903.0V2913.0M1143.8 2885.2V2890.0M1145.6 2862.5V2873.4M1147.4 2866.3V2871.6M1149.4 2859.7V2869.6M1271.2 2839.9V2843.8M1273.5 2873.6V2883.8M1275.3 2847.5V2899.0M1276.9 2873.6V2896.6M1278.8 2890.6V2893.6M1280.6 2888.6V2890.9M1282.8 2885.4V2889.0M1285.2 2889.9V2895.2M1287.5 2896.9V2901.0M1290.0 2899.6V2907.3M1291.9 2896.7V2910.9M1294.2 2907.5V2914.6M1296.2 2906.0V2918.0M1298.4 2903.3V2921.6M1300.2 2905.4V2920.2M1302.5 2898.4V2918.4M1304.3 2912.7V2917.0M1306.2 2881.5V2885.7M1308.4 2841.1V2843.9M1309.9 2839.7V2842.7M1311.5 2834.6V2841.4M1313.9 2833.4V2839.5M1316.1 2833.9V2838.7M1318.0 2834.6V2838.2M1320.3 2830.5V2837.6M1322.4 2827.3V2837.1M1324.5 2833.0V2836.6M1326.1 2823.0V2826.6M1328.6 2800.5V2803.5M1330.2 2794.4V2801.5M1332.3 2803.6V2805.7M1334.2 2805.7V2809.5M1335.8 2808.8V2815.3M1338.1 2878.2V2883.2M1340.4 2863.1V2888.7M1342.7 2867.4V2887.3M1417.0 2836.5V2842.8M1418.6 2830.3V2832.6M1420.7 2803.4V2808.6M1422.9 2798.2V2802.4M1424.9 2807.8V2811.3M1427.4 2817.9V2821.8M1429.7 2840.1V2845.2M1431.2 2861.2V2867.8M1433.3 2868.2V2873.1M1435.7 2868.1V2872.1M1437.5 2866.1V2871.4M1439.2 2872.1V2883.5M1441.2 2901.3V2907.4M1443.6 2905.6V2922.8M1445.6 2931.6V2936.1M1448.1 2940.9V2951.0M1449.7 2954.3V2959.1M1451.8 2941.9V2969.7M1454.2 2899.3V2948.9M1456.6 2894.5V2899.8M1458.8 2887.9V2890.4M1461.0 2881.5V2885.1M1463.2 2868.3V2879.8M1465.3 2861.6V2871.8M1467.5 2855.8V2863.1M1469.5 2851.6V2855.2M1471.9 2764.2V2776.2M1473.6 2739.4V2744.5M1538.8 2846.1V2848.7M1541.3 2797.1V2805.3M1543.6 2786.7V2788.8M1545.8 2798.8V2802.0M1547.7 2810.6V2813.1M1549.7 2819.6V2825.1M1552.0 2844.0V2877.8M1554.0 2899.3V2909.8M1555.5 2882.3V2912.9M1557.7 2907.4V2916.2M1559.3 2879.7V2915.7M1561.7 2893.3V2914.9M1564.1 2873.6V2914.1M1566.3 2905.9V2910.0M1568.7 2886.3V2901.6M1570.2 2891.9V2896.2M1572.0 2885.2V2895.9M1573.8 2894.9V2897.2M1575.5 2886.9V2898.6M1577.9 2890.4V2900.5M1579.8 2848.3V2901.9M1582.1 2880.3V2897.8M1584.2 2867.5V2885.3M1586.6 2865.3V2870.7M1589.0 2856.3V2858.7M1628.7 2911.5V2924.8M1631.1 2827.7V2841.1M1632.9 2831.3V2837.8M1635.0 2838.9V2843.3M1637.5 2845.9V2849.7M1639.9 2891.0V2896.3M1642.2 2928.8V2932.2M1643.8 2901.4V2927.7M1645.4 2915.9V2923.3M1647.5 2914.2V2917.4M1649.3 2910.4V2913.0M1651.6 2897.8V2907.6M1653.8 2898.0V2902.5M1655.8 2894.6V2897.9M1658.1 2904.9V2907.6M1659.8 2913.0V2915.4M1662.1 2926.0V2928.4M1664.5 2909.1V2946.3M1666.2 2954.0V2959.7M1668.0 2953.6V2964.5M1669.7 2963.3V2967.7M1671.5 2958.3V2970.9M1710.6 2909.1V2912.8M1712.3 2904.8V2912.3M1714.2 2909.5V2911.7M1716.7 2893.3V2911.5M1718.5 2904.4V2911.3M1720.1 2906.8V2911.2M1721.6 2907.1V2911.1M1723.3 2908.2V2914.6M1725.1 2914.5V2921.8M1726.7 2925.1V2928.3M1729.2 2931.4V2940.2M1731.3 2919.0V2951.8M1732.8 2946.6V2960.2M1735.0 2960.3V2976.1M1736.9 2979.6V2990.4M1739.1 2980.4V2994.3M1741.0 2946.3V2973.9M1742.9 2951.4V2954.2M1745.2 2931.3V2936.8M1746.8 2923.3V2927.8M1749.0 2913.2V2915.4M1789.4 2923.9V2927.5M1791.7 2931.4V2933.8M1793.8 2892.1V2901.7M1795.7 2868.2V2872.6M1797.2 2846.2V2850.0M1799.4 2817.2V2823.1M1801.8 2823.0V2825.8M1803.7 2824.5V2830.6M1805.3 2825.0V2834.7M1807.0 2836.3V2838.8M1808.8 2909.6V2927.8M1810.4 2904.6V2935.6M1812.1 2930.0V2936.3M1814.0 2928.5V2937.0M1816.1 2914.3V2930.3M1818.3 2891.6V2895.0M1820.4 2884.8V2886.9M1822.0 2877.1V2880.9M1855.3 2776.4V2781.1M1857.6 2780.3V2787.0M1859.3 2777.7V2791.5M1861.7 2792.3V2797.8M1864.1 2834.2V2853.4M1866.5 2909.0V2915.2M1868.5 2927.8V2930.5M1870.2 2929.4V2943.4M1872.4 2930.4V2952.8M1874.6 2932.8V2950.6M1876.4 2939.4V2948.9M1878.6 2873.0V2879.4M1904.5 2928.8V2941.1M1906.2 2902.4V2922.5M1907.8 2890.1V2907.4M1910.1 2874.7V2897.1M1911.8 2876.4V2889.5M1913.6 2874.8V2881.5M1915.6 2880.0V2883.9M1917.3 2880.9V2889.8M1919.1 2867.1V2896.0M1920.9 2887.2V2900.3M1922.4 2900.0V2903.4M1924.2 2869.2V2907.0M1926.1 2857.0V2910.8M1949.4 2855.7V2870.1M1951.9 2850.6V2852.8M1953.9 2846.1V2851.3M1955.7 2843.8V2850.0M1958.1 2833.5V2848.1M1960.2 2855.8V2878.7M1962.4 2917.2V2921.7M1979.0 2897.5V2917.9M1981.4 2870.6V2873.1M1983.4 2824.2V2833.9M1985.1 2796.1V2803.1M1987.3 2792.6V2795.2M1989.1 2793.9V2796.7M2006.3 2902.3V2906.8M2008.1 2895.2V2903.3M2010.5 2883.4V2903.3M2012.6 2891.4V2903.3M2014.9 2895.0V2903.3M2026.5 2806.2V2808.6M2028.3 2770.5V2781.7M2030.7 2750.1V2753.9M2032.3 2744.9V2753.9M2034.1 2748.1V2753.9M2041.6 2808.0V2822.2M2043.7 2802.4V2807.4M2045.8 2804.6V2807.4M2051.8 2773.4V2780.5M2053.5 2772.9V2780.5M2055.6 2773.0V2780.5M2062.8 2826.1V2830.6M2064.5 2855.2V2857.8M2066.2 2854.4V2857.8M2068.5 2854.1V2857.8M2070.3 2854.5V2857.8M2072.2 2869.3V2883.6M2074.6 2913.2V2916.4M2076.4 2924.1V2938.0M2078.7 2933.7V2955.7M2080.5 2966.4V2969.3M2082.4 2966.0V2976.4M2084.3 2926.2V2979.7M2086.2 2971.3V2983.1M2088.0 2972.5V2986.2M2090.0 2962.9V2988.3M2091.6 2977.6V2988.3M2093.7 2985.8V2988.3M2096.0 2975.6V2988.3M2098.5 2978.6V2988.3M2100.8 2975.4V2988.7M2103.0 2981.2V2989.6M2104.7 2968.9V2990.2M2106.5 2984.1V2991.0M2109.0 2985.8V2992.0M2111.0 2945.4V2992.8M2112.9 2979.8V2993.5M2115.3 2983.5V2994.0M2117.6 2991.6V2994.5M2119.8 2980.7V2995.0M2122.0 2955.0V2995.4M2124.5 2954.2V2995.9M2126.6 2985.0V2996.3M2128.6 2991.9V2997.1M2130.9 2990.2V2998.1M2132.5 2992.0V2998.7M2134.3 2990.4V2999.4M2136.0 2951.9V3000.1M2138.2 2947.0V3001.0M2139.7 2998.1V3001.6M2141.7 2991.0V3001.6M2144.0 2998.6V3001.6M2146.4 2978.5V3001.6M2148.0 2975.9V3001.6M2149.7 2995.7V3001.6M2151.9 2995.8V3001.6M2153.5 2984.5V3001.4M2155.6 2997.5V3000.6M2157.5 2989.1V2999.9M2159.5 2992.8V2999.0M2161.6 2994.1V2998.2M2163.4 2943.5V2997.5M2165.2 2970.7V2996.8M2166.9 2985.8V2996.0M2169.0 2973.2V2994.7M2171.2 2989.6V2993.4M2172.9 2971.5V2992.4M2175.2 2954.9V2991.0M2176.9 2971.7V2990.0M2178.4 2986.5V2989.1M2180.8 2975.0V2988.3M2183.0 2954.6V2988.3M2185.4 2977.2V2988.3M2187.4 2979.7V2988.3M2189.0 2985.0V2988.3M2191.4 2934.3V2988.3M2193.9 2983.1V2988.3M2195.8 2961.4V2988.3M2197.5 2976.9V2988.3M2199.9 2982.2V2988.3M2202.1 2978.9V2988.3M2204.5 2974.1V2988.3" fill="none" stroke="#c58316" stroke-width="3.2" stroke-linecap="round"/>
<path d="M217.3 2887.1h0M218.8 2884.5h0M219.6 2837.3h0M221.1 2836.1h0M222.8 2842.0h0M225.0 2844.4h0M224.1 2843.8h0M227.5 2844.8h0M228.6 2873.1h0M228.4 2864.8h0M228.9 2862.3h0M230.8 2857.1h0M231.6 2891.5h0M231.9 2883.5h0M232.6 2892.8h0M235.2 2893.0h0M236.1 2877.0h0M238.5 2891.6h0M239.9 2890.8h0M240.9 2880.1h0M242.4 2894.5h0M241.0 2890.4h0M243.1 2897.2h0M243.7 2891.9h0M246.0 2892.4h0M246.7 2894.6h0M248.6 2895.5h0M248.5 2868.4h0M251.6 2875.5h0M254.1 2875.9h0M255.5 2843.5h0M258.1 2834.3h0M259.1 2845.3h0M259.0 2857.9h0M261.8 2867.2h0M260.2 2848.9h0M262.7 2854.9h0M264.7 2861.0h0M265.6 2857.6h0M267.8 2858.2h0M268.4 2852.2h0M267.5 2852.2h0M271.0 2862.3h0M270.3 2863.1h0M271.5 2843.8h0M273.2 2861.2h0M273.9 2860.6h0M275.8 2860.0h0M277.2 2885.7h0M280.2 2898.1h0M279.9 2873.3h0M282.7 2902.7h0M284.0 2909.2h0M283.2 2861.0h0M285.3 2914.1h0M285.1 2888.8h0M288.0 2890.4h0M289.9 2914.2h0M292.7 2910.1h0M294.8 2910.8h0M296.5 2867.1h0M296.4 2909.7h0M294.8 2902.3h0M297.2 2908.2h0M300.6 2882.9h0M304.4 2848.2h0M303.8 2839.7h0M305.1 2799.7h0M305.2 2797.2h0M305.5 2756.1h0M311.1 2793.2h0M310.0 2792.5h0M312.2 2794.4h0M313.4 2794.4h0M313.6 2798.5h0M315.3 2799.7h0M317.3 2808.9h0M317.9 2800.4h0M320.0 2831.8h0M319.6 2836.9h0M320.6 2867.7h0M323.7 2876.2h0M324.3 2870.4h0M325.9 2890.1h0M327.6 2892.6h0M326.6 2895.6h0M330.5 2865.5h0M330.5 2899.0h0M331.3 2889.9h0M334.6 2892.2h0M335.3 2884.4h0M337.2 2889.5h0M338.1 2866.8h0M339.9 2891.3h0M339.9 2898.6h0M339.7 2845.9h0M342.1 2897.7h0M344.5 2887.7h0M345.5 2878.2h0M346.8 2868.0h0M345.8 2851.0h0M347.7 2844.3h0M351.5 2820.8h0M351.4 2820.1h0M353.1 2798.4h0M354.4 2809.2h0M354.8 2808.1h0M356.0 2817.5h0M356.8 2816.2h0M359.4 2820.6h0M357.8 2818.7h0M360.4 2892.2h0M362.3 2913.6h0M361.7 2916.2h0M365.0 2912.9h0M367.5 2903.9h0M366.4 2893.4h0M369.2 2907.4h0M369.9 2902.9h0M370.0 2895.7h0M371.8 2901.4h0M372.8 2902.3h0M376.7 2906.3h0M378.8 2890.4h0M379.8 2902.5h0M381.8 2908.8h0M384.2 2905.8h0M384.3 2883.6h0M384.6 2907.9h0M387.4 2906.3h0M388.4 2912.9h0M388.8 2896.9h0M390.0 2911.0h0M391.0 2886.1h0M392.9 2908.5h0M393.1 2916.4h0M393.1 2903.2h0M395.8 2919.4h0M396.9 2918.1h0M396.7 2915.0h0M399.8 2917.9h0M400.5 2851.9h0M400.4 2858.5h0M403.3 2830.9h0M404.0 2839.0h0M404.1 2837.5h0M405.0 2827.8h0M406.6 2845.9h0M407.7 2841.0h0M409.8 2852.6h0M409.6 2848.9h0M412.7 2886.9h0M418.9 2918.8h0M417.1 2920.8h0M420.1 2928.4h0M421.1 2903.5h0M424.1 2926.8h0M424.5 2899.7h0M429.5 2891.8h0M430.6 2880.5h0M432.1 2878.9h0M434.1 2866.0h0M434.2 2861.7h0M435.8 2853.6h0M434.5 2837.9h0M438.0 2827.4h0M437.4 2827.1h0M442.4 2809.6h0M442.4 2802.0h0M442.5 2818.0h0M447.0 2843.0h0M449.5 2855.3h0M452.6 2870.1h0M452.4 2857.4h0M452.7 2856.0h0M454.6 2887.9h0M454.3 2868.4h0M455.0 2900.2h0M456.5 2899.6h0M458.3 2913.1h0M457.7 2909.1h0M458.3 2900.6h0M460.3 2891.3h0M459.0 2903.5h0M459.8 2915.0h0M461.1 2929.6h0M461.2 2906.2h0M466.3 2932.8h0M467.6 2938.0h0M468.5 2929.6h0M469.0 2919.1h0M469.5 2916.3h0M470.0 2914.2h0M470.3 2875.8h0M473.8 2897.6h0M473.7 2893.3h0M475.4 2882.8h0M475.1 2882.7h0M478.1 2882.1h0M476.8 2869.0h0M480.2 2879.4h0M479.1 2872.5h0M481.8 2912.0h0M483.9 2899.7h0M484.0 2884.6h0M486.9 2875.1h0M487.0 2869.2h0M487.3 2870.3h0M488.0 2863.9h0M488.8 2862.5h0M490.8 2874.6h0M491.0 2864.4h0M493.5 2860.7h0M495.2 2868.0h0M495.3 2866.3h0M498.4 2887.3h0M499.2 2900.6h0M501.1 2877.1h0M501.0 2899.2h0M503.1 2904.5h0M503.4 2889.9h0M505.2 2896.8h0M505.0 2891.0h0M507.8 2886.1h0M506.7 2878.8h0M508.8 2864.6h0M511.6 2880.6h0M510.8 2869.4h0M515.9 2879.1h0M514.6 2874.7h0M517.0 2880.8h0M518.4 2868.8h0M519.3 2877.3h0M519.4 2866.3h0M520.5 2881.2h0M524.0 2876.5h0M524.6 2875.6h0M526.1 2885.8h0M527.9 2898.0h0M527.8 2878.6h0M529.6 2913.5h0M530.9 2917.6h0M533.1 2915.5h0M533.3 2916.7h0M536.0 2918.6h0M536.0 2915.4h0M537.7 2913.4h0M537.6 2875.9h0M540.8 2902.7h0M539.8 2878.5h0M541.3 2892.8h0M542.9 2895.2h0M544.5 2893.1h0M546.0 2891.4h0M545.8 2884.2h0M547.9 2898.6h0M549.1 2894.2h0M549.2 2870.3h0M551.2 2896.2h0M550.7 2885.2h0M552.7 2895.8h0M552.9 2880.8h0M553.8 2896.1h0M555.6 2911.2h0M557.2 2908.8h0M559.6 2912.1h0M562.9 2858.6h0M563.8 2851.5h0M566.0 2858.0h0M564.7 2856.8h0M566.8 2857.2h0M568.4 2857.2h0M571.8 2855.6h0M571.1 2837.2h0M572.0 2801.1h0M574.4 2844.1h0M573.7 2838.8h0M572.9 2839.5h0M576.5 2817.7h0M576.5 2816.6h0M579.5 2821.8h0M579.3 2816.9h0M808.9 2727.9h0M809.7 2739.5h0M811.4 2735.1h0M813.2 2748.2h0M815.0 2748.6h0M817.6 2841.5h0M817.7 2838.5h0M818.5 2871.8h0M821.2 2886.9h0M822.9 2905.3h0M824.2 2900.3h0M823.8 2883.1h0M824.4 2915.8h0M824.9 2923.6h0M826.5 2923.6h0M828.4 2925.3h0M828.8 2928.0h0M830.4 2934.0h0M830.4 2930.1h0M831.1 2936.1h0M832.4 2931.9h0M833.0 2924.1h0M832.5 2934.8h0M836.1 2913.4h0M839.0 2916.6h0M839.5 2896.8h0M841.6 2868.2h0M841.8 2883.2h0M843.3 2870.0h0M843.0 2865.5h0M847.9 2860.4h0M848.4 2852.9h0M849.3 2867.5h0M851.8 2874.9h0M854.3 2889.6h0M853.3 2892.5h0M856.2 2917.6h0M855.7 2920.4h0M857.4 2934.5h0M859.6 2925.6h0M862.4 2932.1h0M863.4 2931.3h0M863.3 2927.5h0M866.6 2924.8h0M867.3 2930.6h0M870.7 2907.7h0M871.2 2929.6h0M874.0 2930.5h0M876.4 2915.1h0M875.7 2932.4h0M877.6 2926.0h0M880.5 2917.7h0M881.1 2928.4h0M882.9 2900.3h0M881.9 2910.1h0M884.1 2889.2h0M885.7 2885.7h0M886.8 2877.6h0M889.3 2881.8h0M891.1 2878.7h0M891.4 2868.9h0M892.8 2875.9h0M894.9 2867.4h0M895.1 2846.6h0M897.7 2857.7h0M897.5 2859.6h0M898.9 2856.0h0M899.9 2847.0h0M901.4 2853.3h0M900.2 2854.4h0M906.3 2851.8h0M905.0 2842.0h0M905.5 2846.7h0M907.9 2836.6h0M910.6 2834.2h0M911.2 2825.9h0M911.0 2825.7h0M912.2 2815.3h0M914.1 2804.9h0M913.5 2805.8h0M916.3 2783.3h0M917.0 2785.9h0M917.8 2773.2h0M920.9 2775.8h0M920.0 2771.6h0M921.5 2777.6h0M922.5 2758.9h0M923.6 2780.2h0M924.9 2761.4h0M926.9 2784.3h0M925.2 2772.8h0M927.0 2793.2h0M927.7 2792.4h0M930.1 2824.7h0M933.0 2844.5h0M932.3 2826.5h0M935.0 2845.3h0M933.9 2812.9h0M935.4 2855.4h0M936.5 2841.8h0M937.5 2865.0h0M938.8 2856.9h0M938.4 2841.8h0M942.8 2875.2h0M944.4 2882.1h0M948.0 2890.9h0M947.9 2908.9h0M947.7 2898.4h0M949.6 2910.8h0M952.4 2914.2h0M953.3 2910.1h0M954.0 2912.1h0M954.4 2890.0h0M957.1 2919.6h0M957.1 2895.0h0M958.9 2925.0h0M959.2 2921.9h0M957.8 2912.2h0M960.1 2919.7h0M962.9 2886.0h0M966.2 2925.6h0M968.4 2930.0h0M970.1 2916.2h0M971.2 2916.2h0M972.1 2888.6h0M974.1 2922.4h0M973.8 2918.1h0M975.9 2925.8h0M975.3 2912.4h0M974.5 2917.3h0M977.4 2902.7h0M976.9 2910.7h0M979.3 2907.1h0M978.8 2920.3h0M981.4 2916.3h0M983.7 2916.7h0M984.4 2903.8h0M985.0 2870.9h0M986.7 2918.0h0M986.9 2894.7h0M990.1 2920.6h0M993.0 2918.1h0M994.4 2912.9h0M998.0 2933.5h0M999.9 2913.2h0M999.4 2915.3h0M1001.9 2938.6h0M1002.7 2933.6h0M1001.7 2915.2h0M1004.4 2931.1h0M1005.7 2887.1h0M1007.5 2902.8h0M1007.9 2899.4h0M1009.5 2879.0h0M1012.3 2848.2h0M1013.4 2840.3h0M1013.1 2832.8h0M1014.4 2836.1h0M1152.0 2852.1h0M1150.7 2849.2h0M1151.7 2841.3h0M1154.7 2837.0h0M1154.4 2816.0h0M1156.2 2835.4h0M1158.7 2834.6h0M1158.2 2838.8h0M1157.6 2832.1h0M1159.7 2834.0h0M1159.1 2833.9h0M1161.7 2839.8h0M1163.1 2819.8h0M1164.4 2861.0h0M1164.0 2859.0h0M1166.6 2889.6h0M1165.4 2886.3h0M1167.2 2899.2h0M1169.1 2907.1h0M1170.6 2926.2h0M1169.7 2925.2h0M1171.0 2942.8h0M1172.4 2935.9h0M1174.2 2955.2h0M1174.4 2964.2h0M1175.1 2944.9h0M1178.3 2959.7h0M1178.4 2966.0h0M1179.0 2971.3h0M1182.3 2960.3h0M1181.5 2965.9h0M1181.6 2948.2h0M1183.1 2956.9h0M1182.8 2917.6h0M1185.7 2939.1h0M1184.8 2949.8h0M1184.6 2948.5h0M1186.8 2946.9h0M1189.0 2946.8h0M1190.6 2935.1h0M1192.9 2928.9h0M1195.3 2921.1h0M1194.9 2918.6h0M1194.8 2904.4h0M1196.4 2915.3h0M1197.9 2898.4h0M1198.8 2899.4h0M1202.5 2883.3h0M1201.2 2886.9h0M1203.9 2874.0h0M1203.0 2873.5h0M1205.8 2858.3h0M1207.3 2813.0h0M1208.8 2789.9h0M1208.9 2773.8h0M1211.5 2762.6h0M1212.0 2766.2h0M1210.6 2761.0h0M1215.2 2788.8h0M1214.5 2765.4h0M1217.0 2804.1h0M1219.2 2845.7h0M1219.7 2834.4h0M1218.8 2840.0h0M1222.1 2887.4h0M1220.7 2884.2h0M1222.8 2897.7h0M1224.6 2885.9h0M1224.7 2889.7h0M1227.1 2879.2h0M1227.5 2899.1h0M1229.9 2910.0h0M1232.0 2913.4h0M1231.7 2882.2h0M1233.0 2908.2h0M1232.8 2891.6h0M1234.4 2894.8h0M1234.2 2908.9h0M1237.5 2905.0h0M1238.6 2916.0h0M1239.5 2913.4h0M1241.1 2912.0h0M1242.5 2894.4h0M1242.7 2913.3h0M1243.0 2911.4h0M1246.3 2908.4h0M1248.4 2879.0h0M1247.7 2872.9h0M1250.4 2856.4h0M1250.3 2851.8h0M1255.0 2852.8h0M1259.5 2846.0h0M1261.1 2834.2h0M1259.7 2822.4h0M1261.9 2785.0h0M1262.3 2764.9h0M1265.8 2786.7h0M1265.4 2779.5h0M1267.4 2788.3h0M1269.8 2799.9h0M1343.7 2868.3h0M1348.7 2867.8h0M1349.3 2861.7h0M1349.8 2875.9h0M1353.5 2884.1h0M1352.5 2869.8h0M1355.5 2877.2h0M1356.6 2905.4h0M1357.1 2902.0h0M1360.0 2897.3h0M1361.7 2914.7h0M1361.2 2876.8h0M1361.1 2904.2h0M1362.7 2891.5h0M1364.8 2852.4h0M1368.0 2875.1h0M1369.5 2875.7h0M1373.6 2840.6h0M1372.5 2834.2h0M1376.7 2810.7h0M1377.7 2821.6h0M1377.7 2813.2h0M1380.4 2824.4h0M1383.7 2855.7h0M1383.7 2845.9h0M1386.3 2861.4h0M1388.6 2858.4h0M1389.3 2835.4h0M1391.6 2861.3h0M1392.6 2856.5h0M1394.2 2871.0h0M1397.7 2885.7h0M1397.3 2871.9h0M1397.3 2879.7h0M1397.9 2889.1h0M1401.0 2892.8h0M1403.4 2908.3h0M1402.0 2916.4h0M1404.9 2917.9h0M1407.1 2926.7h0M1407.9 2921.1h0M1411.0 2892.0h0M1412.7 2855.4h0M1414.3 2834.9h0M1475.5 2761.7h0M1474.3 2757.3h0M1474.8 2752.3h0M1477.5 2817.0h0M1477.7 2807.5h0M1478.1 2878.3h0M1480.2 2921.9h0M1482.6 2922.9h0M1484.4 2928.1h0M1484.7 2927.1h0M1486.3 2933.8h0M1488.9 2926.9h0M1490.6 2921.3h0M1493.8 2943.9h0M1497.9 2942.7h0M1497.1 2925.6h0M1500.0 2932.6h0M1500.2 2945.4h0M1501.2 2908.7h0M1501.8 2943.7h0M1503.0 2941.4h0M1504.3 2937.5h0M1503.9 2927.1h0M1504.0 2909.3h0M1508.4 2938.0h0M1508.7 2897.0h0M1509.4 2896.7h0M1510.7 2942.0h0M1511.5 2919.8h0M1511.8 2916.1h0M1513.9 2931.0h0M1513.7 2926.5h0M1516.3 2933.5h0M1515.0 2929.5h0M1517.3 2931.4h0M1521.1 2944.7h0M1521.0 2921.0h0M1521.6 2944.5h0M1521.6 2927.2h0M1521.4 2938.5h0M1524.7 2936.4h0M1526.3 2936.2h0M1525.6 2925.9h0M1529.9 2909.1h0M1535.8 2884.8h0M1537.1 2860.3h0M1590.4 2848.8h0M1591.6 2843.2h0M1593.6 2857.5h0M1592.7 2852.1h0M1594.8 2860.1h0M1595.4 2840.4h0M1595.6 2842.3h0M1598.7 2863.3h0M1599.8 2868.9h0M1601.1 2859.6h0M1602.2 2893.3h0M1605.4 2890.0h0M1605.5 2879.4h0M1606.1 2889.2h0M1607.1 2888.4h0M1607.9 2882.5h0M1610.9 2892.7h0M1613.1 2844.5h0M1615.3 2896.0h0M1615.1 2868.5h0M1616.2 2884.8h0M1615.6 2885.6h0M1619.1 2894.0h0M1619.2 2872.2h0M1619.4 2890.6h0M1619.5 2884.1h0M1621.6 2886.9h0M1624.7 2867.3h0M1626.4 2897.6h0M1673.1 2930.4h0M1675.2 2894.4h0M1677.3 2888.1h0M1678.0 2886.0h0M1681.6 2883.2h0M1682.6 2901.2h0M1683.9 2895.8h0M1685.7 2956.6h0M1687.0 2928.0h0M1687.3 2949.4h0M1688.2 2949.7h0M1687.8 2927.1h0M1692.8 2942.0h0M1693.1 2919.8h0M1695.3 2875.3h0M1697.2 2854.2h0M1699.2 2849.2h0M1699.1 2842.4h0M1700.1 2861.7h0M1704.5 2881.4h0M1706.3 2877.4h0M1709.0 2890.4h0M1708.6 2888.6h0M1708.2 2885.2h0M1751.5 2892.9h0M1753.8 2885.5h0M1755.9 2879.7h0M1755.1 2881.4h0M1756.7 2872.0h0M1758.2 2852.9h0M1760.0 2845.9h0M1761.8 2837.6h0M1762.3 2834.5h0M1762.9 2819.0h0M1765.5 2799.0h0M1766.8 2819.4h0M1767.2 2816.4h0M1770.3 2817.2h0M1770.2 2818.4h0M1772.1 2822.0h0M1772.1 2803.7h0M1773.7 2832.5h0M1774.9 2829.5h0M1777.4 2844.8h0M1776.3 2829.2h0M1778.0 2859.8h0M1779.4 2849.6h0M1780.8 2876.6h0M1780.6 2847.9h0M1783.2 2877.4h0M1784.6 2890.4h0M1785.3 2854.8h0M1785.3 2876.4h0M1787.5 2893.2h0M1787.6 2887.6h0M1786.8 2858.7h0M1823.3 2861.4h0M1824.2 2861.6h0M1825.6 2856.1h0M1825.9 2860.2h0M1828.3 2862.3h0M1828.9 2858.7h0M1829.1 2859.9h0M1830.3 2845.2h0M1831.1 2859.7h0M1831.1 2858.5h0M1832.9 2873.7h0M1834.0 2875.6h0M1835.1 2905.3h0M1836.5 2908.8h0M1837.1 2910.6h0M1838.9 2923.7h0M1839.6 2921.4h0M1840.6 2911.8h0M1842.2 2929.1h0M1840.7 2913.3h0M1847.7 2905.5h0M1846.9 2904.9h0M1849.7 2894.9h0M1852.7 2885.1h0M1852.5 2886.5h0M1880.9 2834.5h0M1879.9 2826.3h0M1882.1 2819.2h0M1883.8 2809.5h0M1884.8 2791.9h0M1886.9 2813.0h0M1887.5 2805.7h0M1886.1 2807.2h0M1889.5 2808.9h0M1889.0 2814.3h0M1888.2 2801.4h0M1891.3 2820.6h0M1893.4 2824.8h0M1893.2 2819.1h0M1893.5 2817.8h0M1894.4 2824.7h0M1895.2 2841.5h0M1896.3 2830.3h0M1897.7 2861.9h0M1901.2 2882.8h0M1902.2 2899.4h0M1902.8 2896.8h0M1928.1 2834.5h0M1929.1 2830.0h0M1927.9 2828.3h0M1931.3 2837.7h0M1933.5 2832.1h0M1934.4 2838.2h0M1937.6 2838.6h0M1937.6 2835.7h0M1941.2 2889.0h0M1940.9 2862.7h0M1941.8 2878.2h0M1942.4 2882.6h0M1942.8 2842.0h0M1944.2 2867.1h0M1944.2 2856.9h0M1947.9 2868.8h0M1947.6 2866.5h0M1964.3 2828.2h0M1966.0 2810.7h0M1966.3 2809.3h0M1968.2 2805.5h0M1971.5 2802.5h0M1971.7 2800.5h0M1972.8 2776.4h0M1973.8 2775.4h0M1978.3 2761.2h0M1977.7 2745.3h0M1991.4 2853.5h0M1990.9 2844.6h0M1991.6 2905.5h0M1995.6 2896.3h0M1995.0 2908.9h0M1994.7 2888.6h0M1996.0 2885.0h0M1998.5 2905.8h0M2000.1 2889.4h0M2000.6 2903.6h0M2001.1 2906.9h0M2004.2 2893.2h0M2003.5 2884.2h0M2016.4 2853.4h0M2018.4 2840.2h0M2018.7 2821.4h0M2018.7 2824.7h0M2021.0 2838.7h0M2022.9 2833.9h0M2022.7 2824.1h0M2025.2 2837.4h0M2025.2 2835.4h0M2035.1 2788.8h0M2036.2 2788.9h0M2036.1 2786.8h0M2040.7 2812.6h0M2039.8 2800.2h0M2047.7 2769.4h0M2049.9 2765.6h0M2050.1 2761.2h0M2057.8 2806.6h0M2058.2 2812.1h0M2059.7 2796.9h0M2060.5 2803.0h0M2060.4 2801.2h0M2207.7 2930.0h0M2206.3 2938.9h0M2206.1 2913.6h0M2210.8 2931.1h0M2212.7 2935.8h0M2212.7 2903.3h0M2216.5 2943.5h0M2214.7 2933.3h0M2218.2 2935.8h0M2219.5 2915.0h0M2219.8 2907.3h0M2220.4 2905.3h0M2221.2 2884.3h0M2220.4 2887.3h0M2220.5 2880.1h0M2222.3 2844.4h0M2225.6 2844.7h0M2227.8 2850.3h0M2227.8 2851.2h0M2229.7 2857.3h0M2230.4 2842.5h0M2232.9 2851.8h0M2233.4 2874.1h0M2235.2 2886.8h0M2236.1 2891.3h0M2237.2 2894.2h0M2237.9 2902.2h0M2238.8 2873.3h0M2241.2 2883.8h0M2242.4 2871.4h0M2242.6 2870.1h0M2243.7 2867.4h0M2245.3 2872.7h0M2245.5 2860.8h0M2250.1 2870.5h0M2250.4 2867.3h0M2251.1 2860.4h0M2254.1 2853.2h0M2254.4 2871.7h0M2257.1 2871.7h0M2256.2 2870.6h0M2256.9 2860.7h0M2259.2 2866.0h0M2258.8 2857.0h0M2260.2 2865.9h0M2261.3 2859.6h0M2261.6 2823.5h0M2262.7 2889.9h0M2264.8 2902.3h0M2264.9 2877.3h0M2267.9 2900.6h0M2271.1 2875.6h0M2274.0 2855.3h0M2274.8 2835.7h0M2273.9 2832.8h0M2276.3 2850.1h0M2279.8 2879.1h0M2280.2 2872.7h0M2280.5 2878.5h0M2280.8 2865.6h0M2283.4 2877.6h0M2283.6 2876.2h0M2285.1 2847.3h0M2284.5 2874.7h0M2286.7 2873.8h0M2286.9 2824.2h0M2289.0 2872.7h0M2288.3 2867.5h0M2288.9 2860.3h0M2290.5 2852.8h0M2291.2 2848.6h0M2293.1 2865.2h0M2294.2 2852.2h0M2294.7 2840.7h0M2297.2 2860.2h0M2299.3 2837.2h0M2302.7 2812.2h0M2301.3 2814.5h0M2301.3 2810.1h0M2306.5 2766.6h0M2307.2 2752.9h0M2307.6 2752.4h0M2310.8 2750.0h0M2309.9 2746.2h0M2312.6 2771.2h0M2312.9 2776.5h0M2314.9 2798.2h0M2314.2 2797.3h0M2316.2 2808.4h0M2315.3 2803.6h0M2317.6 2806.4h0M2320.9 2844.5h0M2324.6 2861.3h0M2324.7 2853.6h0M2326.8 2828.5h0M2330.0 2861.3h0M242.6 2714.1h0M242.6 2748.4h0M242.6 2785.7h0M233.3 2807.0h0M223.4 2771.9h0M223.4 2782.5h0M223.4 2793.2h0M223.4 2803.8h0M223.4 2814.5h0M223.4 2825.1h0M275.1 2761.2h0M313.7 2751.4h0M311.3 2783.8h0M289.2 2792.4h0M289.2 2807.0h0M289.2 2819.8h0M405.1 2760.4h0M405.1 2803.8h0M355.3 2790.5h0M355.3 2795.8h0M384.6 2793.2h0M384.6 2805.2h0M384.6 2813.1h0M384.6 2823.0h0M384.6 2833.7h0M384.6 2855.8h0M442.4 2787.8h0M339.8 2833.9h0M347.8 2843.2h0M372.6 2842.4h0M374.5 2853.1h0M406.4 2831.8h0M406.4 2843.8h0M454.4 2827.8h0M454.4 2863.0h0M242.6 2842.4h0M241.3 2846.4h0M241.3 2862.4h0M241.3 2869.1h0M270.6 2852.3h0M281.2 2863.8h0M287.9 2868.3h0M233.3 2857.1h0M323.8 2854.4h0M303.9 2847.8h0M339.8 2869.1h0M386.4 2871.7h0M390.4 2873.1h0M391.8 2889.1h0M368.3 2886.4h0M368.3 2890.4h0M395.8 2899.7h0M386.4 2905.0h0M426.4 2902.4h0M333.2 2895.7h0M339.8 2894.4h0M287.9 2886.4h0M287.9 2907.7h0M514.3 2833.1h0M511.1 2849.6h0M567.6 2811.3h0M567.6 2834.5h0M578.2 2826.5h0M511.6 2875.7h0M490.3 2881.1h0M546.2 2878.4h0M555.6 2878.4h0M501.0 2895.7h0M477.0 2889.1h0M811.8 2664.5h0M811.8 2715.9h0M922.9 2729.2h0M858.9 2773.2h0M898.9 2819.0h0M821.1 2825.7h0M821.1 2851.2h0M821.1 2865.1h0M821.1 2873.1h0M821.1 2879.7h0M848.5 2859.2h0M849.1 2867.7h0M968.1 2864.6h0M890.9 2872.3h0M914.3 2783.8h0M835.8 2883.7h0M835.8 2897.0h0M835.8 2910.4h0M871.7 2896.5h0M867.7 2909.0h0M867.7 2915.7h0M871.7 2927.7h0M858.4 2923.7h0M950.3 2886.4h0M946.3 2905.0h0M954.3 2911.7h0M982.3 2902.4h0M999.6 2906.4h0M988.9 2915.7h0M1157.2 2794.5h0M1193.2 2799.3h0M1193.2 2819.8h0M1213.2 2735.9h0M1214.5 2741.2h0M1213.2 2755.9h0M1213.2 2771.9h0M1266.4 2738.0h0M1266.4 2746.6h0M1266.4 2761.2h0M1266.4 2767.9h0M1266.4 2775.9h0M1253.7 2827.8h0M1227.8 2865.6h0M1239.3 2862.4h0M1234.5 2877.1h0M1239.3 2891.7h0M1193.2 2877.1h0M1195.9 2889.1h0M1195.9 2899.7h0M1194.5 2918.4h0M1182.5 2925.0h0M1231.8 2905.0h0M1238.5 2910.4h0M1378.3 2681.3h0M1378.3 2690.6h0M1378.3 2700.0h0M1378.3 2713.3h0M1378.3 2730.6h0M1378.3 2742.6h0M1378.3 2759.9h0M1378.3 2766.5h0M1378.3 2777.2h0M1378.3 2785.2h0M1378.3 2806.5h0M1378.3 2814.5h0M1393.8 2755.9h0M1387.6 2791.0h0M1395.1 2825.7h0M1367.7 2827.8h0M1354.3 2838.5h0M1354.3 2843.8h0M1367.7 2851.8h0M1366.3 2862.4h0M1349.0 2865.1h0M1487.5 2864.3h0M1492.3 2897.0h0M1511.5 2890.4h0M1516.8 2891.7h0M1480.8 2924.5h0M1490.2 2931.7h0M1499.5 2931.7h0M1516.8 2939.7h0M1523.2 2837.9h0M1522.7 2929.0h0M1609.2 2785.2h0M1609.2 2797.2h0M1618.0 2816.3h0M1609.2 2831.3h0M1609.2 2843.0h0M1610.6 2863.8h0M1626.0 2872.3h0M1609.2 2874.4h0M1609.2 2881.1h0M1609.2 2889.1h0M1698.5 2825.7h0M1678.5 2858.4h0M1700.6 2858.4h0M1678.5 2894.4h0M1681.1 2905.0h0M1681.1 2918.4h0M1691.8 2947.7h0M1773.6 2751.4h0M1765.6 2775.9h0M1771.7 2791.0h0M1765.0 2795.8h0M1771.7 2807.8h0M1778.4 2814.5h0M1785.5 2856.6h0M1785.0 2866.4h0M1785.0 2873.1h0M1829.8 2811.8h0M1829.8 2823.8h0M1829.0 2845.1h0M1850.3 2843.2h0M1842.3 2877.1h0M1838.3 2887.7h0M1846.3 2889.1h0M1846.3 2909.0h0M1843.6 2926.3h0M1889.7 2786.0h0M1889.7 2795.8h0M1888.9 2805.2h0M1942.2 2784.4h0M1935.5 2814.5h0M1940.8 2818.5h0M1935.5 2826.5h0M1946.2 2879.7h0M2228.2 2682.6h0M2308.9 2684.5h0M2308.9 2696.5h0M2307.6 2700.0h0M2308.9 2708.7h0M2254.3 2730.0h0M2263.1 2756.4h0M2263.1 2768.4h0M2211.7 2767.1h0M2308.9 2753.8h0M2227.7 2786.5h0M2227.7 2798.5h0M2231.6 2805.2h0M2285.4 2782.5h0M2275.1 2793.2h0M2287.6 2804.6h0M2227.7 2821.1h0M2229.0 2829.1h0M2212.2 2828.3h0M2246.3 2825.7h0M2249.0 2834.5h0M2263.1 2835.0h0M2274.3 2826.5h0M2274.3 2830.5h0M2288.9 2827.3h0M2322.2 2798.5h0M2322.2 2818.5h0M2322.2 2822.5h0M2322.2 2835.8h0M2227.7 2843.8h0M2246.3 2857.1h0M2258.3 2856.6h0M2275.6 2843.8h0M2283.6 2858.4h0M2296.9 2841.1h0M2323.5 2851.8h0M2211.1 2893.1h0M2211.1 2901.0h0M2211.1 2909.0h0M2211.1 2923.7h0M2211.1 2931.7h0M2228.0 2655.0h0M2052.4 2774.5V2953.0M2054.0 2774.5V2953.0" fill="none" stroke="#1f2f60" stroke-width="5.8" stroke-linecap="round"/>
<path d="M581.5 2836.6h0M583.5 2849.4h0M583.8 2836.1h0M585.7 2878.7h0M588.0 2895.0h0M588.5 2857.5h0M591.2 2904.5h0M592.0 2904.0h0M591.7 2893.7h0M595.6 2911.3h0M596.3 2894.6h0M599.8 2902.7h0M598.1 2860.0h0M598.5 2897.1h0M600.9 2880.9h0M600.4 2893.4h0M603.7 2883.3h0M604.1 2883.9h0M606.0 2871.0h0M606.6 2858.5h0M609.0 2836.8h0M611.4 2853.8h0M615.0 2858.6h0M616.9 2862.6h0M619.3 2863.1h0M619.2 2866.1h0M618.7 2862.6h0M620.1 2855.2h0M620.3 2873.1h0M623.8 2862.1h0M623.7 2869.0h0M624.6 2885.6h0M625.5 2878.7h0M629.1 2895.3h0M628.3 2899.1h0M628.4 2885.9h0M630.8 2891.4h0M629.7 2895.5h0M630.8 2848.7h0M634.4 2864.7h0M635.7 2857.1h0M636.8 2853.3h0M636.8 2850.3h0M636.7 2850.7h0M638.2 2848.0h0M637.7 2849.4h0M641.1 2843.4h0M642.4 2840.5h0M642.2 2845.4h0M643.8 2845.4h0M646.1 2845.2h0M646.1 2831.2h0M648.3 2840.6h0M648.8 2843.3h0M650.3 2843.3h0M652.2 2853.5h0M651.7 2853.5h0M653.6 2819.6h0M656.0 2861.8h0M654.9 2865.7h0M657.2 2887.8h0M656.9 2881.4h0M658.7 2909.7h0M660.9 2920.2h0M663.6 2901.5h0M664.2 2924.9h0M665.1 2925.1h0M664.7 2922.3h0M667.0 2931.0h0M668.1 2921.7h0M669.0 2917.8h0M668.4 2928.1h0M671.1 2923.8h0M672.6 2934.6h0M672.1 2893.4h0M675.0 2935.3h0M677.0 2926.3h0M677.6 2916.7h0M680.6 2938.1h0M681.4 2928.4h0M681.9 2932.7h0M684.6 2927.7h0M684.5 2909.6h0M684.3 2909.8h0M686.4 2904.5h0M686.4 2887.2h0M685.4 2896.2h0M688.7 2896.3h0M687.2 2909.0h0M689.8 2907.0h0M690.9 2900.3h0M692.3 2899.9h0M693.3 2892.7h0M696.5 2885.9h0M696.5 2887.1h0M698.3 2892.1h0M699.4 2894.4h0M701.0 2876.6h0M702.8 2892.9h0M704.6 2886.0h0M707.1 2901.9h0M706.7 2882.7h0M710.1 2872.5h0M710.2 2851.8h0M711.9 2862.9h0M713.8 2860.9h0M714.6 2861.7h0M714.4 2857.7h0M715.9 2862.1h0M715.3 2865.2h0M718.2 2861.2h0M718.1 2859.9h0M719.2 2859.8h0M720.1 2856.5h0M724.5 2886.0h0M726.6 2871.8h0M727.2 2845.1h0M728.4 2847.8h0M730.6 2841.2h0M730.3 2840.5h0M730.8 2832.6h0M732.7 2823.0h0M734.1 2847.0h0M733.3 2843.8h0M736.4 2839.5h0M735.0 2828.9h0M740.5 2844.3h0M741.2 2848.2h0M740.8 2834.1h0M741.1 2818.5h0M744.1 2839.9h0M744.2 2838.4h0M745.8 2861.8h0M747.2 2896.0h0M747.4 2899.0h0M748.2 2906.6h0M749.8 2906.7h0M751.8 2912.0h0M750.9 2877.5h0M753.7 2899.2h0M755.0 2918.0h0M755.6 2903.6h0M757.0 2903.8h0M758.7 2903.1h0M758.2 2903.3h0M758.2 2889.2h0M760.8 2873.7h0M760.4 2870.4h0M762.8 2847.9h0M763.4 2840.3h0M764.6 2841.1h0M765.1 2840.5h0M766.5 2837.8h0M767.7 2835.2h0M770.2 2848.4h0M770.0 2844.3h0M772.4 2846.9h0M772.9 2856.2h0M774.8 2867.0h0M777.8 2867.1h0M777.6 2876.0h0M781.7 2883.5h0M781.8 2880.8h0M781.4 2852.9h0M783.0 2899.9h0M782.6 2863.0h0M785.4 2884.8h0M784.6 2869.7h0M787.2 2891.9h0M786.7 2879.7h0M789.6 2908.1h0M789.7 2903.0h0M791.8 2913.9h0M794.0 2883.9h0M795.9 2910.1h0M796.1 2885.0h0M795.7 2886.7h0M797.9 2903.3h0M796.7 2897.8h0M800.0 2889.8h0M798.6 2894.5h0M798.3 2878.7h0M801.6 2856.7h0M801.1 2852.5h0M802.5 2766.2h0M802.7 2769.6h0M804.0 2758.6h0M803.9 2743.5h0M804.5 2743.7h0M1015.3 2840.0h0M1016.6 2833.7h0M1020.4 2836.0h0M1022.0 2835.3h0M1021.6 2815.4h0M1023.6 2835.8h0M1023.8 2834.0h0M1024.6 2828.7h0M1026.6 2833.7h0M1025.9 2829.8h0M1026.6 2830.2h0M1028.6 2836.2h0M1029.5 2831.2h0M1030.6 2838.4h0M1031.6 2832.6h0M1033.5 2837.4h0M1033.3 2836.4h0M1033.8 2828.8h0M1034.7 2831.1h0M1035.0 2835.4h0M1036.5 2853.9h0M1036.3 2839.4h0M1036.9 2893.7h0M1039.5 2902.2h0M1039.5 2897.4h0M1039.3 2900.7h0M1042.0 2912.8h0M1041.7 2897.0h0M1043.7 2914.1h0M1046.3 2915.1h0M1048.1 2914.4h0M1047.7 2899.8h0M1052.0 2917.6h0M1051.8 2921.2h0M1053.3 2922.0h0M1053.9 2911.4h0M1056.2 2922.1h0M1057.6 2900.0h0M1057.8 2897.3h0M1056.4 2912.4h0M1058.9 2916.0h0M1062.9 2925.0h0M1063.7 2924.8h0M1062.7 2912.5h0M1065.4 2922.5h0M1067.6 2920.0h0M1067.3 2916.8h0M1069.8 2918.3h0M1071.4 2914.7h0M1072.8 2917.4h0M1074.6 2921.7h0M1074.0 2916.0h0M1077.0 2922.9h0M1077.6 2917.7h0M1079.5 2935.5h0M1079.8 2903.3h0M1080.7 2942.2h0M1080.4 2943.5h0M1081.2 2932.9h0M1082.9 2923.9h0M1082.8 2906.0h0M1086.9 2931.8h0M1087.9 2890.3h0M1088.5 2936.8h0M1089.6 2923.5h0M1091.9 2902.1h0M1091.0 2931.4h0M1094.7 2893.9h0M1095.4 2936.5h0M1095.5 2928.3h0M1096.4 2931.5h0M1097.6 2933.9h0M1098.2 2922.9h0M1100.0 2934.5h0M1103.2 2915.3h0M1102.7 2925.3h0M1103.3 2923.5h0M1103.2 2926.5h0M1104.5 2918.0h0M1106.7 2923.1h0M1107.0 2921.5h0M1107.9 2921.7h0M1107.8 2923.5h0M1109.1 2905.4h0M1111.9 2916.9h0M1113.1 2917.6h0M1115.2 2913.2h0M1114.8 2916.9h0M1116.5 2913.7h0M1120.1 2896.7h0M1119.9 2894.2h0M1119.8 2893.2h0M1121.5 2907.1h0M1121.2 2901.6h0M1123.5 2902.7h0M1126.1 2905.7h0M1126.2 2903.9h0M1126.5 2908.8h0M1127.8 2907.8h0M1128.9 2907.9h0M1130.5 2906.5h0M1130.6 2899.5h0M1133.4 2896.4h0M1135.0 2903.8h0M1134.9 2869.4h0M1137.8 2898.6h0M1139.7 2897.4h0M1145.2 2859.3h0M1147.7 2853.6h0M1149.2 2856.5h0M1149.1 2853.5h0M1270.7 2823.0h0M1270.6 2812.8h0M1273.4 2842.7h0M1274.1 2858.1h0M1274.3 2848.5h0M1274.9 2868.4h0M1276.2 2868.5h0M1278.0 2869.0h0M1279.1 2846.1h0M1279.7 2855.7h0M1283.3 2854.3h0M1285.2 2872.3h0M1285.5 2871.1h0M1286.2 2841.5h0M1287.2 2874.8h0M1286.8 2839.5h0M1289.1 2880.2h0M1292.2 2880.5h0M1292.5 2875.0h0M1294.6 2875.8h0M1294.6 2875.0h0M1295.6 2889.8h0M1296.9 2881.6h0M1297.6 2886.8h0M1298.1 2889.7h0M1300.8 2886.8h0M1300.8 2876.9h0M1302.8 2886.0h0M1303.6 2872.5h0M1305.4 2860.4h0M1305.2 2835.4h0M1308.1 2829.3h0M1309.0 2831.7h0M1309.7 2829.0h0M1310.8 2827.9h0M1311.9 2822.0h0M1311.3 2821.1h0M1313.9 2824.2h0M1315.1 2815.7h0M1317.9 2825.7h0M1317.4 2825.1h0M1319.6 2824.2h0M1322.6 2821.2h0M1325.3 2812.8h0M1325.9 2805.6h0M1325.9 2809.9h0M1329.4 2784.5h0M1328.1 2767.7h0M1330.0 2788.0h0M1331.5 2791.5h0M1334.8 2797.5h0M1333.6 2793.2h0M1336.3 2801.6h0M1337.8 2840.6h0M1337.5 2836.0h0M1342.1 2867.4h0M1342.7 2865.6h0M1416.3 2817.1h0M1417.6 2817.1h0M1418.1 2810.9h0M1421.3 2797.5h0M1423.1 2779.8h0M1424.8 2798.7h0M1425.5 2793.7h0M1427.9 2810.4h0M1427.3 2800.3h0M1427.7 2803.3h0M1429.5 2823.0h0M1430.4 2828.2h0M1430.9 2853.1h0M1433.3 2859.2h0M1433.7 2852.6h0M1435.3 2857.7h0M1439.1 2871.6h0M1439.6 2861.5h0M1441.0 2889.1h0M1443.2 2904.8h0M1446.4 2911.4h0M1446.4 2907.9h0M1448.1 2923.0h0M1448.5 2895.8h0M1450.2 2927.4h0M1453.3 2919.2h0M1456.0 2880.9h0M1456.6 2878.0h0M1459.3 2870.6h0M1458.8 2868.6h0M1459.7 2865.4h0M1460.6 2857.3h0M1461.5 2867.2h0M1464.6 2860.6h0M1465.2 2856.2h0M1465.5 2847.2h0M1468.4 2836.4h0M1467.3 2840.1h0M1467.0 2846.2h0M1469.4 2836.4h0M1472.0 2762.8h0M1474.5 2731.8h0M1474.4 2728.1h0M1539.0 2829.2h0M1540.7 2792.6h0M1541.0 2779.9h0M1540.6 2788.7h0M1543.9 2777.8h0M1543.4 2776.6h0M1546.5 2789.1h0M1547.7 2802.1h0M1548.6 2797.6h0M1547.2 2784.1h0M1550.4 2808.0h0M1552.8 2843.2h0M1552.4 2847.5h0M1554.5 2872.1h0M1553.3 2879.2h0M1553.5 2862.3h0M1555.6 2854.6h0M1559.7 2886.1h0M1561.6 2883.2h0M1563.2 2886.2h0M1563.9 2880.8h0M1566.7 2856.7h0M1567.2 2870.2h0M1567.7 2853.9h0M1569.4 2869.0h0M1569.3 2865.9h0M1572.5 2867.2h0M1572.2 2856.5h0M1571.0 2849.3h0M1573.8 2870.5h0M1573.5 2870.6h0M1575.8 2858.7h0M1575.2 2869.0h0M1577.1 2870.6h0M1580.0 2838.2h0M1582.6 2868.9h0M1581.3 2829.7h0M1585.0 2853.6h0M1586.8 2834.1h0M1589.2 2838.0h0M1588.2 2837.1h0M1629.6 2898.6h0M1629.5 2895.5h0M1632.8 2814.5h0M1635.8 2827.6h0M1635.3 2810.1h0M1640.3 2864.1h0M1642.6 2905.3h0M1641.7 2899.6h0M1642.8 2879.8h0M1645.4 2888.0h0M1644.7 2869.7h0M1645.6 2874.9h0M1648.2 2851.0h0M1649.1 2891.6h0M1650.1 2890.5h0M1650.0 2858.2h0M1650.7 2890.7h0M1651.7 2884.9h0M1653.4 2885.7h0M1654.1 2880.1h0M1654.8 2883.4h0M1656.6 2885.6h0M1654.9 2878.4h0M1657.7 2892.8h0M1658.0 2891.3h0M1660.5 2901.6h0M1659.1 2899.0h0M1662.8 2910.7h0M1665.3 2907.8h0M1666.7 2926.5h0M1667.6 2922.2h0M1669.9 2936.1h0M1671.1 2943.2h0M1710.0 2879.0h0M1711.4 2861.9h0M1711.1 2863.6h0M1713.9 2892.2h0M1713.3 2890.9h0M1717.4 2893.0h0M1719.1 2894.4h0M1719.2 2891.6h0M1717.9 2890.0h0M1719.7 2896.0h0M1721.0 2891.8h0M1722.3 2895.9h0M1723.3 2900.6h0M1724.3 2901.7h0M1725.5 2909.4h0M1725.5 2904.2h0M1725.6 2879.0h0M1726.2 2897.8h0M1728.3 2922.7h0M1730.9 2925.6h0M1731.5 2919.6h0M1733.0 2933.0h0M1731.9 2917.9h0M1735.4 2940.5h0M1736.5 2962.8h0M1737.3 2951.5h0M1739.9 2963.2h0M1738.9 2950.6h0M1739.6 2944.4h0M1741.9 2939.0h0M1741.0 2943.5h0M1742.2 2922.9h0M1743.0 2916.2h0M1745.6 2894.6h0M1746.0 2903.3h0M1747.1 2887.6h0M1790.1 2884.0h0M1788.8 2887.0h0M1788.7 2887.6h0M1791.7 2891.8h0M1796.5 2854.5h0M1796.2 2849.2h0M1797.0 2837.8h0M1797.9 2826.5h0M1798.9 2804.9h0M1798.7 2803.2h0M1801.9 2812.5h0M1801.5 2803.4h0M1803.1 2816.9h0M1803.1 2812.0h0M1804.4 2822.0h0M1807.6 2822.1h0M1808.9 2873.1h0M1809.5 2899.2h0M1811.1 2903.0h0M1813.1 2890.3h0M1811.2 2899.1h0M1812.0 2896.2h0M1813.7 2862.0h0M1815.3 2851.0h0M1816.7 2882.8h0M1817.6 2859.0h0M1817.4 2863.6h0M1819.6 2864.8h0M1819.5 2864.6h0M1821.1 2860.6h0M1854.6 2767.7h0M1854.6 2768.3h0M1857.7 2775.0h0M1857.9 2746.9h0M1858.9 2779.8h0M1858.6 2770.5h0M1860.8 2778.2h0M1865.0 2835.8h0M1865.0 2837.3h0M1865.9 2892.8h0M1869.3 2905.7h0M1869.3 2894.8h0M1869.4 2868.5h0M1869.7 2911.8h0M1870.0 2899.4h0M1871.7 2919.2h0M1875.3 2911.7h0M1874.9 2874.4h0M1876.3 2921.7h0M1878.7 2864.2h0M1878.5 2860.3h0M1879.5 2848.6h0M1904.4 2908.3h0M1904.0 2888.6h0M1905.7 2890.8h0M1907.1 2877.8h0M1906.9 2865.6h0M1909.8 2870.0h0M1909.8 2863.6h0M1910.9 2858.7h0M1914.2 2866.9h0M1915.7 2863.8h0M1916.5 2873.6h0M1918.9 2872.7h0M1920.4 2875.0h0M1920.5 2867.3h0M1922.2 2867.1h0M1923.3 2861.6h0M1924.1 2881.3h0M1925.6 2883.6h0M1925.1 2878.4h0M1949.8 2847.0h0M1951.3 2835.1h0M1951.2 2823.6h0M1951.0 2827.0h0M1953.2 2834.7h0M1953.7 2830.7h0M1955.6 2833.0h0M1955.4 2810.1h0M1958.0 2833.3h0M1960.3 2853.5h0M1960.8 2830.9h0M1962.4 2853.6h0M1963.2 2881.0h0M1978.7 2888.2h0M1981.4 2851.4h0M1982.0 2850.0h0M1983.7 2816.4h0M1983.3 2807.8h0M1982.7 2811.8h0M1985.2 2789.9h0M1985.2 2790.1h0M1986.8 2768.0h0M1988.9 2779.5h0M1989.0 2783.8h0M2007.3 2875.4h0M2006.6 2869.5h0M2009.1 2882.0h0M2011.0 2883.7h0M2010.2 2872.2h0M2012.7 2883.6h0M2012.8 2862.3h0M2013.1 2874.3h0M2014.9 2882.1h0M2015.6 2862.4h0M2026.5 2788.8h0M2028.5 2769.0h0M2029.9 2742.1h0M2032.8 2734.6h0M2032.0 2737.4h0M2031.8 2732.7h0M2034.0 2739.3h0M2044.2 2785.3h0M2043.4 2755.7h0M2045.6 2780.3h0M2045.1 2778.6h0M2051.2 2768.4h0M2052.6 2767.9h0M2053.1 2766.7h0M2056.2 2768.7h0M2056.3 2767.0h0M2062.8 2818.1h0M2063.2 2817.1h0M2065.2 2845.9h0M2065.0 2838.6h0M2065.7 2838.5h0M2069.3 2845.7h0M2067.7 2821.6h0M2068.2 2828.8h0M2069.5 2846.3h0M2070.7 2835.3h0M2069.9 2835.6h0M2071.6 2850.2h0M2072.1 2862.2h0M2074.5 2902.8h0M2075.3 2901.7h0M2074.5 2891.6h0M2076.6 2922.5h0M2076.4 2918.8h0M2079.3 2926.7h0M2078.4 2867.1h0M2080.8 2887.9h0M2079.8 2901.3h0M2081.8 2937.9h0M2082.6 2931.6h0M2084.2 2953.0h0M2083.7 2951.5h0M2085.3 2950.1h0M2085.5 2942.6h0M2088.1 2946.7h0M2088.5 2935.4h0M2089.5 2955.4h0M2089.9 2950.8h0M2091.4 2961.3h0M2092.3 2956.7h0M2091.3 2943.3h0M2094.1 2937.0h0M2094.5 2929.8h0M2095.1 2958.3h0M2097.0 2929.9h0M2097.6 2960.0h0M2098.1 2942.0h0M2099.2 2944.9h0M2101.7 2961.2h0M2102.1 2947.1h0M2102.2 2953.1h0M2104.8 2960.4h0M2105.5 2937.9h0M2104.0 2945.2h0M2107.3 2949.6h0M2107.5 2924.6h0M2109.1 2958.1h0M2109.9 2962.4h0M2111.9 2961.4h0M2110.3 2958.9h0M2110.6 2925.3h0M2113.8 2947.8h0M2112.2 2957.0h0M2112.9 2942.7h0M2114.5 2954.9h0M2115.8 2905.7h0M2117.1 2948.2h0M2117.9 2942.8h0M2119.2 2965.7h0M2120.8 2933.1h0M2122.4 2950.8h0M2125.3 2953.3h0M2123.7 2926.9h0M2127.3 2955.9h0M2125.7 2946.6h0M2126.9 2963.9h0M2127.9 2937.1h0M2128.1 2954.9h0M2129.1 2954.2h0M2131.5 2945.9h0M2130.0 2951.7h0M2132.1 2969.1h0M2132.2 2927.4h0M2133.0 2950.6h0M2134.2 2958.6h0M2134.7 2943.5h0M2133.9 2960.6h0M2135.0 2967.4h0M2136.2 2927.5h0M2137.8 2930.7h0M2139.6 2970.3h0M2139.7 2969.2h0M2139.8 2945.9h0M2142.2 2952.7h0M2142.1 2961.0h0M2142.6 2902.5h0M2144.6 2973.7h0M2144.7 2887.8h0M2145.6 2960.8h0M2146.7 2961.6h0M2147.8 2947.8h0M2148.8 2959.4h0M2150.4 2915.6h0M2148.7 2966.6h0M2149.3 2962.9h0M2151.3 2960.6h0M2153.2 2970.7h0M2153.8 2965.8h0M2153.5 2967.5h0M2155.0 2934.0h0M2155.8 2905.8h0M2156.0 2951.4h0M2156.8 2945.3h0M2157.8 2921.4h0M2158.3 2950.5h0M2158.7 2959.1h0M2160.1 2959.3h0M2162.1 2954.8h0M2161.4 2960.4h0M2164.0 2964.1h0M2164.0 2965.0h0M2163.2 2937.2h0M2166.0 2909.3h0M2164.8 2925.0h0M2164.5 2958.3h0M2167.2 2966.1h0M2167.1 2923.6h0M2167.0 2960.8h0M2169.1 2963.3h0M2168.9 2960.6h0M2171.0 2903.3h0M2172.0 2961.0h0M2170.6 2880.2h0M2172.6 2963.8h0M2172.7 2946.2h0M2174.9 2954.8h0M2174.6 2936.9h0M2176.0 2961.4h0M2176.3 2937.6h0M2178.9 2924.1h0M2179.4 2958.2h0M2178.1 2919.1h0M2180.5 2942.2h0M2180.5 2951.3h0M2181.4 2925.0h0M2182.3 2946.6h0M2182.2 2914.4h0M2185.0 2949.3h0M2185.3 2952.3h0M2186.3 2956.2h0M2186.9 2938.5h0M2187.8 2959.9h0M2189.1 2934.7h0M2189.7 2942.7h0M2189.8 2951.3h0M2192.0 2945.4h0M2194.8 2947.3h0M2192.9 2956.1h0M2193.5 2955.5h0M2196.3 2954.9h0M2195.6 2928.6h0M2195.1 2933.4h0M2197.4 2955.6h0M2197.0 2912.8h0M2200.7 2960.7h0M2199.1 2951.7h0M2202.8 2941.7h0M2202.2 2906.6h0M2201.5 2883.4h0M2204.0 2951.6h0M2204.5 2925.1h0M2205.2 2918.1h0M613.4 2782.0h0M612.3 2816.3h0M591.5 2847.8h0M599.5 2849.6h0M612.8 2848.6h0M620.8 2845.9h0M636.8 2846.4h0M587.5 2867.7h0M587.5 2873.1h0M636.8 2793.2h0M684.7 2713.3h0M770.5 2714.1h0M770.5 2745.8h0M767.0 2800.4h0M650.7 2798.0h0M664.0 2805.2h0M719.9 2820.6h0M708.5 2829.7h0M719.9 2830.5h0M652.0 2821.1h0M645.3 2827.8h0M652.0 2837.1h0M694.6 2863.8h0M715.9 2871.7h0M786.5 2870.4h0M1070.9 2747.4h0M1070.9 2794.5h0M1070.9 2819.3h0M1052.3 2827.3h0M1076.8 2845.1h0M1052.3 2855.0h0M1044.3 2864.6h0M1058.2 2877.1h0M1067.5 2886.4h0M1022.2 2777.2h0M1022.2 2785.2h0M1022.2 2790.5h0M1022.2 2814.5h0M1142.6 2702.6h0M1130.6 2798.0h0M1090.7 2813.1h0M1148.7 2824.3h0M1097.3 2846.4h0M1145.3 2834.5h0M1145.3 2841.1h0M1133.3 2849.9h0M1106.6 2861.9h0M1146.6 2867.7h0M1090.7 2904.5h0M1110.6 2901.0h0M1113.3 2909.0h0M1129.3 2889.1h0M1092.0 2925.8h0M1332.5 2776.4h0M1313.8 2809.2h0M1321.0 2819.8h0M1294.4 2839.2h0M1286.4 2850.4h0M1291.7 2857.1h0M1275.8 2825.1h0M1282.4 2873.1h0M1423.6 2753.2h0M1423.6 2766.5h0M1423.6 2777.2h0M1466.2 2731.4h0M1434.2 2829.7h0M1438.2 2842.4h0M1434.2 2850.4h0M1464.9 2829.7h0M1464.9 2851.8h0M1458.2 2866.4h0M1454.2 2877.1h0M1446.2 2886.4h0M1545.3 2737.2h0M1545.3 2750.6h0M1545.3 2761.2h0M1559.4 2750.6h0M1573.3 2788.6h0M1634.5 2805.7h0M1579.9 2817.1h0M1573.3 2823.8h0M1574.6 2831.8h0M1582.6 2841.1h0M1570.6 2853.9h0M1581.3 2865.1h0M1557.3 2830.5h0M1651.3 2834.5h0M1643.8 2852.3h0M1658.5 2857.1h0M1655.8 2877.9h0M1665.2 2877.9h0M1647.8 2893.1h0M1657.2 2887.7h0M1666.5 2915.7h0M1733.1 2910.4h0M1803.1 2789.7h0M1803.1 2805.7h0M1821.0 2830.5h0M1821.0 2846.4h0M1821.0 2862.4h0M1791.7 2853.1h0M1857.7 2701.8h0M1858.8 2751.9h0M1858.3 2765.2h0M1919.5 2834.5h0M1926.2 2833.1h0M1953.6 2796.6h0M1911.5 2873.1h0M1872.9 2885.1h0M2080.6 2707.1h0M2118.5 2790.0h0M2121.1 2819.8h0M2129.6 2827.0h0M2094.5 2849.6h0M2121.1 2851.8h0M2150.9 2851.2h0M2083.8 2874.4h0M2095.8 2883.7h0M2119.8 2881.1h0M2157.9 2879.2h0M2087.8 2891.7h0M2119.8 2897.0h0M2085.2 2902.4h0M2102.5 2907.2h0M2157.9 2899.7h0M2183.7 2891.7h0M2097.1 2915.7h0M2086.5 2919.7h0M2142.4 2919.7h0M2170.4 2919.7h0M2193.0 2922.3h0M2186.4 2925.0h0M2083.8 2931.7h0M2098.5 2931.7h0M2113.1 2931.7h0M2127.8 2931.7h0M2142.4 2934.3h0M2185.0 2939.7h0M770.5 2578.7h0M770.5 2650.1h0M805.4 2718.6V2779.9M1477.4 2735.9V2926.3" fill="none" stroke="#c58316" stroke-width="5.8" stroke-linecap="round"/>
<line x1="158.1" y1="2676.7" x2="2390.0" y2="2676.7" stroke="#a0529a" stroke-width="3.4"/>
<line x1="158.1" y1="2676.7" x2="2390.0" y2="2676.7" stroke="#6a3f9a" stroke-width="3.4" stroke-dasharray="11 8" opacity="0.3"/>
<circle cx="806.5" cy="2715.9" r="2.9" fill="#c58316"/>
<circle cx="770.5" cy="2674.6" r="2.9" fill="#c58316"/>
<circle cx="1015.5" cy="2819.8" r="2.9" fill="#1f2f60"/>
<circle cx="1015.5" cy="2829.1" r="2.9" fill="#1f2f60"/>
<circle cx="1016.9" cy="2837.1" r="2.9" fill="#1f2f60"/>
<circle cx="1155.9" cy="2834.5" r="2.9" fill="#c58316"/>
<circle cx="1345.0" cy="2798.5" r="2.9" fill="#c58316"/>
<circle cx="1345.0" cy="2824.6" r="2.9" fill="#c58316"/>
<circle cx="1476.9" cy="2714.1" r="2.9" fill="#c58316"/>
<circle cx="1539.2" cy="2786.5" r="2.9" fill="#1f2f60"/>
<circle cx="1538.6" cy="2843.8" r="2.9" fill="#1f2f60"/>
<circle cx="1538.6" cy="2870.4" r="2.9" fill="#1f2f60"/>
<circle cx="1590.6" cy="2851.8" r="2.9" fill="#c58316"/>
<circle cx="1675.8" cy="2825.7" r="2.9" fill="#c58316"/>
<circle cx="1673.9" cy="2843.2" r="2.9" fill="#c58316"/>
<circle cx="1751.2" cy="2784.6" r="2.9" fill="#c58316"/>
<circle cx="1753.1" cy="2805.2" r="2.9" fill="#c58316"/>
<circle cx="1750.4" cy="2859.8" r="2.9" fill="#c58316"/>
<circle cx="1750.4" cy="2867.7" r="2.9" fill="#c58316"/>
<circle cx="1903.5" cy="2833.1" r="2.9" fill="#1f2f60"/>
<circle cx="2064.6" cy="2666.7" r="2.9" fill="#c58316"/>
<circle cx="2064.6" cy="2676.5" r="2.9" fill="#c58316"/>
<circle cx="1993.3" cy="2685.8" r="2.9" fill="#c58316"/>
<circle cx="2036.4" cy="2683.4" r="2.9" fill="#c58316"/>
<circle cx="1993.3" cy="2710.1" r="2.9" fill="#c58316"/>
<circle cx="1993.3" cy="2719.9" r="2.9" fill="#c58316"/>
<circle cx="1993.3" cy="2737.2" r="2.9" fill="#c58316"/>
<circle cx="1993.3" cy="2761.2" r="2.9" fill="#c58316"/>
<circle cx="2036.4" cy="2715.9" r="2.9" fill="#c58316"/>
<circle cx="2036.4" cy="2723.9" r="2.9" fill="#c58316"/>
<circle cx="2057.2" cy="2765.2" r="2.9" fill="#c58316"/>
<circle cx="1953.3" cy="2796.4" r="2.9" fill="#c58316"/>
<circle cx="1964.5" cy="2802.5" r="2.9" fill="#c58316"/>
<circle cx="1964.5" cy="2817.1" r="2.9" fill="#c58316"/>
<circle cx="2062.5" cy="2806.5" r="2.9" fill="#c58316"/>
<circle cx="2010.6" cy="2889.1" r="2.9" fill="#c58316"/>
<circle cx="2010.6" cy="2899.7" r="2.9" fill="#c58316"/>
<circle cx="2053.2" cy="2696.5" r="2.9" fill="#1f2f60"/>
<circle cx="2044.4" cy="2702.6" r="2.9" fill="#1f2f60"/>
<circle cx="2053.2" cy="2726.6" r="2.9" fill="#1f2f60"/>
<circle cx="2053.2" cy="2733.2" r="2.9" fill="#1f2f60"/>
<circle cx="2053.2" cy="2750.0" r="2.9" fill="#1f2f60"/>
<circle cx="1979.4" cy="2770.5" r="2.9" fill="#1f2f60"/>
<circle cx="1979.4" cy="2779.9" r="2.9" fill="#1f2f60"/>
<circle cx="1942.7" cy="2783.8" r="2.9" fill="#1f2f60"/>
<circle cx="1942.7" cy="2818.5" r="2.9" fill="#1f2f60"/>
<circle cx="2021.2" cy="2821.1" r="2.9" fill="#1f2f60"/>
<circle cx="2019.9" cy="2833.1" r="2.9" fill="#1f2f60"/>
<circle cx="1946.7" cy="2879.7" r="2.9" fill="#1f2f60"/>
<circle cx="1995.9" cy="2823.8" r="2.9" fill="#1f2f60"/>
<circle cx="1995.9" cy="2867.7" r="2.9" fill="#1f2f60"/>
<circle cx="2069.2" cy="2842.4" r="2.9" fill="#1f2f60"/>
<text transform="translate(115.7 3131.5) scale(1.2 1)" text-anchor="middle" class="t">0</text>
<text transform="translate(115.7 2983.0) scale(1.2 1)" text-anchor="middle" class="t">2</text>
<text transform="translate(115.7 2834.5) scale(1.2 1)" text-anchor="middle" class="t">4</text>
<text transform="translate(115.7 2686.1) scale(1.2 1)" text-anchor="middle" class="t">6</text>
<text transform="translate(115.7 2537.6) scale(1.2 1)" text-anchor="middle" class="t">8</text>
<path d="M158.1 2527.0V3123.3" fill="none" stroke="#999" stroke-width="4"/>
<path d="M140.6 3122.1H158.1M140.6 2973.6H158.1M140.6 2825.1H158.1M140.6 2676.7H158.1M140.6 2528.2H158.1" fill="none" stroke="#777" stroke-width="2.9"/>
<path d="M392.3 3122.1v16M710.8 3122.1v16M913.8 3122.1v16M1094.3 3122.1v16M1211.6 3122.1v16M1315.9 3122.1v16M1371.8 3122.1v16M1440.8 3122.1v16M1513.8 3122.1v16M1561.8 3122.1v16M1611.9 3122.1v16M1650.4 3122.1v16M1697.6 3122.1v16M1734.3 3122.1v16M1771.7 3122.1v16M1815.3 3122.1v16M1844.0 3122.1v16M1873.4 3122.1v16M1898.1 3122.1v16M1920.2 3122.1v16M1939.9 3122.1v16M1959.2 3122.1v16M1973.8 3122.1v16M1988.6 3122.1v16M2001.9 3122.1v16M2013.2 3122.1v16M2024.4 3122.1v16M2035.3 3122.1v16M2105.4 3122.1v16M2274.7 3122.1v16" fill="none" stroke="#7a7a7a" stroke-width="2.8"/>
<path d="M2043.6 3122.1v16M2047.1 3122.1v16M2050.1 3122.1v16M2052.6 3122.1v16M2055.1 3122.1v16" fill="none" stroke="#777" stroke-width="2.2"/>
<path d="M2057.1 3122.1v16M2059.1 3122.1v16M2061.1 3122.1v16M2063.1 3122.1v16M2065.1 3122.1v16M2067.1 3122.1v16" fill="none" stroke="#444" stroke-width="2.2"/>
<path d="M2068.1 3122.1v16" fill="none" stroke="#111" stroke-width="3.4"/>
<text transform="translate(393.6 3178.4) scale(1.18 1)" text-anchor="middle" class="t">1</text>
<text transform="translate(712.3 3178.4) scale(1.18 1)" text-anchor="middle" class="t">2</text>
<text transform="translate(914.9 3178.4) scale(1.18 1)" text-anchor="middle" class="t">3</text>
<text transform="translate(1094.3 3178.4) scale(1.18 1)" text-anchor="middle" class="t">4</text>
<text transform="translate(1211.6 3178.4) scale(1.18 1)" text-anchor="middle" class="t">5</text>
<text transform="translate(1315.9 3178.4) scale(1.18 1)" text-anchor="middle" class="t">6</text>
<text transform="translate(1372.6 3178.4) scale(1.18 1)" text-anchor="middle" class="t">7</text>
<text transform="translate(1442.6 3178.4) scale(1.18 1)" text-anchor="middle" class="t">8</text>
<text transform="translate(1515.6 3178.4) scale(1.18 1)" text-anchor="middle" class="t">9</text>
<text transform="translate(1562.1 3178.4) scale(1.0 1)" text-anchor="middle" class="t">10</text>
<text transform="translate(1652.9 3178.4) scale(1.0 1)" text-anchor="middle" class="t">12</text>
<text transform="translate(1735.7 3178.4) scale(1.0 1)" text-anchor="middle" class="t">14</text>
<text transform="translate(1817.4 3178.4) scale(1.0 1)" text-anchor="middle" class="t">16</text>
<text transform="translate(1875.1 3178.4) scale(1.0 1)" text-anchor="middle" class="t">18</text>
<text transform="translate(1940.9 3178.4) scale(1.0 1)" text-anchor="middle" class="t">21</text>
<text transform="translate(2003.4 3178.4) scale(1.0 1)" text-anchor="middle" class="t">25</text>
<text transform="translate(2054.2 3178.4) scale(1.0 1)" text-anchor="middle" class="t">31</text>
<text transform="translate(2105.4 3178.4) scale(1.18 1)" text-anchor="middle" class="t">Z</text>
<text transform="translate(2276.8 3178.4) scale(1.0 1)" text-anchor="middle" class="t">Un</text>
<text transform="translate(37.1 2821.6) rotate(-90)" text-anchor="middle" class="yl">−log<tspan dy="5" font-size="19">10</tspan><tspan dy="-5">(</tspan><tspan font-style="italic">p</tspan>)</text>
<text transform="translate(56.1 2473.2) scale(1.1 1.06)" class="L">d</text>
<text x="1272" y="3244" text-anchor="middle" class="xl">Chromosome</text>
</svg>
</body></html>
